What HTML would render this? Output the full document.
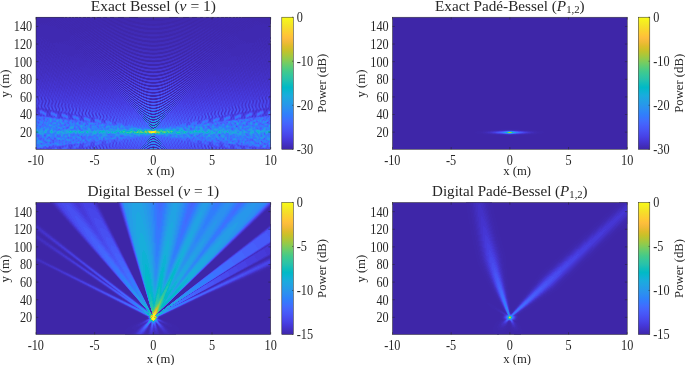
<!DOCTYPE html>
<html><head><meta charset="utf-8"><title>Bessel beam patterns</title>
<style>html,body{margin:0;padding:0;background:#fff}svg{display:block;will-change:transform}text{font-family:"Liberation Serif",serif;fill:#262626}</style>
</head><body>
<svg width="685" height="365" viewBox="0 0 685 365">
<defs><linearGradient id="cb" x1="0" y1="0" x2="0" y2="1"><stop offset="0.0000" stop-color="#f9fb15"/><stop offset="0.0312" stop-color="#f6ef20"/><stop offset="0.0625" stop-color="#f5e327"/><stop offset="0.0938" stop-color="#f9d62d"/><stop offset="0.1250" stop-color="#feca33"/><stop offset="0.1562" stop-color="#febe3c"/><stop offset="0.1875" stop-color="#f1ba37"/><stop offset="0.2188" stop-color="#debc2a"/><stop offset="0.2500" stop-color="#c8c129"/><stop offset="0.2812" stop-color="#afc637"/><stop offset="0.3125" stop-color="#94ca4a"/><stop offset="0.3438" stop-color="#77cc60"/><stop offset="0.3750" stop-color="#5ccc76"/><stop offset="0.4062" stop-color="#44ca8a"/><stop offset="0.4375" stop-color="#34c79c"/><stop offset="0.4688" stop-color="#28c2ab"/><stop offset="0.5000" stop-color="#12beb9"/><stop offset="0.5312" stop-color="#01b9c6"/><stop offset="0.5625" stop-color="#0cb3d3"/><stop offset="0.5938" stop-color="#1aacdd"/><stop offset="0.6250" stop-color="#21a3e3"/><stop offset="0.6562" stop-color="#269ae9"/><stop offset="0.6875" stop-color="#2c90f0"/><stop offset="0.7188" stop-color="#2e85f8"/><stop offset="0.7500" stop-color="#347afd"/><stop offset="0.7812" stop-color="#3f6efe"/><stop offset="0.8125" stop-color="#4562fc"/><stop offset="0.8438" stop-color="#4757f7"/><stop offset="0.8750" stop-color="#484cef"/><stop offset="0.9062" stop-color="#4741e5"/><stop offset="0.9375" stop-color="#4536d5"/><stop offset="0.9688" stop-color="#422ebf"/><stop offset="1.0000" stop-color="#3e26a8"/></linearGradient></defs>
<rect width="685" height="365" fill="#fff"/>
<clipPath id="c0"><rect x="0.00" y="0.20" width="234.70" height="132.10"/></clipPath>
<g transform="translate(36 17)" clip-path="url(#c0)">
<rect width="236" height="133" fill="#3f29b1"/>
<g transform="translate(0 .5)" stroke-width="1" fill="none" shape-rendering="crispEdges">
<path stroke="#3e26a8" d="M0 0m113 40h9m-18 2h1m24 0h2m-24 1h4m13 0h3m-14 1h8m-19 1h1m28 0h2m-28 1h2m20 0h3m-32 1h1m9 0h7m5 0h6m10 0h1m-37 1h2m31 0h2m-40 1h1m7 0h2m25 0h2m-35 1h1m8 0h4m15 0h4m8 0h1m-39 1h2m9 0h15m9 0h2m-42 1h1m6 0h3m27 0h2m6 0h1m-44 1h2m6 0h3m21 0h3m6 0h1m-40 1h2m7 0h5m10 0h5m8 0h1m-42 1h1m5 0h3m9 0h10m10 0h2m6 0h1m-45 1h1m6 0h3m23 0h3m5 0h2m4 0h1m-52 1h1m5 0h1m7 0h3m16 0h4m6 0h2m4 0h1m-48 1h1m5 0h2m7 0h16m8 0h2m5 0h1m-50 1h1m4 0h1m5 0h2m26 0h3m5 0h1m4 0h1m-52 1h1m4 0h2m6 0h3m19 0h3m6 0h1m4 0h1m-48 1h1m4 0h2m7 0h5m9 0h5m6 0h2m4 0h2m3 0h1m-54 1h1m4 0h1m5 0h2m8 0h11m8 0h2m5 0h1m-46 1h1m3 0h2m5 0h3m21 0h3m5 0h1m4 0h1m3 0h1m-56 1h1m3 0h1m4 0h2m6 0h3m14 0h4m6 0h1m4 0h1m-48 1h1m3 0h1m4 0h2m7 0h15m6 0h2m4 0h2m3 0h1m-50 1h1m4 0h1m4 0h3m23 0h2m5 0h1m4 0h1m-51 1h1m3 0h1m3 0h2m5 0h3m17 0h3m5 0h1m4 0h1m3 0h1m-52 1h1m3 0h1m4 0h2m6 0h5m7 0h5m6 0h1m4 0h1m-44 1h1m3 0h1m4 0h2m9 0h7m8 0h2m4 0h2m3 0h1m-46 1h1m4 0h1m5 0h2m19 0h2m5 0h1m3 0h1m3 0h1m-50 1h1m3 0h1m3 0h2m5 0h4m11 0h3m6 0h1m4 0h1m3 0h1m-48 1h1m3 0h2m3 0h2m7 0h11m6 0h2m4 0h1m3 0h1m-44 1h1m3 0h1m4 0h3m19 0h2m4 0h2m3 0h1m-45 1h1m2 0h1m4 0h1m5 0h3m13 0h3m5 0h1m3 0h1m3 0h1m-46 1h1m3 0h1m3 0h2m6 0h13m5 0h2m4 0h1m-36 1h2m3 0h3m19 0h2m4 0h1m3 0h1m-40 1h1m3 0h1m5 0h2m14 0h3m4 0h2m3 0h1m2 0h1m-44 1h1m3 0h1m3 0h1m6 0h5m3 0h5m5 0h2m3 0h1m3 0h1m-42 1h1m3 0h1m4 0h2m8 0h3m8 0h2m4 0h1m2 0h1m-38 1h1m3 0h1m4 0h2m14 0h3m4 0h1m3 0h1m2 0h1m-42 1h1m2 0h1m3 0h2m4 0h4m6 0h4m5 0h1m3 0h1m3 0h1m-40 1h1m3 0h1m3 0h2m7 0h5m7 0h2m3 0h1m-33 1h1m2 0h1m4 0h2m14 0h3m3 0h1m3 0h1m-37 1h1m2 0h1m3 0h1m5 0h3m7 0h3m4 0h2m3 0h1m-31 1h1m3 0h1m6 0h7m6 0h1m3 0h1m-31 1h1m2 0h1m4 0h1m14 0h2m4 0h1m2 0h1m-32 1h1m3 0h1m4 0h3m7 0h3m4 0h1m3 0h1m-30 1h1m3 0h2m5 0h7m5 0h1m3 0h1m-29 1h1m2 0h1m3 0h2m13 0h2m3 0h1m2 0h1m-30 1h1m2 0h2m3 0h3m7 0h3m3 0h1m-20 1h1m5 0h6m5 0h2m2 0h1m2 0h1m-30 1h1m2 0h1m3 0h1m12 0h2m3 0h1m2 0h1m-28 1h1m2 0h1m4 0h2m7 0h2m3 0h1m-18 1h1m5 0h5m5 0h1m2 0h1m-22 1h1m2 0h2m11 0h1m3 0h1m-20 1h1m3 0h3m5 0h2m3 0h1m-16 1h1m4 0h4m5 0h1m2 0h1m-20 1h1m2 0h2m9 0h1m3 0h1m-18 1h1m3 0h2m4 0h3m-14 1h1m2 0h1m4 0h3m4 0h1m2 0h1m-18 1h1m2 0h1m8 0h2m-13 1h1m3 0h3m1 0h3m2 0h1m-12 1h1m9 0h1m-10 1h1m6 0h2m-7 1h5m2 0h1m-10 1h1m7 0h1m-8 1h1m4 0h2m-5 1h3m-5 1h1m5 0h1"/>
<path stroke="#3e27aa" d="M0 0m62 0h2m4 0h2m5 0h2m6 0h4m7 0h6m34 0h7m7 0h4m5 0h3m5 0h2m4 0h1m-108 1h1m5 0h2m5 0h2m6 0h4m9 0h7m24 0h8m9 0h3m6 0h3m5 0h2m4 0h2m-105 1h1m5 0h2m5 0h3m6 0h4m10 0h31m10 0h4m6 0h3m5 0h2m5 0h1m-102 1h2m4 0h3m5 0h3m7 0h4m13 0h19m13 0h4m7 0h3m5 0h2m5 0h2m-99 1h1m5 0h2m6 0h3m7 0h6m37 0h5m8 0h3m5 0h2m5 0h2m-95 1h1m5 0h2m6 0h4m8 0h6m28 0h7m8 0h3m6 0h3m5 0h1m-92 1h2m5 0h3m6 0h3m10 0h9m15 0h9m9 0h4m6 0h3m5 0h1m-94 1h1m5 0h2m5 0h3m6 0h4m11 0h24m11 0h4m7 0h3m5 0h2m-91 1h1m5 0h2m5 0h3m7 0h5m18 0h3m18 0h5m7 0h2m6 0h2m5 0h1m-94 1h2m5 0h2m5 0h3m8 0h6m31 0h6m7 0h3m6 0h2m5 0h1m-90 1h1m6 0h2m6 0h3m9 0h7m21 0h7m9 0h3m6 0h2m5 0h2m-87 1h1m6 0h2m6 0h4m10 0h27m10 0h3m7 0h2m5 0h2m-83 1h1m6 0h2m7 0h4m14 0h13m14 0h4m7 0h2m6 0h1m-80 1h2m6 0h2m8 0h5m33 0h5m7 0h3m6 0h1m-82 1h1m5 0h2m6 0h3m8 0h6m24 0h6m9 0h3m6 0h2m-79 1h1m5 0h2m6 0h4m9 0h11m7 0h10m10 0h3m6 0h3m5 0h1m-82 1h2m5 0h2m7 0h4m12 0h17m12 0h4m6 0h3m5 0h1m-78 1h2m5 0h3m7 0h4m34 0h5m7 0h2m6 0h2m-75 1h2m5 0h3m8 0h6m25 0h6m8 0h2m6 0h2m-71 1h2m6 0h3m9 0h8m13 0h8m9 0h3m6 0h2m-74 1h1m6 0h2m6 0h4m11 0h19m11 0h3m7 0h2m5 0h1m-76 1h1m6 0h2m7 0h4m35 0h4m7 0h2m5 0h2m-73 1h1m6 0h2m8 0h5m27 0h5m7 0h3m5 0h2m-69 1h1m6 0h3m9 0h7m15 0h7m9 0h2m6 0h2m-65 1h1m7 0h3m11 0h19m11 0h3m6 0h2m-68 1h1m6 0h2m6 0h4m35 0h3m7 0h2m6 0h1m-71 1h1m6 0h2m7 0h5m27 0h4m8 0h2m6 0h1m-67 1h1m6 0h3m8 0h6m16 0h7m8 0h3m6 0h1m-64 1h2m6 0h3m11 0h19m10 0h3m6 0h2m-66 1h1m5 0h2m7 0h4m33 0h4m6 0h2m6 0h1m-69 1h1m5 0h3m7 0h4m26 0h5m7 0h2m6 0h1m-65 1h1m6 0h2m8 0h7m15 0h6m8 0h3m6 0h1m-62 1h2m6 0h3m10 0h19m10 0h3m6 0h1m5 0h1m-70 1h1m5 0h2m7 0h3m33 0h3m6 0h2m5 0h1m-66 1h1m5 0h3m7 0h4m25 0h4m7 0h2m5 0h2m-63 1h1m6 0h2m8 0h6m14 0h7m8 0h2m5 0h2m-65 1h1m5 0h1m6 0h3m10 0h17m10 0h3m5 0h2m5 0h1m-67 1h1m4 0h2m7 0h3m31 0h3m6 0h2m5 0h1m-64 1h2m4 0h3m6 0h5m23 0h4m7 0h2m5 0h2m-61 1h1m6 0h2m8 0h6m12 0h7m8 0h2m5 0h2m4 0h1m-68 1h1m5 0h1m6 0h3m10 0h3m9 0h3m10 0h3m5 0h2m4 0h1m-64 1h1m5 0h2m6 0h3m29 0h3m6 0h2m5 0h1m-62 1h2m5 0h2m7 0h1m1 0h2m21 0h1m2 0h1m7 0h2m5 0h1m4 0h1m-68 1h1m4 0h2m5 0h2m8 0h1m4 0h2m8 0h3m3 0h2m7 0h3m5 0h1m5 0h1m-65 1h1m4 0h2m5 0h3m10 0h2m8 0h2m11 0h3m5 0h2m4 0h1m-62 1h2m4 0h2m6 0h1m1 0h1m26 0h1m2 0h1m6 0h2m4 0h1m4 0h1m-68 1h1m4 0h1m5 0h2m7 0h1m2 0h1m18 0h1m3 0h1m7 0h2m4 0h2m4 0h1m-65 1h1m4 0h1m5 0h1m1 0h1m15 0h5m6 0h1m8 0h1m1 0h1m4 0h2m4 0h1m-62 1h1m4 0h2m5 0h1m14 0h7m11 0h1m7 0h2m4 0h2m3 0h1m-68 1h1m4 0h1m4 0h1m7 0h1m2 0h1m23 0h1m2 0h1m5 0h2m5 0h1m-60 1h1m3 0h2m4 0h1m1 0h1m6 0h1m18 0h1m11 0h1m6 0h1m4 0h1m-66 1h1m3 0h1m4 0h2m15 0h1m31 0h2m3 0h2m3 0h1m-68 1h1m4 0h1m5 0h1m37 0h1m6 0h1m4 0h1m3 0h1m-64 1h1m3 0h2m15 0h1m19 0h1m10 0h1m4 0h1m4 0h1m-62 1h1m4 0h2m18 0h1m8 0h1m5 0h1m6 0h1m1 0h1m4 0h2m3 0h1m-62 1h1m3 0h1m32 0h1m11 0h1m4 0h1m5 0h1m3 0h1m-64 1h1m3 0h2m55 0h1m-64 1h1m3 0h1m4 0h1m5 0h1m5 0h1m3 0h1m32 0h1m3 0h1m3 0h1m-66 1h1m3 0h1m35 0h1m13 0h1m4 0h2m-59 1h1m7 0h1m8 0h1m32 0h1m9 0h1m-60 1h1m4 0h1m10 0h1m30 0h1m10 0h1m2 0h1m-64 1h1m3 0h1m16 0h1m40 0h1m-65 1h1m2 0h1m13 0h1m35 0h1m4 0h2m2 0h1m-62 1h1m3 0h1m5 1h1m10 0h1m3 0h1m24 0h1m4 0h1m3 0h1m2 0h1m-60 1h1m44 0h1m12 0h1m2 0h1m-64 1h1m2 0h1m7 0h1m42 0h1m3 0h1m1 1h1m-58 1h1m7 0h1m16 0h1m5 0h1m12 0h1m4 0h1m2 0h2m2 0h1m-59 1h1m2 0h1m14 0h1m7 0h1m17 0h1m-33 1h1m5 0h1m20 0h1m12 0h1m-18 1h1m3 0h1m17 0h1m-54 1h1m39 0h1m4 0h1m6 0h1m-52 1h1m48 0h1m-11 1h1m11 0h1m-52 1h1m46 0h1m2 0h1m-50 1h1m3 0h1m-3 1h1m7 0h1m6 0h1m31 0h1m-50 1h1m5 0h1m16 0h3m13 1h1m-19 2h1m-1 1h1m20 0h1m-39 1h1m6 0h1m32 0h1m-28 1h1m25 0h1m-38 1h1m26 0h1m7 0h1m-37 1h1m9 0h1m1 0h1m-12 1h1m27 1h1m5 0h1m-3 2h1m-28 1h1m15 0h1m-1 2h1m-18 1h1m0 1h1m14 2h1m-5 2h1m8 0h1m2 0h1m-7 9h1m-7 2h1m2 0h2m-5 17h1m-2 3h1"/>
<path stroke="#3f28ad" d="M0 0m0 0h28m1 0h2m2 0h2m1 0h2m1 0h3m1 0h2m2 0h3m1 0h3m2 0h3m2 0h1m2 0h1m2 0h1m2 0h1m3 0h1m2 0h1m4 0h1m4 0h1m5 0h1m6 0h2m31 0h1m7 0h1m5 0h1m4 0h1m3 0h1m3 0h1m3 0h1m5 0h1m1 0h1m3 0h2m3 0h2m2 0h3m1 0h3m1 0h2m2 0h2m1 0h2m1 0h2m1 0h30m-236 1h24m1 0h2m1 0h2m1 0h2m1 0h2m1 0h2m2 0h2m2 0h2m2 0h2m2 0h3m2 0h3m2 0h1m1 0h1m3 0h1m2 0h1m3 0h1m2 0h1m4 0h1m4 0h1m6 0h2m7 0h3m19 0h2m8 0h1m7 0h1m3 0h1m4 0h1m3 0h1m3 0h1m2 0h1m5 0h1m2 0h3m2 0h3m2 0h2m2 0h2m2 0h2m1 0h3m1 0h2m1 0h2m1 0h2m1 0h2m1 0h25m-236 1h20m1 0h1m1 0h2m1 0h2m1 0h2m1 0h2m1 0h2m1 0h2m2 0h2m2 0h2m2 0h2m2 0h3m2 0h3m3 0h1m1 0h1m3 0h1m6 0h1m8 0h1m4 0h1m7 0h2m31 0h1m8 0h1m4 0h1m4 0h1m3 0h1m3 0h1m2 0h1m3 0h1m1 0h1m3 0h2m3 0h2m2 0h3m2 0h2m2 0h2m1 0h2m2 0h2m1 0h2m1 0h2m1 0h2m1 0h1m1 0h2m1 0h21m-236 1h16m1 0h4m1 0h1m2 0h1m1 0h2m1 0h2m1 0h2m1 0h2m2 0h2m1 0h2m2 0h2m2 0h3m2 0h2m3 0h3m2 0h1m2 0h1m10 0h1m3 0h1m5 0h1m4 0h1m10 0h2m19 0h2m9 0h2m4 0h1m5 0h1m3 0h1m3 0h1m2 0h1m3 0h1m5 0h3m2 0h3m2 0h2m2 0h2m2 0h2m2 0h2m1 0h2m2 0h1m2 0h2m1 0h1m2 0h1m1 0h2m1 0h1m1 0h20m-236 1h15m1 0h1m1 0h2m1 0h1m1 0h2m1 0h1m2 0h1m1 0h2m1 0h2m2 0h2m1 0h2m2 0h2m2 0h2m2 0h2m2 0h3m2 0h3m3 0h1m1 0h1m3 0h1m2 0h1m4 0h1m3 0h1m5 0h1m6 0h1m35 0h1m5 0h1m6 0h1m7 0h1m2 0h1m3 0h1m2 0h1m2 0h3m3 0h2m3 0h2m2 0h2m2 0h2m2 0h2m1 0h2m2 0h1m2 0h1m2 0h1m1 0h2m1 0h2m1 0h1m1 0h4m1 0h1m1 0h14m-236 1h12m1 0h1m1 0h1m1 0h1m1 0h2m1 0h1m1 0h2m1 0h1m2 0h1m2 0h1m2 0h1m2 0h2m1 0h2m2 0h2m2 0h2m2 0h3m2 0h2m3 0h3m3 0h1m1 0h1m3 0h1m2 0h1m4 0h1m4 0h1m6 0h1m6 0h2m25 0h1m7 0h1m6 0h1m3 0h1m4 0h1m7 0h1m1 0h1m3 0h3m2 0h3m2 0h2m3 0h2m2 0h2m1 0h2m2 0h2m1 0h2m1 0h2m1 0h2m1 0h2m1 0h1m2 0h1m1 0h1m1 0h2m1 0h1m1 0h1m1 0h1m1 0h11m-236 1h5m1 0h1m1 0h1m1 0h1m1 0h1m1 0h1m1 0h1m1 0h1m2 0h1m1 0h1m2 0h1m1 0h2m1 0h1m2 0h1m2 0h2m1 0h2m2 0h2m1 0h2m2 0h3m2 0h2m2 0h3m3 0h2m3 0h1m2 0h1m3 0h1m8 0h1m3 0h1m7 0h2m9 0h3m8 0h4m9 0h1m7 0h1m4 0h1m4 0h1m7 0h1m1 0h1m3 0h3m3 0h2m3 0h2m2 0h2m2 0h2m2 0h2m2 0h1m2 0h2m1 0h2m1 0h2m1 0h1m2 0h1m1 0h2m1 0h1m1 0h1m1 0h2m1 0h1m1 0h1m1 0h1m1 0h1m1 0h8m-231 1h1m1 0h1m1 0h1m1 0h1m1 0h1m1 0h1m1 0h1m1 0h2m1 0h1m1 0h2m1 0h1m1 0h2m1 0h2m1 0h2m1 0h2m2 0h1m2 0h2m2 0h2m2 0h2m2 0h2m3 0h2m3 0h1m1 0h1m3 0h1m2 0h1m3 0h1m3 0h1m4 0h1m4 0h1m9 0h1m24 0h2m8 0h1m4 0h1m5 0h1m7 0h1m6 0h3m2 0h3m2 0h3m2 0h2m2 0h2m2 0h2m1 0h2m2 0h1m2 0h2m1 0h1m2 0h1m2 0h1m1 0h1m2 0h1m1 0h1m1 0h1m2 0h1m1 0h1m1 0h1m1 0h1m4 0h1m1 0h1m-221 1h1m1 0h1m1 0h1m1 0h1m2 0h1m1 0h1m1 0h2m1 0h1m2 0h1m1 0h2m1 0h2m2 0h1m2 0h2m1 0h2m2 0h2m2 0h2m3 0h2m2 0h3m3 0h1m1 0h1m3 0h1m2 0h1m3 0h1m3 0h1m5 0h1m5 0h1m12 0h5m3 0h5m12 0h1m5 0h1m5 0h1m2 0h1m4 0h1m2 0h1m3 0h1m1 0h1m3 0h2m3 0h2m2 0h3m2 0h2m2 0h1m2 0h2m2 0h1m2 0h1m2 0h1m2 0h1m1 0h2m1 0h1m2 0h1m1 0h1m1 0h1m1 0h1m-198 1h1m1 0h1m1 0h1m2 0h1m1 0h1m2 0h1m2 0h1m2 0h1m2 0h1m2 0h2m2 0h1m2 0h2m3 0h2m2 0h2m3 0h3m9 0h1m10 0h1m6 0h1m6 0h1m29 0h1m12 0h1m3 0h1m4 0h1m2 0h1m3 0h1m1 0h1m3 0h3m2 0h3m2 0h2m2 0h2m2 0h2m2 0h2m1 0h2m2 0h1m2 0h1m1 0h2m1 0h1m2 0h1m1 0h1m2 0h1m1 0h1m1 0h1m-196 1h1m1 0h1m1 0h1m2 0h1m1 0h2m1 0h1m2 0h1m2 0h1m2 0h2m1 0h2m2 0h2m2 0h2m2 0h2m3 0h2m3 0h2m3 0h1m1 0h1m4 0h1m2 0h1m4 0h1m3 0h1m7 0h1m7 0h2m17 0h2m7 0h1m7 0h1m3 0h1m4 0h1m2 0h1m3 0h1m6 0h2m3 0h2m3 0h2m2 0h2m2 0h2m2 0h1m2 0h2m1 0h2m1 0h2m1 0h2m1 0h1m2 0h1m1 0h1m2 0h1m1 0h1m1 0h1m-194 1h1m1 0h1m2 0h1m1 0h1m2 0h1m1 0h2m1 0h2m1 0h2m1 0h2m2 0h1m2 0h2m2 0h2m2 0h3m2 0h2m3 0h3m3 0h1m1 0h1m4 0h1m2 0h1m4 0h1m4 0h1m8 0h1m27 0h1m8 0h1m3 0h1m5 0h1m2 0h1m6 0h1m3 0h3m2 0h3m2 0h2m3 0h1m3 0h1m2 0h2m2 0h1m2 0h1m2 0h1m2 0h1m2 0h1m2 0h1m1 0h1m4 0h1m-185 1h1m1 0h1m2 0h1m2 0h1m1 0h2m1 0h2m2 0h1m2 0h2m2 0h1m3 0h2m2 0h2m3 0h2m3 0h2m4 0h1m1 0h1m4 0h1m2 0h1m5 0h1m4 0h1m11 0h2m13 0h2m11 0h1m4 0h1m5 0h1m2 0h1m4 0h1m1 0h1m3 0h3m3 0h2m3 0h2m2 0h2m2 0h2m2 0h2m2 0h1m2 0h1m2 0h1m2 0h1m2 0h1m1 0h1m2 0h1m1 0h1m26 0h1m-207 1h1m4 0h1m2 0h1m2 0h1m2 0h1m2 0h1m2 0h2m2 0h2m2 0h2m2 0h2m3 0h2m3 0h3m6 0h1m4 0h1m2 0h1m6 0h1m5 0h1m31 0h1m5 0h1m5 0h1m3 0h1m4 0h1m1 0h1m4 0h2m3 0h3m2 0h2m3 0h2m2 0h2m2 0h1m2 0h2m2 0h1m2 0h1m2 0h1m2 0h1m1 0h1m2 0h1m1 0h1m-207 1h1m28 0h1m2 0h1m1 0h1m2 0h1m2 0h1m2 0h1m2 0h2m2 0h1m2 0h2m2 0h2m3 0h2m3 0h2m3 0h1m1 0h1m3 0h1m2 0h1m4 0h1m3 0h1m6 0h1m6 0h2m21 0h1m6 0h1m7 0h1m8 0h1m6 0h3m3 0h2m3 0h2m2 0h2m3 0h1m2 0h2m2 0h1m2 0h2m2 0h1m1 0h2m1 0h1m2 0h1m31 0h1m-233 1h1m32 0h1m2 0h1m1 0h1m2 0h1m2 0h2m2 0h1m2 0h2m2 0h1m3 0h2m2 0h2m3 0h3m3 0h1m1 0h1m3 0h1m2 0h1m9 0h1m7 0h1m11 0h7m10 0h2m7 0h1m3 0h1m12 0h1m1 0h1m3 0h2m3 0h2m3 0h2m2 0h2m2 0h2m2 0h1m2 0h1m2 0h2m1 0h1m2 0h1m2 0h1m-166 1h1m2 0h1m2 0h1m1 0h2m2 0h1m2 0h1m2 0h2m2 0h2m2 0h2m3 0h2m3 0h2m10 0h1m2 0h1m5 0h1m4 0h1m9 0h2m17 0h1m10 0h1m17 0h1m1 0h1m3 0h3m3 0h2m3 0h1m3 0h2m2 0h1m2 0h2m2 0h1m2 0h1m2 0h1m2 0h1m4 0h1m-166 1h1m2 0h1m2 0h1m2 0h1m2 0h1m2 0h2m2 0h1m2 0h2m3 0h2m2 0h2m3 0h3m3 0h1m16 0h1m4 0h1m32 0h1m5 0h1m5 0h1m2 0h1m4 0h1m6 0h2m3 0h2m3 0h2m2 0h2m2 0h2m2 0h2m2 0h1m2 0h1m2 0h1m2 0h1m-156 1h1m2 0h1m2 0h1m2 0h1m2 0h2m2 0h2m2 0h2m2 0h2m3 0h2m3 0h3m3 0h1m10 0h1m6 0h1m6 0h1m23 0h1m6 0h1m6 0h1m2 0h1m4 0h1m6 0h3m3 0h2m3 0h2m2 0h2m2 0h2m2 0h1m2 0h2m2 0h1m2 0h1m4 0h1m-156 1h1m2 0h1m2 0h1m2 0h2m2 0h1m2 0h2m2 0h2m3 0h2m2 0h3m3 0h2m4 0h1m7 0h1m3 0h1m7 0h1m8 0h3m7 0h3m8 0h1m7 0h1m3 0h1m4 0h1m2 0h1m3 0h3m3 0h2m3 0h2m3 0h1m3 0h1m3 0h1m2 0h1m2 0h1m2 0h1m2 0h1m2 0h1m-156 1h1m2 0h1m1 0h1m2 0h2m2 0h1m2 0h1m3 0h1m3 0h1m3 0h2m3 0h2m5 0h1m4 0h1m2 0h1m9 0h1m9 0h1m19 0h1m9 0h1m3 0h1m5 0h1m2 0h1m3 0h1m1 0h1m3 0h3m3 0h2m2 0h2m2 0h2m2 0h2m2 0h1m2 0h1m2 0h1m2 0h1m-148 1h1m2 0h1m2 0h1m2 0h1m2 0h2m2 0h2m2 0h2m3 0h2m3 0h2m3 0h1m1 0h1m4 0h1m2 0h1m5 0h1m4 0h1m33 0h1m10 0h1m2 0h1m10 0h2m3 0h2m3 0h2m2 0h2m2 0h1m2 0h2m2 0h1m2 0h1m2 0h1m44 0h1m-191 1h1m2 0h1m2 0h1m2 0h1m3 0h1m2 0h2m3 0h1m3 0h2m3 0h3m3 0h1m1 0h1m4 0h1m2 0h1m6 0h1m5 0h1m25 0h1m22 0h1m3 0h3m3 0h2m2 0h2m3 0h1m3 0h1m2 0h1m3 0h1m2 0h1m2 0h1m-144 1h1m2 0h1m2 0h1m3 0h1m2 0h1m3 0h1m3 0h2m3 0h2m3 0h2m4 0h1m1 0h1m8 0h1m7 0h1m7 0h2m11 0h2m7 0h1m7 0h1m2 0h1m7 0h1m3 0h3m3 0h2m3 0h2m2 0h2m2 0h2m2 0h1m2 0h1m51 0h1m-180 1h1m2 0h1m2 0h2m2 0h2m2 0h2m3 0h2m4 0h2m4 0h1m1 0h1m5 0h1m3 0h1m8 0h2m19 0h1m9 0h1m3 0h1m7 0h1m4 0h2m3 0h3m2 0h2m3 0h1m3 0h1m3 0h1m2 0h1m2 0h1m2 0h1m-138 1h1m2 0h1m2 0h1m2 0h1m3 0h1m3 0h1m3 0h2m3 0h2m3 0h1m1 0h1m4 0h1m12 0h1m15 0h3m15 0h1m3 0h1m5 0h1m2 0h1m4 0h1m5 0h2m3 0h2m2 0h2m3 0h1m2 0h2m2 0h1m2 0h1m2 0h1m-136 1h1m2 0h1m2 0h1m2 0h2m2 0h2m2 0h2m2 0h2m3 0h3m3 0h1m1 0h1m4 0h1m2 0h1m11 0h1m25 0h1m4 0h1m6 0h1m2 0h1m4 0h1m1 0h1m3 0h2m3 0h2m3 0h2m2 0h2m2 0h1m2 0h2m2 0h1m-131 1h1m2 0h1m2 0h2m2 0h1m2 0h2m2 0h2m3 0h2m3 0h2m4 0h1m1 0h1m4 0h1m10 0h1m6 0h2m13 0h1m7 0h1m15 0h1m1 0h1m3 0h3m3 0h2m3 0h1m3 0h1m3 0h1m2 0h1m-118 1h1m2 0h1m3 0h1m3 0h2m2 0h2m4 0h2m6 0h1m8 0h1m9 0h1m19 0h1m12 0h1m7 0h1m4 0h2m3 0h2m3 0h2m2 0h2m2 0h2m2 0h1m2 0h1m2 0h1m-125 1h1m2 0h1m2 0h2m2 0h2m2 0h2m3 0h2m3 0h1m1 0h1m6 0h1m5 0h1m18 0h5m13 0h1m12 0h1m4 0h1m5 0h2m3 0h1m3 0h1m3 0h1m3 0h1m2 0h1m2 0h1m-126 1h1m2 0h1m2 0h1m3 0h1m3 0h1m3 0h2m3 0h2m3 0h1m1 0h1m13 0h1m4 0h1m36 0h1m2 0h1m4 0h1m1 0h1m3 0h2m3 0h2m3 0h1m3 0h1m2 0h1m3 0h1m-121 1h1m2 0h1m3 0h1m2 0h2m2 0h2m2 0h2m3 0h2m4 0h1m1 0h1m4 0h1m2 0h1m14 0h1m13 0h1m6 0h1m10 0h1m4 0h1m1 0h1m3 0h2m4 0h1m3 0h2m2 0h2m2 0h1m2 0h1m-114 1h1m2 0h1m3 0h1m2 0h2m3 0h2m3 0h2m6 0h1m8 0h1m8 0h1m19 0h1m8 0h1m8 0h1m1 0h1m5 0h1m3 0h2m3 0h1m3 0h1m3 0h1m2 0h1m2 0h1m-118 1h1m2 0h1m2 0h1m3 0h1m3 0h2m2 0h2m5 0h1m6 0h1m5 0h1m3 0h1m14 0h2m15 0h1m3 0h1m7 0h1m5 0h1m3 0h2m3 0h2m2 0h2m2 0h1m3 0h1m2 0h1m-116 1h1m2 0h1m3 0h1m2 0h2m2 0h2m3 0h2m3 0h1m1 0h1m13 0h1m4 0h1m23 0h1m4 0h1m8 0h1m10 0h2m3 0h1m3 0h1m3 0h1m2 0h1m3 0h1m-114 1h1m3 0h1m2 0h1m3 0h1m3 0h2m3 0h2m3 0h1m1 0h1m4 0h1m2 0h1m6 0h1m6 0h2m11 0h1m14 0h1m2 0h1m10 0h2m3 0h2m3 0h1m3 0h1m2 0h1m-104 1h1m2 0h2m2 0h2m2 0h2m3 0h1m5 0h1m1 0h1m17 0h1m17 0h1m8 0h1m10 0h1m3 0h1m5 0h1m3 0h2m2 0h1m3 0h1m2 0h1m-108 1h1m2 0h1m3 0h1m3 0h1m3 0h2m3 0h1m7 0h1m5 0h1m33 0h1m3 0h1m7 0h1m5 0h1m3 0h2m3 0h1m3 0h1m3 0h1m2 0h1m-106 1h1m2 0h2m2 0h1m3 0h2m2 0h2m46 0h1m4 0h1m8 0h1m9 0h2m3 0h2m2 0h2m2 0h1m-96 1h1m2 0h2m2 0h2m3 0h2m3 0h1m1 0h1m4 0h1m2 0h1m6 0h1m6 0h2m9 0h1m14 0h1m14 0h1m3 0h1m3 0h1m3 0h1m2 0h1m-100 1h1m2 0h1m3 0h1m3 0h2m4 0h1m3 0h1m1 0h1m17 0h1m15 0h1m8 0h1m15 0h1m3 0h2m2 0h2m2 0h2m2 0h1m2 0h1m-104 1h1m2 0h1m2 0h2m2 0h2m2 0h2m3 0h1m5 0h1m7 0h1m31 0h1m3 0h1m11 0h1m5 0h1m3 0h1m3 0h1m3 0h1m2 0h1m-102 1h1m2 0h1m3 0h1m3 0h1m3 0h2m9 0h1m8 0h1m24 0h1m4 0h1m5 0h1m6 0h1m1 0h1m4 0h1m3 0h1m3 0h1m2 0h1m-92 1h1m2 0h1m3 0h2m14 0h1m2 0h1m14 0h2m5 0h1m24 0h1m3 0h1m4 0h2m2 0h1m3 0h1m2 0h1m-96 1h1m2 0h1m3 0h1m3 0h1m3 0h1m37 0h1m9 0h1m19 0h1m3 0h1m3 0h1m2 0h1m-97 1h1m2 0h1m2 0h1m3 0h1m3 0h2m16 0h1m3 0h1m34 0h1m7 0h1m4 0h1m2 0h2m2 0h1m3 0h1m-95 1h1m2 0h1m3 0h1m2 0h2m9 0h1m6 0h1m5 0h1m4 0h1m28 0h1m11 0h1m4 0h1m3 0h1m2 0h1m-88 1h1m2 0h1m3 0h1m3 0h1m4 0h1m1 0h1m14 0h1m19 0h1m24 0h2m2 0h2m2 0h1m2 0h1m-92 1h1m2 0h1m2 0h2m2 0h2m4 0h1m5 0h1m7 0h1m10 0h1m7 0h1m20 0h1m12 0h1m3 0h1m2 0h1m-90 1h1m2 0h1m3 0h1m7 0h1m7 0h1m43 0h1m3 0h1m4 0h2m3 0h1m2 0h1m3 0h1m-88 1h1m3 0h1m2 0h2m2 0h1m24 0h1m18 0h1m8 0h1m5 0h1m7 0h1m3 0h1m2 0h1m-84 1h1m2 0h1m8 0h1m9 0h1m26 0h1m7 0h1m21 0h1m2 0h1m2 0h1m-88 1h1m2 0h1m2 0h2m3 0h1m44 0h1m13 0h1m5 0h1m2 0h1m3 0h1m2 0h1m-86 1h1m2 0h1m3 0h1m20 0h1m40 0h1m7 0h1m2 0h1m-76 1h1m2 0h1m4 0h1m24 0h1m33 0h1m2 0h2m2 0h1m2 0h1m-83 1h1m2 0h1m2 0h1m13 0h1m15 0h1m32 0h1m8 0h1m2 0h1m2 0h1m-84 1h1m2 0h1m2 0h2m11 0h1m1 0h1m4 0h1m45 0h1m2 0h1m3 0h1m-76 1h1m16 0h1m55 0h1m-75 1h1m2 0h1m7 0h1m4 0h1m3 0h1m48 0h2m2 0h1m2 0h1m-79 1h1m2 0h1m2 0h1m32 0h3m32 0h1m2 0h1m-74 1h1m2 0h2m51 0h1m4 0h1m2 0h1m-63 1h1m5 0h1m5 0h1m5 0h1m19 0h1m13 0h1m15 0h1m2 0h1m-74 1h1m13 0h1m15 0h1m35 0h1m2 0h1m2 0h1m-72 1h1m9 0h1m42 0h1m1 0h1m10 0h1m-62 1h1m45 0h1m9 0h1m6 0h1m2 0h1m-72 1h1m2 0h1m5 0h1m11 0h1m48 0h1m-70 1h1m47 0h1m3 0h1m12 0h1m-62 1h1m6 0h1m30 0h1m9 0h1m13 0h1m2 0h1m-70 1h1m2 0h1m44 0h1m16 0h1m-65 1h1m36 0h1m22 0h1m2 0h1m-60 1h1m2 0h2m40 0h1m11 0h1m2 0h1m-62 1h1m2 0h1m21 0h1m18 0h1m1 0h1m13 0h1m-60 1h1m57 0h1m-58 1h1m54 0h1m2 0h1m-60 1h1m2 0h1m6 0h1m2 0h1m21 0h1m13 0h1m8 0h1m-58 1h1m6 1h1m43 0h1m2 0h1m-52 1h1m12 1h1m4 0h1m30 0h1m-48 1h1m20 0h1m23 0h1m2 0h1m-50 1h1m2 0h1m5 0h1m38 0h1m-48 1h1m35 0h1m3 0h1m-42 1h1m44 0h1m-45 1h1m36 0h1m-30 2h1m3 0h1m30 0h1m-9 1h1m6 0h1m-32 1h1m-8 1h1m0 1h1m33 1h1m-2 3h1m-19 1h1m16 0h1m-6 2h1m1 0h1m-22 1h1m15 1h1m-11 3h1m-5 2h1m8 16h1m0 3h1m-4 2h3m-5 1h1m5 0h1m-9 1h1m3 1h4m-7 1h1m7 0h1m-11 1h1m3 1h1m3 0h2m-9 1h1m9 0h1m-13 1h1"/>
<path stroke="#402bb6" d="M0 0m87 7h1m9 0h5m31 0h5m9 0h1m-68 1h1m7 0h3m9 0h8m19 0h7m10 0h3m6 0h2m-81 1h2m5 0h3m6 0h4m11 0h25m11 0h3m7 0h2m6 0h1m-90 1h1m5 0h2m5 0h3m7 0h5m14 0h11m14 0h5m6 0h3m6 0h2m4 0h2m-104 1h1m4 0h2m3 0h2m5 0h2m5 0h4m7 0h6m31 0h6m7 0h3m6 0h2m4 0h2m4 0h2m3 0h1m-115 1h1m4 0h1m3 0h2m4 0h2m4 0h3m5 0h4m8 0h8m21 0h8m7 0h4m5 0h3m4 0h3m3 0h2m4 0h1m3 0h2m-122 1h1m3 0h2m3 0h2m3 0h2m4 0h2m4 0h3m6 0h4m9 0h29m8 0h5m5 0h3m5 0h2m4 0h2m3 0h2m3 0h1m3 0h1m3 0h1m-134 1h1m3 0h1m3 0h1m3 0h1m3 0h2m3 0h3m3 0h3m4 0h4m5 0h6m10 0h18m11 0h5m6 0h3m5 0h2m4 0h2m3 0h2m3 0h2m3 0h1m3 0h1m-138 1h1m2 0h1m2 0h2m2 0h1m3 0h1m3 0h2m3 0h2m3 0h2m4 0h3m4 0h4m6 0h6m32 0h7m6 0h3m5 0h3m3 0h3m3 0h2m3 0h2m2 0h2m2 0h2m2 0h1m3 0h1m2 0h1m-152 1h1m2 0h1m2 0h1m2 0h1m3 0h1m2 0h2m2 0h2m3 0h1m3 0h2m4 0h2m4 0h3m5 0h4m6 0h8m23 0h7m7 0h4m5 0h3m4 0h2m3 0h2m3 0h2m3 0h2m2 0h1m3 0h1m2 0h1m3 0h1m2 0h1m-153 1h1m2 0h1m2 0h1m2 0h2m2 0h1m3 0h1m3 0h1m3 0h2m3 0h2m3 0h3m4 0h3m5 0h4m8 0h31m7 0h5m5 0h3m4 0h2m4 0h2m3 0h2m2 0h2m3 0h1m2 0h2m2 0h1m2 0h1m2 0h1m2 0h1m2 0h1m-161 1h1m2 0h1m2 0h1m1 0h2m1 0h2m2 0h1m2 0h2m2 0h2m2 0h2m2 0h2m3 0h3m3 0h3m4 0h3m5 0h6m9 0h5m11 0h5m9 0h5m5 0h4m4 0h3m3 0h2m3 0h2m3 0h2m2 0h2m2 0h2m2 0h1m2 0h1m2 0h1m2 0h1m2 0h1m-161 1h1m1 0h1m2 0h1m2 0h1m2 0h1m2 0h1m2 0h1m2 0h2m2 0h2m2 0h2m3 0h2m3 0h2m4 0h3m4 0h4m5 0h2m2 0h2m33 0h1m3 0h2m5 0h4m4 0h3m3 0h3m3 0h2m2 0h2m3 0h1m3 0h1m2 0h2m2 0h1m2 0h1m2 0h1m2 0h1m1 0h1m2 0h1m-200 1h1m2 0h1m2 0h1m27 0h1m1 0h1m2 0h1m1 0h1m2 0h1m2 0h1m2 0h1m2 0h2m2 0h1m3 0h1m3 0h2m2 0h3m3 0h2m4 0h3m4 0h1m2 0h1m6 0h1m5 0h2m23 0h2m4 0h2m6 0h1m2 0h1m4 0h3m4 0h2m3 0h2m3 0h2m2 0h2m2 0h2m2 0h1m2 0h2m2 0h1m2 0h1m1 0h2m1 0h1m2 0h1m1 0h1m27 0h1m2 0h1m2 0h1m-235 1h1m3 0h1m30 0h1m1 0h1m2 0h1m1 0h2m1 0h1m2 0h1m2 0h2m1 0h2m2 0h2m2 0h2m2 0h2m3 0h2m3 0h1m1 0h1m3 0h1m2 0h1m4 0h1m3 0h1m7 0h1m8 0h3m7 0h3m8 0h1m7 0h1m3 0h1m4 0h1m6 0h1m1 0h1m2 0h3m2 0h3m2 0h2m2 0h2m2 0h1m2 0h2m1 0h2m1 0h2m1 0h1m2 0h1m1 0h1m2 0h1m1 0h1m21 0h1m2 0h1m3 0h1m2 0h2m-234 1h2m2 0h1m2 0h1m2 0h1m22 0h1m1 0h1m1 0h1m2 0h1m2 0h1m1 0h2m1 0h2m1 0h2m2 0h1m2 0h2m2 0h2m3 0h2m2 0h1m1 0h1m5 0h1m3 0h1m2 0h1m9 0h1m8 0h1m20 0h2m8 0h1m3 0h1m14 0h1m8 0h2m2 0h2m3 0h1m2 0h2m2 0h1m2 0h1m2 0h1m2 0h1m2 0h1m1 0h1m2 0h1m1 0h1m1 0h1m20 0h1m2 0h1m2 0h1m2 0h1m-231 1h1m2 0h2m2 0h1m23 0h1m1 0h1m1 0h1m2 0h1m1 0h1m2 0h1m2 0h1m2 0h1m2 0h1m2 0h2m2 0h2m3 0h1m2 0h1m6 0h1m5 0h1m3 0h1m8 0h1m4 0h1m13 0h7m12 0h1m5 0h1m4 0h1m13 0h1m1 0h1m2 0h1m1 0h1m2 0h2m2 0h2m2 0h2m1 0h2m2 0h1m2 0h1m2 0h1m1 0h2m1 0h1m1 0h2m1 0h1m1 0h1m1 0h1m1 0h1m15 0h1m2 0h1m3 0h1m2 0h2m2 0h1m-236 1h1m2 0h2m2 0h1m2 0h1m2 0h1m14 0h1m1 0h1m1 0h1m1 0h1m1 0h1m1 0h1m2 0h1m1 0h2m1 0h1m2 0h1m2 0h1m2 0h2m1 0h2m2 0h1m3 0h1m14 0h1m2 0h1m3 0h1m3 0h1m5 0h1m6 0h1m23 0h1m6 0h1m5 0h1m13 0h1m9 0h1m1 0h1m3 0h1m2 0h1m2 0h2m1 0h2m2 0h1m1 0h2m1 0h1m2 0h1m1 0h1m2 0h1m1 0h1m1 0h1m1 0h1m1 0h1m1 0h1m12 0h1m2 0h1m2 0h1m2 0h1m3 0h2m-235 1h1m2 0h1m2 0h1m1 0h2m1 0h1m7 0h1m2 0h1m1 0h1m1 0h1m1 0h1m1 0h1m1 0h1m1 0h1m1 0h1m1 0h2m1 0h1m1 0h2m1 0h2m1 0h1m2 0h2m1 0h2m5 0h1m5 0h1m4 0h1m2 0h1m5 0h1m2 0h1m14 0h1m9 0h2m9 0h2m15 0h1m11 0h1m5 0h1m2 0h1m1 0h1m6 0h1m3 0h1m6 0h2m1 0h2m1 0h2m1 0h1m2 0h1m1 0h1m1 0h2m1 0h1m1 0h1m1 0h1m1 0h1m1 0h1m1 0h1m2 0h1m6 0h1m1 0h2m1 0h2m1 0h1m1 0h2m2 0h1m-233 1h2m1 0h1m1 0h2m1 0h2m1 0h1m1 0h2m1 0h5m1 0h2m1 0h1m1 0h1m1 0h1m1 0h1m1 0h1m1 0h1m1 0h1m2 0h1m1 0h1m2 0h1m1 0h2m1 0h2m1 0h2m1 0h1m30 0h1m39 0h1m7 0h1m4 0h1m7 0h1m13 0h1m1 0h1m7 0h1m1 0h1m6 0h2m1 0h1m2 0h1m1 0h2m1 0h1m1 0h1m1 0h2m1 0h1m1 0h1m1 0h1m1 0h1m1 0h2m1 0h1m1 0h5m1 0h2m1 0h1m1 0h2m1 0h2m1 0h1m1 0h2m1 0h1m-235 1h1m1 0h2m1 0h3m2 0h2m1 0h2m1 0h13m1 0h1m1 0h1m1 0h1m1 0h1m1 0h2m1 0h1m1 0h2m1 0h1m4 0h1m2 0h1m4 0h1m1 0h1m7 0h1m1 0h1m10 0h1m17 0h1m10 0h3m5 0h2m11 0h1m13 0h1m11 0h1m6 0h1m1 0h1m1 0h1m15 0h2m1 0h1m2 0h1m1 0h1m1 0h1m1 0h2m1 0h1m1 0h15m1 0h2m1 0h2m1 0h3m2 0h2m1 0h3m-236 1h2m1 0h4m1 0h2m1 0h2m1 0h3m2 0h14m1 0h1m1 0h1m1 0h2m1 0h1m1 0h1m1 0h2m18 0h1m3 0h1m12 0h1m2 0h1m12 0h1m6 0h1m23 0h1m11 0h1m3 0h1m14 0h1m13 0h1m4 0h1m2 0h1m2 0h2m1 0h1m1 0h2m1 0h1m1 0h1m1 0h1m1 0h17m2 0h2m1 0h2m2 0h2m1 0h2m1 0h1m1 0h2m-235 1h4m1 0h2m2 0h2m2 0h2m1 0h2m1 0h20m1 0h1m1 0h1m1 0h1m5 0h1m2 0h1m2 0h1m4 0h1m11 0h1m4 0h1m8 0h1m3 0h1m19 0h2m9 0h1m27 0h1m18 0h1m1 0h1m4 0h1m5 0h1m6 0h2m1 0h1m1 0h1m1 0h1m1 0h1m1 0h16m1 0h2m1 0h2m1 0h3m1 0h3m1 0h4m-235 1h1m1 0h3m1 0h3m1 0h2m1 0h2m1 0h24m1 0h1m1 0h1m1 0h2m3 0h1m13 0h1m1 0h1m3 0h1m1 0h1m16 0h1m8 0h1m29 0h1m19 0h1m29 0h1m6 0h1m4 0h2m1 0h1m1 0h1m1 0h1m1 0h23m2 0h1m1 0h2m2 0h3m1 0h2m-236 1h6m1 0h1m2 0h7m1 0h2m1 0h18m1 0h1m1 0h1m3 0h1m7 0h1m2 0h1m18 0h1m35 0h2m7 0h2m9 0h1m5 0h1m46 0h1m3 0h2m1 0h1m1 0h1m1 0h18m1 0h2m1 0h2m1 0h3m1 0h1m1 0h1m1 0h2m1 0h4m-236 1h3m1 0h1m1 0h5m1 0h2m1 0h25m1 0h1m3 0h2m4 0h1m13 0h1m17 0h1m2 0h1m41 0h1m6 0h1m4 0h1m3 0h1m18 0h1m1 0h1m1 0h1m9 0h1m6 0h1m5 0h33m1 0h5m1 0h1m1 0h4m-236 1h2m1 0h3m1 0h1m1 0h1m1 0h31m3 0h2m4 0h1m3 0h1m2 0h1m29 0h1m13 0h1m9 0h2m7 0h1m10 0h1m9 0h1m6 0h1m7 0h1m13 0h1m8 0h1m3 0h1m5 0h34m1 0h1m1 0h1m1 0h7m-236 1h3m1 0h1m1 0h1m1 0h4m1 0h10m1 0h19m1 0h2m5 0h1m12 0h1m25 0h1m3 0h1m4 0h1m6 0h1m21 0h1m18 0h1m5 0h1m6 0h1m12 0h1m2 0h1m7 0h1m6 0h20m1 0h2m1 0h7m1 0h4m1 0h1m3 0h4m-236 1h2m1 0h1m1 0h12m2 0h1m1 0h2m1 0h23m12 0h1m2 0h1m6 0h1m1 0h1m41 0h1m7 0h1m48 0h1m8 0h1m4 0h1m5 0h1m1 0h22m2 0h1m1 0h2m1 0h4m1 0h4m1 0h1m2 0h2m-234 1h3m1 0h5m1 0h2m1 0h1m3 0h2m1 0h1m4 0h17m1 0h1m6 0h1m3 0h1m8 0h1m61 0h1m11 0h1m17 0h1m9 0h1m21 0h1m1 0h1m1 0h1m1 0h11m1 0h1m2 0h1m3 0h2m1 0h1m1 0h1m1 0h2m1 0h4m2 0h3m1 0h2m-236 1h2m1 0h1m3 0h1m1 0h2m1 0h3m3 0h1m2 0h1m1 0h2m1 0h2m1 0h10m1 0h1m1 0h1m1 0h1m1 0h1m13 0h1m7 0h1m17 0h1m27 0h2m3 0h2m10 0h1m9 0h1m20 0h1m20 0h2m1 0h1m1 0h1m1 0h1m1 0h1m1 0h15m1 0h2m1 0h2m1 0h2m2 0h2m2 0h2m1 0h1m1 0h1m3 0h3m-236 1h2m2 0h3m2 0h3m2 0h2m1 0h2m2 0h2m2 0h1m2 0h1m2 0h7m1 0h1m1 0h1m1 0h1m1 0h1m1 0h1m3 0h2m4 0h1m27 0h1m9 0h1m4 0h1m26 0h1m18 0h1m7 0h1m11 0h1m4 0h1m12 0h2m1 0h1m1 0h1m1 0h1m1 0h1m1 0h9m2 0h1m1 0h2m2 0h2m2 0h1m2 0h2m1 0h4m2 0h3m2 0h1m1 0h1m-235 1h2m2 0h2m2 0h1m1 0h2m2 0h1m3 0h2m1 0h2m1 0h2m1 0h2m1 0h2m2 0h1m1 0h1m2 0h1m1 0h1m1 0h1m1 0h1m1 0h1m1 0h1m6 0h1m3 0h1m2 0h1m4 0h1m44 0h2m3 0h2m23 0h1m2 0h1m2 0h1m6 0h1m3 0h1m1 0h1m4 0h1m5 0h1m8 0h1m2 0h1m1 0h1m1 0h1m1 0h2m1 0h1m1 0h1m2 0h1m1 0h2m1 0h2m1 0h2m1 0h2m1 0h2m2 0h2m2 0h2m1 0h1m2 0h1m3 0h2m-232 1h2m2 0h1m1 0h2m2 0h2m2 0h2m1 0h2m1 0h1m2 0h1m1 0h2m1 0h1m2 0h1m4 0h1m1 0h1m2 0h1m1 0h1m1 0h1m1 0h1m1 0h2m8 0h1m5 0h1m4 0h1m3 0h1m6 0h1m42 0h1m11 0h1m3 0h1m35 0h1m3 0h1m1 0h1m1 0h1m3 0h1m1 0h1m1 0h1m6 0h1m2 0h1m1 0h1m2 0h1m2 0h1m1 0h1m2 0h2m2 0h2m2 0h2m1 0h1m2 0h1m2 0h1m-235 1h1m2 0h1m4 0h3m2 0h2m2 0h1m4 0h1m2 0h1m4 0h1m2 0h1m12 0h1m1 0h1m1 0h1m2 0h1m3 0h2m81 0h1m8 0h1m4 0h1m7 0h1m10 0h1m9 0h1m1 0h1m1 0h1m1 0h1m1 0h1m9 0h1m2 0h1m4 0h1m2 0h1m2 0h1m1 0h1m2 0h2m2 0h1m1 0h1m4 0h1m2 0h1m-235 1h1m3 0h2m4 0h2m2 0h1m4 0h1m4 0h1m2 0h1m2 0h1m2 0h1m16 0h1m1 0h1m1 0h1m22 0h1m11 0h1m6 0h1m29 0h1m42 0h1m3 0h1m3 0h2m1 0h1m1 0h1m1 0h1m1 0h1m1 0h1m1 0h1m10 0h1m2 0h1m2 0h1m2 0h1m4 0h1m4 0h1m2 0h2m4 0h1m4 0h1m-233 1h1m2 0h1m5 0h1m3 0h1m5 0h1m2 0h1m2 0h1m3 0h1m2 0h2m13 0h1m1 0h1m1 0h1m1 0h1m1 0h1m4 0h1m3 0h1m4 0h1m57 0h1m9 0h1m26 0h1m2 0h1m9 0h1m1 0h1m1 0h1m1 0h1m1 0h1m11 0h1m2 0h2m2 0h1m3 0h1m2 0h1m4 0h2m3 0h1m5 0h1m2 0h1m2 0h1m-234 1h1m9 0h1m5 0h1m2 0h1m3 0h1m3 0h1m2 0h1m2 0h1m12 0h1m1 0h1m1 0h1m1 0h1m1 0h1m9 0h1m2 0h1m20 0h1m6 0h1m11 0h1m62 0h1m4 0h1m2 0h1m1 0h1m1 0h1m14 0h1m2 0h1m2 0h1m2 0h1m4 0h1m2 0h1m4 0h2m9 0h1m2 0h1m-227 1h1m3 0h1m9 0h1m2 0h1m2 0h1m6 0h1m14 0h1m1 0h1m1 0h1m1 0h1m37 0h1m33 0h1m32 0h1m13 0h1m4 0h1m26 0h1m2 0h1m9 0h1m3 0h1m-222 1h1m15 0h1m2 0h1m7 0h1m2 0h1m19 0h1m1 0h1m2 0h1m3 0h1m11 0h1m7 0h1m1 0h1m8 0h1m14 0h1m45 0h1m12 0h1m8 0h1m22 0h1m2 0h1m7 0h1m2 0h1m15 0h1m-220 1h1m5 0h1m2 0h1m4 0h1m2 0h1m29 0h1m8 0h1m5 0h1m4 0h1m3 0h1m23 0h1m27 0h1m9 0h1m2 0h1m23 0h2m1 0h1m1 0h1m1 0h1m27 0h1m2 0h1m7 0h1m5 0h1m-202 1h1m2 0h1m33 0h1m3 0h2m66 0h1m20 0h1m5 0h1m14 0h1m1 0h1m1 0h1m1 0h1m32 0h1m-194 1h1m2 0h1m12 0h1m2 0h1m19 0h1m1 0h1m1 0h1m38 0h1m4 0h1m53 0h1m6 0h1m3 0h1m2 0h1m1 0h1m1 0h1m20 0h1m15 0h1m-184 1h1m26 0h1m1 0h1m1 0h1m4 0h2m5 0h1m1 0h1m26 0h1m6 0h1m23 0h1m11 0h1m1 0h1m10 0h1m2 0h1m11 0h1m-166 1h1m26 0h1m2 0h1m19 0h1m1 0h1m2 0h1m6 0h1m2 0h1m6 0h1m25 0h1m58 0h1m3 0h1m22 0h1m2 0h1m15 0h1m-180 1h1m55 0h1m9 0h1m15 0h3m19 0h1m15 0h1m1 0h1m13 0h1m-106 1h1m13 0h1m5 0h1m9 0h1m35 0h1m10 0h1m8 0h1m4 0h1m5 0h1m4 0h1m1 0h1m1 0h1m-108 1h1m1 0h1m6 0h1m5 0h1m17 0h1m17 0h1m2 0h2m8 0h1m36 0h1m2 0h1m1 0h1m-106 1h1m1 0h1m20 0h1m1 0h1m76 0h1m1 0h1m-104 1h1m1 0h1m37 0h1m25 0h1m6 0h1m12 0h1m1 0h1m10 0h1m-99 1h1m6 0h2m34 0h1m26 0h1m26 0h1m-94 1h1m14 0h1m21 0h1m26 0h1m25 0h1m3 0h1m-96 1h1m30 0h1m12 0h1m5 0h1m18 0h1m22 0h1m1 0h1m-94 1h1m36 0h1m54 0h1m-92 1h1m1 0h1m45 0h1m41 0h1m-92 1h1m1 0h1m2 0h1m11 0h1m8 0h1m32 0h1m-4 1h1m23 0h1m7 0h1m-84 1h1m7 0h1m38 0h1m36 0h1m-7 1h1m2 0h1m1 0h1m-84 1h1m17 0h1m21 0h3m26 0h1m4 0h1m5 0h1m1 0h1m-82 1h1m1 0h1m8 0h1m16 0h1m48 0h1m-77 1h1m37 0h3m-20 1h1m49 0h1m4 0h1m-74 1h1m4 0h1m9 0h1m32 0h1m23 0h1m-72 1h1m69 0h1m-68 1h1m-2 1h1m41 0h1m-20 1h1m-3 1h1m25 0h1m2 0h1m14 0h1m-60 1h1m38 0h1m4 0h1m13 0h1m-62 1h1m19 0h1m27 0h1m11 0h1m-60 1h1m1 0h1m33 0h1m-36 1h1m8 0h1m6 0h1m9 2h1m24 0h1m-46 1h1m47 0h1m-52 1h1m0 1h1m1 0h1m18 0h1m-5 3h1m9 0h1m14 0h1m-39 2h1m0 1h1m1 0h1m19 0h1m-10 2h1m-1 1h1m2 0h1m15 0h1m-26 1h1m-4 1h1m0 1h1m18 0h1m-16 5h1m6 19h1m-3 4h1m2 0h1m6 0h1m-12 3h1m2 0h1m-7 2h1m1 1h1m6 0h1m3 1h1m1 1h1m3 0h1"/>
<path stroke="#412dbb" d="M0 0m112 18h11m-26 1h2m36 0h3m-49 1h2m8 0h5m27 0h4m9 0h2m-69 1h1m5 0h2m6 0h3m9 0h8m13 0h8m9 0h3m6 0h2m5 0h1m-85 1h1m4 0h2m5 0h2m6 0h4m10 0h20m11 0h3m6 0h3m4 0h2m4 0h2m-97 1h1m4 0h1m3 0h2m4 0h2m5 0h3m6 0h4m34 0h5m6 0h3m4 0h3m4 0h1m4 0h1m-102 1h1m3 0h1m3 0h2m3 0h2m4 0h2m5 0h3m7 0h6m25 0h6m7 0h3m4 0h3m4 0h2m3 0h2m3 0h1m3 0h1m-112 1h1m3 0h1m3 0h1m3 0h2m4 0h2m4 0h2m5 0h4m7 0h9m13 0h9m7 0h4m4 0h3m4 0h2m4 0h1m3 0h2m3 0h1m3 0h1m2 0h1m-120 1h1m2 0h2m2 0h2m2 0h2m3 0h2m3 0h3m3 0h3m5 0h5m8 0h22m9 0h4m5 0h3m4 0h3m3 0h2m3 0h1m3 0h2m2 0h1m3 0h1m2 0h1m-130 1h1m2 0h1m2 0h1m2 0h1m3 0h1m2 0h2m3 0h1m3 0h3m3 0h2m4 0h4m5 0h5m14 0h5m14 0h5m5 0h3m4 0h3m3 0h2m3 0h2m3 0h1m3 0h1m2 0h2m2 0h1m2 0h1m2 0h1m-137 1h1m2 0h1m2 0h1m2 0h1m2 0h2m2 0h1m3 0h1m3 0h2m3 0h2m4 0h2m4 0h4m6 0h2m2 0h2m25 0h2m2 0h2m6 0h3m4 0h3m3 0h3m3 0h2m2 0h2m2 0h2m2 0h1m2 0h2m2 0h1m2 0h1m-137 1h1m1 0h1m2 0h1m2 0h1m2 0h2m2 0h1m2 0h2m2 0h2m3 0h2m3 0h2m3 0h3m5 0h1m2 0h1m6 0h1m6 0h2m12 0h3m5 0h2m6 0h1m2 0h1m4 0h3m4 0h2m3 0h2m3 0h2m2 0h1m3 0h1m2 0h1m2 0h2m1 0h1m2 0h1m2 0h1m-140 1h1m2 0h1m1 0h2m1 0h2m1 0h2m2 0h1m3 0h1m3 0h1m3 0h2m3 0h1m1 0h1m3 0h1m7 0h1m11 0h2m19 0h1m8 0h1m3 0h1m4 0h1m6 0h3m2 0h3m2 0h2m2 0h2m2 0h2m2 0h1m2 0h1m2 0h1m2 0h1m2 0h1m1 0h1m34 0h1m-216 1h1m35 0h1m2 0h1m1 0h1m2 0h1m2 0h1m2 0h1m2 0h1m2 0h2m2 0h2m2 0h2m4 0h1m5 0h1m3 0h1m2 0h1m4 0h1m4 0h1m12 0h7m12 0h1m9 0h1m2 0h1m3 0h1m1 0h1m4 0h1m3 0h2m2 0h2m2 0h2m1 0h2m2 0h1m2 0h1m2 0h1m1 0h1m2 0h1m38 0h1m-222 1h1m37 0h1m4 0h1m1 0h1m2 0h1m2 0h1m2 0h1m2 0h2m2 0h1m2 0h2m2 0h1m1 0h1m2 0h1m1 0h1m9 0h1m2 0h1m5 0h1m5 0h1m23 0h1m18 0h1m5 0h1m1 0h1m2 0h1m4 0h1m3 0h1m2 0h2m1 0h2m2 0h1m1 0h2m1 0h1m2 0h1m1 0h1m40 0h1m-228 1h1m3 0h1m3 0h1m31 0h1m1 0h1m2 0h1m1 0h1m2 0h1m1 0h1m2 0h1m2 0h2m1 0h2m3 0h1m3 0h1m12 0h1m6 0h1m3 0h1m14 0h1m10 0h2m14 0h1m7 0h1m5 0h1m6 0h1m6 0h2m2 0h1m2 0h2m1 0h2m1 0h1m2 0h1m2 0h1m1 0h1m1 0h1m34 0h1m3 0h1m-226 1h1m3 0h1m4 0h1m10 0h1m19 0h1m2 0h1m1 0h1m1 0h1m2 0h1m1 0h2m1 0h2m1 0h2m13 0h1m1 0h1m2 0h1m5 0h1m39 0h1m7 0h1m8 0h1m17 0h1m3 0h1m1 0h1m3 0h1m2 0h1m2 0h1m2 0h1m1 0h1m2 0h1m1 0h1m1 0h1m20 0h1m2 0h1m7 0h1m4 0h1m2 0h2m-228 1h1m12 0h1m2 0h1m2 0h1m23 0h1m1 0h1m1 0h2m1 0h1m2 0h1m9 0h1m5 0h1m1 0h1m16 0h1m4 0h1m4 0h1m11 0h7m11 0h1m4 0h1m7 0h1m5 0h1m2 0h1m8 0h1m13 0h1m2 0h1m1 0h1m2 0h1m1 0h1m1 0h1m1 0h1m22 0h1m2 0h1m2 0h1m4 0h1m4 0h1m2 0h1m-234 1h2m3 0h1m5 0h1m2 0h1m2 0h2m2 0h1m2 0h2m18 0h1m1 0h1m1 0h1m1 0h1m2 0h1m1 0h1m23 0h1m7 0h1m18 0h1m21 0h1m5 0h1m8 0h1m28 0h1m2 0h1m2 0h2m1 0h1m1 0h2m1 0h1m1 0h1m1 0h1m1 0h1m1 0h1m11 0h1m2 0h1m2 0h2m2 0h1m3 0h1m2 0h1m4 0h2m3 0h1m-232 1h1m2 0h2m1 0h1m2 0h1m3 0h2m2 0h1m2 0h1m2 0h1m2 0h1m10 0h1m1 0h1m1 0h1m1 0h1m1 0h1m1 0h1m1 0h2m3 0h2m5 0h1m12 0h1m1 0h1m4 0h1m5 0h1m3 0h1m3 0h1m5 0h1m9 0h1m7 0h1m31 0h1m6 0h1m3 0h1m4 0h1m2 0h1m2 0h1m4 0h1m1 0h1m2 0h1m1 0h1m1 0h1m1 0h1m1 0h1m15 0h1m2 0h1m2 0h1m2 0h2m2 0h2m2 0h1m1 0h1m2 0h2m-231 1h2m3 0h2m3 0h2m5 0h2m2 0h2m1 0h2m1 0h2m7 0h1m1 0h1m1 0h1m1 0h1m1 0h1m1 0h1m1 0h1m2 0h1m6 0h1m5 0h1m21 0h1m2 0h1m15 0h1m26 0h1m14 0h1m28 0h2m3 0h1m2 0h1m1 0h1m1 0h1m1 0h1m1 0h1m9 0h2m1 0h1m2 0h2m2 0h2m1 0h2m2 0h1m4 0h2m3 0h2m1 0h1m-235 1h1m2 0h2m2 0h2m1 0h1m2 0h2m1 0h3m2 0h1m2 0h1m2 0h1m2 0h1m2 0h2m1 0h1m1 0h2m1 0h1m1 0h1m1 0h1m1 0h1m1 0h1m1 0h2m26 0h1m4 0h1m18 0h1m12 0h3m17 0h1m22 0h1m18 0h1m3 0h1m1 0h2m1 0h1m1 0h1m1 0h1m2 0h1m1 0h1m1 0h2m1 0h1m2 0h1m2 0h1m2 0h1m2 0h1m2 0h2m2 0h2m2 0h1m1 0h2m1 0h3m2 0h2m-236 1h2m2 0h2m1 0h1m2 0h2m2 0h2m2 0h1m2 0h1m1 0h2m1 0h1m2 0h1m1 0h2m1 0h4m1 0h1m1 0h2m1 0h1m1 0h1m1 0h1m1 0h1m6 0h1m16 0h1m32 0h1m57 0h1m4 0h1m12 0h1m1 0h1m1 0h3m1 0h1m1 0h1m1 0h6m1 0h2m1 0h1m1 0h2m1 0h2m1 0h1m1 0h2m2 0h2m2 0h2m2 0h1m1 0h2m1 0h2m1 0h1m-235 1h2m1 0h4m3 0h2m3 0h1m1 0h4m1 0h2m1 0h4m1 0h2m1 0h12m1 0h1m1 0h1m1 0h2m12 0h1m4 0h1m11 0h1m11 0h1m3 0h1m17 0h3m11 0h1m36 0h1m10 0h1m5 0h1m1 0h1m1 0h1m1 0h1m1 0h9m1 0h2m1 0h4m1 0h2m1 0h2m1 0h1m1 0h1m4 0h1m1 0h1m1 0h4m1 0h2m1 0h1m-235 1h3m2 0h4m3 0h1m1 0h4m1 0h4m1 0h2m2 0h1m1 0h2m1 0h16m1 0h1m6 0h1m3 0h1m10 0h1m5 0h1m21 0h1m6 0h1m41 0h1m34 0h1m1 0h1m1 0h1m1 0h10m1 0h2m1 0h2m1 0h2m1 0h4m1 0h4m1 0h1m3 0h4m1 0h4m1 0h1m-236 1h2m2 0h1m1 0h3m1 0h1m1 0h3m1 0h5m2 0h1m1 0h1m2 0h3m1 0h2m2 0h13m1 0h1m7 0h1m29 0h1m2 0h1m43 0h1m15 0h1m26 0h1m7 0h1m1 0h11m1 0h1m3 0h2m1 0h1m1 0h1m2 0h1m1 0h4m2 0h3m1 0h1m1 0h3m1 0h1m2 0h2m-235 1h2m1 0h9m1 0h1m1 0h3m1 0h2m1 0h3m1 0h1m1 0h1m2 0h1m2 0h1m1 0h12m1 0h1m8 0h1m15 0h1m7 0h1m4 0h1m5 0h1m31 0h1m30 0h1m21 0h1m6 0h14m1 0h2m1 0h1m2 0h1m2 0h4m2 0h1m1 0h3m4 0h8m1 0h2m-235 1h5m1 0h3m1 0h1m1 0h1m1 0h7m1 0h1m2 0h1m1 0h1m2 0h5m2 0h1m1 0h11m8 0h1m4 0h1m22 0h1m18 0h1m36 0h1m2 0h1m19 0h1m2 0h1m3 0h1m5 0h2m3 0h13m1 0h2m1 0h6m1 0h1m4 0h1m1 0h7m1 0h1m1 0h1m2 0h2m1 0h6m-236 1h2m1 0h1m2 0h2m1 0h9m1 0h1m4 0h1m1 0h3m1 0h1m2 0h1m2 0h2m1 0h12m1 0h1m14 0h1m56 0h1m15 0h1m5 0h1m10 0h1m21 0h17m1 0h2m2 0h1m2 0h1m1 0h3m1 0h1m4 0h1m1 0h4m1 0h4m1 0h2m2 0h1m1 0h3m-236 1h2m1 0h8m1 0h1m1 0h3m4 0h1m2 0h1m5 0h22m1 0h1m1 0h1m1 0h1m38 0h1m3 0h1m27 0h1m35 0h1m15 0h1m1 0h1m1 0h1m1 0h8m1 0h11m4 0h1m1 0h3m3 0h3m1 0h1m2 0h7m1 0h2m-235 1h3m2 0h2m1 0h1m2 0h2m1 0h1m1 0h4m1 0h1m4 0h3m1 0h2m1 0h2m1 0h1m1 0h2m1 0h7m1 0h1m1 0h1m1 0h1m1 0h1m1 0h1m13 0h1m14 0h1m24 0h1m11 0h1m32 0h1m10 0h1m13 0h1m1 0h1m1 0h9m1 0h4m1 0h2m1 0h2m1 0h4m3 0h1m1 0h3m2 0h1m1 0h2m1 0h2m1 0h2m1 0h5m-236 1h1m1 0h2m1 0h2m1 0h2m2 0h3m1 0h1m1 0h1m4 0h1m3 0h2m1 0h3m8 0h5m1 0h2m1 0h1m1 0h1m1 0h1m1 0h1m89 0h1m16 0h1m8 0h1m7 0h1m1 0h1m1 0h2m1 0h7m1 0h2m1 0h1m3 0h3m1 0h2m2 0h3m5 0h1m1 0h2m3 0h2m1 0h2m1 0h2m1 0h2m-236 1h1m1 0h2m4 0h3m2 0h1m2 0h1m2 0h2m2 0h2m2 0h1m1 0h1m3 0h1m1 0h2m2 0h2m2 0h1m2 0h1m1 0h1m2 0h1m1 0h1m1 0h1m1 0h1m6 0h1m7 0h1m19 0h1m29 0h1m50 0h1m3 0h1m1 0h1m1 0h1m2 0h1m1 0h1m4 0h1m2 0h2m2 0h1m2 0h2m1 0h2m1 0h1m2 0h1m3 0h2m2 0h1m1 0h2m2 0h1m1 0h1m4 0h2m1 0h1m-231 1h1m2 0h1m5 0h1m2 0h1m3 0h2m2 0h1m1 0h2m1 0h2m2 0h2m8 0h1m10 0h1m1 0h1m1 0h1m67 0h1m39 0h1m7 0h1m1 0h1m1 0h1m2 0h1m1 0h1m7 0h1m8 0h2m2 0h2m1 0h2m1 0h1m6 0h2m4 0h2m2 0h1m1 0h2m-230 1h1m2 0h2m1 0h1m3 0h2m2 0h1m1 0h2m2 0h1m4 0h2m3 0h1m3 0h1m1 0h2m2 0h1m2 0h2m11 0h1m1 0h1m1 0h1m1 0h2m28 0h1m21 0h1m3 0h1m26 0h1m25 0h1m1 0h1m1 0h1m1 0h1m1 0h1m8 0h1m3 0h1m2 0h1m2 0h2m2 0h1m3 0h1m5 0h1m2 0h1m2 0h1m2 0h1m4 0h1m1 0h2m2 0h1m1 0h1m-235 1h1m10 0h1m2 0h1m2 0h1m4 0h1m4 0h1m2 0h2m2 0h1m3 0h1m2 0h1m2 0h1m14 0h1m2 0h1m5 0h1m11 0h1m16 0h1m9 0h1m64 0h1m1 0h1m1 0h1m1 0h1m9 0h1m2 0h1m2 0h1m2 0h1m3 0h1m2 0h2m4 0h1m4 0h1m2 0h1m2 0h1m2 0h1m9 0h1m-230 1h1m2 0h1m2 0h1m6 0h2m4 0h1m3 0h1m3 0h1m2 0h1m23 0h1m1 0h1m53 0h2m54 0h1m1 0h1m1 0h1m20 0h2m2 0h1m3 0h1m2 0h2m4 0h1m10 0h1m2 0h1m-229 1h1m2 0h1m5 0h1m10 0h1m9 0h1m2 0h1m25 0h1m1 0h1m1 0h1m5 0h2m32 0h1m6 0h1m60 0h1m1 0h1m10 0h1m10 0h1m8 0h1m9 0h1m2 0h1m2 0h1m10 0h1m-221 1h1m5 0h1m9 0h1m32 0h1m1 0h1m1 0h1m77 0h1m14 0h1m3 0h1m6 0h1m1 0h1m1 0h1m14 0h1m19 0h1m9 0h1m5 0h1m-219 1h1m5 0h1m12 0h1m16 0h1m2 0h1m18 0h1m1 0h1m4 0h1m7 0h1m4 0h1m61 0h1m8 0h1m2 0h1m8 0h1m23 0h1m2 0h1m2 0h1m26 0h1m5 0h1m-225 1h1m13 0h1m9 0h1m8 0h1m6 0h1m2 0h1m17 0h1m1 0h1m9 0h1m2 0h1m20 0h1m23 0h1m33 0h1m6 0h1m17 0h1m10 0h1m2 0h1m15 0h1m-190 1h1m16 0h1m2 0h1m82 0h1m36 0h1m1 0h1m19 0h1m2 0h1m16 0h1m-169 1h1m28 0h1m19 0h1m60 0h1m5 0h1m4 0h1m3 0h1m1 0h1m26 0h1m2 0h1m-161 1h1m30 0h1m1 0h1m8 0h1m34 0h1m49 0h1m1 0h1m33 0h1m-132 1h1m69 0h1m20 0h1m2 0h1m-94 1h1m1 0h1m1 0h1m24 0h1m40 0h1m57 0h1m-108 1h1m9 0h1m-27 1h1m19 0h1m29 0h1m19 0h1m15 0h1m-88 1h1m5 0h2m33 0h1m3 0h1m17 0h1m9 0h1m12 0h1m-86 1h1m9 0h1m4 0h1m66 0h1m1 0h1m-84 1h1m4 0h1m11 0h1m9 0h1m-7 1h1m14 0h1m-28 1h1m49 0h1m10 0h1m8 0h1m-76 1h1m40 0h1m14 0h1m12 0h1m4 0h1m-74 1h1m41 0h1m27 0h1m1 0h1m-72 1h1m10 0h1m48 0h1m6 0h1m-67 1h1m19 0h1m6 1h1m33 0h2m-60 1h1m54 0h1m-48 1h1m54 0h1m-64 1h1m16 0h1m42 0h1m-60 1h1m26 0h1m29 0h1m-38 1h1m-103 1h1m95 0h1m42 0h1m-143 1h1m88 0h1m9 0h1m34 0h1m5 1h1m84 0h1m-104 1h1m102 0h1m-134 1h1m18 0h1m25 0h1m-131 1h1m129 1h1m-44 1h1m16 0h1m24 0h1m-2 1h1m88 0h1m-99 1h1m-30 1h1m5 0h1m3 0h1m-1 1h1m-2 1h1m-8 1h1m4 0h1m13 0h1m3 0h1m-21 3h1m2 2h1m17 0h1m-13 22h1m2 0h1m-3 1h1m6 1h1m-9 2h1m9 0h1m-12 3h1m11 0h1m-18 2h1m19 0h1m-22 1h1m21 0h1m-12 1h1m11 0h1"/>
<path stroke="#422fc0" d="M0 0m101 28h2m29 0h2m-41 1h2m8 0h6m17 0h5m9 0h2m-61 1h1m5 0h2m6 0h3m10 0h19m10 0h3m6 0h2m-71 1h1m4 0h2m5 0h2m6 0h4m33 0h4m6 0h2m5 0h1m4 0h1m-83 1h1m4 0h1m4 0h2m5 0h2m7 0h5m25 0h5m6 0h3m5 0h2m4 0h1m4 0h1m-94 1h1m3 0h1m3 0h2m3 0h2m4 0h2m5 0h3m7 0h8m13 0h8m7 0h3m5 0h2m4 0h2m3 0h1m3 0h2m-99 1h1m2 0h2m2 0h2m3 0h1m4 0h2m4 0h2m5 0h4m8 0h20m9 0h4m5 0h2m4 0h2m3 0h2m3 0h1m3 0h1m3 0h1m-110 1h1m2 0h1m2 0h1m3 0h1m3 0h1m3 0h2m3 0h3m3 0h3m6 0h4m31 0h4m5 0h3m4 0h2m4 0h2m2 0h2m3 0h1m2 0h2m2 0h1m2 0h1m-117 1h1m2 0h1m2 0h1m2 0h2m2 0h2m2 0h2m3 0h2m3 0h2m4 0h4m5 0h2m2 0h2m23 0h1m3 0h1m6 0h3m4 0h3m3 0h2m3 0h2m2 0h2m2 0h1m2 0h2m2 0h1m2 0h1m-123 1h1m4 0h1m2 0h1m2 0h2m2 0h1m2 0h2m3 0h1m3 0h2m4 0h2m7 0h1m7 0h1m5 0h3m9 0h2m6 0h1m6 0h1m2 0h1m4 0h3m3 0h2m3 0h2m3 0h1m3 0h1m2 0h1m2 0h1m2 0h1m2 0h1m-162 1h1m38 0h1m2 0h1m2 0h1m1 0h2m2 0h1m2 0h2m2 0h2m2 0h2m3 0h2m14 0h1m8 0h1m17 0h1m11 0h1m4 0h1m7 0h1m3 0h2m2 0h2m2 0h2m2 0h1m2 0h1m2 0h1m2 0h1m4 0h1m-128 1h1m1 0h1m2 0h1m2 0h1m2 0h1m2 0h1m2 0h2m2 0h2m4 0h1m8 0h1m2 0h1m4 0h1m32 0h1m9 0h1m11 0h1m4 0h1m3 0h1m2 0h2m2 0h1m2 0h1m2 0h1m1 0h1m2 0h1m-128 1h1m1 0h1m2 0h1m1 0h1m2 0h1m2 0h1m2 0h2m7 0h1m7 0h1m1 0h1m3 0h1m8 0h1m25 0h1m5 0h1m14 0h1m2 0h1m1 0h1m2 0h1m3 0h2m2 0h1m2 0h2m2 0h1m1 0h2m1 0h1m2 0h1m1 0h1m-167 1h1m38 0h1m1 0h1m2 0h1m1 0h2m1 0h1m2 0h2m21 0h1m13 0h1m8 0h3m3 0h2m15 0h1m9 0h1m9 0h1m3 0h1m5 0h1m2 0h2m1 0h1m2 0h1m1 0h1m2 0h1m1 0h1m36 0h1m2 0h1m-211 1h1m15 0h1m24 0h1m1 0h1m1 0h1m2 0h1m2 0h1m1 0h2m1 0h1m6 0h1m5 0h1m4 0h1m22 0h1m15 0h1m7 0h1m23 0h1m3 0h1m9 0h1m2 0h1m1 0h1m2 0h1m1 0h1m1 0h1m38 0h1m-220 1h1m5 0h1m12 0h1m3 0h1m25 0h1m1 0h1m1 0h1m2 0h1m1 0h1m37 0h1m4 0h1m25 0h1m22 0h1m7 0h1m1 0h1m8 0h2m1 0h1m1 0h1m2 0h1m1 0h1m1 0h1m16 0h1m6 0h1m2 0h1m13 0h1m5 0h1m-218 1h1m12 0h1m2 0h1m2 0h1m17 0h1m1 0h1m1 0h1m1 0h1m2 0h1m1 0h2m8 0h1m29 0h1m5 0h1m23 0h1m4 0h1m6 0h1m9 0h1m3 0h1m4 0h1m1 0h1m2 0h2m4 0h1m1 0h1m2 0h1m1 0h1m1 0h1m20 0h1m2 0h1m6 0h1m5 0h1m2 0h1m-219 1h1m5 0h1m9 0h1m2 0h1m3 0h1m6 0h1m2 0h1m11 0h1m1 0h1m1 0h1m1 0h1m2 0h1m7 0h1m4 0h1m77 0h1m22 0h1m1 0h1m1 0h1m2 0h1m1 0h1m13 0h1m2 0h1m6 0h1m2 0h2m2 0h1m9 0h1m2 0h1m2 0h1m-228 1h1m2 0h1m2 0h1m9 0h1m2 0h2m2 0h1m3 0h1m2 0h1m2 0h1m2 0h1m12 0h1m1 0h1m1 0h1m1 0h2m11 0h1m31 0h1m7 0h1m25 0h1m6 0h1m7 0h1m1 0h1m18 0h1m3 0h1m1 0h1m17 0h1m2 0h1m2 0h1m2 0h1m3 0h1m2 0h2m2 0h1m4 0h1m4 0h1m2 0h1m2 0h1m-231 1h1m10 0h1m4 0h2m2 0h2m2 0h2m1 0h1m22 0h1m1 0h1m1 0h1m2 0h1m3 0h2m15 0h1m57 0h1m22 0h1m5 0h1m9 0h1m1 0h1m1 0h1m1 0h1m1 0h1m8 0h1m12 0h2m2 0h1m3 0h2m4 0h1m2 0h1m7 0h1m2 0h1m-233 1h2m2 0h1m1 0h2m2 0h1m1 0h1m4 0h1m2 0h2m4 0h1m2 0h1m2 0h1m1 0h1m2 0h1m7 0h1m1 0h1m1 0h1m1 0h1m1 0h1m1 0h1m9 0h1m29 0h1m4 0h1m46 0h1m20 0h2m5 0h1m1 0h1m1 0h1m1 0h1m9 0h1m4 0h1m2 0h1m2 0h1m4 0h2m2 0h1m3 0h2m1 0h1m2 0h1m2 0h1m2 0h1m-230 1h1m2 0h1m2 0h1m2 0h2m3 0h1m1 0h1m2 0h2m2 0h3m2 0h1m3 0h2m1 0h2m1 0h2m5 0h1m2 0h1m1 0h1m1 0h1m1 0h1m1 0h1m6 0h1m3 0h1m10 0h1m1 0h1m1 0h1m43 0h1m5 0h1m3 0h1m39 0h1m1 0h1m1 0h1m1 0h1m2 0h1m7 0h1m2 0h1m2 0h2m3 0h1m2 0h2m3 0h2m1 0h2m1 0h1m2 0h3m2 0h1m2 0h1m2 0h1m-233 1h1m2 0h4m3 0h2m1 0h2m1 0h2m2 0h2m2 0h2m1 0h1m1 0h1m6 0h2m2 0h2m1 0h2m1 0h1m1 0h2m1 0h1m1 0h1m1 0h1m42 0h1m12 0h1m17 0h1m41 0h1m3 0h1m1 0h1m1 0h1m1 0h2m1 0h1m1 0h4m1 0h2m2 0h2m1 0h1m6 0h1m1 0h2m1 0h3m2 0h2m1 0h1m2 0h2m1 0h1m1 0h4m2 0h1m1 0h1m-236 1h4m1 0h2m1 0h2m1 0h2m1 0h2m1 0h3m2 0h2m1 0h1m5 0h2m2 0h2m1 0h2m1 0h2m1 0h10m1 0h1m1 0h1m6 0h1m4 0h1m10 0h1m10 0h1m2 0h1m77 0h2m1 0h1m1 0h1m1 0h2m1 0h1m1 0h7m2 0h1m2 0h1m1 0h2m2 0h2m5 0h1m1 0h2m1 0h3m2 0h4m2 0h2m1 0h1m2 0h5m-236 1h1m1 0h1m3 0h1m1 0h3m2 0h2m1 0h1m3 0h1m1 0h4m2 0h3m1 0h1m7 0h1m1 0h2m2 0h11m1 0h1m10 0h1m26 0h1m17 0h1m5 0h1m13 0h1m27 0h1m3 0h1m6 0h1m1 0h1m1 0h1m1 0h1m1 0h8m1 0h3m1 0h2m1 0h1m4 0h1m1 0h3m1 0h5m1 0h2m1 0h2m1 0h2m1 0h4m1 0h1m3 0h1m1 0h1m-233 1h1m1 0h8m1 0h2m2 0h1m1 0h4m1 0h4m1 0h1m4 0h1m1 0h3m1 0h1m2 0h1m2 0h14m1 0h2m10 0h1m13 0h1m51 0h1m26 0h1m9 0h1m1 0h1m1 0h9m2 0h1m2 0h1m1 0h2m1 0h3m1 0h1m4 0h3m1 0h4m1 0h2m1 0h2m1 0h2m1 0h9m-235 1h5m2 0h2m1 0h1m2 0h6m3 0h3m1 0h1m1 0h1m1 0h3m1 0h1m2 0h1m1 0h21m31 0h1m48 0h1m17 0h1m7 0h1m10 0h19m4 0h1m1 0h3m1 0h1m4 0h2m2 0h1m1 0h6m1 0h1m1 0h2m2 0h6m-235 1h1m2 0h1m1 0h3m1 0h2m1 0h5m1 0h1m1 0h3m1 0h3m1 0h1m1 0h1m2 0h1m1 0h4m1 0h2m1 0h4m1 0h9m19 0h1m21 0h1m24 0h1m16 0h1m6 0h1m12 0h1m4 0h1m8 0h9m1 0h1m1 0h4m1 0h2m2 0h6m1 0h1m3 0h3m1 0h3m4 0h2m1 0h1m1 0h6m1 0h1m2 0h2m-235 1h2m1 0h6m1 0h1m3 0h1m1 0h1m3 0h6m2 0h1m1 0h2m1 0h1m1 0h2m1 0h4m1 0h2m1 0h2m1 0h10m115 0h12m2 0h1m1 0h2m1 0h4m1 0h2m1 0h4m1 0h1m2 0h6m1 0h1m1 0h1m1 0h1m3 0h1m1 0h1m1 0h4m1 0h2m-235 1h1m1 0h1m1 0h1m3 0h1m3 0h1m1 0h1m1 0h4m1 0h2m2 0h1m1 0h2m3 0h2m1 0h4m1 0h1m6 0h2m1 0h10m1 0h1m7 0h1m53 0h1m10 0h1m12 0h1m1 0h1m19 0h1m1 0h2m1 0h1m1 0h1m1 0h6m2 0h2m9 0h1m1 0h1m1 0h2m2 0h3m1 0h2m1 0h2m1 0h4m1 0h1m1 0h1m3 0h1m1 0h1m2 0h2m1 0h2m-234 1h1m3 0h1m1 0h1m3 0h2m1 0h2m1 0h1m2 0h2m1 0h2m4 0h1m1 0h1m1 0h2m5 0h2m3 0h1m2 0h1m1 0h2m1 0h4m1 0h1m1 0h2m1 0h1m4 0h1m99 0h1m1 0h1m1 0h1m1 0h1m1 0h2m1 0h1m1 0h2m2 0h1m1 0h2m2 0h2m1 0h1m6 0h1m1 0h2m2 0h3m1 0h2m2 0h1m1 0h2m1 0h2m3 0h1m1 0h2m2 0h1m1 0h2m-236 1h1m1 0h1m3 0h2m2 0h1m2 0h1m1 0h2m2 0h3m7 0h2m1 0h1m2 0h1m3 0h2m1 0h1m6 0h1m2 0h2m4 0h1m1 0h1m1 0h1m1 0h1m2 0h2m6 0h1m37 0h1m7 0h1m34 0h1m13 0h1m1 0h1m1 0h1m2 0h1m3 0h1m2 0h2m8 0h2m2 0h2m2 0h1m1 0h2m1 0h1m5 0h3m2 0h1m2 0h1m2 0h1m2 0h1m4 0h1m1 0h2m-235 1h1m2 0h1m2 0h1m2 0h1m2 0h1m3 0h1m2 0h2m1 0h1m2 0h2m4 0h1m3 0h2m5 0h2m2 0h2m1 0h2m1 0h2m1 0h1m4 0h1m1 0h1m1 0h1m1 0h1m92 0h1m8 0h1m1 0h1m8 0h2m1 0h2m1 0h2m2 0h2m10 0h1m4 0h2m2 0h1m1 0h2m2 0h1m6 0h1m2 0h1m2 0h1m2 0h1m-233 1h1m2 0h1m2 0h1m7 0h1m1 0h2m4 0h2m3 0h1m2 0h1m2 0h1m6 0h2m2 0h1m2 0h1m2 0h1m12 0h1m1 0h1m26 0h1m21 0h1m3 0h1m25 0h1m1 0h1m20 0h1m17 0h1m2 0h1m2 0h1m3 0h2m5 0h1m2 0h1m3 0h2m4 0h2m1 0h1m2 0h1m4 0h1m2 0h1m2 0h1m-233 1h1m7 0h1m2 0h1m5 0h1m6 0h1m2 0h1m2 0h1m2 0h1m3 0h2m2 0h1m4 0h1m2 0h1m2 0h1m4 0h1m6 0h1m1 0h1m36 0h1m5 0h1m44 0h1m9 0h1m1 0h1m8 0h1m4 0h1m2 0h1m2 0h1m4 0h1m2 0h1m3 0h2m2 0h1m2 0h1m2 0h1m6 0h1m2 0h1m2 0h1m2 0h1m7 0h1m-231 1h1m2 0h1m2 0h1m2 0h1m6 0h1m2 0h1m2 0h1m10 0h1m2 0h1m4 0h1m10 0h1m2 0h1m9 0h1m11 0h1m5 0h1m20 0h1m23 0h1m10 0h1m18 0h1m14 0h1m2 0h1m2 0h1m7 0h1m4 0h1m13 0h1m2 0h1m2 0h1m6 0h1m2 0h1m2 0h1m2 0h1m-232 1h1m2 0h1m2 0h1m9 0h1m16 0h1m2 0h1m12 0h1m2 0h1m2 0h1m15 0h1m1 0h1m6 0h1m30 0h1m50 0h1m1 0h1m1 0h1m15 0h1m2 0h1m2 0h1m9 0h1m2 0h1m5 0h1m20 0h1m2 0h1m2 0h1m-235 1h1m26 0h1m5 0h1m9 0h1m2 0h1m3 0h1m6 0h1m2 0h1m12 0h1m81 0h1m7 0h1m1 0h1m8 0h1m2 0h1m2 0h1m3 0h1m2 0h1m3 0h1m4 0h1m7 0h1m2 0h1m2 0h1m-187 1h1m10 0h1m15 0h1m2 0h1m2 0h1m14 0h1m26 0h1m6 0h1m55 0h1m17 0h1m2 0h1m2 0h1m12 0h1m10 0h1m15 0h1m-225 1h1m15 0h1m26 0h1m2 0h1m13 0h1m10 0h1m64 0h1m8 0h1m13 0h1m10 0h1m2 0h1m13 0h1m12 0h1m29 0h1m-207 1h1m15 0h1m31 0h1m5 0h1m45 0h1m28 0h1m36 0h1m15 0h1m-132 1h1m1 0h1m42 0h1m27 0h1m5 0h1m-68 1h1m11 0h1m55 0h1m-80 1h1m10 0h1m13 0h1m36 0h1m9 0h1m5 0h1m-102 1h1m23 0h1m75 0h1m23 0h1m-100 1h1m14 0h1m56 0h1m-72 1h1m11 0h1m56 0h1m-53 1h1m52 0h1m-61 1h1m24 0h3m31 0h1m-66 1h1m37 0h1m21 0h1m-11 1h1m12 0h1m-47 1h1m34 0h1m95 0h1m-229 1h1m82 0h1m41 0h1m14 0h1m80 0h1m2 0h1m-228 1h1m5 0h1m109 0h1m20 0h1m86 0h1m2 0h1m-104 1h1m18 0h1m-133 1h1m76 0h1m49 0h1m89 0h1m-140 1h1m14 0h1m1 1h1m-97 1h1m113 0h1m13 0h1m-119 1h1m91 0h1m-110 2h1m117 0h1m-122 1h1m111 0h1m84 0h1m-198 1h1m131 0h1m-112 1h1m26 1h1m78 0h1m4 0h1m68 0h1m26 0h1m-98 1h1m72 0h1m-85 1h1m1 0h1m5 0h1m1 0h1m-84 1h1m69 0h1m65 0h1m-58 4h1m-2 1h1m-2 1h1m-10 1h1m-4 1h1m8 2h1m-9 13h1m1 0h1m-6 3h1m11 4h1m-16 2h1m12 1h1m-10 1h1m11 1h1m-10 1h1"/>
<path stroke="#4331c7" d="M0 0m102 36h2m26 0h3m-39 1h2m9 0h5m14 0h6m8 0h2m-51 1h2m5 0h3m10 0h17m9 0h3m6 0h2m4 0h1m-71 1h1m4 0h2m4 0h2m6 0h4m29 0h4m6 0h2m4 0h2m4 0h1m-82 1h1m3 0h1m3 0h2m4 0h1m5 0h3m6 0h5m21 0h5m6 0h3m4 0h2m4 0h1m4 0h1m-87 1h1m2 0h2m2 0h2m3 0h2m3 0h2m5 0h3m7 0h8m8 0h9m7 0h3m4 0h2m4 0h2m3 0h1m3 0h1m3 0h1m-95 1h1m2 0h1m3 0h1m3 0h1m3 0h2m4 0h3m4 0h4m9 0h6m3 0h6m9 0h4m4 0h3m3 0h2m3 0h2m3 0h1m3 0h1m2 0h1m2 0h1m-105 1h1m2 0h1m2 0h1m2 0h2m2 0h2m2 0h2m3 0h2m4 0h3m5 0h1m2 0h1m27 0h1m2 0h1m5 0h3m3 0h3m3 0h1m3 0h2m2 0h1m3 0h1m2 0h1m2 0h1m-106 1h1m2 0h1m2 0h1m3 0h1m2 0h2m3 0h2m3 0h2m6 0h1m10 0h1m18 0h1m4 0h1m8 0h1m5 0h1m3 0h2m3 0h1m3 0h1m2 0h1m3 0h1m4 0h1m-111 1h1m2 0h1m1 0h1m2 0h2m2 0h1m2 0h2m2 0h2m2 0h1m4 0h1m9 0h1m6 0h1m9 0h3m9 0h1m6 0h1m2 0h1m9 0h1m4 0h2m2 0h2m2 0h1m2 0h1m2 0h1m2 0h1m-111 1h1m1 0h1m2 0h1m2 0h1m2 0h1m2 0h1m2 0h2m2 0h1m9 0h1m6 0h1m12 0h1m11 0h1m8 0h1m26 0h2m2 0h1m2 0h1m2 0h1m1 0h1m2 0h1m-114 1h1m4 0h1m2 0h1m2 0h1m2 0h2m7 0h1m2 0h1m17 0h1m35 0h1m12 0h1m4 0h1m2 0h1m2 0h1m2 0h1m1 0h1m2 0h1m1 0h1m-116 1h1m1 0h1m2 0h1m1 0h1m2 0h1m3 0h1m1 0h1m7 0h1m6 0h1m18 0h1m13 0h1m14 0h1m5 0h1m2 0h1m5 0h1m6 0h1m1 0h2m1 0h1m2 0h1m4 0h1m1 0h1m-118 1h1m1 0h1m1 0h1m2 0h1m2 0h1m1 0h2m1 0h1m18 0h1m3 0h1m9 0h1m60 0h1m1 0h1m2 0h1m1 0h1m-145 1h1m2 0h1m23 0h1m1 0h1m1 0h1m2 0h1m21 0h1m7 0h1m17 0h1m7 0h1m33 0h1m1 0h1m8 0h2m1 0h1m1 0h1m2 0h1m25 0h1m2 0h1m-176 1h1m30 0h1m1 0h1m1 0h1m14 0h1m5 0h1m1 0h1m20 0h1m24 0h1m19 0h1m6 0h1m2 0h1m7 0h1m21 0h1m2 0h1m10 0h1m-204 1h1m15 0h1m13 0h1m2 0h1m2 0h1m20 0h1m1 0h1m2 0h1m7 0h1m4 0h1m34 0h1m7 0h1m7 0h1m11 0h1m17 0h1m11 0h1m26 0h1m2 0h1m29 0h1m-232 1h1m2 0h1m12 0h1m13 0h1m2 0h1m7 0h1m2 0h1m19 0h1m11 0h1m15 0h1m32 0h1m23 0h1m20 0h1m1 0h1m1 0h1m15 0h1m2 0h1m10 0h1m2 0h1m-203 1h1m5 0h1m9 0h1m5 0h1m7 0h1m2 0h1m22 0h1m1 0h1m5 0h1m63 0h1m3 0h1m23 0h1m9 0h1m1 0h1m1 0h1m20 0h1m2 0h1m7 0h1m2 0h1m2 0h1m2 0h1m6 0h1m5 0h1m-228 1h1m2 0h1m6 0h1m5 0h1m5 0h1m3 0h1m3 0h1m2 0h1m4 0h1m2 0h1m4 0h1m9 0h1m1 0h1m1 0h1m11 0h1m7 0h1m55 0h1m11 0h1m21 0h1m1 0h1m11 0h1m4 0h1m2 0h1m7 0h1m2 0h2m3 0h1m4 0h2m5 0h1m6 0h1m2 0h1m2 0h1m-234 1h1m6 0h1m2 0h2m1 0h1m2 0h2m6 0h1m5 0h1m1 0h1m2 0h1m4 0h1m2 0h1m2 0h1m10 0h1m1 0h1m1 0h1m5 0h2m3 0h1m61 0h1m29 0h2m3 0h1m1 0h1m12 0h1m2 0h1m2 0h1m4 0h1m2 0h1m7 0h1m6 0h1m3 0h1m1 0h2m2 0h1m1 0h1m4 0h1m2 0h1m-235 1h1m1 0h1m2 0h2m1 0h2m2 0h1m1 0h1m4 0h1m2 0h1m5 0h3m2 0h1m4 0h1m3 0h1m1 0h2m2 0h1m10 0h1m1 0h1m28 0h1m12 0h1m6 0h1m55 0h2m1 0h1m2 0h1m1 0h1m1 0h1m6 0h2m2 0h2m1 0h2m1 0h2m2 0h1m1 0h1m2 0h2m6 0h1m2 0h1m4 0h1m1 0h1m2 0h2m1 0h1m2 0h1m2 0h1m-234 1h2m1 0h2m2 0h1m1 0h3m2 0h1m5 0h1m2 0h1m2 0h3m2 0h1m1 0h1m2 0h2m1 0h2m2 0h2m8 0h1m4 0h1m1 0h1m2 0h1m77 0h1m26 0h1m1 0h1m1 0h1m1 0h1m1 0h1m2 0h1m1 0h1m8 0h2m2 0h1m2 0h2m1 0h2m1 0h1m2 0h2m3 0h1m2 0h1m5 0h1m2 0h3m1 0h1m2 0h2m1 0h1m-233 1h1m1 0h3m2 0h2m2 0h1m1 0h1m2 0h2m3 0h4m1 0h1m3 0h1m1 0h2m1 0h3m6 0h1m1 0h2m1 0h2m2 0h4m1 0h1m1 0h1m1 0h1m1 0h2m17 0h1m7 0h1m12 0h1m27 0h1m10 0h1m1 0h1m1 0h1m4 0h1m17 0h1m1 0h1m1 0h2m1 0h3m1 0h2m2 0h2m1 0h1m2 0h1m3 0h2m2 0h2m1 0h1m5 0h4m3 0h2m1 0h2m1 0h2m1 0h2m1 0h4m1 0h1m-234 1h1m1 0h2m1 0h2m1 0h2m1 0h2m1 0h3m1 0h1m3 0h1m1 0h1m3 0h4m1 0h3m3 0h1m1 0h2m2 0h2m10 0h4m1 0h1m1 0h1m10 0h1m3 0h1m2 0h1m57 0h1m29 0h1m1 0h7m9 0h2m3 0h1m4 0h1m1 0h2m1 0h4m3 0h1m1 0h1m3 0h1m1 0h6m1 0h2m1 0h2m1 0h2m1 0h2m-236 1h1m1 0h2m1 0h2m1 0h5m1 0h1m5 0h3m2 0h3m1 0h2m1 0h2m4 0h1m1 0h1m3 0h1m2 0h1m1 0h2m1 0h12m11 0h1m9 0h1m20 0h1m9 0h3m24 0h1m25 0h17m1 0h2m1 0h1m2 0h3m5 0h2m1 0h2m1 0h3m2 0h3m5 0h1m2 0h4m1 0h2m1 0h2m2 0h1m-234 1h5m1 0h1m2 0h1m2 0h2m1 0h1m1 0h6m1 0h1m2 0h2m2 0h1m1 0h2m4 0h1m1 0h4m1 0h2m1 0h2m2 0h2m2 0h6m10 0h1m73 0h1m11 0h1m6 0h8m2 0h3m1 0h2m2 0h1m1 0h4m4 0h1m1 0h1m3 0h1m1 0h2m2 0h1m1 0h6m1 0h1m2 0h1m2 0h1m2 0h1m1 0h5m2 0h1m-236 1h3m2 0h1m2 0h1m2 0h1m1 0h5m2 0h1m2 0h1m2 0h1m1 0h6m1 0h1m4 0h3m2 0h1m1 0h6m1 0h1m2 0h1m1 0h8m8 0h1m79 0h1m7 0h3m1 0h1m1 0h7m7 0h5m1 0h1m2 0h3m4 0h1m1 0h6m1 0h1m2 0h1m2 0h1m2 0h5m1 0h1m5 0h1m2 0h1m1 0h2m-231 1h1m1 0h5m1 0h2m2 0h1m1 0h2m1 0h2m1 0h3m2 0h1m1 0h1m4 0h3m1 0h2m1 0h3m6 0h1m2 0h1m1 0h7m1 0h1m1 0h2m4 0h1m76 0h1m16 0h9m1 0h2m1 0h1m2 0h1m4 0h5m1 0h3m4 0h1m1 0h1m1 0h1m1 0h1m2 0h2m1 0h2m1 0h2m1 0h2m1 0h5m-225 1h1m1 0h1m1 0h2m1 0h2m1 0h2m1 0h2m3 0h4m5 0h1m3 0h1m2 0h2m1 0h2m5 0h1m1 0h1m3 0h2m1 0h1m2 0h1m2 0h4m1 0h1m1 0h1m1 0h1m12 0h1m58 0h1m23 0h2m1 0h2m9 0h1m1 0h1m4 0h1m1 0h1m2 0h2m2 0h1m1 0h3m4 0h1m5 0h2m3 0h2m1 0h2m1 0h2m1 0h2m1 0h3m1 0h2m-234 1h2m1 0h2m1 0h2m1 0h2m4 0h1m1 0h1m2 0h1m5 0h1m1 0h2m3 0h1m3 0h1m1 0h2m1 0h2m2 0h2m9 0h1m1 0h2m3 0h1m2 0h1m1 0h1m43 0h1m49 0h1m2 0h1m1 0h1m3 0h2m1 0h2m1 0h1m2 0h1m7 0h2m1 0h2m1 0h1m3 0h1m1 0h4m1 0h1m1 0h1m3 0h1m1 0h2m1 0h2m3 0h2m4 0h1m2 0h1m2 0h1m-231 1h1m2 0h1m3 0h1m2 0h1m3 0h1m1 0h1m2 0h3m2 0h1m1 0h2m2 0h1m4 0h2m7 0h1m1 0h2m2 0h2m2 0h1m6 0h1m2 0h1m1 0h1m29 0h1m27 0h1m10 0h1m22 0h2m1 0h1m11 0h1m3 0h1m2 0h2m1 0h1m3 0h2m5 0h1m5 0h1m2 0h2m3 0h1m1 0h2m1 0h2m1 0h2m1 0h1m4 0h1m5 0h1m-234 1h1m6 0h2m1 0h2m1 0h1m7 0h1m5 0h1m2 0h1m4 0h1m7 0h2m3 0h1m2 0h1m2 0h1m2 0h1m2 0h1m9 0h1m15 0h1m69 0h1m1 0h1m2 0h1m8 0h1m2 0h1m2 0h1m2 0h1m2 0h1m3 0h1m2 0h1m3 0h1m1 0h1m4 0h1m2 0h1m5 0h1m2 0h1m4 0h1m1 0h2m1 0h2m1 0h1m4 0h1m2 0h1m-232 1h1m1 0h2m2 0h1m6 0h1m2 0h1m2 0h1m2 0h1m6 0h2m4 0h1m3 0h1m3 0h1m2 0h1m7 0h1m2 0h1m2 0h1m10 0h1m70 0h1m11 0h1m1 0h1m1 0h1m7 0h1m2 0h1m1 0h1m2 0h1m2 0h1m5 0h1m3 0h1m2 0h2m1 0h1m2 0h2m6 0h1m2 0h1m2 0h1m2 0h1m6 0h1m2 0h1m2 0h1m2 0h1m-233 1h1m2 0h1m9 0h1m2 0h1m2 0h1m2 0h1m4 0h1m2 0h1m2 0h1m5 0h1m3 0h1m2 0h1m2 0h1m2 0h1m2 0h1m86 0h1m15 0h1m11 0h1m6 0h1m2 0h1m2 0h1m5 0h1m9 0h1m2 0h1m2 0h1m10 0h1m2 0h1m9 0h1m2 0h1m-226 1h1m2 0h1m2 0h1m10 0h1m2 0h1m2 0h1m9 0h1m8 0h1m6 0h2m1 0h2m2 0h1m9 0h1m1 0h1m30 0h1m5 0h1m44 0h1m11 0h1m2 0h1m2 0h1m16 0h1m9 0h1m2 0h1m2 0h1m13 0h1m-205 1h1m2 0h1m2 0h1m12 0h1m13 0h1m5 0h1m6 0h1m2 0h1m8 0h1m8 0h1m55 0h1m2 0h1m11 0h1m8 0h1m2 0h1m2 0h1m3 0h1m5 0h1m13 0h1m12 0h1m2 0h1m2 0h1m-203 1h1m2 0h1m2 0h1m29 0h1m2 0h1m10 0h1m2 0h1m11 0h1m11 0h1m8 0h1m37 0h1m7 0h1m8 0h1m13 0h1m2 0h1m2 0h1m7 0h1m2 0h1m15 0h1m16 0h1m2 0h1m12 0h1m-222 1h1m26 0h1m5 0h1m10 0h1m12 0h1m14 0h2m3 0h1m42 0h1m30 0h1m12 0h1m2 0h1m13 0h1m-158 1h1m13 0h1m30 0h1m1 0h1m39 0h1m28 0h1m29 0h1m-136 1h1m35 0h1m67 0h1m33 0h1m-104 1h1m60 0h1m6 0h1m-86 1h1m2 0h1m14 0h1m52 0h1m27 0h1m2 0h1m-84 1h1m34 0h1m19 0h1m-140 1h1m6 0h1m62 0h1m2 0h1m20 0h1m137 0h1m-118 1h2m28 0h1m-142 1h1m3 0h1m79 0h1m6 0h1m16 0h1m-98 1h1m82 0h1m44 0h1m79 0h1m9 0h1m-222 1h1m6 0h1m120 0h1m75 0h1m2 0h1m3 0h1m5 0h1m-225 1h1m2 0h1m82 0h1m127 0h1m6 0h1m2 0h1m-229 1h1m16 0h1m186 0h1m2 0h1m-191 1h1m111 0h1m2 0h1m74 0h1m-202 1h1m92 0h1m124 0h1m-219 1h1m86 0h1m39 0h1m63 0h1m16 0h1m6 0h1m5 0h1m-225 1h1m190 0h1m16 0h1m2 0h1m-201 1h1m9 0h1m205 0h1m2 0h1m-226 1h1m2 0h1m6 0h1m19 0h1m94 0h1m64 0h1m23 0h1m2 0h1m2 0h1m-230 1h1m21 0h1m23 0h1m152 0h1m16 0h1m-217 1h1m9 0h1m10 1h1m159 0h1m26 0h1m8 1h1m-173 1h1m62 0h1m19 2h1m-24 1h1m3 0h1m4 0h1m7 4h1m-5 20h1m-13 4h1m12 0h1m-15 1h1m-43 2h1m46 0h1m71 0h1m-66 1h1m57 0h1m9 0h1"/>
<path stroke="#4433cd" d="M0 0m116 42h3m-18 1h2m29 0h2m-40 1h2m7 0h4m20 0h4m7 0h2m5 0h1m-61 1h1m4 0h2m4 0h3m8 0h9m3 0h9m8 0h2m5 0h2m4 0h1m-68 1h1m3 0h2m4 0h2m5 0h3m10 0h11m10 0h3m5 0h2m4 0h2m3 0h1m3 0h1m-78 1h1m3 0h1m4 0h2m3 0h3m5 0h4m24 0h5m5 0h2m4 0h2m3 0h2m3 0h1m2 0h1m-86 1h1m3 0h1m2 0h2m3 0h1m3 0h2m4 0h3m6 0h6m15 0h6m5 0h3m4 0h2m4 0h1m3 0h1m3 0h1m2 0h1m-86 1h1m2 0h1m3 0h1m3 0h2m3 0h2m7 0h1m7 0h1m17 0h1m7 0h1m1 0h1m4 0h3m3 0h2m2 0h2m2 0h2m2 0h1m2 0h1m2 0h1m-99 1h1m2 0h1m2 0h1m2 0h1m2 0h2m2 0h2m4 0h1m13 0h1m10 0h7m10 0h1m2 0h1m4 0h1m1 0h1m3 0h2m3 0h2m2 0h1m3 0h1m2 0h1m2 0h1m-99 1h1m1 0h1m2 0h1m2 0h1m2 0h1m3 0h1m7 0h1m7 0h1m4 0h1m24 0h1m9 0h1m5 0h1m1 0h1m2 0h1m4 0h1m2 0h2m2 0h1m2 0h1m1 0h1m2 0h1m-102 1h1m2 0h1m1 0h1m2 0h2m2 0h1m3 0h1m21 0h1m6 0h1m9 0h1m25 0h1m3 0h1m5 0h1m2 0h1m2 0h1m2 0h1m1 0h1m-104 1h1m1 0h1m2 0h1m2 0h1m8 0h1m5 0h1m12 0h1m6 0h1m22 0h1m20 0h1m6 0h1m2 0h1m1 0h1m2 0h1m-104 1h1m1 0h1m2 0h1m1 0h1m21 0h1m10 0h1m37 0h1m1 0h1m7 0h1m1 0h1m6 0h1m1 0h1m2 0h1m1 0h1m-106 1h1m1 0h1m1 0h1m2 0h1m1 0h1m6 0h1m5 0h1m22 0h1m15 0h1m9 0h1m10 0h1m8 0h1m2 0h1m6 0h1m2 0h1m1 0h1m-142 1h1m35 0h1m1 0h1m9 0h1m2 0h1m4 0h1m6 0h1m8 0h1m25 0h1m36 0h1m4 0h1m35 0h1m-180 1h1m15 0h1m21 0h1m1 0h1m1 0h1m31 0h1m21 0h1m7 0h1m9 0h1m19 0h2m3 0h1m42 0h1m-192 1h1m29 0h1m2 0h1m14 0h1m1 0h1m2 0h1m4 0h1m31 0h1m43 0h1m14 0h1m17 0h1m2 0h1m29 0h1m-207 1h1m16 0h1m12 0h1m2 0h1m24 0h1m42 0h1m47 0h1m4 0h1m1 0h1m1 0h1m20 0h1m2 0h1m12 0h1m-188 1h1m5 0h1m12 0h1m10 0h1m2 0h1m2 0h1m10 0h1m1 0h1m34 0h1m21 0h1m40 0h1m1 0h1m10 0h1m2 0h1m2 0h1m6 0h1m2 0h2m2 0h1m9 0h1m5 0h1m-203 1h1m2 0h1m2 0h1m15 0h2m2 0h1m3 0h1m2 0h1m18 0h1m1 0h1m1 0h1m62 0h1m19 0h1m7 0h2m3 0h1m1 0h1m23 0h1m6 0h2m15 0h1m2 0h1m2 0h1m12 0h1m-235 1h1m6 0h1m2 0h1m2 0h1m2 0h1m10 0h1m4 0h1m4 0h1m2 0h1m13 0h1m2 0h1m8 0h1m1 0h1m14 0h1m40 0h1m37 0h1m1 0h1m1 0h1m10 0h1m7 0h1m7 0h2m2 0h1m3 0h1m5 0h1m10 0h1m2 0h1m2 0h1m2 0h1m6 0h1m-231 1h1m2 0h1m2 0h1m7 0h1m2 0h1m2 0h1m2 0h1m6 0h1m2 0h2m4 0h1m2 0h1m6 0h1m2 0h1m10 0h1m1 0h1m74 0h1m1 0h1m15 0h1m3 0h1m1 0h1m8 0h2m1 0h2m6 0h1m2 0h1m4 0h2m2 0h1m6 0h1m2 0h1m2 0h1m2 0h1m7 0h1m1 0h2m2 0h1m2 0h1m-233 1h2m1 0h1m7 0h1m2 0h1m5 0h1m2 0h1m3 0h2m1 0h1m2 0h2m4 0h1m2 0h1m3 0h2m1 0h2m2 0h1m2 0h1m7 0h1m1 0h1m2 0h1m51 0h1m25 0h1m6 0h1m9 0h1m1 0h1m9 0h1m2 0h1m5 0h2m6 0h1m4 0h2m2 0h1m1 0h1m3 0h2m2 0h1m5 0h1m2 0h1m6 0h2m1 0h2m1 0h1m-235 1h2m1 0h1m1 0h1m2 0h1m5 0h1m2 0h3m4 0h2m1 0h2m1 0h2m2 0h2m2 0h1m2 0h1m1 0h1m6 0h2m8 0h1m4 0h1m1 0h1m1 0h1m1 0h1m68 0h1m24 0h1m2 0h1m2 0h2m1 0h2m1 0h2m2 0h1m2 0h1m6 0h1m2 0h1m2 0h1m3 0h2m1 0h1m2 0h2m1 0h1m2 0h3m2 0h1m5 0h1m2 0h1m3 0h1m2 0h1m-236 1h1m2 0h1m5 0h1m2 0h4m1 0h1m1 0h2m1 0h2m1 0h2m1 0h1m2 0h3m3 0h1m1 0h1m5 0h2m2 0h2m1 0h1m2 0h1m3 0h1m2 0h3m1 0h2m1 0h1m50 0h1m34 0h1m9 0h2m1 0h1m1 0h3m2 0h1m9 0h1m1 0h3m5 0h1m1 0h2m2 0h1m4 0h1m1 0h1m2 0h2m4 0h1m2 0h3m2 0h1m1 0h1m2 0h2m1 0h2m-234 1h1m1 0h2m1 0h2m1 0h3m1 0h1m2 0h1m3 0h1m1 0h2m3 0h2m1 0h1m3 0h1m1 0h4m2 0h3m1 0h1m6 0h2m2 0h2m2 0h1m2 0h2m1 0h2m1 0h1m53 0h1m17 0h1m7 0h1m4 0h1m9 0h1m1 0h4m2 0h1m2 0h2m1 0h3m1 0h1m7 0h1m2 0h5m1 0h1m2 0h2m1 0h2m2 0h3m1 0h1m8 0h1m1 0h4m1 0h2m1 0h2m-235 1h2m1 0h5m8 0h1m1 0h5m2 0h1m1 0h2m2 0h1m1 0h4m1 0h3m2 0h1m4 0h2m1 0h1m2 0h1m2 0h2m1 0h2m1 0h9m13 0h1m70 0h1m4 0h2m1 0h8m1 0h2m1 0h2m2 0h1m2 0h1m1 0h3m1 0h1m4 0h1m1 0h1m1 0h4m1 0h1m2 0h2m1 0h1m2 0h2m1 0h4m9 0h4m1 0h2m-235 1h2m1 0h1m5 0h1m2 0h5m4 0h2m4 0h5m4 0h2m2 0h1m1 0h1m1 0h3m1 0h1m2 0h6m2 0h1m2 0h2m2 0h8m6 0h1m47 0h1m10 0h1m23 0h6m2 0h2m3 0h1m2 0h1m2 0h3m1 0h1m2 0h2m1 0h1m5 0h1m4 0h5m2 0h1m2 0h1m2 0h1m1 0h5m2 0h1m2 0h1m2 0h1m2 0h2m-236 1h1m2 0h1m2 0h7m2 0h1m2 0h1m2 0h2m1 0h2m1 0h1m2 0h1m2 0h1m2 0h2m1 0h1m1 0h1m3 0h1m2 0h2m2 0h1m2 0h1m1 0h5m1 0h2m1 0h6m1 0h1m1 0h5m45 0h1m35 0h8m1 0h1m2 0h5m4 0h1m2 0h3m1 0h1m3 0h3m1 0h2m2 0h1m2 0h1m2 0h1m1 0h6m1 0h1m2 0h1m2 0h2m1 0h4m2 0h1m2 0h1m-235 1h2m1 0h4m2 0h1m2 0h1m2 0h1m1 0h3m2 0h1m1 0h1m5 0h1m3 0h5m3 0h1m1 0h2m1 0h1m1 0h1m3 0h3m7 0h1m2 0h7m87 0h9m2 0h1m2 0h1m2 0h1m1 0h2m2 0h2m2 0h1m1 0h2m1 0h1m3 0h1m1 0h2m4 0h1m5 0h1m1 0h1m2 0h3m1 0h2m1 0h1m2 0h2m1 0h2m1 0h3m-234 1h1m1 0h2m1 0h2m1 0h2m1 0h2m3 0h1m11 0h1m3 0h2m1 0h2m2 0h1m1 0h2m1 0h1m1 0h2m1 0h1m1 0h1m9 0h2m6 0h1m2 0h1m2 0h1m84 0h1m1 0h1m2 0h1m2 0h1m6 0h1m7 0h1m1 0h1m1 0h2m1 0h4m1 0h1m2 0h2m1 0h2m3 0h1m11 0h1m3 0h2m1 0h2m1 0h2m1 0h2m1 0h2m-236 1h1m1 0h2m1 0h2m3 0h1m11 0h1m3 0h2m1 0h2m1 0h2m1 0h2m1 0h3m2 0h1m2 0h1m9 0h1m2 0h2m1 0h1m2 0h1m2 0h2m3 0h1m1 0h2m31 0h1m47 0h2m1 0h1m5 0h1m9 0h1m1 0h2m2 0h1m6 0h1m1 0h2m2 0h3m1 0h2m2 0h1m1 0h2m1 0h2m3 0h1m2 0h1m8 0h1m3 0h1m2 0h1m-232 1h1m6 0h1m2 0h1m5 0h1m4 0h1m2 0h1m2 0h1m1 0h2m4 0h1m1 0h1m5 0h1m5 0h2m2 0h2m5 0h1m3 0h1m2 0h1m8 0h1m2 0h1m42 0h1m4 0h1m26 0h1m1 0h1m1 0h1m8 0h1m2 0h1m3 0h1m9 0h2m2 0h1m2 0h1m1 0h1m3 0h1m1 0h1m4 0h1m2 0h1m2 0h1m2 0h1m4 0h1m1 0h2m2 0h1m2 0h1m2 0h1m3 0h1m-234 1h1m2 0h1m2 0h1m2 0h1m4 0h1m2 0h1m2 0h1m2 0h1m6 0h1m2 0h1m5 0h1m6 0h1m6 0h1m4 0h1m2 0h1m2 0h1m1 0h2m1 0h1m6 0h1m1 0h1m75 0h1m7 0h1m2 0h1m2 0h1m2 0h1m2 0h1m4 0h1m5 0h1m10 0h1m2 0h1m2 0h1m6 0h1m2 0h1m2 0h1m2 0h1m6 0h2m1 0h2m1 0h2m-232 1h1m9 0h1m2 0h1m2 0h1m2 0h1m9 0h2m1 0h1m2 0h1m4 0h1m2 0h1m5 0h1m4 0h1m7 0h1m2 0h1m4 0h1m7 0h1m1 0h1m11 0h1m20 0h1m10 0h1m11 0h1m15 0h1m9 0h1m2 0h1m2 0h1m7 0h1m10 0h1m2 0h1m9 0h2m12 0h1m2 0h1m2 0h1m9 0h1m2 0h1m-230 1h1m2 0h1m2 0h1m2 0h1m10 0h1m12 0h1m2 0h1m2 0h1m7 0h1m4 0h1m2 0h1m2 0h1m10 0h1m5 0h1m45 0h1m31 0h1m2 0h1m10 0h1m2 0h1m4 0h1m7 0h1m2 0h1m2 0h1m9 0h1m2 0h1m2 0h1m10 0h1m2 0h1m2 0h1m-226 1h1m2 0h1m2 0h1m10 0h1m2 0h1m9 0h1m2 0h1m2 0h1m10 0h1m4 0h1m16 0h1m77 0h1m11 0h1m8 0h1m3 0h1m8 0h1m2 0h1m10 0h1m12 0h1m2 0h1m2 0h1m12 0h1m2 0h2m-234 1h1m12 0h1m2 0h1m12 0h1m16 0h1m12 0h1m2 0h1m2 0h1m59 0h1m20 0h1m9 0h1m9 0h1m2 0h2m2 0h1m12 0h1m2 0h1m26 0h1m2 0h1m2 0h1m6 0h1m-229 1h1m8 0h1m26 0h1m5 0h1m12 0h1m10 0h1m8 0h1m8 0h1m3 0h2m6 0h1m48 0h1m9 0h1m2 0h1m2 0h1m2 0h1m9 0h1m13 0h1m5 0h1m26 0h1m8 0h1m-195 1h1m89 0h1m19 0h1m74 0h1m8 0h2m-222 1h1m3 0h1m70 0h1m11 0h1m88 0h1m34 0h1m2 0h1m3 0h1m-229 1h1m3 0h1m2 0h2m77 0h1m50 0h1m77 0h1m2 0h1m-215 1h1m3 0h1m12 0h1m46 0h1m48 0h1m23 0h1m20 0h1m2 0h1m42 0h1m2 0h1m20 0h1m-215 1h1m2 0h1m40 0h1m56 0h1m13 0h1m77 0h1m3 0h1m-212 1h1m9 0h1m5 0h1m3 0h1m69 0h1m3 0h1m41 0h1m77 0h1m2 0h1m6 0h1m2 0h1m-229 1h1m3 0h1m2 0h1m12 0h1m3 0h1m65 0h1m45 0h1m70 0h1m10 0h1m2 0h1m6 0h1m-229 1h1m16 0h1m2 0h1m68 0h1m26 0h1m18 0h1m68 0h1m2 0h1m10 0h1m5 0h1m-208 1h1m9 0h1m95 0h1m73 0h1m6 0h1m9 0h1m13 0h1m-222 1h1m6 0h1m9 0h1m66 0h1m33 0h1m75 0h1m16 0h1m2 0h1m8 0h1m-230 1h1m2 0h1m3 0h1m9 0h1m16 0h1m2 0h1m69 0h1m110 0h1m2 0h1m-227 1h1m5 0h1m1 0h1m16 0h1m10 0h1m176 0h1m2 0h1m10 0h1m2 0h1m-222 1h1m9 0h1m12 0h1m6 0h1m59 0h1m85 0h1m23 0h1m9 0h1m-171 1h1m128 0h1m9 0h1m6 0h1m6 0h1m5 0h1m7 0h1m1 0h2m-210 1h1m13 0h1m13 0h1m9 0h1m135 0h1m6 0h1m2 0h1m3 0h1m6 0h1m21 0h1m-229 1h1m21 0h1m16 0h1m6 0h1m5 0h1m129 0h1m5 0h1m6 0h1m32 0h1m-229 1h1m12 0h1m35 0h1m6 0h1m6 0h1m65 0h1m55 0h1m21 0h1m-184 1h1m35 0h1m69 0h1m-67 1h1m53 0h1m64 0h1m2 0h1m29 0h1m-172 1h1m69 7h1m0 3h1m1 11h1m2 0h1m0 1h1m-12 1h1m-4 4h1m17 2h1m45 0h1m-68 1h1m3 0h1m-43 1h1m45 0h1m12 0h1m59 0h1m-123 1h1"/>
<path stroke="#4536d4" d="M0 0m98 49h2m9 0h17m9 0h1m-48 1h1m4 0h2m5 0h3m29 0h2m6 0h1m-56 1h1m4 0h1m4 0h2m6 0h4m21 0h4m6 0h2m4 0h1m4 0h1m-68 1h1m3 0h2m3 0h2m4 0h3m6 0h6m11 0h6m6 0h3m4 0h2m3 0h1m3 0h1m3 0h1m-79 1h1m2 0h1m3 0h1m3 0h1m4 0h2m4 0h3m8 0h4m7 0h4m8 0h3m4 0h2m3 0h2m3 0h1m3 0h1m2 0h1m-83 1h1m2 0h1m2 0h2m2 0h2m2 0h2m4 0h2m4 0h1m2 0h1m24 0h1m2 0h1m5 0h2m4 0h1m3 0h2m2 0h1m3 0h1m2 0h1m-84 1h1m2 0h1m3 0h1m3 0h1m3 0h2m3 0h1m7 0h1m3 0h1m21 0h1m12 0h1m3 0h1m3 0h1m2 0h1m2 0h1m2 0h1m2 0h1m-92 1h1m2 0h1m2 0h1m2 0h1m2 0h1m4 0h1m4 0h1m3 0h1m8 0h1m9 0h1m15 0h1m12 0h1m2 0h2m2 0h1m2 0h1m2 0h1m2 0h1m-92 1h1m1 0h1m2 0h1m2 0h1m5 0h1m3 0h1m4 0h1m1 0h1m15 0h1m30 0h1m7 0h2m2 0h1m2 0h1m4 0h1m-92 1h1m1 0h1m2 0h1m6 0h1m3 0h1m38 0h1m3 0h1m6 0h1m4 0h1m9 0h2m1 0h2m1 0h1m2 0h1m1 0h1m-94 1h1m1 0h1m2 0h1m1 0h2m2 0h1m39 0h1m38 0h1m1 0h1m-94 1h1m1 0h1m1 0h1m12 0h1m8 0h1m12 0h1m24 0h1m24 0h1m2 0h1m1 0h1m-94 1h1m1 0h1m2 0h1m21 0h1m29 0h1m12 0h1m13 0h2m6 0h1m-94 1h1m1 0h1m1 0h1m5 0h1m9 0h1m61 0h1m-82 1h1m1 0h1m9 0h1m10 0h1m65 0h1m-143 1h1m53 0h1m2 0h1m22 0h1m6 0h1m6 0h1m25 0h1m22 0h1m1 0h1m19 0h1m32 0h1m-205 1h1m32 0h1m2 0h1m6 0h1m2 0h1m15 0h1m5 0h1m6 0h1m12 0h1m29 0h1m8 0h1m22 0h1m1 0h1m21 0h1m2 0h1m32 0h1m-217 1h1m29 0h1m5 0h1m10 0h1m2 0h1m14 0h1m1 0h1m39 0h1m47 0h1m1 0h1m14 0h1m2 0h1m2 0h1m7 0h1m21 0h1m13 0h1m-229 1h1m13 0h1m2 0h1m15 0h1m13 0h1m2 0h1m9 0h1m2 0h1m8 0h1m37 0h1m49 0h1m1 0h1m8 0h1m2 0h1m9 0h1m2 0h1m2 0h1m10 0h1m15 0h1m2 0h1m-213 1h1m2 0h1m2 0h1m2 0h1m6 0h1m5 0h1m10 0h1m5 0h1m4 0h1m2 0h1m17 0h1m26 0h1m49 0h1m6 0h1m1 0h1m19 0h1m2 0h1m7 0h1m2 0h1m10 0h1m5 0h1m9 0h1m2 0h1m2 0h1m-225 1h1m2 0h1m2 0h1m2 0h1m6 0h2m4 0h2m6 0h1m2 0h1m2 0h1m2 0h1m7 0h1m7 0h1m2 0h1m4 0h1m8 0h1m16 0h1m49 0h1m15 0h1m1 0h1m1 0h1m7 0h1m4 0h1m2 0h1m2 0h1m4 0h1m2 0h1m4 0h1m2 0h1m2 0h1m2 0h1m6 0h1m2 0h1m2 0h1m7 0h1m2 0h1m2 0h1m2 0h1m-231 1h1m2 0h1m7 0h1m2 0h1m2 0h1m6 0h1m2 0h1m5 0h1m2 0h1m3 0h2m2 0h1m4 0h1m2 0h1m7 0h1m2 0h1m6 0h1m1 0h1m85 0h1m8 0h1m2 0h1m6 0h2m2 0h1m4 0h1m2 0h2m3 0h1m2 0h1m2 0h1m2 0h1m2 0h1m6 0h1m2 0h1m2 0h1m2 0h1m4 0h1m2 0h1m2 0h1m-234 1h1m4 0h1m2 0h1m5 0h1m3 0h2m1 0h1m2 0h2m1 0h1m2 0h2m5 0h2m5 0h1m1 0h1m2 0h2m12 0h1m7 0h1m1 0h1m16 0h1m27 0h1m17 0h1m20 0h1m9 0h1m11 0h2m2 0h2m1 0h1m6 0h1m1 0h1m2 0h3m2 0h1m1 0h2m2 0h1m1 0h2m3 0h1m5 0h1m2 0h1m2 0h1m3 0h2m-235 1h1m8 0h1m2 0h3m1 0h2m1 0h2m1 0h2m1 0h2m1 0h3m5 0h1m5 0h1m1 0h1m2 0h1m1 0h1m3 0h1m2 0h1m1 0h2m2 0h2m1 0h2m2 0h2m1 0h2m83 0h2m1 0h1m1 0h2m6 0h1m1 0h2m3 0h1m1 0h1m3 0h1m1 0h1m2 0h1m13 0h3m1 0h2m1 0h2m1 0h2m1 0h2m1 0h3m2 0h1m8 0h1m-227 1h3m1 0h2m1 0h2m1 0h2m1 0h2m1 0h3m2 0h1m12 0h2m1 0h2m1 0h2m2 0h1m1 0h1m1 0h1m1 0h1m12 0h3m1 0h1m75 0h1m7 0h1m1 0h5m1 0h1m2 0h1m2 0h1m6 0h2m3 0h1m1 0h2m1 0h1m3 0h1m6 0h1m5 0h1m2 0h3m1 0h2m2 0h1m2 0h1m1 0h2m1 0h3m1 0h2m1 0h1m2 0h1m-235 1h6m1 0h1m2 0h1m2 0h1m2 0h4m1 0h2m2 0h1m5 0h3m1 0h1m1 0h1m2 0h1m2 0h2m5 0h1m4 0h1m2 0h1m1 0h3m1 0h2m1 0h1m2 0h5m1 0h2m73 0h2m5 0h3m1 0h1m2 0h1m2 0h1m1 0h3m1 0h2m1 0h1m2 0h1m1 0h1m3 0h1m1 0h2m5 0h1m1 0h1m1 0h4m1 0h1m2 0h1m2 0h2m1 0h4m1 0h1m3 0h1m2 0h1m2 0h1m1 0h3m1 0h1m-234 1h1m2 0h1m2 0h1m2 0h4m1 0h2m2 0h1m2 0h1m2 0h5m1 0h1m2 0h1m2 0h1m2 0h6m1 0h1m1 0h1m4 0h4m2 0h1m2 0h1m6 0h1m1 0h4m3 0h1m4 0h1m10 0h1m44 0h1m15 0h5m2 0h1m2 0h1m2 0h1m2 0h2m1 0h4m4 0h1m2 0h8m1 0h1m2 0h1m2 0h1m1 0h6m1 0h1m5 0h2m1 0h5m10 0h1m-235 1h1m2 0h2m1 0h4m12 0h4m1 0h2m5 0h1m2 0h2m3 0h2m2 0h1m4 0h2m1 0h1m2 0h5m6 0h2m3 0h5m40 0h1m36 0h4m1 0h2m2 0h1m6 0h6m3 0h3m6 0h2m3 0h3m1 0h2m4 0h2m1 0h6m1 0h1m8 0h7m2 0h1m-232 1h2m14 0h3m1 0h2m1 0h1m2 0h2m1 0h6m11 0h3m1 0h1m2 0h2m2 0h1m2 0h1m2 0h1m1 0h3m1 0h2m3 0h1m1 0h2m31 0h1m41 0h2m1 0h1m1 0h1m4 0h1m1 0h2m2 0h2m1 0h1m2 0h1m2 0h2m4 0h3m7 0h1m3 0h1m1 0h4m2 0h1m2 0h1m2 0h1m1 0h6m1 0h1m2 0h1m2 0h1m2 0h2m1 0h3m-234 1h1m7 0h1m1 0h3m2 0h1m1 0h1m2 0h1m3 0h1m1 0h3m3 0h1m5 0h1m1 0h1m2 0h3m1 0h1m2 0h2m2 0h1m1 0h2m2 0h2m11 0h1m1 0h1m1 0h1m2 0h1m8 0h1m48 0h1m12 0h1m1 0h1m1 0h1m1 0h1m12 0h1m3 0h1m1 0h2m1 0h1m6 0h1m3 0h1m1 0h2m1 0h1m2 0h2m2 0h1m1 0h1m1 0h1m11 0h3m1 0h2m1 0h2m2 0h1m-230 1h1m2 0h1m2 0h1m2 0h1m8 0h1m2 0h1m3 0h2m2 0h1m1 0h1m2 0h2m3 0h1m2 0h1m5 0h1m1 0h2m2 0h2m6 0h1m2 0h1m2 0h1m2 0h2m1 0h2m2 0h1m2 0h1m11 0h1m33 0h1m20 0h1m1 0h1m5 0h1m1 0h2m1 0h2m3 0h1m4 0h1m3 0h1m3 0h2m1 0h1m8 0h1m3 0h2m1 0h2m1 0h2m1 0h2m1 0h2m3 0h1m11 0h1m2 0h1m-216 1h1m6 0h2m1 0h2m1 0h2m1 0h2m9 0h1m5 0h1m1 0h1m4 0h1m3 0h1m1 0h2m2 0h2m17 0h1m48 0h1m16 0h1m1 0h1m17 0h1m3 0h1m3 0h1m1 0h2m4 0h1m7 0h1m9 0h1m2 0h2m1 0h2m1 0h1m7 0h1m-220 1h1m7 0h1m1 0h2m2 0h2m2 0h1m2 0h1m2 0h1m6 0h1m2 0h1m5 0h1m7 0h1m1 0h1m2 0h2m2 0h1m3 0h1m2 0h1m2 0h1m6 0h1m2 0h1m5 0h1m1 0h1m3 0h1m64 0h2m1 0h1m10 0h1m2 0h1m2 0h1m3 0h1m2 0h2m1 0h1m2 0h1m4 0h1m2 0h1m2 0h1m2 0h1m6 0h1m2 0h1m2 0h1m2 0h2m2 0h1m-217 1h1m6 0h1m1 0h1m3 0h1m6 0h1m2 0h1m2 0h1m2 0h1m7 0h1m2 0h1m5 0h1m3 0h1m2 0h1m2 0h1m10 0h1m2 0h1m2 0h1m41 0h1m9 0h1m15 0h1m7 0h1m2 0h1m7 0h1m2 0h1m5 0h1m2 0h1m3 0h1m2 0h1m5 0h1m7 0h1m2 0h1m2 0h1m2 0h1m18 0h1m1 0h1m3 0h1m-231 1h1m16 0h1m2 0h1m2 0h1m2 0h1m7 0h1m2 0h1m2 0h1m9 0h1m2 0h1m5 0h1m83 0h1m14 0h1m10 0h1m8 0h1m9 0h1m2 0h1m2 0h1m15 0h1m2 0h1m6 0h1m9 0h1m-231 1h1m5 0h1m6 0h2m16 0h1m2 0h1m12 0h1m16 0h1m5 0h1m15 0h1m14 0h1m10 0h1m45 0h1m8 0h1m26 0h1m2 0h1m2 0h1m10 0h1m18 0h1m-232 1h1m9 0h2m2 0h1m14 0h1m29 0h1m12 0h1m2 0h1m2 0h1m19 0h1m27 0h1m14 0h1m12 0h1m2 0h1m10 0h1m2 0h1m15 0h1m13 0h1m2 0h1m3 0h1m5 0h1m6 0h1m9 0h2m-230 1h1m9 0h1m7 0h1m5 0h1m12 0h1m15 0h1m10 0h1m2 0h1m2 0h1m17 0h1m11 0h1m56 0h1m2 0h1m10 0h1m15 0h1m20 0h1m2 0h1m-215 1h1m5 0h1m6 0h1m10 0h1m5 0h1m3 0h1m26 0h1m2 0h1m15 0h1m2 0h1m7 0h1m33 0h1m43 0h1m26 0h1m7 0h1m12 0h1m-219 1h1m9 0h1m7 0h1m12 0h1m27 0h1m70 0h1m42 0h1m27 0h1m16 0h1m13 0h1m-232 1h1m12 0h1m3 0h1m5 0h1m3 0h1m5 0h1m21 0h1m81 0h1m56 0h1m9 0h1m5 0h2m-205 1h1m5 0h2m5 0h1m3 0h1m5 0h1m103 0h1m65 0h2m5 0h2m18 0h2m1 0h2m-234 1h2m3 0h1m13 0h1m9 0h1m3 0h1m63 0h1m38 0h1m52 0h1m6 0h1m3 0h1m2 0h1m6 0h1m2 0h1m16 0h2m2 0h1m-235 1h1m1 0h1m3 0h1m9 0h1m13 0h1m2 0h1m9 0h1m3 0h1m2 0h1m97 0h1m37 0h1m10 0h1m5 0h1m3 0h1m2 0h1m9 0h2m11 0h1m-234 1h1m8 0h1m1 0h2m1 0h1m2 0h1m8 0h1m3 0h1m6 0h1m5 0h1m9 0h1m139 0h1m12 0h1m6 0h2m7 0h2m4 0h1m-217 1h1m4 0h1m2 0h1m1 0h1m13 0h1m16 0h1m54 0h1m73 0h1m3 0h1m5 0h1m6 0h1m28 0h3m-229 1h1m9 0h1m19 0h1m9 0h1m9 0h1m126 0h1m22 0h1m9 0h1m5 0h2m9 0h1m-228 1h2m9 0h1m18 0h1m2 0h1m6 0h1m16 0h1m55 0h1m15 0h1m39 0h1m3 0h1m2 0h1m13 0h1m14 0h1m-205 1h1m20 0h1m8 0h1m9 0h1m131 0h1m6 0h1m35 0h1m-206 1h1m20 0h1m8 0h1m9 0h1m3 0h1m9 0h1m2 0h1m115 0h1m9 0h2m9 0h1m-174 1h1m10 0h1m8 0h1m2 0h1m9 0h1m101 0h1m6 0h1m42 0h1m-156 1h1m94 0h1m16 0h1m9 0h1m8 0h1m12 0h1m-153 1h1m138 0h1m-12 1h1m-69 1h1m-6 2h1m12 0h1m-10 3h1m7 15h1m-13 2h1m9 1h1m-2 1h1m37 2h1m-102 1h1m2 0h1m6 0h1m2 0h1m58 0h1m-80 1h1m3 0h1m2 0h1m46 0h1m25 0h1m42 0h1m2 0h1m-165 1h1m34 0h1m2 0h1m54 0h1m5 0h1m19 0h1m41 0h1m5 0h1m3 0h1m5 0h1m29 0h1"/>
<path stroke="#463ada" d="M0 0m114 53h7m-19 1h2m26 0h2m-35 1h2m6 0h3m18 0h4m6 0h2m4 0h1m-55 1h1m4 0h1m5 0h2m7 0h9m1 0h9m7 0h2m4 0h2m3 0h1m-64 1h1m3 0h1m3 0h1m4 0h1m5 0h3m9 0h9m9 0h3m4 0h2m4 0h1m3 0h1m-69 1h1m2 0h1m3 0h1m3 0h2m3 0h3m4 0h2m1 0h1m21 0h1m1 0h1m5 0h2m4 0h1m3 0h2m2 0h1m-70 1h1m3 0h1m2 0h2m3 0h2m3 0h1m1 0h1m5 0h1m4 0h1m11 0h1m4 0h1m5 0h1m1 0h1m3 0h2m3 0h1m3 0h1m2 0h1m2 0h1m2 0h1m-82 1h1m2 0h1m2 0h1m2 0h1m4 0h1m2 0h1m5 0h1m23 0h1m6 0h1m6 0h1m4 0h2m2 0h2m2 0h1m2 0h1m2 0h1m-80 1h1m2 0h1m2 0h1m2 0h1m3 0h1m10 0h1m33 0h1m1 0h1m10 0h2m2 0h1m4 0h1m-82 1h1m1 0h1m2 0h1m2 0h2m13 0h1m8 0h1m19 0h1m21 0h1m2 0h1m2 0h1m1 0h1m-84 1h1m1 0h1m17 0h1m29 0h1m29 0h1m1 0h1m-82 1h1m1 0h1m9 0h1m3 0h1m35 0h1m24 0h1m2 0h1m1 0h1m-84 1h1m4 0h1m7 0h1m18 0h1m39 0h1m2 0h1m4 0h1m1 0h1m1 0h1m-86 1h1m8 0h1m2 0h1m4 0h1m9 0h1m18 0h1m32 0h1m2 0h1m1 0h1m-86 1h1m1 0h1m3 0h2m14 0h1m59 0h1m1 0h1m-115 1h1m30 0h1m1 0h1m66 0h1m-69 1h1m1 0h1m6 0h1m16 0h1m8 0h1m25 0h1m17 0h1m-124 1h1m47 0h1m28 0h1m46 0h1m1 0h1m-146 1h1m29 0h1m12 0h1m2 0h1m2 0h1m14 0h1m1 0h1m34 0h1m12 0h1m29 0h1m14 0h1m2 0h1m2 0h1m12 0h1m2 0h1m26 0h1m-218 1h1m2 0h1m26 0h1m5 0h1m12 0h1m2 0h1m19 0h1m1 0h1m31 0h1m39 0h1m5 0h1m10 0h1m2 0h1m6 0h1m3 0h1m12 0h1m2 0h1m2 0h1m26 0h1m2 0h1m-230 1h1m2 0h1m26 0h1m2 0h1m2 0h1m12 0h1m3 0h1m3 0h1m8 0h1m9 0h1m8 0h1m68 0h1m11 0h1m2 0h1m2 0h1m2 0h1m6 0h1m8 0h1m4 0h1m5 0h1m12 0h1m2 0h1m13 0h1m-225 1h1m2 0h1m2 0h1m9 0h1m2 0h1m2 0h1m7 0h1m2 0h1m4 0h2m3 0h1m2 0h1m2 0h1m10 0h1m42 0h1m38 0h1m3 0h1m1 0h1m4 0h1m2 0h1m2 0h1m10 0h1m2 0h1m3 0h1m5 0h1m2 0h1m10 0h1m2 0h1m12 0h1m2 0h1m2 0h1m-229 1h1m2 0h1m2 0h1m2 0h1m9 0h1m2 0h1m2 0h1m7 0h1m2 0h1m2 0h1m9 0h1m2 0h2m6 0h1m2 0h1m2 0h1m2 0h1m2 0h1m5 0h1m2 0h1m18 0h1m53 0h1m1 0h1m5 0h1m2 0h1m2 0h1m2 0h1m9 0h2m2 0h1m9 0h1m2 0h1m2 0h1m10 0h1m1 0h2m9 0h1m2 0h1m2 0h1m2 0h1m-235 1h1m2 0h1m2 0h1m4 0h1m1 0h2m1 0h2m1 0h2m1 0h1m4 0h1m2 0h1m2 0h1m2 0h1m3 0h2m4 0h1m2 0h2m3 0h1m2 0h1m5 0h1m1 0h2m1 0h1m2 0h1m1 0h1m5 0h1m1 0h1m50 0h1m22 0h1m4 0h1m2 0h1m2 0h1m1 0h2m1 0h1m7 0h2m3 0h2m1 0h2m4 0h2m3 0h1m2 0h1m5 0h1m6 0h1m2 0h2m1 0h2m1 0h1m7 0h1m2 0h1m-235 1h2m2 0h2m1 0h2m1 0h2m1 0h2m1 0h2m3 0h1m15 0h2m1 0h2m1 0h2m1 0h2m3 0h1m2 0h1m2 0h1m8 0h1m3 0h1m2 0h2m2 0h1m2 0h1m18 0h1m55 0h1m1 0h1m2 0h2m2 0h1m2 0h2m8 0h1m2 0h1m1 0h2m3 0h2m1 0h2m1 0h1m2 0h2m1 0h1m4 0h1m2 0h1m5 0h1m6 0h1m2 0h1m2 0h1m2 0h1m2 0h1m-233 1h2m2 0h1m2 0h1m3 0h1m3 0h2m8 0h1m1 0h1m3 0h2m2 0h1m1 0h1m3 0h1m1 0h2m6 0h1m8 0h2m3 0h1m2 0h1m2 0h1m1 0h2m1 0h1m1 0h1m1 0h2m69 0h2m1 0h1m1 0h1m1 0h1m1 0h2m2 0h1m2 0h1m2 0h1m2 0h2m7 0h2m1 0h1m3 0h3m1 0h1m9 0h1m1 0h1m1 0h1m1 0h2m1 0h2m1 0h2m1 0h2m3 0h1m-221 1h2m1 0h2m1 0h2m1 0h2m2 0h1m2 0h1m1 0h2m1 0h3m7 0h1m3 0h3m1 0h2m2 0h1m2 0h1m1 0h1m3 0h1m2 0h1m2 0h1m7 0h1m1 0h2m5 0h2m1 0h2m66 0h1m1 0h1m1 0h4m8 0h2m9 0h1m1 0h3m2 0h1m1 0h2m1 0h1m2 0h2m1 0h3m14 0h3m1 0h2m1 0h2m1 0h2m1 0h2m1 0h1m6 0h1m-231 1h1m4 0h1m2 0h1m2 0h5m12 0h6m5 0h1m4 0h1m1 0h4m1 0h1m7 0h1m3 0h1m8 0h1m2 0h3m3 0h1m37 0h1m3 0h1m24 0h5m2 0h1m2 0h1m2 0h1m2 0h1m1 0h3m1 0h1m7 0h3m1 0h2m1 0h1m1 0h1m3 0h1m1 0h6m1 0h1m8 0h1m1 0h5m2 0h1m2 0h1m4 0h1m-213 1h1m2 0h1m2 0h1m2 0h4m2 0h1m5 0h1m4 0h3m1 0h1m3 0h1m4 0h1m1 0h1m3 0h1m2 0h1m2 0h1m1 0h4m1 0h1m2 0h1m1 0h2m5 0h2m46 0h1m13 0h4m5 0h1m1 0h6m1 0h1m2 0h1m2 0h1m1 0h1m3 0h1m5 0h1m2 0h4m2 0h1m2 0h1m2 0h1m2 0h5m1 0h1m2 0h1m2 0h1m8 0h1m4 0h1m-223 1h1m9 0h1m2 0h4m2 0h1m2 0h1m2 0h1m2 0h1m1 0h3m1 0h1m2 0h1m2 0h2m1 0h1m3 0h1m1 0h1m2 0h1m2 0h1m1 0h1m1 0h2m1 0h2m6 0h1m2 0h3m1 0h1m63 0h2m1 0h1m7 0h2m1 0h2m2 0h1m3 0h2m1 0h1m2 0h1m3 0h1m1 0h1m2 0h1m5 0h1m1 0h3m1 0h1m2 0h1m2 0h1m2 0h1m2 0h4m1 0h2m1 0h3m3 0h1m9 0h1m-223 1h1m6 0h1m4 0h1m2 0h1m2 0h1m1 0h1m1 0h1m1 0h1m5 0h1m3 0h1m1 0h2m4 0h1m2 0h1m1 0h1m5 0h1m3 0h2m1 0h2m1 0h2m1 0h1m1 0h2m1 0h1m2 0h1m62 0h1m1 0h1m1 0h1m2 0h1m1 0h2m2 0h1m1 0h2m2 0h2m5 0h1m1 0h2m1 0h1m3 0h3m1 0h1m11 0h1m1 0h1m1 0h2m1 0h2m1 0h2m2 0h1m6 0h1m9 0h1m-232 1h1m1 0h1m4 0h1m16 0h1m1 0h2m3 0h1m8 0h1m2 0h3m1 0h2m2 0h1m1 0h2m1 0h1m2 0h1m3 0h2m1 0h1m9 0h1m3 0h2m1 0h2m50 0h1m10 0h1m1 0h1m1 0h2m1 0h2m2 0h2m16 0h1m2 0h1m1 0h2m1 0h2m1 0h1m2 0h2m3 0h1m11 0h2m8 0h1m4 0h1m1 0h1m7 0h1m-229 1h1m15 0h1m6 0h1m1 0h1m5 0h1m6 0h2m1 0h2m1 0h2m1 0h2m3 0h1m2 0h1m8 0h2m2 0h1m11 0h1m3 0h1m2 0h1m41 0h1m8 0h1m3 0h1m5 0h1m1 0h2m2 0h1m2 0h1m1 0h2m2 0h2m8 0h1m2 0h1m3 0h1m2 0h1m5 0h1m2 0h1m4 0h1m8 0h1m4 0h1m9 0h1m-200 1h1m10 0h1m2 0h1m5 0h1m6 0h1m2 0h1m5 0h1m3 0h2m11 0h1m2 0h1m3 0h1m4 0h1m4 0h1m48 0h1m4 0h1m2 0h1m3 0h1m2 0h1m8 0h1m3 0h2m5 0h1m1 0h2m6 0h1m5 0h1m2 0h1m4 0h1m8 0h1m4 0h1m1 0h1m6 0h2m6 0h1m-229 1h1m9 0h1m16 0h1m5 0h1m9 0h1m2 0h1m2 0h1m13 0h1m9 0h1m11 0h1m32 0h1m4 0h1m19 0h1m1 0h2m1 0h2m1 0h1m2 0h1m7 0h1m10 0h1m4 0h2m9 0h1m6 0h1m2 0h1m9 0h2m3 0h1m1 0h1m6 0h2m-219 1h1m2 0h1m2 0h1m10 0h1m5 0h2m9 0h1m10 0h1m5 0h1m28 0h1m54 0h1m23 0h1m5 0h1m9 0h1m2 0h1m7 0h2m5 0h2m8 0h2m5 0h1m-222 1h1m9 0h2m5 0h1m17 0h1m17 0h1m18 0h1m2 0h1m7 0h1m2 0h1m46 0h1m12 0h1m29 0h1m2 0h1m49 0h1m-230 1h1m34 0h1m3 0h1m2 0h1m4 0h1m2 0h1m2 0h1m13 0h1m2 0h1m9 0h1m68 0h1m2 0h1m2 0h1m6 0h1m2 0h1m19 0h1m2 0h1m2 0h2m25 0h2m13 0h1m-232 1h1m6 0h1m1 0h1m17 0h1m5 0h2m27 0h1m6 0h1m2 0h1m2 0h1m59 0h1m30 0h1m2 0h1m13 0h1m6 0h1m5 0h1m17 0h1m2 0h1m7 0h2m3 0h1m-231 1h1m8 0h1m40 0h1m2 0h1m26 0h1m2 0h1m14 0h1m35 0h1m7 0h1m5 0h1m38 0h1m2 0h1m19 0h1m11 0h1m3 0h1m2 0h1m-226 1h1m5 0h1m22 0h1m61 0h1m37 0h1m46 0h1m5 0h2m5 0h2m9 0h1m8 0h1m2 0h1m1 0h1m5 0h1m1 0h1m1 0h1m-232 1h1m1 0h1m11 0h1m3 0h2m3 0h1m9 0h1m5 0h1m59 0h1m43 0h1m32 0h1m16 0h1m16 0h1m1 0h2m2 0h1m5 0h1m-223 1h2m17 0h1m1 0h1m6 0h2m5 0h2m9 0h1m53 0h1m74 0h1m13 0h1m6 0h1m20 0h1m2 0h1m-210 1h2m10 0h2m5 0h1m2 0h1m2 0h1m19 0h1m6 0h1m37 0h1m7 0h1m88 0h2m1 0h2m5 0h2m7 0h1m11 0h1m-228 1h1m8 0h1m11 0h1m8 0h1m2 0h1m17 0h1m5 0h2m5 0h1m47 0h1m53 0h1m3 0h1m5 0h1m9 0h1m7 0h1m1 0h1m9 0h1m8 0h1m9 0h1m1 0h2m-227 1h1m6 0h1m23 0h1m10 0h1m3 0h1m12 0h1m41 0h1m63 0h1m2 0h1m43 0h1m2 0h1m6 0h2m-213 1h1m8 0h1m10 0h1m80 0h1m49 0h1m6 0h1m22 0h2m8 0h1m1 0h1m-186 1h1m138 0h1m6 0h1m3 0h1m31 0h1m-170 1h1m125 0h1m21 0h1m-119 1h1m107 0h1m-118 1h1m67 0h1m-58 1h1m43 1h1m1 0h1m-5 19h1m13 0h1m-6 1h1m48 3h1m16 0h1m-140 1h1m16 0h1m9 0h1m43 0h1m10 0h1m26 0h1m19 0h1m-123 1h1m143 0h1m-164 1h1m12 0h1m13 0h1m104 0h1m13 0h1m16 0h1m18 0h1m2 0h1m-159 1h1m5 0h1m101 0h1m36 0h1"/>
<path stroke="#463de0" d="M0 0m105 58h1m23 0h1m-31 1h1m7 0h4m13 0h4m7 0h1m-46 1h1m4 0h1m5 0h2m7 0h14m8 0h2m5 0h1m-52 1h1m3 0h1m3 0h2m5 0h3m23 0h3m5 0h1m4 0h1m3 0h1m-58 1h1m3 0h2m3 0h2m5 0h2m1 0h1m16 0h2m1 0h1m5 0h3m3 0h2m2 0h2m2 0h1m-68 1h1m2 0h1m2 0h1m2 0h2m3 0h1m4 0h1m1 0h1m5 0h1m5 0h6m12 0h1m1 0h1m3 0h2m3 0h1m3 0h1m2 0h1m2 0h1m-72 1h1m2 0h1m2 0h1m7 0h1m16 0h1m6 0h2m10 0h1m3 0h1m4 0h2m2 0h2m2 0h1m2 0h1m-75 1h1m4 0h1m2 0h1m6 0h1m10 0h1m21 0h1m7 0h1m1 0h1m10 0h1m2 0h1m2 0h1m-77 1h1m1 0h1m2 0h1m2 0h1m26 0h1m14 0h1m24 0h1m-75 1h1m13 0h1m5 0h1m45 0h1m6 0h1m1 0h1m-75 1h1m2 0h1m12 0h1m11 0h1m28 0h1m9 0h2m6 0h1m-74 1h1m24 0h1m16 0h1m29 0h1m-50 1h1m44 0h2m3 0h1m-74 1h1m4 0h1m11 0h1m20 0h1m35 0h1m-76 1h1m21 0h1m21 0h1m3 0h1m5 0h1m14 0h1m4 0h1m-94 1h1m2 0h1m14 0h1m71 0h1m1 0h1m-74 1h1m2 1h1m68 0h1m-70 1h1m24 0h1m5 0h1m38 0h1m50 0h1m-181 1h1m2 0h1m2 0h1m29 0h1m2 0h1m18 0h1m8 0h1m9 0h1m50 0h1m18 0h1m2 0h1m35 0h1m-206 1h1m2 0h1m9 0h1m2 0h1m2 0h1m13 0h1m9 0h1m5 0h1m2 0h1m6 0h1m2 0h1m2 0h1m12 0h1m47 0h1m13 0h1m17 0h1m2 0h1m2 0h1m7 0h1m2 0h1m5 0h1m9 0h1m2 0h1m2 0h1m23 0h1m2 0h1m-230 1h1m14 0h1m2 0h1m10 0h1m2 0h1m2 0h1m9 0h1m2 0h1m5 0h1m4 0h1m8 0h1m6 0h1m8 0h1m6 0h1m21 0h1m31 0h2m1 0h1m10 0h1m2 0h1m6 0h1m5 0h1m13 0h1m9 0h1m2 0h1m2 0h1m2 0h1m19 0h1m2 0h2m-220 1h1m6 0h1m2 0h1m2 0h1m2 0h1m9 0h2m1 0h1m2 0h2m15 0h1m3 0h1m2 0h2m1 0h2m1 0h1m2 0h1m3 0h1m1 0h1m49 0h1m15 0h1m7 0h1m2 0h1m2 0h1m2 0h1m13 0h1m6 0h1m3 0h1m1 0h1m10 0h1m2 0h1m2 0h1m2 0h1m6 0h1m-216 1h1m6 0h2m2 0h1m5 0h1m2 0h1m4 0h1m2 0h1m1 0h2m2 0h1m1 0h2m3 0h1m2 0h1m5 0h1m3 0h2m2 0h1m2 0h1m2 0h1m6 0h1m2 0h1m2 0h1m1 0h1m1 0h1m61 0h1m4 0h1m2 0h1m2 0h1m6 0h1m2 0h1m2 0h1m3 0h2m5 0h1m2 0h1m6 0h1m2 0h1m2 0h1m2 0h1m7 0h1m2 0h1m2 0h1m2 0h2m13 0h1m-233 1h1m6 0h1m9 0h1m4 0h1m2 0h1m5 0h1m2 0h1m3 0h1m5 0h1m5 0h2m6 0h1m2 0h1m1 0h1m2 0h1m2 0h1m1 0h2m8 0h1m23 0h1m39 0h1m2 0h1m1 0h2m1 0h2m1 0h1m2 0h1m2 0h1m2 0h1m1 0h1m2 0h1m5 0h2m3 0h1m2 0h1m1 0h1m3 0h1m3 0h1m2 0h1m5 0h1m2 0h1m4 0h1m2 0h1m3 0h2m9 0h1m-233 1h1m4 0h1m1 0h1m9 0h1m3 0h1m9 0h1m1 0h1m1 0h1m2 0h2m5 0h1m1 0h1m2 0h3m7 0h2m1 0h2m1 0h3m8 0h1m1 0h1m2 0h1m1 0h2m21 0h1m39 0h2m1 0h1m1 0h1m1 0h2m10 0h2m2 0h2m1 0h2m1 0h1m6 0h1m3 0h1m1 0h2m1 0h2m1 0h2m1 0h2m1 0h1m1 0h1m22 0h1m-215 1h1m6 0h1m8 0h3m1 0h2m2 0h1m1 0h2m1 0h2m14 0h2m1 0h3m6 0h1m2 0h1m2 0h1m1 0h3m5 0h3m8 0h1m21 0h1m26 0h1m1 0h1m1 0h1m5 0h2m2 0h2m7 0h1m2 0h4m1 0h2m1 0h1m7 0h1m3 0h3m1 0h2m2 0h1m2 0h1m1 0h2m2 0h1m2 0h1m-207 1h1m4 0h1m4 0h1m1 0h1m9 0h1m1 0h1m2 0h1m2 0h1m1 0h4m11 0h3m1 0h2m2 0h1m9 0h1m1 0h1m2 0h1m2 0h1m2 0h1m2 0h3m1 0h2m57 0h4m14 0h1m3 0h1m5 0h1m2 0h1m1 0h3m1 0h1m2 0h1m2 0h1m2 0h2m1 0h4m2 0h1m4 0h1m11 0h1m6 0h1m4 0h1m-229 1h1m9 0h1m6 0h1m11 0h4m2 0h1m2 0h1m2 0h1m2 0h3m3 0h1m2 0h1m5 0h1m1 0h1m3 0h1m2 0h1m7 0h1m2 0h1m1 0h1m1 0h3m34 0h1m22 0h3m4 0h1m1 0h1m2 0h1m10 0h1m5 0h1m2 0h1m5 0h4m2 0h1m2 0h1m5 0h4m7 0h1m11 0h1m-222 1h1m9 0h1m16 0h1m6 0h1m6 0h3m1 0h2m2 0h1m2 0h1m4 0h3m1 0h1m8 0h4m1 0h2m2 0h1m2 0h1m5 0h1m29 0h1m23 0h1m2 0h1m1 0h1m9 0h1m4 0h1m1 0h1m8 0h3m1 0h1m2 0h2m4 0h2m1 0h3m6 0h1m1 0h1m11 0h1m-212 1h1m25 0h1m4 0h1m4 0h4m1 0h2m2 0h1m1 0h2m1 0h1m3 0h1m9 0h1m1 0h1m2 0h1m2 0h1m1 0h2m1 0h2m2 0h1m2 0h2m54 0h1m7 0h1m4 0h1m1 0h2m1 0h1m2 0h1m1 0h2m1 0h1m11 0h1m1 0h1m1 0h2m2 0h1m2 0h1m1 0h1m1 0h2m4 0h1m11 0h1m6 0h1m9 0h1m1 0h1m-217 1h1m4 0h1m16 0h2m3 0h2m1 0h2m3 0h1m8 0h1m4 0h1m4 0h1m8 0h1m2 0h1m10 0h1m50 0h1m4 0h2m1 0h1m2 0h1m1 0h2m1 0h2m1 0h2m1 0h1m2 0h1m4 0h1m8 0h1m3 0h1m2 0h1m2 0h1m1 0h1m7 0h1m1 0h1m4 0h1m4 0h1m4 0h1m1 0h1m9 0h1m-227 1h1m1 0h1m4 0h1m9 0h1m9 0h1m5 0h1m19 0h1m2 0h1m2 0h1m1 0h1m6 0h1m3 0h1m5 0h1m54 0h1m19 0h1m9 0h1m2 0h1m2 0h1m4 0h1m2 0h1m1 0h1m26 0h1m14 0h1m-224 1h1m2 0h1m12 0h1m25 0h1m4 0h1m4 0h1m2 0h1m2 0h1m18 0h1m2 0h1m4 0h1m2 0h1m37 0h1m21 0h1m2 0h2m1 0h2m1 0h2m2 0h1m9 0h1m2 0h1m4 0h1m13 0h1m8 0h2m8 0h1m4 0h1m1 0h1m-220 1h1m3 0h1m8 0h1m9 0h1m6 0h1m1 0h1m22 0h1m2 0h1m3 0h1m3 0h1m2 0h1m6 0h1m8 0h1m7 0h1m56 0h1m6 0h1m2 0h1m2 0h1m7 0h1m2 0h1m2 0h1m1 0h1m5 0h1m4 0h1m16 0h1m11 0h1m10 0h1m-233 1h1m5 0h1m6 0h2m2 0h1m24 0h1m19 0h1m2 0h1m15 0h1m35 0h1m3 0h1m43 0h1m2 0h1m53 0h1m8 0h1m-225 1h2m2 0h1m7 0h1m3 0h2m2 0h1m13 0h1m2 0h2m8 0h1m4 0h1m12 0h1m2 0h1m2 0h1m7 0h1m2 0h1m43 0h1m4 0h1m5 0h1m7 0h1m2 0h1m2 0h1m12 0h1m26 0h1m13 0h1m3 0h1m12 0h1m-229 1h1m9 0h1m6 0h1m2 0h2m31 0h1m14 0h1m2 0h1m88 0h1m14 0h1m9 0h1m16 0h1m2 0h1m1 0h2m18 0h1m-202 1h1m32 0h1m16 0h1m2 0h1m2 0h1m63 0h1m2 0h1m2 0h1m12 0h1m3 0h1m32 0h2m12 0h1m-198 1h1m7 0h1m3 0h1m1 0h1m2 0h1m62 0h1m28 0h1m39 0h1m20 0h1m2 0h1m1 0h1m1 0h1m28 0h1m5 0h1m-230 1h1m1 0h1m6 0h1m8 0h1m9 0h1m6 0h1m15 0h1m122 0h1m3 0h1m5 0h1m4 0h1m11 0h1m1 0h1m8 0h2m10 0h2m-208 1h1m20 0h1m16 0h1m8 0h1m3 0h1m78 0h1m5 0h1m12 0h1m6 0h2m-159 1h1m2 0h1m8 0h2m25 0h1m5 0h1m10 0h1m77 0h1m9 0h1m18 0h1m11 0h1m8 0h1m-174 1h1m11 0h2m8 0h1m103 0h1m5 0h1m9 0h1m9 0h1m11 0h1m-154 1h1m11 0h1m20 0h1m2 0h1m84 0h1m7 0h1m-63 1h1m61 0h2m-12 1h1m-52 3h1m3 4h1m2 9h2m-3 2h1m1 1h1m4 2h1m-49 1h1m2 0h1m28 0h1m15 1h1m-91 1h1m30 0h1m88 0h1m2 0h1m-103 1h1m3 0h1m9 0h1m5 0h1m88 0h1m3 0h1m15 0h1m-163 1h2m9 0h1m8 0h1m2 0h1m7 0h1m9 0h1m104 0h1m2 0h1m10 0h1m23 0h1m-184 1h1m144 0h2m18 0h1m16 0h1m-206 1h2m19 0h1m8 0h1m2 0h1m19 0h1m2 0h1m36 0h1m20 0h1m40 0h1m2 0h1m6 0h1m5 0h1m17 0h1m17 0h1m19 0h1m1 0h1"/>
<path stroke="#4742e6" d="M0 0m107 62h1m19 0h1m-27 1h1m7 0h5m6 0h6m7 0h1m-42 1h1m4 0h1m4 0h3m9 0h6m10 0h2m5 0h1m-48 1h1m3 0h1m3 0h2m5 0h3m19 0h3m5 0h1m4 0h1m3 0h1m-57 1h1m2 0h1m3 0h2m3 0h2m5 0h2m2 0h1m10 0h2m2 0h1m5 0h3m3 0h2m2 0h2m2 0h1m2 0h1m-67 1h1m2 0h1m2 0h1m3 0h1m3 0h1m6 0h1m6 0h1m11 0h1m6 0h1m1 0h1m3 0h2m3 0h1m3 0h1m2 0h1m-65 1h1m2 0h1m2 0h2m6 0h1m5 0h1m22 0h1m2 0h1m3 0h1m4 0h2m2 0h1m5 0h1m2 0h1m-70 1h1m2 0h1m1 0h2m5 0h1m36 0h1m1 0h1m10 0h1m2 0h1m2 0h1m-70 1h1m1 0h1m2 0h1m6 0h1m46 0h1m5 0h1m4 0h1m-70 1h1m1 0h1m8 0h1m5 0h1m14 0h4m24 0h1m1 0h2m1 0h1m2 0h1m1 0h1m-72 1h1m1 0h1m4 0h2m1 0h1m59 0h1m-72 1h1m1 0h1m1 0h1m11 0h1m6 0h1m11 0h2m17 0h1m3 0h1m-58 1h1m1 0h1m54 0h1m5 0h1m3 0h1m-64 1h1m3 0h1m45 0h1m13 0h1m-66 1h1m34 0h1m23 0h1m6 0h1m-68 1h1m12 0h1m32 0h1m19 0h1m-42 1h1m18 0h1m15 0h1m4 0h1m82 0h1m2 0h1m-174 1h1m2 0h1m34 0h1m7 0h1m12 0h1m50 0h1m-173 1h1m5 0h2m2 0h1m45 0h1m2 0h1m44 0h1m41 0h1m1 0h1m26 0h1m2 0h1m45 0h1m2 0h2m5 0h2m-232 1h1m15 0h1m32 0h1m55 0h1m37 0h1m33 0h1m45 0h2m5 0h1m-234 1h1m15 0h1m13 0h1m12 0h1m5 0h1m7 0h1m18 0h1m2 0h1m5 0h1m18 0h1m70 0h1m13 0h1m12 0h1m27 0h1m3 0h1m-221 1h1m2 0h1m3 0h1m2 0h1m2 0h1m12 0h1m2 0h1m10 0h1m2 0h1m12 0h1m2 0h1m12 0h1m8 0h1m26 0h1m33 0h1m2 0h1m2 0h1m15 0h1m2 0h1m23 0h1m2 0h1m2 0h1m5 0h2m-216 1h1m9 0h1m6 0h1m3 0h1m9 0h1m10 0h1m2 0h1m5 0h1m9 0h1m5 0h1m2 0h1m7 0h1m5 0h1m13 0h1m13 0h1m27 0h1m7 0h1m9 0h2m1 0h2m2 0h1m15 0h1m2 0h1m9 0h1m2 0h1m7 0h1m9 0h1m6 0h1m1 0h1m6 0h1m-236 1h1m6 0h1m14 0h1m1 0h2m4 0h1m2 0h1m2 0h1m6 0h1m2 0h1m12 0h1m2 0h2m1 0h2m2 0h1m12 0h1m13 0h1m45 0h1m3 0h1m5 0h1m11 0h1m3 0h1m2 0h2m1 0h1m2 0h1m7 0h1m2 0h1m2 0h1m9 0h1m2 0h2m5 0h1m9 0h1m6 0h1m-228 1h1m6 0h1m19 0h1m1 0h2m5 0h1m5 0h1m2 0h1m3 0h2m2 0h1m2 0h1m1 0h2m2 0h1m10 0h1m1 0h2m2 0h1m2 0h1m5 0h1m1 0h2m52 0h1m4 0h2m2 0h1m2 0h1m2 0h2m1 0h2m1 0h1m3 0h2m5 0h1m2 0h1m2 0h1m4 0h1m2 0h1m2 0h1m1 0h2m7 0h1m8 0h1m9 0h2m3 0h1m1 0h1m-229 1h1m14 0h1m4 0h1m6 0h1m7 0h1m1 0h2m3 0h1m2 0h1m5 0h1m1 0h2m3 0h1m3 0h1m1 0h2m1 0h1m4 0h1m10 0h3m1 0h1m53 0h2m1 0h1m11 0h1m1 0h2m1 0h1m1 0h2m2 0h1m1 0h2m3 0h1m2 0h1m8 0h1m3 0h2m1 0h2m5 0h1m4 0h1m8 0h1m7 0h1m6 0h1m1 0h1m-231 1h1m4 0h1m4 0h1m1 0h1m4 0h1m4 0h1m24 0h1m1 0h3m3 0h1m1 0h1m2 0h2m1 0h1m1 0h2m1 0h2m1 0h1m2 0h1m2 0h2m1 0h2m2 0h4m33 0h1m17 0h3m2 0h1m2 0h4m1 0h1m2 0h1m1 0h2m1 0h1m2 0h1m1 0h2m2 0h1m4 0h2m1 0h1m1 0h1m10 0h1m13 0h1m9 0h1m6 0h1m-217 1h1m16 0h1m1 0h1m4 0h1m6 0h2m6 0h3m1 0h2m4 0h1m2 0h4m1 0h3m2 0h1m2 0h1m2 0h1m2 0h2m3 0h1m4 0h3m18 0h1m30 0h2m2 0h1m6 0h2m12 0h2m1 0h4m2 0h1m2 0h1m2 0h1m2 0h2m1 0h2m1 0h2m-193 1h1m17 0h1m6 0h1m4 0h1m4 0h1m6 0h1m2 0h2m2 0h1m2 0h1m2 0h1m1 0h2m1 0h2m2 0h1m5 0h1m2 0h1m1 0h1m1 0h1m2 0h1m2 0h1m2 0h4m1 0h1m1 0h2m6 0h1m17 0h1m18 0h1m2 0h1m1 0h1m1 0h1m1 0h2m11 0h1m3 0h1m2 0h1m2 0h1m3 0h1m1 0h2m1 0h1m2 0h1m5 0h1m11 0h1m4 0h1m-179 1h1m4 0h1m6 0h1m7 0h3m2 0h1m2 0h1m5 0h1m2 0h1m3 0h2m3 0h1m2 0h1m2 0h1m2 0h1m2 0h1m1 0h1m6 0h1m45 0h1m1 0h1m2 0h1m3 0h2m2 0h1m10 0h1m1 0h1m12 0h1m1 0h2m2 0h1m4 0h1m1 0h1m9 0h1m11 0h1m11 0h1m-222 1h1m13 0h1m9 0h1m14 0h1m1 0h1m4 0h1m11 0h1m3 0h1m1 0h1m2 0h1m2 0h2m11 0h1m3 0h1m2 0h1m4 0h1m38 0h1m2 0h1m14 0h3m2 0h1m2 0h1m2 0h1m2 0h2m14 0h1m8 0h1m7 0h1m1 0h1m15 0h1m3 0h1m8 0h1m-233 1h1m23 0h1m1 0h1m4 0h1m11 0h1m7 0h1m1 0h1m3 0h2m1 0h1m2 0h1m2 0h2m1 0h1m2 0h1m1 0h1m2 0h1m5 0h1m2 0h1m4 0h1m1 0h1m43 0h1m3 0h1m2 0h1m2 0h2m2 0h1m2 0h1m1 0h1m2 0h1m1 0h2m5 0h1m1 0h2m1 0h1m2 0h2m6 0h1m30 0h1m6 0h1m-218 1h1m31 0h1m8 0h1m7 0h1m2 0h1m3 0h1m18 0h1m1 0h1m7 0h2m54 0h1m1 0h1m11 0h1m6 0h1m12 0h1m1 0h1m4 0h1m11 0h1m18 0h1m1 0h1m-179 1h1m7 0h1m1 0h1m3 0h2m2 0h1m4 0h1m60 0h1m4 0h1m14 0h1m2 0h1m3 0h1m2 0h2m1 0h1m3 0h1m4 0h2m25 0h1m4 0h1m3 0h1m23 0h1m-231 1h1m19 0h1m3 0h1m5 0h1m6 0h1m6 0h1m7 0h1m1 0h1m4 0h1m5 0h1m1 0h2m6 0h1m11 0h1m4 0h1m1 0h1m42 0h1m2 0h1m4 0h1m11 0h1m6 0h1m8 0h1m4 0h1m1 0h1m7 0h1m6 0h1m7 0h1m5 0h1m19 0h1m-230 1h1m2 0h2m6 0h1m1 0h1m25 0h1m1 0h1m9 0h1m17 0h1m2 0h1m2 0h1m12 0h1m57 0h1m10 0h1m2 0h1m27 0h1m10 0h2m4 0h1m12 0h1m6 0h1m8 0h1m-226 1h1m1 0h1m9 0h1m9 0h1m8 0h1m12 0h1m9 0h1m8 0h1m13 0h1m2 0h1m75 0h1m8 0h2m5 0h1m7 0h1m33 0h1m-214 1h2m1 0h1m7 0h1m2 0h1m17 0h1m2 0h1m3 0h2m1 0h1m6 0h1m10 0h1m6 0h1m2 0h1m2 0h1m9 0h1m10 0h1m11 0h1m22 0h1m9 0h1m5 0h1m5 0h1m26 0h1m5 0h1m9 0h1m1 0h1m10 0h1m-193 1h1m19 0h1m6 0h2m2 0h1m13 0h1m3 0h1m43 0h1m52 0h1m6 0h1m4 0h1m11 0h1m-163 1h1m9 0h1m19 0h1m2 0h1m9 0h1m57 0h1m33 0h1m3 0h1m2 0h1m9 0h1m18 0h1m2 0h1m-163 1h2m7 0h1m1 0h1m9 0h1m2 0h1m12 0h1m67 0h1m10 0h1m31 0h2m-149 1h1m7 0h1m10 0h1m1 0h1m8 0h1m2 0h1m37 0h1m65 0h1m-128 1h1m10 1h1m-3 20h1m13 0h1m-24 1h1m68 0h1m46 0h2m-131 1h1m10 0h1m1 0h1m115 0h1m-128 1h1m8 0h1m17 0h1m2 0h1m88 0h1m6 0h1m2 0h1m20 0h1m-164 1h1m1 0h1m7 0h1m13 0h1m1 0h1m6 0h1m49 0h1m44 0h2m5 0h1m28 0h1m7 0h1m1 0h2m-196 1h1m19 0h1m16 0h1m5 0h1m6 0h1m9 0h1m15 0h1m31 0h1m54 0h1m3 0h1m5 0h1m7 0h1m13 0h1m7 0h1m-213 1h1m6 0h2m1 0h2m7 0h1m19 0h2m6 0h1m1 0h1m6 0h1m9 0h2m107 0h1m7 0h1m2 0h1m5 0h1m10 0h2m8 0h1m9 0h1m-224 1h1m6 0h1m11 0h1m8 0h1m2 0h1m3 0h2m2 0h2m8 0h1m6 0h1m14 0h1m2 0h1m2 0h1m21 0h1m49 0h1m8 0h1m29 0h2m1 0h6m8 0h1m6 0h2m7 0h1m1 0h1m1 0h1m5 0h1"/>
<path stroke="#4746ea" d="M0 0m109 66h2m13 0h2m-24 1h2m8 0h11m8 0h1m-38 1h1m4 0h1m5 0h2m21 0h2m5 0h1m-44 1h1m3 0h1m3 0h2m5 0h4m13 0h4m5 0h1m4 0h1m3 0h1m-53 1h1m2 0h1m3 0h2m3 0h2m6 0h1m6 0h1m6 0h1m5 0h3m3 0h2m2 0h1m3 0h1m-57 1h1m2 0h1m3 0h1m10 0h1m23 0h1m3 0h1m4 0h1m2 0h1m-56 1h1m5 0h1m3 0h1m2 0h1m5 0h1m25 0h1m5 0h1m2 0h1m2 0h1m2 0h1m-60 1h1m2 0h1m23 0h1m2 0h2m5 0h1m6 0h1m13 0h1m1 0h1m-62 1h1m1 0h1m23 0h1m7 0h1m8 0h1m4 0h1m5 0h2m1 0h1m2 0h1m-57 1h1m2 0h1m14 0h1m18 0h1m17 0h1m1 0h1m-62 1h1m57 0h1m1 0h1m1 0h1m-64 1h1m35 0h1m17 0h1m7 0h1m-64 1h1m47 0h1m13 0h1m-62 1h1m3 0h1m144 0h1m-233 1h1m83 0h1m1 0h1m21 0h1m119 0h1m-232 1h1m2 0h1m3 0h1m2 0h1m213 0h1m6 0h1m-232 1h1m3 0h1m2 0h1m3 0h1m2 0h1m73 0h1m50 0h1m6 0h1m78 0h1m2 0h1m-228 1h1m2 0h1m3 0h1m5 0h1m74 0h1m55 0h1m69 0h1m12 0h2m5 0h1m-235 1h1m3 0h1m9 0h1m2 0h1m3 0h1m29 0h1m15 0h1m48 0h1m22 0h1m41 0h1m35 0h1m-218 1h1m2 0h1m3 0h1m5 0h1m3 0h1m2 0h1m27 0h1m23 0h1m2 0h1m2 0h1m60 0h1m3 0h1m10 0h1m2 0h1m2 0h1m46 0h1m3 0h1m9 0h1m2 0h1m3 0h1m5 0h1m-219 1h2m21 0h1m26 0h1m2 0h1m2 0h1m69 0h1m23 0h1m6 0h1m29 0h1m2 0h2m6 0h1m12 0h1m-229 1h1m3 0h1m8 0h2m5 0h1m16 0h1m13 0h1m12 0h1m13 0h1m5 0h1m7 0h1m22 0h1m40 0h1m12 0h1m13 0h1m2 0h1m13 0h1m3 0h1m5 0h1m7 0h1m8 0h2m2 0h1m-232 1h1m5 0h1m17 0h1m5 0h2m5 0h1m4 0h1m2 0h1m2 0h1m9 0h1m3 0h1m83 0h1m2 0h1m22 0h1m2 0h2m9 0h1m2 0h1m2 0h1m4 0h1m5 0h2m2 0h1m2 0h1m6 0h1m9 0h1m6 0h1m-231 1h1m9 0h1m9 0h1m5 0h1m11 0h1m2 0h1m9 0h2m2 0h1m9 0h1m8 0h1m4 0h1m4 0h2m14 0h1m3 0h1m31 0h2m3 0h1m5 0h1m4 0h1m8 0h1m9 0h1m2 0h1m2 0h1m2 0h1m9 0h1m3 0h1m28 0h1m6 0h2m-233 1h1m33 0h1m6 0h1m2 0h1m5 0h1m2 0h1m6 0h1m8 0h1m3 0h1m2 0h1m2 0h1m2 0h1m4 0h1m1 0h1m47 0h1m1 0h1m1 0h1m1 0h1m2 0h1m1 0h2m1 0h2m1 0h2m2 0h2m8 0h1m1 0h1m4 0h1m2 0h1m8 0h1m4 0h1m11 0h1m9 0h1m4 0h1m1 0h1m6 0h1m-224 1h1m6 0h1m6 0h1m11 0h1m9 0h1m5 0h1m2 0h2m2 0h2m1 0h1m5 0h2m2 0h2m14 0h1m1 0h1m2 0h1m1 0h1m1 0h1m5 0h1m19 0h1m19 0h1m1 0h2m1 0h3m18 0h2m1 0h1m2 0h2m1 0h2m2 0h1m3 0h1m9 0h1m9 0h1m4 0h1m1 0h1m7 0h1m5 0h1m-215 1h1m27 0h1m14 0h1m2 0h2m2 0h1m2 0h2m11 0h3m2 0h1m2 0h1m5 0h1m1 0h2m3 0h1m6 0h1m19 0h1m14 0h2m1 0h1m2 0h1m6 0h1m1 0h2m3 0h1m9 0h1m2 0h2m1 0h2m2 0h1m1 0h1m1 0h1m31 0h1m-211 1h1m11 0h1m20 0h1m17 0h3m11 0h1m1 0h2m3 0h1m2 0h1m2 0h1m2 0h1m2 0h4m1 0h1m19 0h1m22 0h2m1 0h1m1 0h1m1 0h1m2 0h1m4 0h1m2 0h1m1 0h1m1 0h2m1 0h1m4 0h1m6 0h1m1 0h2m3 0h1m9 0h1m6 0h1m4 0h1m4 0h1m1 0h1m20 0h1m-230 1h1m26 0h1m1 0h1m9 0h1m1 0h1m18 0h1m2 0h7m9 0h1m7 0h1m5 0h2m40 0h1m2 0h1m20 0h1m1 0h5m6 0h1m2 0h1m16 0h1m15 0h1m3 0h1m-206 1h1m3 0h1m3 0h1m7 0h2m5 0h1m4 0h1m4 0h1m18 0h1m2 0h2m2 0h1m2 0h1m2 0h1m1 0h2m2 0h2m1 0h2m1 0h2m2 0h1m2 0h2m16 0h1m22 0h1m1 0h1m1 0h1m2 0h2m2 0h2m2 0h1m2 0h1m1 0h1m1 0h1m7 0h1m2 0h2m6 0h1m9 0h1m29 0h1m-189 1h1m14 0h1m21 0h1m5 0h3m16 0h1m5 0h1m37 0h1m4 0h1m4 0h1m16 0h2m3 0h1m2 0h1m21 0h1m19 0h1m8 0h1m6 0h1m3 0h1m-222 1h1m10 0h1m16 0h1m11 0h1m6 0h1m4 0h1m4 0h1m11 0h1m6 0h2m4 0h1m13 0h1m16 0h1m9 0h1m8 0h1m1 0h2m4 0h1m4 0h1m8 0h2m3 0h1m4 0h1m4 0h1m11 0h1m2 0h1m14 0h1m21 0h1m-232 1h4m17 0h1m20 0h1m1 0h1m2 0h1m28 0h1m7 0h1m8 0h1m8 0h1m29 0h1m8 0h1m2 0h1m2 0h1m2 0h1m7 0h1m2 0h1m3 0h1m25 0h1m3 0h1m2 0h2m28 0h1m-216 1h1m2 0h1m1 0h1m2 0h1m10 0h2m13 0h1m43 0h1m5 0h1m5 0h1m33 0h1m4 0h1m20 0h1m6 0h1m14 0h1m1 0h2m26 0h1m1 0h1m6 0h1m-201 1h1m8 0h1m10 0h1m10 0h2m17 0h1m13 0h1m6 0h1m8 0h1m41 0h1m23 0h1m12 0h1m23 0h1m-173 1h1m21 0h2m4 0h1m6 0h1m3 0h1m5 0h1m5 0h1m2 0h1m9 0h1m2 0h1m2 0h1m26 0h1m12 0h1m2 0h1m3 0h1m2 0h1m16 0h1m21 0h1m11 0h1m-171 1h1m8 0h1m27 0h1m19 0h1m12 0h1m6 0h1m10 0h1m16 0h1m6 0h1m5 0h2m2 0h1m9 0h1m6 0h1m9 0h2m-143 1h1m22 0h1m19 0h1m2 0h1m16 0h1m36 0h1m9 0h1m8 0h1m21 0h2m-132 1h1m69 0h1m10 0h1m36 0h2m-97 1h2m72 0h1m-74 1h1m-2 17h1m66 1h1m16 0h1m-107 1h1m20 0h1m70 0h1m-94 1h1m10 0h1m16 0h1m3 0h1m2 0h1m53 0h1m6 0h1m11 0h1m20 0h1m-112 1h1m2 0h1m3 0h1m46 0h1m8 0h1m21 0h1m6 0h1m8 0h1m1 0h1m8 0h2m6 0h1m-161 1h1m10 0h2m11 0h1m4 0h2m5 0h1m9 0h1m21 0h1m12 0h1m24 0h1m2 0h1m9 0h1m8 0h1m7 0h1m4 0h1m11 0h1m8 0h1m6 0h1m-177 1h1m18 0h1m8 0h1m12 0h1m11 0h1m15 0h1m29 0h1m52 0h1m5 0h1m1 0h1m7 0h3m7 0h1m-184 1h1m13 0h1m8 0h2m28 0h1m9 0h1m1 0h1m5 0h1m4 0h1m2 0h1m33 0h1m2 0h1m4 0h1m2 0h1m1 0h1m2 0h1m2 0h1m4 0h2m2 0h1m3 0h1m6 0h1m1 0h1m3 0h1m4 0h1m2 0h2m7 0h1m8 0h1m7 0h2m2 0h3m-213 1h1m2 0h1m2 0h1m7 0h1m13 0h1m4 0h3m2 0h1m34 0h1m2 0h1m13 0h1m4 0h1m34 0h1m2 0h1m2 0h1m7 0h1m1 0h2m1 0h1m2 0h1m2 0h2m8 0h1m21 0h2m28 0h1m1 0h1m3 0h1m-228 1h1m1 0h2m6 0h2m6 0h1m2 0h2m7 0h1m2 0h1m14 0h1m6 0h1m12 0h2m1 0h1m9 0h1m6 0h1m5 0h1m3 0h1m35 0h1m2 0h1m1 0h2m6 0h1m12 0h1m1 0h1m4 0h1m9 0h1m1 0h1m22 0h1m12 0h1m7 0h1m6 0h1"/>
<path stroke="#484bee" d="M0 0m111 70h6m1 0h6m-25 1h1m4 0h2m22 0h2m5 0h1m-40 1h1m4 0h1m5 0h3m15 0h3m5 0h1m3 0h1m-44 1h1m3 0h1m3 0h2m5 0h2m1 0h3m5 0h2m2 0h1m5 0h2m4 0h1m3 0h1m2 0h1m-52 1h1m2 0h2m2 0h2m3 0h1m1 0h1m7 0h1m5 0h1m7 0h1m5 0h1m3 0h1m-51 1h1m4 0h1m8 0h1m3 0h1m18 0h1m14 0h1m2 0h1m-55 1h1m2 0h1m6 0h1m2 0h1m1 0h1m8 0h1m7 0h1m14 0h1m5 0h1m-55 1h1m1 0h1m21 0h1m20 0h1m4 0h1m2 0h1m1 0h1m2 0h1m-60 1h1m1 0h1m5 0h1m1 0h1m27 0h1m-38 1h1m50 1h2m3 0h1m-54 1h1m14 0h1m38 0h1m-56 1h1m21 0h1m20 0h1m10 0h1m-134 1h1m210 0h1m2 0h1m6 0h1m-225 1h1m2 0h1m78 0h1m48 0h1m2 0h1m69 0h1m9 0h1m2 0h1m3 0h1m2 0h1m-222 1h1m79 0h1m20 0h1m105 0h1m13 0h1m-233 1h1m9 0h2m2 0h1m12 0h1m66 0h1m116 0h1m6 0h1m2 0h1m10 0h1m2 0h1m-219 1h1m3 0h1m9 0h1m2 0h1m46 0h1m12 0h1m47 0h1m7 0h1m2 0h1m53 0h1m3 0h1m2 0h1m6 0h1m2 0h1m10 0h1m-233 1h1m3 0h1m2 0h1m2 0h1m3 0h1m2 0h1m2 0h1m3 0h1m65 0h1m40 0h1m6 0h1m58 0h1m10 0h1m2 0h1m6 0h1m6 0h1m2 0h1m3 0h1m-236 1h1m5 0h2m5 0h1m9 0h1m3 0h1m3 0h1m5 0h1m34 0h1m2 0h1m10 0h1m14 0h1m46 0h1m10 0h1m2 0h1m37 0h2m5 0h2m8 0h2m6 0h1m-222 1h1m5 0h2m8 0h2m2 0h1m2 0h2m9 0h1m2 0h1m8 0h1m15 0h1m2 0h1m40 0h1m4 0h1m19 0h1m29 0h1m2 0h1m15 0h1m2 0h1m3 0h1m5 0h1m17 0h1m5 0h1m-205 1h1m6 0h1m17 0h1m2 0h1m17 0h1m10 0h1m8 0h1m6 0h1m5 0h1m10 0h1m31 0h1m11 0h1m2 0h1m8 0h1m7 0h1m15 0h2m6 0h1m9 0h1m2 0h1m9 0h1m-205 1h2m8 0h1m6 0h1m16 0h1m3 0h1m2 0h1m4 0h1m10 0h1m2 0h1m6 0h1m8 0h1m5 0h1m30 0h1m10 0h1m5 0h1m4 0h2m1 0h1m10 0h1m2 0h1m2 0h1m9 0h1m11 0h2m6 0h1m1 0h1m6 0h1m9 0h2m-198 1h1m8 0h1m19 0h1m10 0h1m5 0h1m7 0h1m2 0h1m2 0h1m5 0h1m48 0h1m4 0h1m3 0h1m2 0h1m2 0h1m2 0h1m10 0h1m2 0h1m2 0h1m8 0h1m2 0h1m9 0h1m-180 1h2m7 0h1m3 0h1m8 0h1m16 0h1m3 0h1m6 0h1m7 0h1m1 0h2m1 0h2m1 0h1m2 0h1m1 0h2m7 0h1m40 0h2m6 0h1m2 0h2m1 0h1m1 0h2m2 0h1m2 0h1m1 0h1m7 0h1m1 0h2m1 0h1m32 0h1m19 0h1m-198 1h2m18 0h1m13 0h1m2 0h1m11 0h2m8 0h2m1 0h1m3 0h3m37 0h1m1 0h1m1 0h2m2 0h2m8 0h1m12 0h1m2 0h1m3 0h1m6 0h1m11 0h1m19 0h1m7 0h1m-212 1h1m3 0h1m4 0h2m6 0h1m46 0h2m11 0h1m4 0h1m5 0h2m18 0h1m17 0h1m5 0h2m4 0h1m2 0h1m2 0h1m2 0h1m2 0h1m2 0h1m39 0h1m8 0h1m22 0h1m-205 1h1m5 0h1m31 0h1m1 0h1m2 0h1m2 0h1m2 0h5m5 0h1m2 0h1m1 0h2m2 0h1m1 0h1m33 0h1m1 0h3m1 0h1m6 0h1m2 0h4m2 0h1m2 0h1m2 0h1m17 0h1m4 0h1m6 0h1m11 0h1m10 0h1m3 0h1m-215 1h1m1 0h1m6 0h1m33 0h1m9 0h1m11 0h1m2 0h1m4 0h3m1 0h1m11 0h1m1 0h1m2 0h1m20 0h1m12 0h1m1 0h2m1 0h1m11 0h1m1 0h3m1 0h1m4 0h1m17 0h1m4 0h1m2 0h1m16 0h1m14 0h1m2 0h1m1 0h1m6 0h4m-226 1h1m31 0h1m5 0h1m19 0h1m6 0h1m1 0h1m2 0h1m2 0h1m2 0h2m1 0h1m10 0h2m8 0h1m20 0h1m2 0h1m8 0h1m1 0h1m1 0h1m34 0h1m11 0h1m18 0h1m8 0h2m1 0h3m4 0h1m-217 1h1m4 0h1m10 0h1m3 0h1m6 0h1m8 0h1m5 0h1m1 0h1m7 0h1m1 0h1m6 0h1m3 0h1m3 0h1m5 0h1m5 0h1m4 0h1m27 0h1m1 0h1m3 0h1m2 0h1m3 0h1m1 0h1m2 0h2m2 0h1m2 0h1m7 0h1m1 0h1m12 0h1m8 0h1m21 0h1m3 0h4m1 0h1m-197 1h2m2 0h1m2 0h1m31 0h1m16 0h1m2 0h1m1 0h1m12 0h1m41 0h1m3 0h1m8 0h1m4 0h1m9 0h1m7 0h1m3 0h1m8 0h1m8 0h1m1 0h1m4 0h2m2 0h1m-175 1h1m3 0h1m25 0h1m5 0h1m4 0h1m1 0h1m19 0h1m14 0h1m26 0h1m13 0h1m23 0h1m10 0h1m5 0h1m2 0h2m2 0h1m-145 1h1m1 0h1m14 0h2m1 0h1m6 0h1m17 0h1m28 0h1m2 0h1m13 0h1m3 0h1m5 0h2m5 0h2m17 0h1m-126 1h1m7 0h2m8 0h1m2 0h1m7 0h1m2 0h1m7 0h1m5 0h1m3 0h1m46 0h1m6 0h1m12 0h1m-14 1h2m67 0h1m-90 1h1m2 0h1m15 0h1m-11 1h1m-38 4h1m0 1h1m-25 11h1m50 0h1m10 0h1m-85 1h1m8 0h1m9 0h1m2 0h1m40 0h1m9 0h1m5 0h1m-82 1h1m1 0h1m13 0h1m12 0h1m12 0h1m11 0h1m16 0h1m6 0h1m5 0h1m10 0h1m1 0h1m8 0h2m9 0h1m-138 1h1m19 0h1m6 0h1m55 0h1m10 0h1m12 0h2m2 0h1m5 0h1m-127 1h1m6 0h3m10 0h1m6 0h2m1 0h2m7 0h1m1 0h1m3 0h1m3 0h1m3 0h1m1 0h1m4 0h1m31 0h1m2 0h1m9 0h1m7 0h1m2 0h2m1 0h1m3 0h1m22 0h1m-153 1h1m3 0h1m1 0h1m15 0h1m1 0h1m1 0h1m6 0h1m4 0h1m13 0h1m2 0h1m4 0h1m2 0h1m2 0h1m11 0h1m11 0h1m4 0h2m4 0h1m15 0h1m12 0h1m8 0h1m4 0h1m-164 1h1m9 0h2m2 0h1m4 0h1m1 0h1m1 0h1m7 0h1m7 0h2m28 0h1m3 0h1m2 0h1m2 0h2m4 0h1m5 0h1m31 0h1m1 0h2m1 0h2m2 0h1m2 0h1m3 0h1m18 0h1m16 0h1m36 0h1m-212 1h4m4 0h1m3 0h1m20 0h1m3 0h1m19 0h1m5 0h2m1 0h2m1 0h1m3 0h1m6 0h1m8 0h1m40 0h1m3 0h1m2 0h1m4 0h1m8 0h1m19 0h1m9 0h1m10 0h1m17 0h1m-224 1h1m3 0h1m16 0h1m2 0h1m6 0h2m12 0h1m1 0h1m19 0h1m4 0h3m1 0h2m2 0h1m2 0h1m1 0h3m1 0h2m1 0h2m5 0h1m31 0h1m1 0h1m11 0h1m1 0h1m1 0h1m6 0h1m9 0h1m23 0h1m6 0h1m1 0h1m4 0h1m12 0h1m1 0h1m2 0h1m1 0h1m3 0h1m-230 1h1m14 0h1m21 0h2m2 0h2m25 0h1m1 0h1m6 0h1m2 0h1m2 0h1m2 0h4m2 0h1m26 0h1m13 0h1m5 0h1m5 0h3m1 0h1m7 0h1m2 0h1m26 0h1m6 0h1m7 0h1m4 0h1m23 0h2"/>
<path stroke="#4850f2" d="M0 0m111 73h1m10 0h2m-19 1h1m9 0h5m9 0h1m-33 1h1m3 0h1m5 0h2m17 0h2m4 0h2m3 0h1m-43 1h1m2 0h1m4 0h1m5 0h4m9 0h4m4 0h2m3 0h1m3 0h1m-47 1h1m2 0h1m3 0h1m3 0h1m1 0h1m6 0h1m7 0h1m6 0h1m5 0h1m2 0h1m-46 1h1m1 0h1m3 0h1m2 0h1m4 0h1m29 0h1m2 0h1m2 0h1m-50 1h1m18 0h1m21 0h1m6 0h1m1 0h1m-52 1h1m7 0h1m35 0h2m4 0h1m-48 1h2m6 0h1m21 0h1m15 0h1m1 0h1m-52 1h1m10 0h1m36 0h1m1 0h1m-52 1h1m19 0h1m15 0h1m1 0h1m3 0h1m1 0h1m5 0h1m1 0h1m-52 1h1m16 0h1m105 0h1m-121 1h1m119 0h1m-212 1h1m2 0h1m13 0h1m2 0h1m78 0h1m7 0h1m29 0h1m-135 1h1m2 0h1m13 0h1m2 0h1m88 0h1m1 0h1m-85 1h1m189 0h1m-222 1h1m6 0h1m6 0h1m2 0h1m13 0h1m59 0h1m102 0h1m6 0h1m16 0h1m2 0h1m-218 1h1m23 0h1m2 0h1m60 0h1m41 0h1m56 0h1m3 0h1m9 0h1m5 0h1m3 0h1m6 0h1m2 0h1m-211 1h1m2 0h1m3 0h1m5 0h1m3 0h1m5 0h1m35 0h1m2 0h1m56 0h1m19 0h1m2 0h1m30 0h1m9 0h1m10 0h1m2 0h1m6 0h1m-201 1h1m9 0h1m8 0h2m2 0h1m3 0h1m18 0h1m15 0h1m2 0h1m11 0h1m47 0h1m37 0h1m9 0h1m6 0h1m2 0h1m3 0h1m-186 1h1m16 0h2m6 0h1m5 0h1m9 0h1m19 0h1m11 0h1m97 0h1m30 0h1m-200 1h1m3 0h1m2 0h2m5 0h1m3 0h1m6 0h1m2 0h1m3 0h1m2 0h1m35 0h1m11 0h1m28 0h1m5 0h1m9 0h1m2 0h1m21 0h1m6 0h1m9 0h2m6 0h1m-197 1h1m7 0h1m23 0h1m15 0h2m2 0h1m8 0h1m5 0h1m6 0h1m2 0h1m6 0h1m5 0h1m48 0h1m2 0h1m6 0h1m5 0h1m8 0h1m17 0h1m9 0h1m2 0h1m9 0h2m6 0h1m4 0h1m-158 1h1m6 0h2m1 0h2m1 0h2m1 0h1m2 0h1m1 0h1m8 0h1m5 0h1m28 0h1m9 0h1m1 0h1m8 0h1m2 0h1m4 0h1m19 0h1m15 0h1m15 0h1m17 0h1m-229 1h1m18 0h1m3 0h1m15 0h1m26 0h1m2 0h1m2 0h1m6 0h1m8 0h1m2 0h2m1 0h1m19 0h1m13 0h1m1 0h1m3 0h1m15 0h1m2 0h1m2 0h1m3 0h1m35 0h1m7 0h1m22 0h1m-209 1h1m10 0h1m8 0h1m20 0h1m8 0h1m1 0h2m3 0h1m2 0h2m2 0h1m2 0h1m5 0h1m4 0h1m2 0h1m31 0h1m1 0h1m1 0h2m2 0h1m1 0h2m2 0h1m3 0h1m2 0h2m2 0h2m3 0h1m4 0h1m4 0h1m13 0h2m6 0h1m8 0h1m21 0h1m-228 1h1m2 0h2m8 0h1m38 0h1m16 0h1m14 0h1m3 0h1m5 0h1m34 0h1m2 0h1m2 0h1m8 0h1m2 0h1m2 0h1m5 0h1m4 0h1m9 0h1m8 0h1m13 0h1m10 0h1m4 0h1m5 0h1m-206 1h1m1 0h1m29 0h1m3 0h1m20 0h1m9 0h2m2 0h1m2 0h1m2 0h1m1 0h1m3 0h1m1 0h1m33 0h1m5 0h1m1 0h1m8 0h1m1 0h1m21 0h1m4 0h1m13 0h1m3 0h1m12 0h2m6 0h1m-195 1h1m2 0h1m3 0h1m14 0h1m5 0h2m5 0h1m5 0h1m4 0h1m1 0h1m11 0h1m2 0h1m2 0h2m1 0h1m8 0h1m25 0h1m7 0h1m2 0h1m8 0h1m8 0h1m9 0h1m42 0h1m-209 1h1m30 0h1m4 0h1m18 0h1m5 0h1m21 0h1m1 0h1m1 0h1m8 0h1m2 0h1m29 0h1m1 0h1m8 0h2m1 0h1m12 0h1m1 0h1m39 0h1m-156 1h1m22 0h1m14 0h1m8 0h2m1 0h1m7 0h1m32 0h1m2 0h2m13 0h1m4 0h3m12 0h2m10 0h1m5 0h1m-147 1h1m8 0h1m8 0h1m11 0h1m2 0h1m3 0h1m8 0h1m7 0h1m28 0h1m2 0h1m10 0h1m2 0h1m6 0h1m9 0h1m7 0h1m-107 1h1m9 0h1m10 0h1m2 0h1m4 0h1m5 0h1m37 0h1m1 0h2m2 0h1m2 0h1m4 0h1m10 0h1m7 0h1m3 0h1m-99 1h1m10 0h1m41 0h1m19 0h3m-65 1h1m10 0h1m33 0h1m18 0h1m-14 1h1m59 1h1m-83 8h1m-2 1h1m-21 4h1m2 0h1m-84 1h1m70 0h1m5 0h1m31 0h1m2 0h1m9 0h1m-74 1h1m12 0h1m19 0h1m2 0h1m2 0h1m40 0h1m4 0h2m11 0h1m-110 1h1m1 0h2m17 0h1m14 0h1m7 0h1m2 0h1m32 0h1m5 0h1m10 0h1m1 0h2m9 0h1m9 0h1m-120 1h1m1 0h1m9 0h2m3 0h1m2 0h1m7 0h1m8 0h1m2 0h2m1 0h1m4 0h1m30 0h1m1 0h1m10 0h1m3 0h1m4 0h1m4 0h1m2 0h1m10 0h1m6 0h1m1 0h1m1 0h1m-155 1h3m18 0h1m12 0h1m2 0h1m3 0h1m9 0h1m3 0h1m1 0h1m10 0h1m2 0h1m5 0h1m27 0h1m1 0h2m4 0h2m4 0h1m9 0h1m3 0h1m1 0h1m6 0h1m7 0h1m12 0h1m4 0h1m-185 1h1m11 0h1m4 0h1m8 0h1m33 0h1m2 0h1m1 0h1m2 0h1m2 0h3m14 0h1m24 0h1m4 0h2m7 0h1m1 0h2m2 0h1m13 0h1m8 0h1m3 0h1m5 0h2m9 0h1m2 0h2m2 0h1m2 0h2m25 0h1m-216 1h2m1 0h1m2 0h1m2 0h1m3 0h1m25 0h1m6 0h1m6 0h1m7 0h1m2 0h1m2 0h1m1 0h1m2 0h1m1 0h1m9 0h1m11 0h1m5 0h1m12 0h1m2 0h1m9 0h1m4 0h1m1 0h1m2 0h1m4 0h1m6 0h1m9 0h2m1 0h2m2 0h1m3 0h1m10 0h1m7 0h1m3 0h2m3 0h1m2 0h1m5 0h1m6 0h1m-222 1h1m1 0h1m5 0h1m6 0h1m6 0h1m3 0h1m3 0h1m8 0h1m11 0h1m4 0h1m9 0h1m2 0h1m10 0h1m5 0h1m2 0h1m31 0h2m6 0h2m13 0h2m5 0h1m1 0h2m5 0h1m11 0h1m6 0h1m1 0h1m6 0h1m16 0h1m4 0h1m10 0h1m-230 1h2m2 0h1m1 0h1m8 0h1m13 0h1m4 0h1m21 0h1m4 0h1m12 0h1m8 0h1m3 0h1m5 0h2m1 0h1m34 0h1m2 0h1m1 0h1m2 0h1m2 0h2m1 0h1m10 0h1m1 0h2m3 0h1m11 0h1m14 0h1m6 0h1m9 0h1m12 0h1m5 0h1m3 0h2m-227 1h1m20 0h2m16 0h1m1 0h1m7 0h1m6 0h1m18 0h1m2 0h1m9 0h1m2 0h3m33 0h3m11 0h1m2 0h2m1 0h2m11 0h1m7 0h1m25 0h1m1 0h1m16 0h1m13 0h1"/>
<path stroke="#4755f6" d="M0 0m105 77h1m8 0h7m8 0h1m-28 1h1m4 0h2m17 0h2m4 0h1m-37 1h1m2 0h1m3 0h2m4 0h3m10 0h4m4 0h2m3 0h1m2 0h1m-45 1h1m2 0h1m3 0h1m4 0h1m5 0h1m9 0h1m6 0h1m3 0h1m-41 1h1m4 0h2m32 0h1m2 0h1m2 0h1m-45 1h1m2 0h1m24 0h1m6 0h1m7 0h1m-45 1h1m1 0h1m6 0h1m33 0h1m1 0h1m-45 1h1m5 0h1m29 0h1m-38 1h1m28 0h1m7 0h1m4 1h1m3 0h1m-44 1h1m6 0h1m3 0h1m9 0h1m22 0h1m-46 1h1m16 0h1m26 0h1m-2 1h1m72 0h1m2 0h1m13 0h1m2 0h1m-218 1h1m2 0h1m116 0h1m66 0h1m2 0h1m6 0h1m-184 1h1m9 0h1m96 0h1m62 0h1m-181 1h1m2 0h1m166 0h1m9 0h1m-195 1h1m16 0h1m3 0h1m2 0h1m3 0h1m15 0h1m136 0h1m12 0h1m2 0h2m5 0h1m3 0h1m2 0h1m18 0h1m-228 1h1m30 0h1m12 0h1m37 0h1m2 0h1m20 0h1m28 0h1m34 0h1m3 0h1m2 0h1m3 0h1m19 0h1m23 0h1m-193 1h1m3 0h1m2 0h2m24 0h1m87 0h1m21 0h2m5 0h1m-187 1h2m20 0h1m7 0h1m6 0h1m6 0h1m1 0h1m6 0h2m8 0h1m26 0h1m2 0h1m18 0h1m15 0h2m3 0h1m2 0h1m9 0h1m2 0h1m13 0h1m8 0h2m8 0h1m6 0h2m-188 1h1m33 0h1m5 0h1m7 0h1m9 0h1m2 0h1m19 0h1m2 0h1m57 0h1m17 0h1m8 0h2m5 0h2m39 0h2m-210 1h1m14 0h1m6 0h2m11 0h1m9 0h1m6 0h1m19 0h1m2 0h1m2 0h1m1 0h1m2 0h1m1 0h1m31 0h1m11 0h1m21 0h1m2 0h2m5 0h1m9 0h1m-186 1h1m2 0h1m30 0h1m4 0h1m7 0h1m8 0h1m4 0h1m1 0h1m24 0h1m4 0h2m2 0h1m2 0h1m29 0h1m2 0h1m8 0h1m1 0h1m2 0h1m2 0h1m2 0h1m1 0h2m8 0h1m9 0h1m12 0h1m30 0h1m-204 1h3m7 0h1m34 0h1m1 0h1m14 0h1m3 0h1m2 0h1m2 0h1m8 0h1m1 0h1m1 0h1m27 0h1m1 0h1m1 0h1m1 0h2m2 0h1m8 0h1m3 0h1m3 0h1m8 0h1m9 0h1m3 0h1m7 0h1m27 0h1m-210 1h1m12 0h1m5 0h1m9 0h1m5 0h1m15 0h1m9 0h1m2 0h1m2 0h1m6 0h1m1 0h1m16 0h1m22 0h1m5 0h2m9 0h1m1 0h1m2 0h1m7 0h1m8 0h1m6 0h1m6 0h1m23 0h2m14 0h1m-186 1h1m5 0h1m4 0h1m10 0h1m24 0h1m4 0h2m1 0h1m3 0h1m5 0h1m2 0h1m2 0h2m24 0h3m3 0h1m1 0h1m2 0h1m4 0h1m3 0h1m7 0h1m8 0h2m15 0h1m14 0h1m18 0h1m-191 1h1m11 0h1m5 0h1m8 0h1m10 0h1m13 0h1m6 0h1m4 0h1m5 0h1m1 0h1m3 0h1m24 0h1m6 0h1m2 0h1m4 0h1m4 0h1m1 0h1m1 0h1m13 0h1m25 0h1m1 0h1m-141 1h1m19 0h1m7 0h2m7 0h1m3 0h1m31 0h1m11 0h1m1 0h1m1 0h1m6 0h3m12 0h1m10 0h1m7 0h2m-184 1h1m54 0h1m7 0h1m1 0h1m1 0h1m7 0h1m6 0h1m7 0h1m5 0h1m29 0h1m4 0h1m2 0h1m7 0h1m4 0h1m1 0h1m3 0h1m5 0h1m13 0h1m56 0h1m-157 1h1m10 0h1m2 0h1m1 0h1m13 0h1m18 0h1m2 0h1m9 0h2m1 0h1m8 0h1m11 0h1m1 0h1m-75 1h1m6 0h1m5 0h1m24 0h1m2 0h1m10 0h1m7 0h1m-54 1h1m-67 2h1m81 0h1m-112 8h1m5 0h1m174 0h1m-139 1h1m-28 2h1m81 0h1m2 0h1m27 0h1m19 0h1m-65 1h1m6 0h1m21 0h1m3 0h1m13 0h1m5 0h1m9 0h1m2 0h1m-138 1h1m50 0h1m24 0h1m2 0h1m1 0h1m7 0h1m2 0h1m34 0h1m1 0h1m6 0h1m9 0h1m19 0h1m-166 1h1m40 0h1m8 0h2m8 0h1m2 0h1m4 0h1m8 0h2m12 0h1m17 0h1m2 0h1m5 0h1m2 0h2m9 0h1m3 0h2m6 0h1m3 0h1m36 0h1m22 0h1m-209 1h1m50 0h1m15 0h1m1 0h3m1 0h1m2 0h2m5 0h1m4 0h1m1 0h1m19 0h1m1 0h1m1 0h2m9 0h1m6 0h1m7 0h1m3 0h1m1 0h1m21 0h1m-142 1h1m1 0h1m7 0h1m36 0h1m2 0h1m6 0h1m4 0h1m21 0h1m4 0h1m4 0h1m1 0h1m2 0h1m3 0h1m1 0h1m10 0h2m13 0h1m10 0h1m41 0h1m-190 1h1m1 0h1m14 0h1m6 0h2m6 0h2m9 0h1m2 0h1m8 0h3m3 0h1m4 0h1m23 0h1m9 0h1m4 0h1m3 0h3m9 0h1m2 0h2m4 0h1m2 0h1m14 0h1m4 0h1m1 0h2m4 0h1m-171 1h1m16 0h1m4 0h1m6 0h2m11 0h1m1 0h1m6 0h1m1 0h1m7 0h1m2 0h1m4 0h1m4 0h1m27 0h1m8 0h1m3 0h1m5 0h1m2 0h1m4 0h1m6 0h1m12 0h1m13 0h1m9 0h1m6 0h1m-202 1h1m4 0h1m5 0h2m25 0h1m1 0h1m1 0h1m22 0h1m6 0h1m2 0h1m2 0h1m8 0h1m2 0h1m1 0h3m26 0h1m1 0h2m1 0h1m7 0h1m2 0h2m2 0h1m13 0h1m16 0h1m20 0h1m6 0h1m6 0h1m-210 1h3m10 0h1m6 0h1m14 0h1m5 0h1m10 0h1m15 0h1m6 0h1m10 0h1m1 0h1m5 0h2m30 0h1m1 0h1m2 0h1m2 0h1m10 0h1m4 0h1m9 0h2m8 0h2m2 0h1m8 0h1m13 0h1m18 0h1m1 0h1m4 0h1m1 0h2m-225 1h1m6 0h1m1 0h1m18 0h1m1 0h1m16 0h1m15 0h1m6 0h1m2 0h1m9 0h1m6 0h1m1 0h1m7 0h1m25 0h1m3 0h1m2 0h1m6 0h1m2 0h1m2 0h1m8 0h1m10 0h1m6 0h1m1 0h1m3 0h1m4 0h1m19 0h3m15 0h1m3 0h1m-226 1h1m19 0h1m14 0h1m19 0h2m2 0h1m3 0h1m2 0h1m2 0h1m10 0h1m5 0h1m41 0h1m5 0h1m13 0h1m2 0h1m2 0h1m3 0h1m53 0h1m1 0h1"/>
<path stroke="#475af9" d="M0 0m105 80h1m7 0h9m6 0h1m-27 1h1m4 0h2m17 0h2m3 0h1m-32 1h1m3 0h1m4 0h3m11 0h3m4 0h1m3 0h1m-37 1h1m2 0h1m3 0h1m16 0h1m9 0h1m-36 1h1m1 0h1m25 0h1m1 0h1m6 0h1m2 0h1m-13 1h1m10 0h1m1 0h1m-42 1h1m34 0h1m1 0h1m2 0h1m-38 1h1m37 0h1m-30 1h1m25 0h1m-40 1h1m9 0h1m-10 1h1m18 0h1m1 0h1m-108 1h1m2 0h1m83 0h1m-74 1h1m2 0h1m6 0h1m2 0h1m83 0h1m13 0h1m75 0h1m2 0h1m-211 1h1m32 0h1m6 0h1m6 0h1m46 0h1m18 0h1m69 0h1m2 0h1m13 0h1m-158 1h1m80 0h1m71 0h1m2 0h1m19 0h2m7 0h1m-226 1h1m7 0h1m34 0h1m2 0h1m51 0h1m70 0h1m9 0h1m12 0h1m-161 1h1m6 0h1m16 0h1m52 0h1m11 0h1m57 0h1m38 0h1m-179 1h1m5 0h1m9 0h1m65 0h1m1 0h1m10 0h1m2 0h1m33 0h1m9 0h1m13 0h1m27 0h1m-196 1h1m10 0h1m3 0h1m9 0h1m6 0h1m2 0h1m62 0h1m38 0h1m40 0h1m-215 1h1m1 0h1m5 0h1m16 0h1m13 0h1m18 0h1m16 0h1m2 0h1m2 0h1m2 0h1m7 0h1m44 0h1m22 0h1m2 0h1m26 0h1m36 0h1m2 0h1m-218 1h1m12 0h1m1 0h1m12 0h1m7 0h1m8 0h1m2 0h1m10 0h1m5 0h1m13 0h1m2 0h1m47 0h1m2 0h1m12 0h1m21 0h1m5 0h1m14 0h2m25 0h2m-225 1h1m12 0h1m9 0h1m31 0h1m5 0h1m7 0h1m10 0h1m5 0h1m1 0h1m1 0h2m5 0h1m28 0h2m4 0h1m4 0h1m2 0h1m2 0h1m2 0h1m7 0h1m9 0h1m7 0h1m3 0h1m25 0h2m1 0h1m5 0h1m11 0h1m-224 1h2m17 0h2m3 0h1m3 0h1m29 0h1m5 0h2m9 0h1m6 0h1m4 0h2m9 0h1m22 0h1m7 0h1m10 0h1m16 0h1m5 0h1m1 0h1m19 0h1m34 0h1m-196 1h2m6 0h1m7 0h1m22 0h1m10 0h1m15 0h1m1 0h1m5 0h1m24 0h1m4 0h1m2 0h1m6 0h1m2 0h1m22 0h1m17 0h2m3 0h1m38 0h1m-195 1h1m8 0h2m18 0h1m8 0h1m2 0h1m3 0h2m1 0h1m5 0h1m1 0h1m3 0h1m6 0h1m21 0h1m2 0h1m1 0h1m3 0h1m1 0h1m4 0h2m1 0h2m7 0h2m2 0h1m20 0h2m2 0h1m26 0h1m-171 1h1m6 0h1m7 0h1m23 0h1m2 0h2m2 0h1m3 0h1m3 0h1m1 0h1m3 0h1m1 0h2m1 0h2m16 0h1m4 0h1m3 0h1m2 0h1m8 0h1m17 0h1m7 0h2m16 0h1m26 0h1m-187 1h1m10 0h1m24 0h2m7 0h1m8 0h1m7 0h2m2 0h1m1 0h1m1 0h2m5 0h1m24 0h2m8 0h1m18 0h1m12 0h1m7 0h2m13 0h1m10 0h1m-134 1h4m6 0h1m6 0h1m11 0h1m3 0h1m13 0h1m12 0h1m2 0h1m40 0h1m28 0h1m-162 1h1m39 0h1m1 0h1m8 0h1m6 0h1m3 0h1m11 0h1m3 0h1m1 0h1m4 0h1m2 0h1m12 0h2m6 0h1m-51 1h1m3 0h1m9 0h1m3 0h1m2 0h1m2 0h1m39 0h1m-141 1h1m88 0h1m51 0h1m54 6h1m-228 2h1m7 0h1m-9 1h2m10 1h1m92 0h1m2 0h1m2 0h1m12 0h1m2 0h1m-125 1h2m13 0h1m61 0h1m24 0h1m2 0h1m15 0h1m2 0h1m5 0h1m93 0h1m-225 1h1m76 0h1m7 0h2m7 0h1m5 0h1m1 0h1m1 0h1m1 0h1m15 0h1m3 0h1m5 0h2m1 0h1m2 0h1m73 0h1m-194 1h1m25 0h1m14 0h1m3 0h1m8 0h1m1 0h1m1 0h1m7 0h1m8 0h1m2 0h1m7 0h1m23 0h1m1 0h3m8 0h1m3 0h2m11 0h1m5 0h1m46 0h1m-161 1h1m15 0h1m2 0h2m6 0h1m2 0h1m2 0h1m2 0h1m4 0h1m30 0h1m5 0h1m8 0h1m19 0h1m12 0h1m7 0h1m-175 1h1m3 0h1m60 0h1m2 0h2m1 0h1m7 0h1m25 0h1m12 0h1m5 0h1m2 0h1m2 0h1m3 0h1m1 0h1m24 0h2m3 0h1m25 0h1m23 0h1m-213 1h1m35 0h1m14 0h1m5 0h1m7 0h1m6 0h1m1 0h1m14 0h1m28 0h1m1 0h1m11 0h1m12 0h1m6 0h2m14 0h1m17 0h2m3 0h1m16 0h1m-191 1h1m3 0h2m5 0h1m4 0h1m32 0h1m4 0h1m10 0h1m5 0h1m2 0h1m24 0h1m2 0h1m10 0h1m21 0h1m14 0h1m7 0h1m11 0h1m25 0h2m-204 1h3m8 0h1m1 0h1m21 0h1m5 0h2m2 0h1m3 0h1m2 0h1m7 0h1m6 0h1m2 0h2m4 0h2m25 0h1m1 0h1m5 0h2m1 0h1m2 0h1m4 0h1m4 0h1m2 0h2m2 0h1m2 0h1m14 0h1m8 0h1m11 0h1m6 0h2m1 0h1m1 0h1m12 0h1m-210 1h1m2 0h1m9 0h1m1 0h1m33 0h2m2 0h1m2 0h2m5 0h1m12 0h1m5 0h1m31 0h1m23 0h1m2 0h1m17 0h1m7 0h1m8 0h1m9 0h1m1 0h1m8 0h3m2 0h1m12 0h1m-220 1h1m7 0h1m17 0h1m3 0h1m10 0h1m15 0h1m16 0h1m5 0h1m6 0h1m37 0h1m6 0h1m5 0h1m10 0h1m48 0h3m9 0h2m-223 1h1m37 0h1m26 0h1m57 0h1m7 0h1m89 0h1m12 0h1m-227 1h2m39 0h1m5 0h1m3 0h1m33 0h1m8 0h1m1 0h1m27 0h1m8 0h1m35 0h2m5 0h2m24 0h2m11 0h1"/>
<path stroke="#465ffb" d="M0 0m106 83h1m5 0h10m6 0h1m-26 1h1m3 0h2m17 0h1m4 0h1m-34 1h1m2 0h1m2 0h2m3 0h1m1 0h1m11 0h1m5 0h1m3 0h1m-35 1h1m2 0h1m4 0h1m14 0h1m8 0h1m-34 1h1m2 0h1m7 0h1m26 0h1m-40 1h1m1 0h1m6 0h1m15 0h1m14 0h1m-40 1h1m1 0h1m25 0h1m4 0h1m4 0h1m-33 1h1m12 0h1m6 0h1m1 0h1m-27 1h1m29 1h1m-96 1h1m69 0h1m10 0h1m18 0h1m-130 1h1m93 0h1m33 0h1m56 0h1m2 0h1m-161 1h1m2 0h1m88 0h1m6 0h1m46 0h1m13 0h1m28 0h1m-218 1h1m30 0h1m6 0h1m6 0h1m2 0h1m6 0h1m68 0h1m39 0h1m2 0h1m6 0h1m2 0h1m6 0h1m6 0h1m23 0h1m-195 1h1m16 0h1m6 0h1m121 0h1m13 0h1m15 0h1m7 0h1m-195 1h1m12 0h1m34 0h1m38 0h1m26 0h1m49 0h1m2 0h1m37 0h1m-217 1h1m45 0h1m9 0h1m3 0h1m5 0h1m39 0h1m28 0h1m26 0h1m9 0h1m2 0h1m10 0h1m6 0h1m12 0h1m16 0h2m-230 1h1m5 0h2m4 0h1m52 0h1m2 0h1m6 0h1m80 0h1m3 0h1m2 0h1m3 0h1m33 0h1m17 0h1m-220 1h3m20 0h1m6 0h1m7 0h1m12 0h1m26 0h1m10 0h1m9 0h1m35 0h1m20 0h1m2 0h1m3 0h1m2 0h1m32 0h1m12 0h1m19 0h1m-232 1h1m1 0h1m6 0h1m16 0h1m1 0h1m9 0h1m40 0h1m10 0h1m5 0h1m2 0h1m31 0h1m5 0h1m2 0h1m13 0h1m3 0h1m2 0h1m5 0h1m1 0h1m19 0h1m7 0h1m3 0h1m2 0h1m7 0h1m-207 1h1m29 0h1m2 0h1m7 0h1m20 0h1m1 0h1m8 0h1m3 0h1m2 0h2m2 0h1m2 0h1m9 0h1m20 0h2m1 0h1m2 0h1m1 0h1m7 0h1m2 0h1m7 0h1m5 0h1m7 0h1m14 0h1m31 0h2m17 0h1m-207 1h1m4 0h1m6 0h1m8 0h1m26 0h1m13 0h1m2 0h1m4 0h1m4 0h1m2 0h2m21 0h1m2 0h1m10 0h1m10 0h1m2 0h1m22 0h1m22 0h1m2 0h1m6 0h1m7 0h2m10 0h1m-202 1h2m3 0h1m7 0h1m14 0h1m21 0h1m1 0h1m4 0h1m2 0h1m2 0h1m9 0h1m24 0h2m1 0h1m4 0h1m8 0h1m3 0h1m3 0h1m16 0h1m5 0h1m12 0h1m20 0h1m5 0h1m-216 1h1m47 0h2m10 0h1m2 0h1m1 0h1m2 0h1m9 0h1m10 0h1m1 0h1m2 0h2m1 0h1m5 0h1m2 0h1m20 0h1m2 0h1m3 0h2m9 0h2m5 0h1m13 0h2m18 0h1m22 0h1m12 0h1m6 0h3m-228 1h1m22 0h1m21 0h1m7 0h1m31 0h1m10 0h1m2 0h1m2 0h1m17 0h1m5 0h1m5 0h2m1 0h1m1 0h1m8 0h1m1 0h1m40 0h1m15 0h1m14 0h1m-226 1h1m26 0h1m25 0h1m14 0h1m18 0h1m1 0h1m3 0h1m8 0h1m1 0h1m2 0h1m1 0h1m13 0h1m1 0h1m5 0h1m10 0h1m15 0h1m20 0h2m13 0h1m11 0h1m-204 1h1m56 0h1m39 0h2m1 0h2m4 0h1m13 0h1m76 0h1m-172 1h1m71 0h1m69 0h1m-146 1h1m2 0h2m6 0h1m4 0h1m76 0h1m33 0h2m18 0h1m21 0h1m24 0h1m2 0h1m-29 1h1m-34 5h1m19 0h1m-163 1h1m20 0h1m71 0h1m4 0h1m35 0h1m-71 1h1m27 0h1m8 0h1m38 0h1m-150 1h1m19 0h1m12 0h2m75 0h1m8 0h1m-129 1h1m7 0h1m28 0h1m5 0h2m19 0h1m22 0h1m20 0h1m15 0h1m13 0h1m2 0h1m12 0h1m22 0h1m-174 1h1m7 0h1m2 0h1m48 0h1m10 0h1m9 0h1m2 0h1m3 0h1m5 0h1m1 0h1m20 0h1m3 0h1m2 0h1m1 0h1m9 0h1m7 0h1m4 0h1m30 0h1m26 0h2m-209 1h1m29 0h1m4 0h1m7 0h1m6 0h2m13 0h1m2 0h2m3 0h1m3 0h1m1 0h2m12 0h1m1 0h2m3 0h1m17 0h1m5 0h2m7 0h1m13 0h1m1 0h1m2 0h1m1 0h1m19 0h1m20 0h1m8 0h1m-204 1h2m6 0h1m27 0h1m5 0h2m3 0h1m1 0h1m1 0h1m5 0h1m16 0h1m1 0h1m11 0h1m1 0h1m2 0h1m4 0h1m29 0h2m2 0h2m13 0h2m2 0h1m8 0h2m2 0h2m1 0h1m7 0h1m1 0h1m10 0h1m12 0h1m-201 1h1m6 0h1m17 0h1m12 0h1m2 0h2m2 0h1m4 0h2m4 0h1m6 0h3m10 0h1m6 0h1m4 0h2m4 0h2m1 0h1m36 0h1m12 0h1m1 0h1m9 0h1m12 0h1m1 0h1m2 0h1m-182 1h1m26 0h1m6 0h1m8 0h2m13 0h2m5 0h1m1 0h1m8 0h2m2 0h1m6 0h1m2 0h1m4 0h1m1 0h1m2 0h1m1 0h1m21 0h1m1 0h1m4 0h1m2 0h1m5 0h1m4 0h1m17 0h1m3 0h1m7 0h2m8 0h1m29 0h1m8 0h1m1 0h1m-202 1h1m9 0h1m8 0h1m11 0h2m12 0h1m13 0h1m2 0h1m6 0h1m2 0h1m25 0h1m3 0h1m2 0h1m1 0h1m4 0h1m10 0h1m2 0h1m2 0h1m10 0h2m5 0h1m1 0h1m17 0h2m6 0h1m25 0h1m2 0h1m-219 1h1m2 0h1m29 0h1m3 0h1m10 0h1m35 0h1m24 0h1m8 0h1m47 0h1m5 0h1m3 0h1m15 0h1m3 0h1m3 0h1m8 0h2m5 0h1m-225 1h1m28 0h1m4 0h1m7 0h1m24 0h1m18 0h1m42 0h1m2 0h1m16 0h1m5 0h1m9 0h1m45 0h1m6 0h1m5 0h1m-204 1h1m32 0h1m2 0h1m3 0h1m2 0h1m15 0h1m41 0h1m15 0h1m24 0h1m2 0h1m24 0h2m2 0h1m8 0h1m13 0h1m-201 1h1m3 0h1m18 0h1m5 0h1m3 0h1m2 0h1m3 0h1m2 0h1m33 0h1m64 0h1m5 0h1m3 0h1m2 0h1m3 0h1m16 0h2m6 0h1m-195 1h3m1 0h1m5 0h1m25 0h1m9 0h1m63 0h1m54 0h1m9 0h1m20 0h1m2 0h1"/>
<path stroke="#4465fd" d="M0 0m110 85h1m13 0h1m-19 1h1m5 0h10m5 0h2m-25 1h1m3 0h1m16 0h2m3 0h1m2 0h1m-32 1h1m2 0h1m22 0h2m2 0h1m-11 1h1m7 0h1m2 0h1m-35 1h1m2 0h1m21 1h1m8 0h1m0 1h1m-34 1h1m15 0h1m117 0h1m-115 1h1m4 0h1m99 0h1m-212 1h1m85 0h1m95 0h1m37 0h1m-218 1h1m194 0h1m1 0h1m9 0h1m-218 1h1m6 0h2m3 0h1m7 0h1m29 0h1m2 0h1m63 0h1m44 0h1m52 0h1m-215 1h1m8 0h1m36 0h1m2 0h1m66 0h1m75 0h1m8 0h1m2 0h2m6 0h1m-203 1h1m35 0h1m13 0h1m34 0h1m1 0h1m23 0h1m43 0h1m58 0h1m-232 1h1m7 0h1m1 0h1m35 0h2m72 0h1m87 0h1m10 0h2m1 0h2m1 0h2m3 0h1m-233 1h1m15 0h2m47 0h1m115 0h1m34 0h1m2 0h1m-191 1h1m30 0h3m5 0h1m6 0h1m2 0h1m71 0h1m26 0h1m12 0h1m11 0h1m2 0h1m1 0h2m4 0h1m16 0h1m1 0h2m-231 1h1m27 0h1m4 0h2m5 0h1m6 0h1m12 0h2m37 0h1m21 0h1m31 0h1m11 0h1m32 0h2m5 0h1m11 0h1m5 0h1m2 0h1m-229 1h2m7 0h1m25 0h1m1 0h1m7 0h1m4 0h2m18 0h1m27 0h1m3 0h1m22 0h1m8 0h1m1 0h1m21 0h2m5 0h1m13 0h1m8 0h1m21 0h1m21 0h2m-234 1h1m5 0h1m31 0h2m6 0h1m1 0h1m5 0h1m6 0h1m17 0h1m15 0h1m3 0h1m1 0h1m4 0h1m26 0h1m8 0h1m12 0h1m1 0h1m10 0h1m15 0h3m-173 1h1m8 0h1m6 0h1m12 0h1m18 0h2m19 0h1m3 0h1m12 0h1m24 0h2m5 0h1m36 0h1m4 0h1m1 0h1m3 0h1m12 0h1m3 0h1m24 0h1m1 0h1m8 0h1m-207 1h1m20 0h2m11 0h1m7 0h1m2 0h1m2 0h1m9 0h1m1 0h1m3 0h2m1 0h2m1 0h2m7 0h1m1 0h1m17 0h1m2 0h1m4 0h2m7 0h2m2 0h1m12 0h1m20 0h1m6 0h2m16 0h1m14 0h2m1 0h1m1 0h1m-219 1h1m15 0h1m3 0h1m3 0h1m44 0h1m20 0h1m1 0h2m1 0h1m25 0h2m1 0h1m5 0h1m1 0h2m36 0h1m20 0h1m7 0h1m7 0h1m14 0h1m-229 1h1m28 0h1m9 0h1m11 0h1m13 0h2m28 0h2m7 0h1m3 0h1m11 0h1m3 0h1m2 0h1m19 0h1m7 0h1m12 0h1m1 0h1m6 0h1m50 0h1m-228 1h1m15 0h1m17 0h1m15 0h1m7 0h1m5 0h1m43 0h1m9 0h1m2 0h1m3 0h1m37 0h1m56 0h2m-177 1h1m145 0h1m10 0h1m18 0h1m-204 1h2m19 0h2m103 0h1m5 0h2m68 0h1m-223 5h1m5 0h2m27 0h1m34 0h1m137 0h1m17 0h1m-226 1h1m130 0h1m21 0h1m5 0h1m48 0h1m13 0h1m-218 1h2m11 0h3m24 0h1m4 0h1m21 0h1m8 0h1m1 0h1m25 0h1m12 0h1m-124 1h1m2 0h1m12 0h1m28 0h2m26 0h1m5 0h1m19 0h1m1 0h1m53 0h2m7 0h1m-165 1h1m4 0h1m6 0h1m17 0h1m15 0h1m31 0h1m12 0h1m2 0h3m2 0h1m5 0h1m15 0h2m5 0h1m2 0h1m2 0h2m1 0h2m1 0h1m7 0h1m1 0h1m13 0h1m24 0h1m19 0h1m-207 1h1m8 0h1m2 0h1m1 0h1m17 0h1m8 0h1m2 0h1m27 0h1m2 0h1m3 0h1m7 0h1m14 0h1m19 0h1m13 0h1m2 0h1m2 0h1m4 0h1m27 0h1m13 0h2m31 0h2m-214 1h1m4 0h1m5 0h2m35 0h1m1 0h1m3 0h3m13 0h1m4 0h1m8 0h1m4 0h1m22 0h1m6 0h1m13 0h2m14 0h1m11 0h1m3 0h1m22 0h1m2 0h1m6 0h3m1 0h1m12 0h1m-212 1h1m3 0h1m6 0h1m3 0h1m5 0h1m21 0h3m5 0h1m10 0h1m5 0h1m5 0h1m6 0h1m2 0h2m2 0h1m19 0h1m2 0h2m18 0h1m7 0h1m11 0h1m19 0h2m5 0h1m5 0h1m14 0h1m13 0h1m-218 1h1m7 0h1m5 0h2m2 0h1m10 0h1m1 0h1m5 0h2m7 0h1m1 0h1m18 0h1m12 0h1m5 0h1m6 0h1m1 0h1m15 0h1m3 0h1m2 0h1m2 0h1m2 0h1m7 0h1m5 0h1m5 0h2m6 0h1m2 0h1m16 0h1m3 0h1m9 0h1m17 0h1m5 0h1m-200 1h1m13 0h2m1 0h1m1 0h1m5 0h2m7 0h1m14 0h1m13 0h1m8 0h1m9 0h1m1 0h1m2 0h1m13 0h1m14 0h1m10 0h1m2 0h1m13 0h2m7 0h1m8 0h1m4 0h1m12 0h1m12 0h1m1 0h1m5 0h1m2 0h1m-226 1h1m23 0h1m1 0h1m10 0h1m8 0h2m7 0h1m17 0h1m110 0h1m1 0h1m7 0h1m11 0h1m23 0h1m-218 1h1m1 0h1m4 0h1m5 0h1m8 0h2m6 0h1m2 0h1m74 0h1m40 0h1m12 0h1m10 0h1m8 0h1m16 0h1m16 0h1m-223 1h1m25 0h3m7 0h1m9 0h1m101 0h1m6 0h1m21 0h1m9 0h1m20 0h1m2 0h1m-224 1h1m27 0h1m1 0h2m7 0h1m18 0h1m45 0h1m87 0h2m8 0h1m24 0h1m1 0h1m-210 1h1m6 0h3m141 0h1m29 0h1m9 0h1m-193 1h1m7 0h1m143 0h1m2 0h1m13 0h1m15 0h1m8 0h2"/>
<path stroke="#416bfe" d="M0 0m110 88h2m11 0h2m-22 1h1m3 0h1m4 0h10m5 0h1m-23 1h1m2 0h1m20 0h1m2 0h1m-30 1h1m8 0h1m14 0h1m3 0h1m-30 1h1m4 0h1m4 0h1m16 0h1m2 0h1m0 1h1m-130 1h2m124 0h1m-127 1h2m219 0h2m5 0h1m1 0h1m-226 1h1m6 0h1m85 0h1m111 0h1m18 0h1m-215 1h1m83 0h1m111 0h1m5 0h1m-193 1h1m83 0h1m88 0h1m-183 1h1m6 0h2m2 0h1m7 0h1m131 0h1m21 0h1m6 0h1m-192 1h1m1 0h1m93 0h1m23 0h1m41 0h1m2 0h1m58 0h1m-230 1h1m1 0h1m12 0h1m18 0h1m89 0h1m63 0h2m20 0h1m6 0h2m4 0h3m1 0h1m2 0h1m-223 1h1m3 0h1m3 0h1m20 0h1m11 0h1m73 0h1m25 0h1m50 0h1m11 0h1m1 0h1m1 0h1m5 0h1m1 0h2m5 0h1m-231 1h1m5 0h1m63 0h1m2 0h1m110 0h1m10 0h1m12 0h1m2 0h1m11 0h1m6 0h1m-236 1h1m6 0h2m7 0h1m1 0h2m6 0h1m6 0h1m3 0h1m3 0h1m1 0h2m14 0h2m12 0h1m50 0h1m56 0h1m5 0h2m1 0h2m43 0h1m-233 1h1m48 0h1m1 0h1m1 0h1m3 0h1m14 0h1m51 0h1m12 0h1m38 0h2m3 0h1m3 0h1m5 0h1m10 0h1m4 0h1m1 0h2m9 0h1m6 0h1m-224 1h1m13 0h1m1 0h1m5 0h1m9 0h1m26 0h1m6 0h1m8 0h2m1 0h1m18 0h1m2 0h1m3 0h1m18 0h1m9 0h1m14 0h1m2 0h1m14 0h2m14 0h3m25 0h2m11 0h1m-224 1h2m15 0h1m8 0h1m5 0h1m28 0h2m4 0h1m8 0h1m17 0h1m2 0h1m20 0h1m3 0h1m17 0h1m10 0h1m3 0h1m12 0h1m9 0h1m7 0h2m8 0h1m20 0h1m7 0h1m-228 1h2m17 0h1m2 0h1m11 0h3m13 0h1m18 0h1m2 0h1m5 0h1m14 0h1m36 0h2m29 0h1m8 0h1m2 0h1m3 0h2m5 0h1m19 0h2m6 0h1m4 0h1m4 0h1m-221 1h1m2 0h1m13 0h2m36 0h1m20 0h1m13 0h1m2 0h1m32 0h1m1 0h3m1 0h1m5 0h1m5 0h1m15 0h1m13 0h1m35 0h1m11 0h2m-189 1h2m39 0h1m21 0h1m1 0h1m1 0h1m7 0h1m10 0h1m3 0h1m6 0h1m7 0h1m3 0h1m2 0h1m51 0h1m13 0h1m-182 1h1m51 0h1m14 0h1m55 0h1m10 0h1m28 0h1m6 0h1m1 0h1m8 0h1m-214 1h1m187 0h1m13 0h1m-165 1h1m158 0h1m-204 4h1m15 0h1m23 0h1m73 0h1m66 0h1m28 0h1m-189 1h2m10 0h3m20 0h1m25 0h3m11 0h1m21 0h1m5 0h1m20 0h1m15 0h1m53 0h1m-215 1h3m48 0h1m19 0h1m12 0h1m13 0h1m2 0h2m3 0h1m11 0h1m11 0h1m21 0h1m27 0h1m7 0h1m2 0h2m29 0h1m-223 1h2m26 0h1m2 0h2m13 0h1m2 0h3m5 0h2m18 0h1m10 0h3m1 0h1m3 0h2m1 0h1m1 0h2m2 0h1m1 0h1m13 0h1m2 0h1m2 0h1m1 0h2m4 0h1m24 0h1m1 0h1m25 0h1m2 0h1m2 0h2m2 0h1m7 0h1m7 0h1m-212 1h1m5 0h2m20 0h2m13 0h1m2 0h1m15 0h1m13 0h1m4 0h1m1 0h1m2 0h1m2 0h1m3 0h1m4 0h2m4 0h1m27 0h1m4 0h1m1 0h1m10 0h1m17 0h1m12 0h1m7 0h1m14 0h1m-208 1h1m2 0h1m9 0h1m3 0h1m8 0h1m9 0h2m1 0h1m13 0h2m3 0h1m6 0h1m5 0h1m4 0h1m6 0h1m6 0h1m8 0h1m2 0h1m3 0h1m15 0h1m3 0h1m2 0h1m2 0h1m2 0h1m6 0h2m7 0h1m2 0h1m1 0h1m5 0h2m2 0h1m41 0h1m1 0h1m-206 1h1m9 0h1m2 0h2m13 0h1m8 0h1m9 0h2m9 0h1m7 0h1m7 0h2m22 0h1m21 0h1m1 0h1m7 0h1m2 0h1m2 0h1m2 0h1m7 0h1m9 0h2m1 0h1m1 0h1m4 0h1m7 0h1m10 0h1m6 0h1m8 0h1m1 0h1m-206 1h1m2 0h1m3 0h2m2 0h1m1 0h1m3 0h3m2 0h1m7 0h1m3 0h1m3 0h1m3 0h1m4 0h1m6 0h1m11 0h1m16 0h1m18 0h1m15 0h1m7 0h1m10 0h1m12 0h1m9 0h1m3 0h1m2 0h1m6 0h2m3 0h1m2 0h1m20 0h1m-200 1h1m1 0h1m12 0h1m37 0h1m5 0h1m79 0h1m26 0h2m1 0h1m1 0h1m5 0h1m1 0h1m12 0h1m5 0h1m3 0h1m4 0h1m3 0h1m8 0h2m-229 1h1m1 0h1m8 0h1m7 0h1m9 0h3m2 0h1m14 0h1m7 0h1m16 0h1m98 0h1m11 0h1m1 0h2m9 0h1m8 0h1m14 0h1m-226 1h1m9 0h1m14 0h1m23 0h1m56 0h1m18 0h1m53 0h1m7 0h1m14 0h1m2 0h1m1 0h3m1 0h1m10 0h3m1 0h1m2 0h1m1 0h1m-232 1h2m9 0h1m9 0h3m17 0h1m63 0h1m63 0h1m10 0h1m7 0h2m39 0h1m4 0h1m-229 1h1m2 0h1m20 0h1m9 0h1m19 0h1m43 0h1m64 0h1m19 0h1m1 0h2m6 0h1m20 0h1m-221 1h1m1 0h2m1 0h1m31 0h1m16 0h1m69 0h1m75 0h1m26 0h1m5 0h1m-216 1h1m32 0h1m67 0h1m83 0h1m7 0h1m-104 1h1m111 0h1"/>
<path stroke="#3c71ff" d="M0 0m109 90h1m15 0h1m-20 1h1m3 0h2m10 0h2m4 0h1m-25 1h1m3 0h1m7 0h3m2 0h1m4 0h1m-24 1h1m2 0h1m3 0h1m14 0h1m5 0h1m-30 1h1m29 0h1m101 0h1m-229 1h1m96 0h1m1 0h1m25 0h1m-124 1h1m8 0h1m93 0h1m110 0h3m7 0h1m-216 1h1m8 0h1m78 0h1m5 0h1m100 0h2m-188 1h2m175 0h2m-205 1h1m36 0h2m163 0h3m5 0h2m22 0h2m-236 1h1m2 0h1m1 0h2m24 0h1m5 0h1m1 0h1m84 0h1m67 0h1m30 0h1m5 0h1m-225 1h1m3 0h1m1 0h1m30 0h1m7 0h2m68 0h1m59 0h1m7 0h1m31 0h1m2 0h2m7 0h1m2 0h1m-236 1h2m3 0h2m18 0h1m16 0h1m5 0h1m1 0h1m127 0h1m33 0h1m2 0h1m3 0h1m1 0h2m11 0h1m-233 1h1m1 0h1m2 0h1m2 0h1m5 0h2m8 0h1m1 0h1m5 0h1m7 0h1m8 0h1m117 0h2m9 0h2m6 0h1m7 0h1m2 0h1m12 0h1m4 0h1m14 0h1m-230 1h1m7 0h1m5 0h1m24 0h1m2 0h1m26 0h1m96 0h1m1 0h1m23 0h1m10 0h2m2 0h1m3 0h1m11 0h1m4 0h1m-222 1h1m4 0h2m6 0h1m4 0h1m1 0h1m6 0h1m10 0h1m2 0h1m1 0h1m7 0h1m8 0h2m1 0h1m51 0h1m33 0h1m10 0h1m7 0h1m2 0h1m1 0h1m5 0h1m7 0h3m6 0h1m12 0h1m1 0h2m1 0h2m7 0h2m-234 1h1m1 0h1m2 0h1m5 0h1m1 0h1m13 0h1m4 0h1m11 0h2m2 0h1m9 0h2m11 0h1m8 0h1m28 0h1m32 0h1m2 0h1m2 0h1m15 0h1m1 0h1m3 0h1m8 0h1m2 0h1m2 0h1m17 0h1m17 0h1m6 0h1m-229 1h1m7 0h1m8 0h1m1 0h1m4 0h1m17 0h2m1 0h1m7 0h1m5 0h2m1 0h2m7 0h1m2 0h1m5 0h1m2 0h1m48 0h1m23 0h1m1 0h2m2 0h1m3 0h2m5 0h1m3 0h1m1 0h1m3 0h1m14 0h1m4 0h1m7 0h1m4 0h1m-216 1h1m4 0h2m17 0h1m21 0h1m12 0h2m7 0h1m13 0h1m2 0h1m5 0h1m1 0h2m9 0h1m2 0h1m15 0h1m2 0h1m9 0h1m7 0h1m2 0h1m7 0h1m16 0h1m13 0h1m5 0h1m1 0h1m4 0h1m4 0h1m4 0h1m3 0h1m7 0h1m4 0h1m-229 1h2m4 0h1m4 0h1m11 0h1m6 0h2m1 0h1m4 0h1m2 0h1m1 0h1m11 0h1m8 0h1m2 0h1m20 0h2m4 0h1m36 0h1m6 0h1m1 0h1m1 0h3m1 0h1m19 0h1m12 0h1m8 0h1m18 0h1m12 0h1m2 0h1m4 0h1m-229 1h1m2 0h1m9 0h2m14 0h1m9 0h1m35 0h1m13 0h2m1 0h1m8 0h1m2 0h1m1 0h1m1 0h1m1 0h2m11 0h2m1 0h2m2 0h1m5 0h1m1 0h1m19 0h1m9 0h1m2 0h1m9 0h1m14 0h1m3 0h1m20 0h1m1 0h1m-222 1h1m10 0h1m12 0h1m1 0h2m14 0h1m3 0h1m13 0h1m2 0h1m5 0h1m14 0h1m3 0h1m21 0h1m35 0h1m8 0h2m8 0h1m3 0h1m25 0h1m9 0h1m4 0h1m9 0h2m-216 1h1m10 0h2m6 0h1m7 0h2m1 0h2m15 0h1m10 0h1m74 0h1m7 0h1m7 0h1m16 0h1m50 0h1m4 0h1m-219 3h1m-1 1h1m177 0h1m19 0h1m22 0h1m-203 1h1m2 0h3m1 0h1m3 0h1m3 0h1m26 0h1m2 0h1m87 0h1m32 0h1m19 0h1m14 0h2m-230 1h1m17 0h1m4 0h2m2 0h1m9 0h1m3 0h1m41 0h1m37 0h1m1 0h1m7 0h1m12 0h1m5 0h1m5 0h1m21 0h1m1 0h1m4 0h1m1 0h1m3 0h1m14 0h1m1 0h1m19 0h1m-220 1h1m10 0h1m19 0h1m1 0h2m1 0h1m2 0h1m2 0h3m2 0h1m15 0h2m10 0h1m2 0h1m6 0h1m7 0h1m4 0h1m8 0h1m2 0h2m1 0h1m5 0h1m9 0h1m17 0h1m1 0h1m3 0h1m31 0h1m5 0h1m3 0h2m-191 1h1m5 0h1m7 0h1m5 0h1m15 0h2m14 0h1m13 0h1m10 0h1m1 0h1m8 0h1m3 0h1m14 0h1m2 0h1m13 0h1m4 0h1m2 0h1m12 0h1m2 0h1m50 0h1m10 0h1m-220 1h1m4 0h1m15 0h1m7 0h1m1 0h1m11 0h1m7 0h1m32 0h1m7 0h1m5 0h1m17 0h1m2 0h1m2 0h1m2 0h1m12 0h1m9 0h3m2 0h3m1 0h2m4 0h1m5 0h1m4 0h1m9 0h1m12 0h1m6 0h1m1 0h2m1 0h1m9 0h1m-228 1h1m5 0h1m2 0h1m31 0h1m4 0h1m1 0h1m7 0h1m13 0h2m1 0h2m5 0h2m12 0h1m2 0h1m23 0h1m24 0h2m5 0h1m23 0h1m1 0h1m4 0h1m4 0h1m9 0h2m4 0h1m4 0h1m13 0h1m-227 1h1m5 0h1m12 0h1m4 0h1m4 0h1m9 0h1m3 0h1m10 0h1m18 0h1m19 0h1m2 0h1m27 0h1m33 0h1m1 0h1m24 0h1m5 0h1m3 0h1m2 0h1m26 0h1m9 0h1m-215 1h2m8 0h3m1 0h1m7 0h1m4 0h1m3 0h1m7 0h1m10 0h1m2 0h1m72 0h1m12 0h1m16 0h1m10 0h1m9 0h1m2 0h1m9 0h3m3 0h1m1 0h1m4 0h1m1 0h1m6 0h1m-226 1h1m9 0h1m1 0h1m1 0h1m1 0h2m5 0h2m2 0h1m2 0h2m22 0h1m8 0h1m94 0h1m12 0h1m9 0h1m6 0h1m2 0h2m4 0h2m13 0h1m7 0h1m-221 1h3m2 0h1m3 0h1m6 0h1m2 0h1m1 0h2m28 0h1m57 0h1m51 0h1m8 0h1m20 0h1m8 0h2m8 0h1m16 0h1m-234 1h1m3 0h1m10 0h1m1 0h1m33 0h1m5 0h1m118 0h1m2 0h1m22 0h1m2 0h1m5 0h1m5 0h1m2 0h1m3 0h1m-214 1h1m1 0h1m34 0h1m162 0h1m1 0h1m7 0h1m-223 1h1m113 0h1m113 0h1m-228 1h1m102 1h1m23 0h1m-16 1h1m15 0h1"/>
<path stroke="#3678fe" d="M0 0m113 92h3m3 0h2m-12 1h1m14 0h1m3 0h1m-25 1h1m2 0h1m4 0h1m10 0h1m3 0h1m107 0h1m-229 1h1m100 0h2m11 0h1m6 0h1m95 0h1m8 0h1m-227 1h1m7 0h1m88 0h1m-96 1h1m8 0h1m109 0h1m85 0h1m-196 1h2m7 0h1m78 0h1m21 0h1m-101 1h1m-26 1h1m25 0h1m7 0h1m1 0h2m148 0h2m7 0h3m24 0h1m7 0h1m-223 1h1m5 0h1m21 0h1m8 0h1m56 0h1m75 0h1m6 0h1m1 0h1m7 0h1m15 0h1m-206 1h1m8 0h1m2 0h2m25 0h1m9 0h1m119 0h1m1 0h2m6 0h1m21 0h1m11 0h1m7 0h1m-231 1h1m4 0h1m2 0h1m2 0h2m4 0h2m10 0h1m4 0h1m16 0h1m7 0h2m109 0h1m5 0h1m1 0h1m17 0h2m6 0h1m1 0h1m13 0h1m3 0h1m1 0h1m-223 1h1m3 0h1m13 0h1m7 0h1m3 0h1m17 0h1m7 0h1m8 0h1m106 0h1m14 0h1m1 0h1m6 0h1m2 0h1m3 0h1m8 0h1m4 0h2m1 0h1m-213 1h1m8 0h1m4 0h1m5 0h1m1 0h1m2 0h1m7 0h1m16 0h1m8 0h1m1 0h1m45 0h1m36 0h1m2 0h1m5 0h1m1 0h1m13 0h1m21 0h1m11 0h1m3 0h1m-217 1h1m8 0h1m16 0h1m5 0h1m1 0h1m3 0h1m9 0h1m8 0h1m9 0h1m3 0h1m36 0h1m4 0h1m6 0h1m31 0h1m2 0h2m17 0h1m8 0h1m5 0h1m1 0h1m7 0h1m22 0h1m1 0h1m6 0h1m-236 1h1m4 0h1m9 0h1m1 0h1m3 0h1m8 0h1m1 0h1m7 0h1m4 0h1m9 0h2m1 0h1m12 0h1m74 0h1m9 0h1m9 0h1m2 0h1m6 0h2m5 0h1m8 0h1m3 0h1m1 0h1m7 0h1m6 0h1m14 0h1m4 0h1m-234 1h1m3 0h1m7 0h1m10 0h1m6 0h1m1 0h1m3 0h1m1 0h1m17 0h4m8 0h1m6 0h2m2 0h2m11 0h1m26 0h1m24 0h2m1 0h2m3 0h3m7 0h1m4 0h1m4 0h2m10 0h2m11 0h1m16 0h1m11 0h1m5 0h1m-231 1h1m2 0h1m6 0h1m7 0h1m5 0h1m12 0h1m13 0h1m6 0h1m21 0h1m7 0h4m2 0h1m6 0h1m2 0h1m2 0h1m15 0h1m2 0h1m5 0h1m6 0h1m5 0h1m1 0h1m5 0h1m18 0h1m7 0h1m4 0h1m1 0h1m9 0h1m2 0h1m3 0h1m1 0h1m4 0h1m2 0h1m2 0h1m1 0h2m1 0h1m7 0h1m-228 1h1m4 0h1m16 0h1m19 0h1m1 0h2m2 0h1m1 0h1m5 0h1m1 0h3m1 0h1m12 0h1m10 0h1m2 0h1m8 0h1m31 0h1m19 0h1m18 0h1m22 0h1m3 0h2m8 0h1m1 0h1m12 0h1m-224 1h1m3 0h1m9 0h1m2 0h1m11 0h1m7 0h1m1 0h1m7 0h1m3 0h2m12 0h1m11 0h1m8 0h1m2 0h1m14 0h1m2 0h1m2 0h1m8 0h1m24 0h1m8 0h1m11 0h1m1 0h1m4 0h1m13 0h1m8 0h1m9 0h1m1 0h1m8 0h1m6 0h1m3 0h1m2 0h1m-221 1h1m7 0h1m2 0h1m1 0h1m3 0h1m9 0h1m4 0h1m4 0h1m14 0h1m3 0h1m1 0h1m47 0h1m36 0h1m5 0h1m6 0h2m4 0h1m21 0h1m5 0h2m3 0h1m-197 1h1m4 0h1m2 0h3m1 0h1m21 0h1m9 0h1m92 0h1m60 0h1m-200 1h2m200 0h1m-203 2h1m5 0h1m43 0h1m90 0h1m38 0h1m17 0h1m1 0h1m-209 1h1m57 0h1m9 0h1m76 0h1m4 0h2m1 0h1m13 0h2m5 0h2m5 0h1m4 0h1m1 0h1m20 0h1m8 0h1m7 0h1m1 0h1m-232 1h1m4 0h1m11 0h2m19 0h3m2 0h1m2 0h1m2 0h1m7 0h1m1 0h1m3 0h2m7 0h4m1 0h1m21 0h1m5 0h1m1 0h1m20 0h1m13 0h1m18 0h1m6 0h2m8 0h1m11 0h1m1 0h1m3 0h2m26 0h1m4 0h1m1 0h1m-216 1h3m12 0h2m2 0h1m6 0h1m28 0h1m1 0h1m4 0h1m2 0h1m8 0h1m1 0h2m13 0h2m10 0h1m7 0h2m5 0h1m12 0h1m15 0h1m1 0h1m24 0h1m1 0h1m4 0h1m19 0h1m12 0h1m-230 1h1m6 0h1m2 0h1m2 0h1m1 0h2m4 0h1m3 0h2m8 0h1m3 0h1m9 0h2m15 0h2m1 0h1m2 0h2m1 0h1m13 0h1m3 0h1m26 0h1m1 0h1m10 0h4m1 0h1m2 0h1m1 0h1m7 0h1m8 0h2m5 0h2m2 0h2m11 0h1m2 0h1m6 0h1m4 0h1m2 0h2m-197 1h1m11 0h1m12 0h1m2 0h1m8 0h1m9 0h2m3 0h1m12 0h1m5 0h1m6 0h1m1 0h1m2 0h1m30 0h1m24 0h1m1 0h1m3 0h3m6 0h1m6 0h1m2 0h1m12 0h2m1 0h1m3 0h1m3 0h1m5 0h1m5 0h1m6 0h1m4 0h1m2 0h1m3 0h1m7 0h1m-213 1h1m2 0h1m1 0h1m6 0h2m1 0h1m6 0h1m1 0h1m4 0h1m11 0h1m6 0h1m13 0h1m31 0h1m40 0h1m1 0h1m3 0h1m3 0h1m1 0h1m6 0h1m4 0h2m12 0h1m6 0h1m2 0h1m3 0h1m12 0h1m6 0h1m-227 1h2m3 0h1m4 0h1m13 0h1m1 0h1m4 0h1m2 0h1m1 0h2m4 0h1m1 0h1m2 0h1m7 0h1m1 0h2m47 0h1m46 0h1m14 0h1m4 0h1m1 0h1m4 0h1m1 0h1m2 0h1m6 0h2m1 0h1m4 0h2m3 0h1m11 0h1m5 0h1m3 0h1m-204 1h1m13 0h1m4 0h1m5 0h1m112 0h1m13 0h1m12 0h1m1 0h1m3 0h1m6 0h1m1 0h1m5 0h1m7 0h1m6 0h1m1 0h1m-225 1h1m4 0h1m8 0h1m5 0h2m11 0h1m2 0h1m1 0h1m2 0h2m119 0h1m34 0h1m16 0h1m5 0h1m-221 1h1m3 0h1m4 0h1m8 0h1m5 0h1m4 0h2m4 0h1m19 0h1m131 0h3m1 0h1m5 0h1m5 0h1m1 0h2m1 0h1m7 0h1m1 0h1m6 0h1m-226 1h2m3 0h5m1 0h1m1 0h1m2 0h1m3 0h1m186 0h3m-196 1h1m196 0h1m8 0h1m5 0h1m-234 1h1m5 0h1m103 0h1m16 0h1m94 0h1m10 0h2m-230 1h1m100 0h1m16 0h1m2 0h1m1 0h1m-15 1h1m12 0h1m-22 1h1m1 0h1m11 0h1m1 0h1m2 0h1m2 0h1"/>
<path stroke="#307efb" d="M0 0m111 94h1m10 0h1m-10 1h8m4 0h1m-19 1h1m15 0h2m2 0h1m-15 1h1m12 0h1m95 0h1m-113 1h1m100 0h2m-183 1h1m91 0h1m5 0h1m-15 1h1m78 0h1m-184 1h1m2 0h1m1 0h1m32 0h1m141 0h1m34 0h1m-209 1h1m34 0h1m54 0h1m13 0h1m58 0h1m7 0h1m20 0h2m13 0h2m-226 1h1m22 0h1m29 0h1m8 0h1m52 0h1m87 0h1m5 0h1m1 0h1m11 0h1m6 0h1m-225 1h1m5 0h2m8 0h1m5 0h1m1 0h1m3 0h1m27 0h3m102 0h2m1 0h1m7 0h1m17 0h1m12 0h1m5 0h2m1 0h2m8 0h1m-229 1h1m3 0h1m4 0h1m2 0h1m1 0h1m5 0h2m4 0h1m2 0h1m12 0h1m2 0h1m156 0h1m32 0h1m-231 1h1m2 0h3m9 0h1m36 0h2m98 0h1m8 0h1m5 0h1m9 0h1m22 0h1m3 0h1m2 0h2m2 0h1m10 0h1m-226 1h1m8 0h2m6 0h1m6 0h2m3 0h1m2 0h1m1 0h1m1 0h1m13 0h1m4 0h1m7 0h1m1 0h1m14 0h1m2 0h1m63 0h1m5 0h1m8 0h1m5 0h1m2 0h1m5 0h1m8 0h1m11 0h1m4 0h1m2 0h2m6 0h1m1 0h1m12 0h1m-229 1h1m6 0h2m5 0h2m2 0h2m11 0h1m7 0h1m8 0h2m7 0h1m3 0h1m6 0h1m1 0h1m7 0h1m73 0h2m3 0h2m1 0h1m1 0h1m5 0h1m20 0h2m5 0h1m2 0h4m6 0h2m4 0h1m1 0h2m2 0h2m3 0h2m-223 1h2m3 0h1m1 0h1m3 0h1m2 0h1m6 0h1m19 0h1m1 0h1m13 0h2m7 0h1m20 0h1m52 0h1m10 0h1m2 0h1m5 0h1m1 0h1m4 0h1m8 0h1m1 0h1m7 0h3m12 0h1m8 0h1m6 0h3m-227 1h1m4 0h2m3 0h1m3 0h1m1 0h1m3 0h1m4 0h1m14 0h1m2 0h1m1 0h1m22 0h1m2 0h1m1 0h1m18 0h1m3 0h1m1 0h2m30 0h1m5 0h1m10 0h1m1 0h1m27 0h3m1 0h1m3 0h1m1 0h2m3 0h1m1 0h1m7 0h1m3 0h1m4 0h1m1 0h1m2 0h1m1 0h1m7 0h1m3 0h1m2 0h2m-235 1h1m2 0h1m3 0h1m5 0h1m3 0h2m3 0h1m13 0h1m3 0h1m5 0h1m11 0h1m1 0h1m4 0h1m2 0h1m2 0h1m4 0h1m1 0h1m25 0h1m3 0h1m11 0h1m5 0h2m6 0h2m2 0h1m23 0h1m8 0h1m17 0h1m1 0h2m40 0h1m-233 1h1m11 0h1m2 0h2m6 0h1m11 0h1m8 0h1m2 0h1m6 0h2m1 0h2m2 0h2m26 0h1m50 0h1m47 0h1m11 0h1m7 0h1m6 0h1m5 0h1m2 0h1m5 0h1m-226 1h1m5 0h1m30 0h1m10 0h1m85 0h1m27 0h1m26 0h1m6 0h1m1 0h1m3 0h1m14 0h1m-19 1h1m4 0h2m5 0h1m-208 1h1m7 0h1m160 0h1m21 0h1m9 0h1m6 0h1m8 0h1m-228 1h1m7 0h2m2 0h1m4 0h2m17 0h2m2 0h1m6 0h1m6 0h1m26 0h1m83 0h1m20 0h1m24 0h1m7 0h1m4 0h1m6 0h1m-233 1h1m9 0h1m3 0h3m1 0h1m2 0h1m1 0h1m4 0h3m8 0h2m2 0h1m6 0h1m2 0h1m6 0h1m3 0h2m8 0h2m1 0h2m49 0h1m5 0h1m4 0h1m7 0h1m7 0h1m1 0h1m7 0h1m3 0h1m18 0h1m1 0h1m1 0h1m5 0h1m26 0h1m-219 1h1m2 0h1m5 0h1m17 0h1m15 0h1m2 0h2m5 0h1m4 0h1m10 0h1m1 0h1m25 0h1m1 0h1m1 0h1m1 0h1m11 0h3m8 0h1m15 0h2m2 0h1m12 0h1m3 0h1m3 0h2m1 0h1m16 0h1m3 0h1m1 0h1m12 0h1m4 0h1m2 0h2m7 0h1m-231 1h1m11 0h1m7 0h1m6 0h1m6 0h1m1 0h1m2 0h2m2 0h1m6 0h1m7 0h2m1 0h1m2 0h1m5 0h1m1 0h1m7 0h1m2 0h1m5 0h1m12 0h1m7 0h1m18 0h3m3 0h1m2 0h1m4 0h1m4 0h1m5 0h1m1 0h3m10 0h1m6 0h2m4 0h1m1 0h1m4 0h1m6 0h1m4 0h1m1 0h1m3 0h1m4 0h1m3 0h1m1 0h1m3 0h1m1 0h1m4 0h1m2 0h2m-228 1h2m1 0h1m5 0h1m7 0h2m3 0h1m1 0h1m26 0h1m1 0h1m12 0h1m9 0h1m3 0h1m1 0h2m7 0h1m43 0h1m3 0h1m3 0h2m3 0h2m4 0h1m13 0h1m1 0h2m1 0h1m3 0h2m7 0h1m3 0h1m5 0h1m2 0h1m2 0h1m1 0h1m8 0h1m8 0h1m1 0h1m-214 1h1m7 0h1m2 0h3m12 0h1m7 0h1m2 0h1m2 0h3m2 0h1m1 0h1m7 0h1m1 0h1m9 0h1m61 0h1m24 0h1m9 0h1m1 0h1m9 0h1m6 0h2m1 0h1m1 0h1m3 0h1m2 0h2m4 0h1m-209 1h1m2 0h1m7 0h1m12 0h1m6 0h1m13 0h1m4 0h1m1 0h1m6 0h1m91 0h3m7 0h2m1 0h3m1 0h1m5 0h1m3 0h1m3 0h2m23 0h1m4 0h1m2 0h1m3 0h1m5 0h1m-235 1h1m23 0h1m8 0h1m25 0h1m53 0h1m52 0h1m3 0h1m1 0h1m13 0h2m1 0h1m2 0h1m13 0h2m9 0h1m3 0h1m5 0h1m3 0h1m-233 1h1m5 0h1m4 0h1m15 0h1m8 0h1m2 0h1m6 0h1m131 0h2m7 0h1m4 0h1m1 0h1m9 0h2m10 0h1m10 0h1m2 0h1m3 0h2m-236 1h1m18 0h1m17 0h1m154 0h1m15 0h1m1 0h1m1 0h1m16 0h2m2 0h1m1 0h1m-236 1h1m17 0h1m3 0h1m93 0h1m86 0h1m10 0h1m-215 1h1m3 0h1m5 0h1m13 0h2m2 0h1m188 0h2m1 0h2m11 0h1m-234 1h1m2 0h1m6 0h2m2 0h1m104 0h1m94 0h1m4 0h3m7 0h1m-228 1h1m104 0h1m1 0h1m9 0h1m-12 1h1m3 0h1m122 0h1m-129 1h1m2 0h1m8 0h1m4 0h1m-13 1h2m7 0h1"/>
<path stroke="#2e85f8" d="M0 0m110 96h1m-3 1h1m3 0h1m8 0h2m-14 1h1m10 0h1m3 0h1m2 0h1m-20 1h1m17 0h1m74 0h1m-95 1h1m17 0h1m1 0h1m-114 1h1m26 0h1m69 0h1m-103 1h1m3 0h1m1 0h1m5 0h1m29 0h1m-32 1h1m8 0h1m29 0h1m48 0h1m12 0h1m82 0h1m1 0h1m3 0h1m8 0h1m2 0h1m8 0h1m-228 1h1m10 0h1m4 0h1m4 0h1m3 0h1m81 0h1m85 0h1m5 0h1m-199 1h2m1 0h1m8 0h1m1 0h1m4 0h1m16 0h1m22 0h1m45 0h1m56 0h1m24 0h1m2 0h2m6 0h1m5 0h1m16 0h1m1 0h2m-230 1h1m10 0h1m4 0h1m17 0h2m1 0h1m9 0h1m6 0h2m18 0h1m117 0h1m4 0h1m23 0h1m-218 1h1m5 0h1m3 0h1m1 0h1m6 0h1m17 0h1m6 0h1m4 0h1m57 0h1m11 0h1m41 0h1m20 0h1m4 0h1m5 0h1m4 0h1m11 0h1m19 0h2m-220 1h1m2 0h2m10 0h1m3 0h1m7 0h1m6 0h1m2 0h1m9 0h1m2 0h2m4 0h1m9 0h1m3 0h1m77 0h1m5 0h1m5 0h2m8 0h2m2 0h1m28 0h1m15 0h1m-222 1h1m1 0h1m4 0h1m25 0h2m3 0h1m5 0h1m4 0h1m11 0h1m1 0h2m1 0h1m6 0h1m66 0h1m2 0h1m3 0h1m1 0h1m1 0h1m12 0h1m4 0h1m1 0h1m7 0h1m20 0h1m20 0h1m-234 1h1m6 0h1m2 0h1m5 0h2m4 0h2m2 0h1m4 0h1m17 0h1m4 0h5m15 0h2m4 0h1m3 0h1m8 0h2m1 0h1m34 0h1m6 0h1m1 0h2m2 0h1m5 0h1m4 0h1m4 0h1m3 0h1m8 0h2m10 0h1m4 0h1m1 0h1m4 0h1m9 0h2m5 0h1m5 0h1m7 0h1m1 0h2m-234 1h1m8 0h2m5 0h1m4 0h2m34 0h2m1 0h1m2 0h1m6 0h1m7 0h1m4 0h3m1 0h1m20 0h1m2 0h1m11 0h4m5 0h1m20 0h1m7 0h1m15 0h1m2 0h1m4 0h1m2 0h1m2 0h1m2 0h1m4 0h1m1 0h1m1 0h1m1 0h1m11 0h1m9 0h1m4 0h1m-199 1h1m13 0h1m2 0h1m6 0h1m2 0h1m6 0h1m1 0h1m1 0h1m19 0h1m5 0h1m7 0h2m42 0h1m10 0h1m5 0h1m15 0h1m5 0h1m8 0h1m6 0h3m3 0h1m4 0h1m1 0h2m1 0h2m8 0h1m1 0h1m-232 1h1m5 0h1m16 0h1m1 0h1m7 0h1m21 0h1m41 0h1m16 0h1m37 0h1m42 0h1m13 0h1m6 0h1m-212 1h1m5 0h1m13 0h1m150 0h1m14 0h1m-181 1h1m4 0h1m63 0h1m118 0h1m16 0h1m1 0h1m-221 1h1m7 0h1m5 0h1m32 0h1m6 0h1m19 0h1m42 0h1m33 0h1m12 0h2m14 0h1m5 0h1m5 0h1m25 0h1m2 0h1m5 0h1m-208 1h1m1 0h1m1 0h1m2 0h1m21 0h1m4 0h2m2 0h1m4 0h1m31 0h2m22 0h1m13 0h1m4 0h1m10 0h1m2 0h1m9 0h1m5 0h1m27 0h1m3 0h1m5 0h1m2 0h1m3 0h1m2 0h1m1 0h1m1 0h1m3 0h1m5 0h1m-216 1h1m4 0h1m9 0h1m13 0h1m3 0h1m22 0h1m11 0h1m8 0h1m4 0h1m13 0h1m1 0h1m7 0h1m10 0h1m4 0h2m2 0h1m1 0h3m19 0h1m5 0h1m4 0h1m4 0h1m22 0h2m2 0h1m10 0h1m6 0h1m1 0h1m4 0h1m-227 1h1m3 0h1m2 0h2m10 0h1m1 0h1m8 0h2m12 0h1m10 0h2m4 0h2m27 0h1m1 0h2m2 0h1m37 0h1m8 0h2m12 0h1m10 0h1m2 0h2m13 0h1m5 0h1m5 0h2m3 0h2m1 0h3m7 0h1m2 0h1m-227 1h1m9 0h1m9 0h2m7 0h1m8 0h1m2 0h1m2 0h1m13 0h1m3 0h1m1 0h1m12 0h1m6 0h1m2 0h1m52 0h1m5 0h2m11 0h1m15 0h1m2 0h1m1 0h1m1 0h1m10 0h1m5 0h1m6 0h2m5 0h2m1 0h1m3 0h1m2 0h1m9 0h1m1 0h1m-220 1h1m7 0h1m2 0h1m9 0h1m4 0h1m1 0h1m5 0h1m20 0h1m3 0h1m2 0h1m4 0h1m1 0h1m75 0h1m13 0h1m1 0h2m25 0h1m1 0h1m17 0h1m5 0h1m-230 1h1m10 0h1m14 0h1m4 0h1m18 0h1m1 0h1m5 0h1m5 0h2m3 0h1m40 0h1m55 0h1m5 0h1m11 0h1m14 0h1m4 0h1m2 0h1m11 0h2m2 0h1m-222 1h1m6 0h1m21 0h1m11 0h1m7 0h2m120 0h1m3 0h1m13 0h1m7 0h1m19 0h1m3 0h1m1 0h1m2 0h1m3 0h2m-234 1h1m10 0h2m24 0h1m161 0h1m6 0h1m7 0h1m4 0h1m2 0h1m4 0h1m-226 1h2m1 0h1m29 0h1m4 0h1m155 0h2m12 0h1m2 0h1m1 0h2m5 0h1m10 0h1m-232 1h1m16 0h2m6 0h1m89 0h1m6 0h1m71 0h1m9 0h1m9 0h1m16 0h1m-126 1h1m3 0h1m8 0h1m1 0h1m-119 1h4m98 0h1m6 0h1m112 0h1m-224 1h1m108 0h1m6 0h1m2 0h1m110 0h1m-125 1h1m10 0h1m-8 1h4"/>
<path stroke="#2d8bf4" d="M0 0m114 98h6m-9 1h1m11 0h1m-15 1h1m2 0h1m7 0h1m114 0h1m-128 1h1m1 0h1m3 0h1m11 0h1m99 0h1m-209 1h1m5 0h1m100 0h1m-111 1h1m6 0h1m1 0h2m97 0h1m54 0h1m39 0h1m5 0h1m-201 1h1m84 0h1m9 0h1m73 0h1m5 0h2m23 0h1m4 0h2m-220 1h1m6 0h1m15 0h1m158 0h1m6 0h2m12 0h1m12 0h1m-210 1h1m3 0h1m2 0h1m1 0h1m12 0h1m7 0h1m4 0h1m2 0h1m122 0h1m16 0h1m3 0h1m5 0h3m10 0h1m-217 1h1m31 0h1m1 0h1m4 0h1m4 0h1m18 0h1m148 0h1m5 0h1m8 0h1m-194 1h1m6 0h1m1 0h2m37 0h1m112 0h1m-181 1h1m8 0h2m5 0h1m5 0h1m5 0h1m3 0h1m5 0h2m1 0h1m10 0h1m8 0h1m1 0h1m2 0h1m67 0h1m11 0h1m4 0h1m6 0h1m20 0h1m5 0h1m1 0h1m4 0h1m1 0h1m2 0h1m-200 1h1m31 0h1m24 0h1m5 0h1m4 0h1m2 0h2m55 0h2m7 0h1m5 0h1m1 0h1m15 0h1m12 0h2m6 0h1m6 0h1m22 0h2m-224 1h1m4 0h2m11 0h2m7 0h1m12 0h1m9 0h1m7 0h1m2 0h1m5 0h1m1 0h2m11 0h1m4 0h1m7 0h3m14 0h1m10 0h1m1 0h1m2 0h1m3 0h1m1 0h1m1 0h1m6 0h3m7 0h1m9 0h1m6 0h1m1 0h1m2 0h2m3 0h1m26 0h2m1 0h1m1 0h1m12 0h1m3 0h1m-233 1h1m2 0h1m21 0h2m3 0h1m7 0h2m4 0h1m14 0h1m10 0h1m3 0h1m1 0h2m3 0h2m4 0h1m6 0h1m12 0h1m16 0h1m7 0h1m4 0h1m6 0h1m5 0h1m4 0h1m1 0h1m2 0h1m4 0h1m7 0h2m4 0h1m8 0h2m1 0h1m4 0h1m1 0h1m10 0h1m16 0h1m-219 1h1m7 0h1m3 0h1m8 0h1m3 0h1m3 0h1m32 0h1m24 0h1m51 0h1m1 0h1m2 0h1m12 0h1m1 0h1m6 0h2m3 0h1m4 0h1m18 0h1m12 0h1m5 0h1m4 0h1m-211 1h1m159 0h2m19 0h1m8 0h1m8 0h1m-171 1h1m31 0h1m70 0h1m37 0h1m15 0h1m6 0h1m12 0h1m-225 1h1m13 0h1m7 0h2m5 0h2m2 0h2m7 0h1m7 0h1m17 0h1m2 0h1m7 0h1m75 0h1m3 0h1m1 0h1m8 0h1m6 0h1m5 0h1m20 0h2m11 0h1m4 0h1m4 0h1m-226 1h1m2 0h1m3 0h1m1 0h1m31 0h1m1 0h1m3 0h1m10 0h1m7 0h1m8 0h1m2 0h1m24 0h1m6 0h1m5 0h1m11 0h1m3 0h1m8 0h1m14 0h1m5 0h1m9 0h1m8 0h3m11 0h1m22 0h2m2 0h2m6 0h1m-229 1h1m7 0h1m14 0h1m17 0h1m4 0h1m2 0h1m10 0h1m24 0h1m8 0h2m10 0h1m16 0h1m6 0h1m9 0h1m10 0h1m1 0h1m4 0h1m14 0h1m8 0h1m4 0h1m5 0h1m1 0h3m3 0h1m1 0h1m4 0h1m1 0h1m3 0h1m-215 1h1m3 0h1m8 0h1m5 0h1m15 0h1m52 0h1m1 0h1m40 0h1m6 0h1m4 0h1m9 0h1m7 0h2m1 0h1m17 0h1m11 0h1m1 0h1m16 0h1m11 0h1m-163 1h1m8 0h2m35 0h1m37 0h1m2 0h1m13 0h2m17 0h2m20 0h2m9 0h1m8 0h2m1 0h1m-226 1h1m16 0h1m11 0h1m26 0h2m2 0h2m41 0h1m57 0h1m5 0h1m13 0h1m6 0h3m22 0h1m-223 1h1m8 0h1m12 0h1m1 0h2m4 0h1m2 0h1m10 0h1m18 0h1m126 0h1m13 0h1m4 0h1m21 0h1m-221 1h1m19 0h1m191 0h1m-219 1h1m105 0h1m2 0h1m106 0h1m-221 1h1m116 0h1m5 0h1m68 0h1m1 0h1m19 0h1m8 0h1m-224 1h2m9 0h1m6 0h1m91 0h1m104 0h1m-214 1h1m5 0h1m12 0h1m-19 1h2m105 0h1m4 0h3m4 0h1m98 0h1m-220 1h2m6 0h1m101 0h1m6 0h1m106 0h1"/>
<path stroke="#2b91ef" d="M0 0m113 100h1m7 0h1m-3 1h1m3 0h1m-15 1h1m0 1h1m8 0h1m-106 1h1m6 0h1m90 0h1m85 0h1m28 0h1m-203 1h1m97 0h1m83 0h2m6 0h1m-199 1h1m1 0h1m21 0h1m74 0h1m3 0h1m81 0h1m11 0h1m-202 1h1m104 0h1m52 0h1m15 0h1m41 0h1m-217 1h1m1 0h1m49 0h1m56 0h1m45 0h2m21 0h1m42 0h1m-218 1h1m17 0h1m36 0h2m2 0h1m9 0h1m69 0h1m3 0h1m31 0h1m11 0h1m-197 1h1m14 0h1m13 0h1m2 0h1m11 0h1m13 0h1m4 0h1m6 0h1m2 0h1m3 0h1m55 0h1m27 0h2m14 0h1m22 0h1m6 0h1m2 0h1m-214 1h1m9 0h1m29 0h1m5 0h1m1 0h1m20 0h1m19 0h1m9 0h1m25 0h1m2 0h1m3 0h1m3 0h1m4 0h1m32 0h1m3 0h2m44 0h1m-229 1h1m2 0h2m5 0h2m3 0h1m14 0h1m22 0h1m19 0h1m8 0h1m2 0h1m6 0h1m6 0h1m21 0h1m11 0h1m16 0h1m32 0h2m2 0h1m4 0h1m26 0h1m6 0h1m-225 1h2m13 0h1m7 0h1m1 0h1m18 0h2m10 0h2m2 0h1m5 0h1m6 0h1m14 0h1m48 0h1m7 0h1m2 0h1m1 0h1m2 0h1m4 0h1m19 0h1m8 0h1m2 0h1m1 0h1m5 0h1m6 0h1m4 0h1m15 0h1m1 0h1m1 0h1m-231 1h1m13 0h1m1 0h1m36 0h1m5 0h1m89 0h1m24 0h1m1 0h1m5 0h1m16 0h1m25 0h1m-224 1h1m14 0h1m27 0h1m12 0h1m83 0h1m28 0h1m10 0h2m24 0h1m13 0h1m1 0h1m-208 1h1m7 0h1m11 0h1m4 0h1m7 0h1m8 0h1m1 0h1m6 0h1m3 0h1m20 0h1m56 0h1m6 0h1m8 0h1m3 0h1m8 0h1m6 0h1m7 0h1m15 0h1m3 0h1m13 0h1m-227 1h1m6 0h1m6 0h1m6 0h1m5 0h1m19 0h1m6 0h1m6 0h1m17 0h3m3 0h1m1 0h1m4 0h2m6 0h1m2 0h1m2 0h1m1 0h1m11 0h1m3 0h1m5 0h1m1 0h1m2 0h1m1 0h1m3 0h1m3 0h1m21 0h1m2 0h1m3 0h1m1 0h1m11 0h3m9 0h1m1 0h1m11 0h1m15 0h1m-204 1h1m23 0h1m5 0h1m6 0h1m9 0h2m7 0h1m1 0h1m2 0h1m1 0h2m12 0h1m21 0h1m7 0h2m26 0h1m12 0h1m6 0h1m18 0h1m8 0h1m7 0h1m10 0h2m-207 1h1m3 0h1m31 0h3m11 0h1m2 0h1m12 0h1m49 0h2m5 0h1m21 0h1m10 0h1m35 0h1m-185 1h1m4 0h2m19 0h1m19 0h1m102 0h2m27 0h1m5 0h1m2 0h1m1 0h1m-227 1h2m19 0h1m41 0h1m12 0h2m37 0h1m4 0h1m100 0h1m4 0h1m4 0h1m2 0h1m-181 1h1m134 0h1m7 0h1m1 0h1m19 0h1m13 0h2m-233 1h1m9 0h2m19 0h1m185 0h1m-217 1h1m117 0h1m1 0h1m-122 1h1m2 0h1m110 0h2m76 0h1m12 0h1m-94 1h2m3 0h2m2 0h1m109 0h1m-213 1h1m90 0h1m8 0h1m106 2h1"/>
<path stroke="#2797eb" d="M0 0m115 101h4m-7 1h1m9 0h1m-109 1h1m6 0h1m91 0h1m1 1h1m-90 2h1m188 0h1m4 0h1m-199 1h1m149 0h1m-128 1h1m66 0h1m-77 1h2m6 0h1m26 0h1m13 0h1m67 0h1m23 0h1m12 0h1m7 0h1m12 0h1m22 0h1m-190 1h1m24 0h1m63 0h1m14 0h1m6 0h1m6 0h1m20 0h1m-151 1h1m1 0h1m15 0h1m44 0h1m2 0h1m42 0h1m8 0h1m7 0h1m5 0h1m33 0h1m3 0h1m10 0h1m12 0h1m-229 1h1m8 0h2m4 0h1m16 0h1m34 0h1m8 0h1m1 0h1m8 0h1m11 0h1m20 0h2m6 0h1m7 0h1m6 0h1m8 0h1m6 0h1m6 0h1m4 0h1m1 0h1m26 0h1m12 0h1m-213 1h1m3 0h2m7 0h1m14 0h1m3 0h1m5 0h1m1 0h1m1 0h1m5 0h2m15 0h1m5 0h1m1 0h2m1 0h2m11 0h1m9 0h1m6 0h1m9 0h1m10 0h1m28 0h1m9 0h1m6 0h3m15 0h1m1 0h1m3 0h1m8 0h1m4 0h1m1 0h1m2 0h1m14 0h1m-227 1h1m3 0h1m7 0h1m7 0h1m1 0h1m20 0h1m3 0h1m7 0h1m106 0h2m27 0h2m4 0h1m1 0h1m1 0h1m1 0h1m4 0h1m14 0h1m-224 1h2m2 0h1m13 0h1m3 0h2m7 0h2m2 0h1m12 0h1m7 0h1m7 0h1m3 0h1m62 0h1m41 0h1m1 0h1m5 0h1m7 0h1m13 0h2m18 0h1m-225 1h1m1 0h1m7 0h1m7 0h1m5 0h1m3 0h2m7 0h2m2 0h1m2 0h3m8 0h1m6 0h1m8 0h1m2 0h2m2 0h1m5 0h1m5 0h1m43 0h1m10 0h1m7 0h1m3 0h1m20 0h1m4 0h1m10 0h2m1 0h1m2 0h1m2 0h1m7 0h1m9 0h1m7 0h2m-230 1h1m18 0h1m7 0h1m10 0h1m3 0h1m7 0h2m9 0h1m1 0h1m11 0h1m1 0h1m5 0h1m1 0h1m1 0h2m4 0h1m4 0h1m1 0h1m14 0h1m9 0h1m11 0h1m7 0h1m7 0h1m1 0h1m12 0h1m5 0h1m20 0h2m5 0h1m5 0h2m-205 1h1m1 0h1m5 0h1m6 0h1m24 0h1m9 0h1m19 0h2m20 0h1m26 0h1m20 0h1m34 0h1m40 0h1m-198 1h1m105 0h1m2 0h2m12 0h1m17 0h3m6 0h2m5 0h1m32 0h1m6 0h2m5 0h1m-170 1h2m114 0h1m43 0h1m1 0h1m-46 1h1m6 0h1m35 0h1m6 0h2m-203 1h1m166 0h1m19 0h1m13 0h1m-186 1h1m64 0h1m9 0h1m-121 1h1m1 0h1m108 0h1m6 0h1m-79 1h1m69 0h1m9 0h1m101 1h1"/>
<path stroke="#259de7" d="M0 0m14 102h1m99 1h1m5 0h1m-5 1h3m3 0h1m-5 2h1m3 0h1m-7 1h1m84 0h1m17 0h2m-207 1h1m218 0h1m-115 1h1m1 0h1m111 0h1m-212 1h1m11 0h1m125 0h1m3 0h2m17 0h1m20 0h1m-170 1h1m46 0h1m12 0h2m1 0h1m45 0h2m18 0h1m22 0h1m-136 1h1m22 0h1m6 0h1m6 0h1m6 0h1m4 0h1m3 0h1m5 0h1m1 0h1m9 0h1m2 0h1m2 0h1m9 0h1m24 0h1m15 0h2m4 0h2m26 0h1m-199 1h1m13 0h1m6 0h2m12 0h2m1 0h1m3 0h1m2 0h2m2 0h1m13 0h1m5 0h1m41 0h1m1 0h1m9 0h1m2 0h1m19 0h1m3 0h1m12 0h2m2 0h1m4 0h2m1 0h1m8 0h1m1 0h1m13 0h1m9 0h2m6 0h2m-234 1h1m1 0h1m3 0h1m12 0h1m2 0h1m4 0h1m18 0h1m5 0h2m14 0h1m7 0h1m59 0h2m13 0h1m2 0h1m13 0h1m3 0h1m12 0h1m4 0h1m1 0h3m7 0h1m-201 1h1m3 0h1m8 0h1m5 0h1m29 0h1m1 0h2m23 0h1m57 0h1m12 0h1m1 0h1m11 0h2m6 0h1m18 0h3m5 0h1m2 0h1m1 0h1m1 0h1m16 0h1m-222 1h1m2 0h1m14 0h2m3 0h1m3 0h1m8 0h1m16 0h1m6 0h1m1 0h1m2 0h2m2 0h1m4 0h2m57 0h1m1 0h1m6 0h1m8 0h1m1 0h1m10 0h1m2 0h2m5 0h2m2 0h1m2 0h1m9 0h2m2 0h1m2 0h1m28 0h1m-163 1h1m18 0h1m12 0h2m8 0h1m1 0h1m11 0h1m2 0h1m13 0h1m2 0h1m13 0h1m8 0h1m5 0h1m29 0h1m-192 1h1m12 0h1m7 0h1m34 0h1m1 0h1m18 0h1m4 0h1m7 0h1m49 0h1m5 0h1m26 0h1m0 1h1m-74 1h1m-92 1h2m89 1h1m7 0h1m-7 1h5"/>
<path stroke="#21a3e4" d="M0 0m113 105h1m7 0h1m-8 1h1m86 0h1m-89 1h1m-69 2h1m67 0h1m77 0h1m-157 1h2m44 1h1m17 0h1m-19 1h1m6 0h1m15 0h1m3 0h1m5 0h1m18 0h1m3 0h1m6 0h1m1 0h1m18 0h1m6 0h1m5 0h1m36 0h1m18 0h2m-236 1h1m33 0h1m7 0h1m21 0h1m3 0h1m1 0h1m13 0h1m12 0h1m8 0h1m37 0h1m2 0h1m12 0h1m4 0h1m5 0h1m12 0h3m12 0h1m15 0h1m7 0h1m4 0h1m-224 1h1m17 0h1m6 0h1m10 0h1m3 0h2m12 0h2m13 0h2m1 0h1m67 0h2m8 0h1m15 0h1m12 0h1m1 0h1m12 0h2m14 0h1m1 0h1m2 0h1m3 0h1m2 0h1m-228 1h1m2 0h1m22 0h2m2 0h1m5 0h1m34 0h1m11 0h1m66 0h1m8 0h2m8 0h1m7 0h1m13 0h1m12 0h1m12 0h1m3 0h1m9 0h3m-230 1h1m61 0h1m19 0h1m3 0h1m6 0h1m26 0h1m9 0h1m2 0h1m8 0h4m5 0h1m3 0h1m8 0h1m5 0h3m16 0h1m9 0h2m10 0h1m6 0h2m-144 1h1m7 0h1m34 0h1m2 0h1m77 0h1m-138 1h1m48 0h1m55 0h2m-60 1h1m120 0h1m-122 2h1m4 0h1"/>
<path stroke="#1da8e0" d="M0 0m115 106h1m3 0h1m-3 1h1m3 0h1m-2 3h1m44 1h1m-113 1h1m55 0h1m2 0h1m17 0h3m5 0h1m6 0h1m33 0h1m48 0h1m-220 1h2m20 0h1m21 0h1m17 0h1m8 0h1m1 0h2m8 0h2m49 0h1m29 0h1m46 0h1m-205 1h1m5 0h1m2 0h1m5 0h2m4 0h1m2 0h1m11 0h1m4 0h1m11 0h1m1 0h3m8 0h1m68 0h1m13 0h1m7 0h1m2 0h1m5 0h1m6 0h2m17 0h1m7 0h1m8 0h2m4 0h1m3 0h1m-235 1h1m12 0h1m1 0h1m4 0h1m3 0h1m5 0h2m7 0h1m1 0h1m9 0h1m4 0h1m6 0h2m3 0h1m74 0h1m1 0h1m14 0h1m2 0h1m3 0h1m9 0h1m10 0h1m7 0h1m1 0h1m8 0h1m5 0h1m8 0h1m11 0h1m-209 1h1m29 0h3m24 0h2m2 0h1m43 0h2m10 0h1m51 0h1m17 0h1m-113 1h2m5 0h1m6 0h1m5 0h1m7 0h1m-13 3h1"/>
<path stroke="#18aedb" d="M0 0m114 108h1m5 0h1m-4 1h1m-4 1h1m-21 2h2m7 0h1m20 0h1m-110 1h1m65 0h1m4 0h1m9 0h1m25 0h1m7 0h1m2 0h1m4 0h1m19 0h1m4 0h2m7 0h1m48 0h2m-209 1h1m27 0h1m4 0h1m92 0h2m2 0h1m4 0h2m13 0h1m10 0h1m12 0h1m34 0h1m6 0h1m3 0h1m-233 1h1m6 0h1m23 0h1m5 0h1m4 0h1m2 0h1m2 0h1m8 0h2m6 0h2m4 0h1m1 0h1m1 0h1m18 0h1m42 0h1m15 0h2m1 0h1m3 0h1m9 0h1m2 0h1m6 0h1m1 0h1m3 0h1m7 0h1m1 0h1m16 0h1m18 0h1m-142 1h2m3 0h1m9 0h1m2 0h1m4 0h1m8 0h1m2 0h2m1 0h1m3 0h1m4 0h1m-26 2h1m0 2h2"/>
<path stroke="#0eb2d4" d="M0 0m115 109h2m1 0h1m0 2h1m5 1h1m-59 1h1m21 0h1m4 0h1m42 0h1m8 0h1m-147 1h2m7 0h1m26 0h1m1 0h1m19 0h1m4 0h1m1 0h1m2 0h1m7 0h1m2 0h1m1 0h1m7 0h2m46 0h1m4 0h1m4 0h1m6 0h1m6 0h2m4 0h1m53 0h2m9 0h2m-219 1h1m6 0h1m12 0h1m9 0h1m12 0h1m7 0h1m22 0h1m57 0h1m9 0h1m5 0h1m3 0h1m8 0h1m39 0h1m5 0h1m7 0h1m-144 1h1m19 0h1m19 0h1m-10 2h1"/>
<path stroke="#03b7cc" d="M0 0m115 111h1m-14 1h1m15 0h1m-32 1h1m13 0h1m8 0h1m10 0h1m1 0h1m12 0h1m8 0h1m13 0h1m-127 1h1m10 0h1m5 0h1m13 0h1m15 0h1m2 0h1m7 0h1m7 0h2m6 0h1m49 0h1m14 0h1m-139 1h1m8 0h1m2 0h1m16 0h1m8 0h1m5 0h1m57 0h1m17 0h1m15 0h2m11 0h1m-93 1h1m7 0h1m1 0h2m38 0h1m1 0h1"/>
<path stroke="#02bbc3" d="M0 0m88 113h1m6 0h1m12 0h1m17 0h1m7 0h1m-120 1h1m19 0h1m3 0h1m3 0h1m22 0h2m17 0h1m6 0h2m65 0h2m2 0h1m2 0h1m16 0h1m7 0h1m-141 1h1m24 0h1m2 0h1m6 0h1m10 0h1m27 0h1m5 0h1m2 0h1m5 0h1m8 0h1m-58 1h1m11 0h3m2 0h1m2 0h1m8 0h1m8 0h1m11 0h1"/>
<path stroke="#11beba" d="M0 0m103 113h1m1 0h1m26 0h1m2 0h1m-102 1h1m16 0h1m34 0h1m10 0h1m8 0h1m36 0h1m4 0h1m-65 1h2m2 0h1m11 1h1m17 0h1m7 0h1"/>
<path stroke="#22c1b0" d="M0 0m104 113h1m6 0h1m3 0h1m2 0h1m5 0h1m-41 1h1m9 0h1m1 0h1m1 0h1m31 0h1m2 0h1m24 0h1m-72 1h1m2 0h1m1 0h1m2 0h1m28 0h1m5 0h1m4 0h1m5 0h3m4 0h1m-46 1h1m6 0h1m9 0h1m2 0h1m-7 1h1"/>
<path stroke="#2dc4a5" d="M0 0m116 112h1m-15 1h1m10 0h1m6 0h1m10 0h1m-44 1h1m14 0h1m30 0h1m1 0h1m-44 1h1m5 0h1m11 0h1m1 1h1"/>
<path stroke="#35c79a" d="M0 0m117 112h1m-9 1h1m4 0h1m10 0h1m-39 1h1m14 0h1m20 0h2m6 0h1m-41 1h1m6 0h1m8 0h2m17 0h1m-13 1h1m7 0h1"/>
<path stroke="#40ca8d" d="M0 0m112 113h1m-18 1h1m5 0h1m6 0h1m2 0h1m13 0h2m2 0h1m-36 1h1m5 0h1m1 0h2m23 0h1m1 0h1m2 0h2m-15 1h1"/>
<path stroke="#52cc7e" d="M0 0m105 114h1m16 0h1m4 0h2m3 0h1m2 0h1m-32 1h1"/>
<path stroke="#65cd6e" d="M0 0m104 114h1m5 0h1m10 0h1m-17 1h2m2 0h1m2 0h1m10 0h1"/>
<path stroke="#7bcc5d" d="M0 0m119 113h1m0 1h1m-20 1h1m19 0h1m6 0h1m-14 1h1"/>
<path stroke="#91ca4c" d="M0 0m109 114h1m0 1h1m9 0h1m1 0h1"/>
<path stroke="#bcc42f" d="M0 0m112 114h1"/>
<path stroke="#e1bc2b" d="M0 0m119 115h1"/>
<path stroke="#fcbd3d" d="M0 0m113 114h2m-2 1h1"/>
<path stroke="#fec636" d="M0 0m119 114h1"/>
<path stroke="#fcd030" d="M0 0m115 114h1m2 1h1"/>
<path stroke="#f7db2b" d="M0 0m114 115h1"/>
<path stroke="#f6f01f" d="M0 0m116 114h1m1 0h1"/>
<path stroke="#f9fb15" d="M0 0m117 114h1m-3 1h3"/>
</g>
</g>
<rect x="36.00" y="17.20" width="234.70" height="132.10" fill="none" stroke="#262626" stroke-width="0.5"/>
<text transform="translate(35.80 165.20) scale(0.875 1)" text-anchor="middle" font-size="14.0">-10</text>
<text transform="translate(94.47 165.20) scale(0.875 1)" text-anchor="middle" font-size="14.0">-5</text>
<text transform="translate(153.35 165.20) scale(0.875 1)" text-anchor="middle" font-size="14.0">0</text>
<text transform="translate(212.02 165.20) scale(0.875 1)" text-anchor="middle" font-size="14.0">5</text>
<text transform="translate(270.70 165.20) scale(0.875 1)" text-anchor="middle" font-size="14.0">10</text>
<text transform="translate(32.20 137.03) scale(0.875 1)" text-anchor="end" font-size="14.0">20</text>
<text transform="translate(32.20 119.41) scale(0.875 1)" text-anchor="end" font-size="14.0">40</text>
<text transform="translate(32.20 101.80) scale(0.875 1)" text-anchor="end" font-size="14.0">60</text>
<text transform="translate(32.20 84.19) scale(0.875 1)" text-anchor="end" font-size="14.0">80</text>
<text transform="translate(32.20 66.57) scale(0.875 1)" text-anchor="end" font-size="14.0">100</text>
<text transform="translate(32.20 48.96) scale(0.875 1)" text-anchor="end" font-size="14.0">120</text>
<text transform="translate(32.20 31.35) scale(0.875 1)" text-anchor="end" font-size="14.0">140</text>
<rect x="281.80" y="17.20" width="11.50" height="132.10" fill="url(#cb)" stroke="#262626" stroke-width="0.5"/>
<text transform="translate(296.70 22.00) scale(0.875 1)" text-anchor="start" font-size="14.0">0</text>
<text transform="translate(296.70 66.03) scale(0.875 1)" text-anchor="start" font-size="14.0">-10</text>
<text transform="translate(296.70 110.07) scale(0.875 1)" text-anchor="start" font-size="14.0">-20</text>
<text transform="translate(296.70 154.10) scale(0.875 1)" text-anchor="start" font-size="14.0">-30</text>
<path d="M36.00 149.30v-2.3M36.00 17.20v2.3M94.67 149.30v-2.3M94.67 17.20v2.3M153.35 149.30v-2.3M153.35 17.20v2.3M212.02 149.30v-2.3M212.02 17.20v2.3M270.70 149.30v-2.3M270.70 17.20v2.3M36.00 132.13h2.3M270.70 132.13h-2.3M36.00 114.51h2.3M270.70 114.51h-2.3M36.00 96.90h2.3M270.70 96.90h-2.3M36.00 79.29h2.3M270.70 79.29h-2.3M36.00 61.67h2.3M270.70 61.67h-2.3M36.00 44.06h2.3M270.70 44.06h-2.3M36.00 26.45h2.3M270.70 26.45h-2.3M293.30 17.20h-1.3M293.30 61.23h-1.3M293.30 105.27h-1.3M293.30 149.30h-1.3" stroke="#262626" stroke-width="0.5" fill="none"/>
<text x="160.60" y="175.00" text-anchor="middle" font-size="12.7">x (m)</text>
<text transform="translate(8.90 83.50) rotate(-90)" text-anchor="middle" font-size="12.7">y (m)</text>
<text transform="translate(326.00 83.30) rotate(-90)" text-anchor="middle" font-size="12.7">Power (dB)</text>
<text x="90.70" y="10.50" textLength="125.3" lengthAdjust="spacingAndGlyphs" font-size="14.2">Exact Bessel (<tspan font-style="italic">&#957;</tspan> = 1)</text>
<clipPath id="c1"><rect x="0.50" y="0.20" width="234.70" height="132.10"/></clipPath>
<g transform="translate(392 17)" clip-path="url(#c1)">
<rect width="236" height="133" fill="#3e26a8"/>
<g transform="translate(0 .5)" stroke-width="1" fill="none" shape-rendering="crispEdges">
<path stroke="#3e27aa" d="M0 0m109 112h18m-36 1h8m38 0h7m-59 1h6m54 0h6m-68 1h6m58 0h5m-67 1h6m54 0h5m-58 1h7m37 0h8m-34 1h15"/>
<path stroke="#3f28ad" d="M0 0m99 113h4m29 0h5m-46 1h3m48 0h3m-56 1h2m53 0h3m-56 1h3m48 0h3m-46 1h5m28 0h4"/>
<path stroke="#3f29b1" d="M0 0m103 113h4m21 0h4m-38 1h2m44 0h2m-51 1h2m49 0h2m-50 1h2m43 0h3m-38 1h4m19 0h5"/>
<path stroke="#402bb6" d="M0 0m107 113h4m14 0h3m-32 1h2m40 0h2m-47 1h2m46 0h1m-46 1h2m40 0h1m-31 1h4m12 0h3"/>
<path stroke="#412dbb" d="M0 0m111 113h2m9 0h3m-27 1h1m37 0h2m-43 1h1m43 0h2m-43 1h2m36 0h2m-26 1h2m7 0h3"/>
<path stroke="#422fc0" d="M0 0m113 113h2m5 0h2m-23 1h2m34 0h1m-40 1h2m40 0h1m-39 1h1m33 0h2m-22 1h2m3 0h2"/>
<path stroke="#4331c7" d="M0 0m115 113h5m-19 1h1m31 0h2m-37 1h1m38 0h1m-37 1h2m30 0h1m-18 1h3"/>
<path stroke="#4433cd" d="M0 0m102 114h2m28 0h1m-34 1h1m36 0h1m-34 1h1m28 0h1"/>
<path stroke="#4536d4" d="M0 0m104 114h1m26 0h1m-32 1h1m34 0h1m-32 1h1m25 0h2"/>
<path stroke="#463ada" d="M0 0m105 114h1m24 0h1m-30 1h1m32 0h1m-30 1h1m23 0h1"/>
<path stroke="#463de0" d="M0 0m106 114h1m22 0h1m-28 1h1m30 0h1m-28 1h2m20 0h1"/>
<path stroke="#4742e6" d="M0 0m107 114h1m19 0h2m-26 1h1m28 0h1m-25 1h1m18 0h1"/>
<path stroke="#4746ea" d="M0 0m108 114h1m17 0h1m4 1h1m-23 1h1m16 0h1"/>
<path stroke="#484bee" d="M0 0m109 114h1m-6 1h1m5 1h1m14 0h1"/>
<path stroke="#4850f2" d="M0 0m110 114h1m14 0h1m-21 1h1m24 0h1m-7 1h1"/>
<path stroke="#4755f6" d="M0 0m111 114h1m12 0h1m-19 1h1m22 0h1m-19 1h1"/>
<path stroke="#475af9" d="M0 0m123 114h1m-17 1h1m20 0h1m-17 1h1m10 0h1"/>
<path stroke="#465ffb" d="M0 0m112 114h1m14 1h1m-6 1h1"/>
<path stroke="#4465fd" d="M0 0m113 114h1m8 0h1m-15 1h1m4 1h1"/>
<path stroke="#416bfe" d="M0 0m109 115h1m16 0h1m-6 1h1"/>
<path stroke="#3c71ff" d="M0 0m121 114h1m-8 2h1"/>
<path stroke="#3678fe" d="M0 0m114 114h1m-5 1h1m14 0h1m-6 1h1"/>
<path stroke="#307efb" d="M0 0m120 114h1m3 1h1m-10 1h1"/>
<path stroke="#2e85f8" d="M0 0m115 114h1m-5 1h1"/>
<path stroke="#2d8bf4" d="M0 0m119 116h1"/>
<path stroke="#2b91ef" d="M0 0m119 114h1m-8 1h1m10 0h1m-8 1h1"/>
<path stroke="#2797eb" d="M0 0m116 114h1m1 2h1"/>
<path stroke="#259de7" d="M0 0m118 114h1m3 1h1m-6 1h1"/>
<path stroke="#21a3e4" d="M0 0m117 114h1m-5 1h1"/>
<path stroke="#18aedb" d="M0 0m121 115h1"/>
<path stroke="#0eb2d4" d="M0 0m114 115h1"/>
<path stroke="#11beba" d="M0 0m120 115h1"/>
<path stroke="#2dc4a5" d="M0 0m115 115h1"/>
<path stroke="#52cc7e" d="M0 0m119 115h1"/>
<path stroke="#7bcc5d" d="M0 0m116 115h1"/>
<path stroke="#a7c73c" d="M0 0m118 115h1"/>
<path stroke="#bcc42f" d="M0 0m117 115h1"/>
</g>
</g>
<rect x="392.50" y="17.20" width="234.70" height="132.10" fill="none" stroke="#262626" stroke-width="0.5"/>
<text transform="translate(392.30 165.20) scale(0.875 1)" text-anchor="middle" font-size="14.0">-10</text>
<text transform="translate(450.98 165.20) scale(0.875 1)" text-anchor="middle" font-size="14.0">-5</text>
<text transform="translate(509.85 165.20) scale(0.875 1)" text-anchor="middle" font-size="14.0">0</text>
<text transform="translate(568.52 165.20) scale(0.875 1)" text-anchor="middle" font-size="14.0">5</text>
<text transform="translate(627.20 165.20) scale(0.875 1)" text-anchor="middle" font-size="14.0">10</text>
<text transform="translate(388.70 137.03) scale(0.875 1)" text-anchor="end" font-size="14.0">20</text>
<text transform="translate(388.70 119.41) scale(0.875 1)" text-anchor="end" font-size="14.0">40</text>
<text transform="translate(388.70 101.80) scale(0.875 1)" text-anchor="end" font-size="14.0">60</text>
<text transform="translate(388.70 84.19) scale(0.875 1)" text-anchor="end" font-size="14.0">80</text>
<text transform="translate(388.70 66.57) scale(0.875 1)" text-anchor="end" font-size="14.0">100</text>
<text transform="translate(388.70 48.96) scale(0.875 1)" text-anchor="end" font-size="14.0">120</text>
<text transform="translate(388.70 31.35) scale(0.875 1)" text-anchor="end" font-size="14.0">140</text>
<rect x="638.30" y="17.20" width="11.50" height="132.10" fill="url(#cb)" stroke="#262626" stroke-width="0.5"/>
<text transform="translate(653.20 22.00) scale(0.875 1)" text-anchor="start" font-size="14.0">0</text>
<text transform="translate(653.20 66.03) scale(0.875 1)" text-anchor="start" font-size="14.0">-10</text>
<text transform="translate(653.20 110.07) scale(0.875 1)" text-anchor="start" font-size="14.0">-20</text>
<text transform="translate(653.20 154.10) scale(0.875 1)" text-anchor="start" font-size="14.0">-30</text>
<path d="M392.50 149.30v-2.3M392.50 17.20v2.3M451.18 149.30v-2.3M451.18 17.20v2.3M509.85 149.30v-2.3M509.85 17.20v2.3M568.52 149.30v-2.3M568.52 17.20v2.3M627.20 149.30v-2.3M627.20 17.20v2.3M392.50 132.13h2.3M627.20 132.13h-2.3M392.50 114.51h2.3M627.20 114.51h-2.3M392.50 96.90h2.3M627.20 96.90h-2.3M392.50 79.29h2.3M627.20 79.29h-2.3M392.50 61.67h2.3M627.20 61.67h-2.3M392.50 44.06h2.3M627.20 44.06h-2.3M392.50 26.45h2.3M627.20 26.45h-2.3M649.80 17.20h-1.3M649.80 61.23h-1.3M649.80 105.27h-1.3M649.80 149.30h-1.3" stroke="#262626" stroke-width="0.5" fill="none"/>
<text x="517.10" y="175.00" text-anchor="middle" font-size="12.7">x (m)</text>
<text transform="translate(365.40 83.50) rotate(-90)" text-anchor="middle" font-size="12.7">y (m)</text>
<text transform="translate(682.50 83.30) rotate(-90)" text-anchor="middle" font-size="12.7">Power (dB)</text>
<text x="435.05" y="10.50" textLength="149.6" lengthAdjust="spacingAndGlyphs" font-size="14.2">Exact Pad&#233;-Bessel (<tspan font-style="italic">P</tspan><tspan font-size="10" dy="2.6">1,2</tspan><tspan dy="-2.6">)</tspan></text>
<clipPath id="c2"><rect x="0.00" y="0.40" width="234.70" height="132.10"/></clipPath>
<g transform="translate(36 202)" clip-path="url(#c2)">
<rect width="236" height="133" fill="#3e26a8"/>
<g transform="translate(0 .5)" stroke-width="1" fill="none" shape-rendering="crispEdges">
<path stroke="#3e27aa" d="M0 0m81 0h1m-68 1h1m47 0h1m-48 1h1m0 1h1m46 0h1m171 0h1m-219 1h1m216 0h1m-217 1h1m45 0h1m168 0h1m-215 1h1m212 0h1m-213 1h1m44 0h1m17 0h1m147 0h1m-2 1h1m-165 1h1m162 0h1m-146 1h1m-62 1h1m43 0h1m-44 1h1m0 1h1m59 0h1m-60 1h1m0 1h1m0 1h1m40 0h1m16 0h1m-17 2h1m-71 2h1m70 0h1m-71 1h2m213 0h1m-215 1h2m29 0h1m38 0h1m142 0h1m18 0h1m-231 1h1m29 0h1m53 0h1m125 0h1m-210 1h1m29 0h1m37 0h1m139 0h1m-208 1h2m28 0h1m175 0h1m-206 1h2m65 0h1m14 0h1m121 0h1m17 0h1m-221 1h1m0 1h1m64 0h1m-76 1h1m10 0h2m77 0h1m134 0h1m-226 1h3m9 0h2m62 0h1m147 0h1m-225 1h4m10 0h1m-13 1h3m10 0h1m26 0h1m34 0h1m13 0h1m-89 1h4m9 0h1m26 0h1m176 0h1m-216 1h3m9 0h2m25 0h1m33 0h1m-73 1h3m10 0h1m25 0h1m-38 1h3m9 0h1m58 0h1m-71 1h3m9 0h1m193 0h1m-216 1h1m10 0h2m9 0h2m56 0h1m-80 1h2m9 0h3m9 0h1m172 0h1m-195 1h1m10 0h2m9 0h1m170 0h1m-193 1h2m9 0h2m9 0h1m168 0h1m14 0h1m-205 1h1m9 0h3m8 0h2m22 0h1m42 0h1m99 0h1m-188 1h2m9 0h2m9 0h1m22 0h1m140 0h1m-185 1h1m9 0h2m9 0h1m22 0h1m-44 1h2m9 0h2m8 0h1m63 0h1m109 0h1m-194 1h1m9 0h2m8 0h2m-21 1h1m9 0h2m9 0h1m-20 1h1m9 0h2m8 0h1m-20 1h1m9 0h2m8 0h1m163 0h1m-183 1h1m9 0h1m8 0h1m-19 1h1m9 0h2m8 0h1m-19 1h1m9 0h1m8 0h1m19 0h1m135 0h1m-175 1h1m9 0h1m8 0h1m19 0h1m-62 1h2m22 0h1m8 0h2m7 0h1m19 0h1m-61 1h2m21 0h1m9 0h1m8 0h1m43 0h1m-85 1h2m21 0h1m8 0h1m8 0h1m145 0h1m-186 1h2m20 0h1m9 0h1m7 0h1m42 0h1m88 0h1m-171 1h1m21 0h1m8 0h1m59 0h1m77 0h1m-178 1h1m9 0h1m20 0h1m8 0h1m8 0h1m40 0h1m85 0h1m-176 1h2m9 0h1m20 0h1m8 0h1m7 0h1m135 0h1m-184 1h2m9 0h1m19 0h1m8 0h1m7 0h1m39 0h1m8 0h1m-96 1h2m9 0h1m19 0h1m16 0h1m-47 1h2m9 0h1m18 0h1m8 0h1m7 0h1m15 0h1m21 0h1m-84 1h2m9 0h1m18 0h1m15 0h1m15 0h1m109 0h1m-171 1h2m9 0h1m17 0h1m16 0h1m176 0h2m-222 1h1m9 0h1m17 0h1m15 0h1m173 0h3m-219 1h1m9 0h1m16 0h1m15 0h1m170 0h3m-215 1h1m9 0h1m16 0h1m181 0h3m-210 1h1m9 0h2m14 0h1m15 0h1m162 0h3m-207 1h2m9 0h2m13 0h1m15 0h1m159 0h2m-202 1h2m9 0h2m13 0h1m170 0h3m-198 1h2m9 0h2m12 0h1m15 0h1m151 0h3m-194 1h2m9 0h2m12 0h1m14 0h1m11 0h1m136 0h2m-189 1h2m9 0h2m11 0h1m14 0h1m11 0h1m132 0h3m-185 1h2m9 0h2m11 0h1m14 0h1m88 0h1m51 0h2m-180 1h2m9 0h2m10 0h1m14 0h1m86 0h1m50 0h2m-176 1h2m10 0h1m9 0h1m14 0h1m32 0h1m100 0h3m-172 1h2m10 0h1m9 0h1m14 0h1m129 0h2m-167 1h2m10 0h1m8 0h1m14 0h1m86 0h1m39 0h2m-163 1h1m11 0h1m8 0h1m13 0h1m122 0h3m-159 1h1m11 0h1m7 0h1m133 0h2m-154 1h1m11 0h1m7 0h1m13 0h1m115 0h2m-150 1h1m11 0h1m6 0h1m13 0h1m76 0h1m35 0h1m-145 1h1m11 0h1m27 0h1m100 0h2m-141 1h1m11 0h1m5 0h1m13 0h1m104 0h2m-137 1h1m11 0h1m4 0h1m13 0h1m18 0h1m82 0h1m-132 1h1m11 0h1m4 0h1m12 0h1m97 0h2m-128 1h1m11 0h1m3 0h1m13 0h1m16 0h1m76 0h1m-123 1h1m11 0h1m3 0h1m12 0h1m89 0h2m-119 1h1m11 0h1m2 0h1m12 0h1m86 0h2m-115 1h1m11 0h1m98 0h1m-110 1h1m11 0h1m1 0h1m12 0h1m48 0h1m29 0h2m-106 1h1m11 0h2m12 0h1m16 0h1m29 0h1m28 0h1m-101 1h1m11 0h2m15 0h1m68 0h1m-97 1h1m11 0h1m12 0h1m68 0h1m-93 1h1m11 0h1m11 0h1m65 0h1m-89 1h1m85 0h1m-85 1h1m22 0h1m58 0h1m-81 1h1m21 0h1m55 0h1m-77 1h1m20 0h1m52 0h1m-73 1h1m20 0h1m48 0h1m-69 1h1m19 0h1m27 0h1m16 0h2m-65 1h1m18 0h1m41 0h1m-60 1h1m56 0h1m-56 1h1m52 0h1m-52 1h1m48 0h1m-48 1h1m30 0h1m13 0h1m-44 1h1m40 0h1m-40 1h1m36 0h1m-36 1h1m32 0h1m-32 1h1m28 0h1m-28 1h1m24 0h1m-24 1h1m20 0h1m-20 1h1m16 0h1m-17 1h1m13 0h1m-15 1h1m13 0h1m-17 1h1m17 0h1m-21 1h1m21 0h1m-25 1h2m24 0h2m-31 1h2m29 0h2m-35 1h3m32 0h2m-39 1h3m35 0h3m-43 1h3m38 0h4m-46 1h3m33 0h2m4 0h5m-49 1h4m35 0h11m-51 1h5m36 0h11m-53 1h8m35 0h10m-54 1h9m36 0h3m2 0h4m-54 1h8m37 0h3m-48 1h7m39 0h3m-49 1h6m41 0h3m-50 1h5m31 0h1m10 0h4"/>
<path stroke="#3f28ad" d="M0 0m14 0h1m46 0h1m-47 1h1m0 1h1m45 0h1m-46 1h1m64 0h1m-65 1h1m44 0h1m0 2h1m18 0h1m-63 2h1m43 0h1m-44 1h1m61 0h1m-62 1h1m42 0h1m-43 1h1m0 1h1m41 0h1m17 0h1m-18 2h1m153 1h1m-2 1h1m-193 1h1m190 0h1m-191 1h1m188 0h1m-189 1h1m55 0h1m130 0h1m-187 1h1m184 0h1m-218 1h1m0 1h1m86 0h1m-86 1h1m229 0h1m-230 1h1m0 1h1m83 0h1m-53 1h1m-30 1h1m29 0h1m189 0h1m-229 1h1m8 0h1m29 0h1m-39 1h1m8 0h1m29 0h1m-38 1h1m0 1h1m8 0h1m209 0h1m-223 1h1m3 0h1m8 0h1m-13 1h1m12 0h1m-12 1h1m3 0h1m193 0h1m16 0h1m-215 1h1m3 0h1m8 0h1m59 0h1m13 0h1m108 0h1m-195 1h1m11 0h1m26 0h1m153 0h1m-201 1h1m7 0h1m3 0h1m34 0h1m31 0h1m119 0h1m-199 1h1m8 0h1m2 0h1m34 0h1m44 0h1m104 0h1m15 0h1m-212 1h1m7 0h1m11 0h1m56 0h1m-77 1h1m8 0h1m2 0h1m7 0h1m-19 1h1m7 0h1m2 0h1m63 0h1m-75 1h1m201 0h1m-193 1h1m2 0h1m7 0h1m53 0h1m-73 1h1m7 0h1m2 0h1m7 0h1m-10 1h1m33 0h1m28 0h1m-71 1h1m7 0h1m2 0h1m30 0h1m148 0h1m-191 1h1m10 0h1m7 0h1m22 0h1m27 0h1m-69 1h1m7 0h1m9 0h1m61 0h1m-80 1h1m10 0h1m56 0h1m-67 1h1m7 0h1m1 0h1m-10 1h1m7 0h1m9 0h1m47 0h1m10 0h1m-76 1h1m7 0h1m1 0h1m6 0h1m-17 1h1m7 0h1m1 0h1m53 0h1m107 0h1m39 0h1m-211 1h1m155 0h1m51 0h2m-234 1h1m24 0h1m7 0h1m1 0h1m6 0h1m19 0h1m116 0h1m50 0h2m-230 1h1m24 0h1m8 0h1m6 0h1m19 0h1m114 0h1m49 0h2m-226 1h1m23 0h1m7 0h1m152 0h1m36 0h2m-222 1h1m30 0h1m1 0h1m6 0h1m177 0h2m-226 1h1m7 0h1m22 0h1m8 0h1m6 0h1m174 0h2m-222 1h1m7 0h1m29 0h1m180 0h1m-218 1h1m7 0h1m21 0h1m184 0h1m-214 1h1m7 0h1m28 0h2m6 0h1m165 0h1m-210 1h1m7 0h1m20 0h1m177 0h1m-206 1h1m7 0h1m27 0h1m53 0h1m112 0h1m20 0h1m-223 1h1m7 0h1m19 0h1m7 0h1m6 0h1m15 0h1m139 0h1m20 0h1m-219 1h1m7 0h1m26 0h1m22 0h1m136 0h1m19 0h2m-215 1h1m7 0h1m18 0h1m6 0h1m50 0h1m105 0h1m19 0h2m-211 1h1m7 0h1m32 0h1m115 0h1m29 0h1m19 0h1m-206 1h1m7 0h1m24 0h1m6 0h1m162 0h1m-177 1h1m172 0h2m-159 1h1m154 0h1m-169 1h1m13 0h1m105 0h1m45 0h1m-57 1h1m35 0h1m16 0h2m-162 1h1m105 0h1m34 0h1m16 0h1m-144 1h1m11 0h1m111 0h1m16 0h1m-20 1h1m16 0h1m-163 1h1m11 0h1m130 0h1m15 0h1m-158 1h1m24 0h1m129 0h1m-154 1h1m10 0h1m139 0h1m-160 1h1m9 0h1m47 0h1m5 0h1m91 0h1m-155 1h1m9 0h1m9 0h1m12 0h1m118 0h1m-151 1h1m9 0h1m21 0h1m22 0h1m92 0h1m-147 1h1m9 0h1m8 0h1m124 0h1m-143 1h1m9 0h1m7 0h1m12 0h1m20 0h1m86 0h1m-138 1h1m9 0h1m19 0h1m7 0h1m96 0h1m-134 1h1m9 0h1m6 0h1m113 0h1m-130 1h1m9 0h1m85 0h1m29 0h1m-125 1h1m9 0h1m5 0h1m11 0h1m93 0h1m-121 1h1m9 0h1m-9 1h1m9 0h1m4 0h1m97 0h1m-112 1h1m9 0h1m3 0h1m11 0h1m51 0h1m30 0h1m-108 1h1m9 0h1m-9 1h1m9 0h1m2 0h1m-12 1h1m9 0h1m13 0h1m-23 1h1m11 0h1m10 0h1m68 0h1m-91 1h1m87 0h1m-87 1h1m10 0h1m10 0h1m61 0h1m-83 1h1m20 0h1m58 0h1m-79 1h1m75 0h1m-75 1h1m71 0h1m-71 1h1m18 0h1m48 0h1m-67 1h1m1 1h1m1 1h1m16 0h1m20 2h1m10 1h1m-15 1h1m11 0h1m-23 1h1m19 0h1m-3 1h1m-3 1h1m-3 1h1m-3 1h1m-3 1h1m-3 1h1m-15 2h1m15 0h1m-19 1h1m19 0h1m1 1h1m-27 1h1m27 0h1m-30 1h1m29 0h2m-34 1h1m26 0h2m4 0h2m-37 1h2m28 0h8m-39 1h3m29 0h1m2 0h4m-40 1h7m27 0h1m-35 1h6m29 0h1m-34 1h3m31 0h1m-35 1h2m11 0h1m11 0h1m8 0h2m-37 1h2m12 0h1m11 0h2m8 0h1m-38 1h2m12 0h2m11 0h3m8 0h1m-40 1h2m13 0h2m11 0h4m7 0h2m-42 1h2m13 0h3m11 0h2m1 0h2m7 0h1"/>
<path stroke="#3f29b1" d="M0 0m15 0h1m45 1h1m20 1h1m-21 1h1m-44 2h1m43 0h1m19 0h1m-64 1h1m0 1h1m42 0h1m-43 1h1m42 1h1m162 0h1m-2 1h1m-162 1h1m159 0h1m-2 1h1m-200 1h1m40 0h1m156 0h1m-198 1h1m195 0h1m-196 1h1m39 0h1m17 0h1m-58 1h1m39 1h1m17 1h1m-18 1h1m-38 2h1m37 0h1m-38 1h1m-33 1h1m32 0h1m36 0h1m-70 1h1m32 0h1m195 0h1m-160 1h1m157 0h1m-226 1h1m0 1h1m66 0h1m-74 1h1m6 0h1m81 0h1m136 0h1m-226 1h1m72 0h1m-65 1h1m29 0h1m164 0h1m-195 1h1m29 0h1m33 0h1m14 0h1m113 0h1m-206 1h1m5 0h1m36 0h1m160 0h1m17 0h1m-222 1h1m5 0h1m69 0h1m125 0h1m-201 1h1m12 0h1m-13 1h1m5 0h1m6 0h1m200 0h1m-213 1h1m4 0h1m-11 1h1m5 0h1m12 0h1m-19 1h1m6 0h1m4 0h1m6 0h1m-18 1h1m5 0h1m4 0h1m33 0h1m163 0h1m-209 1h1m6 0h1m37 0h1m-38 1h1m4 0h1m6 0h1m25 0h1m42 0h1m-87 1h1m6 0h1m3 0h1m6 0h1m-18 1h1m6 0h1m191 0h1m-198 1h1m83 0h1m-84 1h1m6 0h1m3 0h1m6 0h1m0 1h1m-17 1h1m6 0h1m4 1h1m29 0h1m-40 1h1m6 0h1m9 0h1m22 0h1m-33 1h1m158 0h1m13 0h1m-179 1h1m9 0h1m152 0h1m-156 1h1m153 0h1m-160 1h1m15 0h1m141 0h1m51 0h1m-203 1h1m2 0h1m62 0h1m95 0h1m37 0h1m2 0h1m-236 1h1m26 0h1m202 0h1m2 0h1m-232 1h1m32 0h1m195 0h1m-228 1h1m34 0h1m5 0h1m19 0h1m33 0h1m129 0h1m-224 1h1m24 0h1m34 0h1m160 0h1m-220 1h1m30 0h1m185 0h1m-216 1h1m23 0h1m8 0h1m5 0h1m171 0h1m1 0h1m-212 1h1m29 0h1m1 0h1m140 0h1m33 0h1m1 0h1m-208 1h1m22 0h1m179 0h1m1 0h1m-175 1h1m7 0h1m161 0h1m1 0h1m-178 1h1m7 0h1m166 0h1m18 0h1m-187 1h1m131 0h1m32 0h1m17 0h2m-190 1h1m13 0h1m153 0h1m17 0h1m-156 1h1m134 0h1m17 0h1m-175 1h1m153 0h1m17 0h1m-179 1h1m156 0h2m16 0h2m-201 1h1m7 0h1m30 0h1m40 0h1m60 0h1m37 0h2m16 0h1m-196 1h1m7 0h1m16 0h1m6 0h1m105 0h1m36 0h2m16 0h1m-192 1h1m7 0h1m22 0h1m37 0h1m65 0h1m36 0h1m16 0h1m-188 1h1m7 0h1m15 0h1m12 0h1m146 0h1m-183 1h1m7 0h1m57 0h1m113 0h1m-179 1h1m7 0h1m167 0h1m-175 1h1m7 0h1m13 0h1m12 0h1m11 0h1m15 0h1m67 0h1m40 0h1m-171 1h1m7 0h1m158 0h1m-166 1h1m7 0h1m12 0h1m38 0h1m87 0h1m14 0h1m-162 1h1m7 0h1m24 0h1m110 0h2m13 0h1m-158 1h1m7 0h1m11 0h1m120 0h1m-140 1h1m136 0h1m12 0h1m-149 1h1m132 0h1m12 0h1m-145 1h1m29 0h1m27 0h1m70 0h1m12 0h1m-141 1h1m124 0h1m-107 1h1m103 0h1m11 0h1m-104 1h1m88 0h1m11 0h1m-112 1h1m96 0h1m-3 1h1m10 0h1m-93 1h1m89 0h1m-35 1h1m3 1h1m-68 1h1m10 0h1m78 0h1m-3 1h1m-86 1h1m82 0h1m-85 1h1m16 0h1m-16 1h1m11 0h1m14 0h1m-26 1h1m1 1h1m1 1h1m9 0h1m50 2h1m-48 1h1m44 0h1m-3 1h1m-3 1h1m-54 1h1m15 0h1m34 0h1m-50 1h1m46 0h1m-46 1h1m1 1h1m1 1h1m1 1h1m1 1h1m1 1h1m1 1h1m1 1h1m0 1h1m-1 1h1m11 0h1m-18 3h1m21 0h1m-25 1h1m25 0h1m-28 1h1m22 0h2m3 0h1m-31 1h1m27 0h4m-33 1h2m2 0h2m-6 1h5m8 0h1m14 0h1m-26 1h1m18 0h1m6 0h1m-28 1h1m9 0h1m9 0h1m7 0h1m-30 1h1m9 0h2m9 0h2m7 0h1m-32 1h1m11 0h1m9 0h1m1 0h1m6 0h1m-33 1h1m10 0h1m1 0h1m12 0h1m6 0h1m-35 1h1m13 0h1m13 0h1m5 0h2m-37 1h1m11 0h1m17 0h1m5 0h1m-38 1h1m11 0h1m19 0h1m4 0h2"/>
<path stroke="#402bb6" d="M0 0m60 0h1m-45 1h1m65 0h1m-66 1h1m43 0h1m173 0h1m-218 1h1m215 0h1m-216 1h1m42 0h1m170 0h1m-2 1h1m-170 1h1m167 0h1m-2 1h1m-167 1h1m19 0h1m144 0h1m-207 1h1m0 1h1m40 0h1m-41 1h1m59 0h1m-60 1h1m39 0h1m0 2h1m18 0h1m-19 2h1m-39 1h1m0 1h1m37 0h1m-38 1h1m37 1h1m17 1h1m-89 1h1m70 0h1m163 0h1m-235 1h1m70 1h1m16 0h1m122 0h1m-209 1h1m32 0h1m173 0h1m-207 1h1m32 0h1m34 0h1m136 0h1m19 0h1m-231 1h1m5 0h1m32 0h1m169 0h1m-136 1h1m133 0h1m-206 1h1m5 0h1m197 0h1m18 0h1m-223 1h1m5 0h1m64 0h1m-71 1h1m7 1h1m62 0h1m-77 1h1m7 0h1m5 0h1m29 0h1m176 0h1m-220 1h1m6 0h1m35 0h1m46 0h1m-90 1h1m42 0h1m-47 1h1m4 0h1m12 0h1m198 0h1m-216 1h1m10 0h1m79 0h1m-91 1h1m4 0h1m13 1h1m-17 1h1m4 0h1m5 0h1m5 0h1m188 0h1m-206 1h1m6 1h1m37 0h1m-43 1h1m10 0h1m5 0h1m25 0h1m-37 1h1m4 0h1m-10 1h1m0 1h1m5 0h1m168 0h1m-174 1h1m9 0h1m5 0h1m63 0h1m91 0h1m14 0h1m-187 1h1m5 0h1m60 0h1m102 0h1m-2 1h1m-167 1h1m9 0h1m5 0h1m22 0h1m25 0h1m-59 1h1m9 0h1m22 0h1m137 0h1m-176 1h1m62 0h1m148 0h1m-206 1h1m3 0h1m-9 1h1m14 0h1m45 0h1m-55 1h1m200 0h1m-234 1h1m36 0h1m49 0h1m139 0h1m3 0h1m-203 1h1m5 0h1m189 0h1m3 0h1m-231 1h1m45 0h1m42 0h1m99 0h1m34 0h1m3 0h1m-227 1h1m30 0h1m8 0h1m24 0h1m154 0h1m3 0h1m-223 1h1m35 0h1m27 0h1m21 0h1m9 0h1m123 0h1m-219 1h1m29 0h1m13 0h1m171 0h1m-215 1h1m34 0h1m47 0h1m92 0h1m35 0h1m-211 1h1m5 0h1m22 0h1m7 0h1m170 0h1m16 0h1m-224 1h1m5 0h1m27 0h1m7 0h1m37 0h1m120 0h1m2 0h1m16 0h1m-220 1h1m5 0h1m21 0h1m168 0h1m2 0h1m15 0h1m-215 1h1m5 0h1m26 0h1m43 0h1m118 0h1m15 0h1m-211 1h1m5 0h1m27 0h1m5 0h1m151 0h1m15 0h1m-207 1h1m5 0h1m19 0h1m5 0h1m22 0h1m18 0h1m71 0h1m41 0h1m15 0h1m-203 1h1m5 0h1m136 0h1m9 0h1m30 0h1m-183 1h1m5 0h1m18 0h1m5 0h2m38 0h1m108 0h1m14 0h1m-157 1h1m138 0h1m14 0h1m-20 1h1m1 0h1m14 0h1m-112 1h1m91 0h1m1 0h1m-138 1h1m5 0h1m128 0h1m13 0h1m-155 1h1m137 0h1m13 0h1m-17 1h1m13 0h1m-148 1h1m11 0h1m11 0h1m106 0h1m-3 1h1m12 0h1m-3 1h1m-125 1h1m85 0h1m21 0h1m13 0h1m-145 1h1m127 0h1m-127 1h1m10 0h1m125 0h1m-136 1h1m132 0h1m-132 1h1m9 0h1m10 0h1m107 0h1m-136 1h1m7 0h1m-7 1h1m7 0h1m27 0h1m91 0h1m-127 1h1m7 0h1m18 0h1m96 0h1m-123 1h1m7 0h1m-7 1h1m7 0h1m6 0h1m67 0h1m21 0h1m-104 1h1m7 0h1m16 0h1m75 0h1m9 0h1m-110 1h1m13 0h1m92 0h1m-106 1h1m1 1h1m22 0h1m-22 1h1m1 1h1m1 1h1m10 0h1m-10 1h1m81 0h1m-71 1h1m67 0h1m-3 1h1m-55 1h1m51 0h1m-49 3h1m9 7h1m14 1h1m-3 1h1m-3 1h1m-3 1h1m-17 4h1m17 0h1m-22 2h1m18 0h1m4 0h1m-5 1h1m2 0h3m-29 1h2m2 0h2m6 0h1m11 0h1m-25 1h2m9 0h1m7 0h1m5 0h1m-7 1h1m-10 1h2m7 0h1m-9 1h1m9 0h1m5 0h1m-6 1h1m5 0h1m-21 1h1m14 0h1m-26 1h1m21 0h1m3 0h1m4 0h1m-33 1h1m9 0h1m12 0h1m4 0h1m3 0h1m-34 1h1m9 0h1m3 0h1m5 0h1m3 0h1m5 0h5m-36 1h1m14 0h1m4 0h3m1 0h2m6 0h4"/>
<path stroke="#412dbb" d="M0 0m16 0h1m0 1h1m42 0h1m-43 1h1m42 1h1m21 1h1m-64 1h1m41 0h1m-42 1h1m0 1h1m40 0h1m20 0h1m-62 1h1m40 1h1m20 1h1m-59 3h1m0 1h1m0 1h1m57 2h1m130 1h1m-2 1h1m-185 1h1m54 0h1m127 0h1m-183 1h1m180 0h1m-181 1h1m178 0h1m-215 1h1m212 0h1m20 0h1m-233 1h1m0 1h1m-3 2h1m88 0h1m138 0h1m-228 1h1m4 0h1m32 0h1m0 1h1m49 1h1m133 0h1m-220 1h1m4 0h1m-5 1h1m-8 2h2m13 0h1m61 0h1m142 0h1m-221 1h3m8 0h1m4 0h1m-16 1h4m7 0h1m34 0h1m30 0h1m-76 1h1m1 0h2m12 0h1m28 0h1m167 0h1m-213 1h1m2 0h1m7 0h1m4 0h1m58 0h1m-75 1h1m3 0h1m6 0h1m-10 1h1m2 0h1m69 0h1m13 0h1m-87 1h1m3 0h1m11 0h1m186 0h1m22 0h1m-226 1h1m3 0h1m6 0h1m60 0h1m111 0h1m-183 1h1m3 0h1m176 0h1m38 0h1m-220 1h1m15 0h1m25 0h1m27 0h1m108 0h1m15 0h1m-190 1h1m5 0h1m4 0h1m25 0h1m134 0h1m-176 1h1m9 0h1m57 0h1m142 0h1m-206 1h1m11 1h1m168 0h1m-184 1h1m4 0h1m4 0h1m67 1h1m-76 1h1m5 1h1m4 0h1m4 0h1m22 0h1m-37 1h1m36 0h1m35 0h1m134 0h1m-203 1h1m199 0h1m-195 1h1m4 0h1m150 0h1m35 0h1m5 0h1m-236 1h1m28 0h1m4 0h1m198 0h1m-231 1h1m227 0h1m-231 1h1m3 0h1m26 0h1m4 0h1m3 0h1m187 0h1m-227 1h1m3 0h1m39 0h1m179 0h1m-223 1h1m3 0h1m25 0h1m184 0h1m4 0h1m-219 1h1m3 0h1m57 0h1m148 0h1m4 0h1m-215 1h1m3 0h1m24 0h1m7 0h1m4 0h1m169 0h1m-211 1h1m3 0h1m85 0h1m132 0h1m-3 1h1m-186 1h1m7 0h1m113 0h1m-119 1h1m116 0h1m10 0h1m29 0h1m17 0h1m-183 1h1m4 0h1m116 0h1m39 0h1m17 0h1m-167 1h1m145 0h1m17 0h1m-176 1h1m4 0h1m1 0h1m20 0h1m144 0h1m-196 2h1m5 0h1m23 0h1m159 0h1m-189 1h1m5 0h1m17 0h1m161 0h1m-185 1h1m5 0h1m22 0h2m109 0h1m41 0h1m-181 1h1m5 0h1m16 0h1m138 0h1m-161 1h1m5 0h1m21 0h1m5 0h1m123 0h1m-157 1h1m5 0h1m162 0h1m-168 1h1m5 0h1m20 0h1m137 0h1m-164 1h1m31 0h1m11 0h1m-43 1h1m19 0h1m133 1h1m-132 1h1m10 0h1m117 0h1m-16 1h1m-1 1h1m-24 1h1m20 0h1m-3 1h1m9 0h1m-114 1h1m35 0h1m64 0h1m-82 1h1m78 0h1m-97 1h1m69 0h1m23 0h1m-3 1h1m8 0h1m-104 2h1m15 0h1m72 0h1m-88 1h1m1 1h1m4 0h1m84 0h1m-89 1h1m13 0h1m71 0h1m-85 1h1m3 0h1m56 0h1m20 0h1m-81 1h1m16 0h1m60 0h1m-77 1h1m11 0h1m-19 1h1m1 1h1m30 0h1m-30 1h1m8 0h1m-8 1h1m1 1h1m1 1h1m1 1h1m1 1h1m46 1h1m-3 1h1m-3 1h1m-13 1h1m9 0h1m-3 1h1m-9 7h1m-18 2h1m19 0h1m-3 1h1m2 0h1m-25 1h1m3 0h1m-5 1h2m14 0h1m-15 1h1m-2 1h1m16 0h1m-19 1h1m23 0h1m-26 1h1m7 0h1m9 0h1m-20 1h1m10 0h1m15 0h1m-29 1h1m28 0h1m-22 1h1m8 0h1m11 0h1m-14 1h2m2 0h1m6 0h3m-32 1h1m17 0h1m1 0h3m-24 1h1m8 0h1m12 0h1"/>
<path stroke="#422fc0" d="M0 0m59 0h1m22 0h1m-23 2h1m-42 1h1m63 0h1m-64 1h1m40 0h1m-41 1h1m40 1h1m21 0h1m-61 3h1m0 1h1m0 1h1m38 0h1m159 0h1m-2 1h1m-159 1h1m19 0h1m136 0h1m-2 1h1m-156 1h1m153 0h1m-192 1h1m56 0h1m132 0h1m-190 1h1m36 0h1m150 0h1m-188 1h1m36 1h1m0 2h1m-35 2h1m34 0h1m17 0h1m-89 1h1m35 0h1m195 0h1m-232 1h1m35 0h1m33 0h1m-73 1h1m3 0h1m85 0h1m-86 1h1m67 0h1m-71 1h1m224 0h1m-225 1h1m3 0h1m65 0h1m-70 1h1m3 0h1m32 0h1m0 1h1m31 0h1m148 0h1m-217 1h1m3 0h1m31 0h1m-36 1h1m3 0h1m62 0h1m15 0h1m-83 1h1m2 2h1m3 0h1m75 0h1m-90 1h1m9 0h1m183 0h1m-194 1h2m42 0h1m147 0h1m17 0h1m-210 1h3m12 0h1m28 0h1m145 0h1m-189 1h2m8 0h1m176 0h1m-187 1h3m7 0h1m174 0h1m40 0h1m-226 1h1m1 0h1m12 0h1m206 0h2m-222 1h1m1 0h1m11 0h1m68 0h1m-83 1h1m2 0h1m6 0h1m205 0h2m-217 1h1m2 0h1m188 0h1m21 0h1m-210 1h1m10 0h1m25 0h1m39 0h1m-80 1h1m2 0h1m6 0h1m29 0h1m167 0h1m-208 1h1m3 0h1m5 0h1m194 0h1m-190 1h1m186 0h1m-201 1h1m3 0h1m194 0h1m-189 1h1m185 0h1m-195 1h1m172 0h1m36 0h1m-206 1h1m9 0h1m175 0h1m16 0h1m-197 1h1m26 0h1m-36 1h1m3 0h1m179 0h1m-170 1h1m55 0h1m110 0h1m16 0h1m-228 1h3m28 0h1m3 0h1m189 0h1m-224 1h3m202 0h1m15 0h1m-220 1h3m27 0h1m3 0h1m149 0h1m-183 1h1m1 0h1m-1 1h1m1 0h1m30 0h1m3 0h1m24 1h1m101 0h1m43 0h1m18 0h1m-192 1h1m7 0h1m118 0h1m42 0h1m4 0h1m13 0h1m-221 1h1m3 0h1m23 0h1m128 0h1m41 0h1m4 0h1m13 0h1m-217 1h1m3 0h1m30 0h1m164 0h1m13 0h1m-213 1h1m3 0h1m22 0h1m11 0h1m45 0h1m110 0h1m-195 1h1m3 0h1m187 0h1m12 0h1m-204 1h1m3 0h1m28 0h1m154 0h1m12 0h1m-200 1h1m3 0h1m32 0h1m142 0h1m3 0h1m12 0h1m-144 1h1m96 0h1m26 0h1m3 0h1m12 0h1m-168 1h1m151 0h1m-145 1h1m4 0h1m136 0h1m-3 1h1m11 0h1m-15 1h1m11 0h1m-15 1h1m11 0h1m-150 1h1m4 0h2m40 0h1m84 0h1m2 0h1m-29 1h1m25 0h1m-146 1h1m14 0h1m4 0h1m122 0h1m10 0h1m-153 1h1m19 0h1m4 0h1m11 0h1m101 0h1m10 0h1m-155 1h1m5 0h1m18 0h1m115 0h1m-140 1h1m5 0h1m130 0h1m-136 1h1m5 0h1m22 0h1m103 0h1m-132 1h1m5 0h1m11 0h1m108 0h1m11 0h1m-138 1h1m122 0h1m11 0h1m-134 1h1m16 0h1m9 0h1m-26 1h1m90 0h1m-90 1h1m87 0h1m33 0h1m-96 1h1m65 0h1m26 0h1m-101 2h1m86 0h1m-3 1h1m7 0h1m-12 1h1m8 0h1m-82 5h1m-2 1h1m10 0h1m-10 1h1m1 1h1m1 1h1m8 0h1m43 2h1m-41 1h1m37 0h1m-3 1h1m-48 1h1m1 1h1m1 1h1m1 1h1m21 0h1m-21 1h1m1 1h1m4 6h1m-5 3h1m19 0h2m-23 1h3m6 2h1m11 0h1m-15 1h1m14 0h1m-5 1h1m0 1h1m3 0h1m-8 1h1m3 0h1m-13 1h1m4 0h1m2 0h1m4 0h1m2 0h1m-29 1h1m11 0h1m3 0h1m1 0h1m1 0h1m5 0h3m-30 1h1m7 0h1m4 0h1m5 0h2m-8 1h1m2 0h1m-18 1h1m13 0h1m2 0h1"/>
<path stroke="#4331c7" d="M0 0m17 0h1m0 1h1m40 0h1m-41 1h1m63 0h1m-24 1h1m172 0h1m-2 1h1m-2 1h1m-210 1h1m207 0h1m-208 1h1m205 0h1m-206 1h1m38 0h1m164 0h1m-144 1h1m141 0h1m-164 1h1m161 0h1m-200 2h1m37 0h1m-38 1h1m0 1h1m36 0h1m0 2h1m0 2h1m-36 1h1m54 0h1m-55 1h1m34 0h1m-35 1h1m-36 3h1m-1 1h2m230 0h1m-232 1h3m35 0h1m-38 1h3m35 0h1m-37 1h3m-2 1h1m1 0h1m83 0h1m135 0h1m-222 1h1m1 0h1m-2 1h1m2 0h1m0 1h1m191 0h1m19 0h1m-179 1h1m156 0h1m-192 1h1m2 0h1m31 0h1m154 0h1m-190 1h1m2 0h1m61 0h1m122 0h1m18 0h1m-21 1h1m-182 1h1m59 0h1m-63 1h1m2 0h1m-3 1h1m61 0h1m14 0h1m119 0h1m-193 1h1m28 0h1m183 0h1m-213 1h1m28 0h1m27 0h1m-70 1h1m9 0h1m188 0h1m23 0h1m-222 1h1m8 0h1m58 0h1m150 0h1m-219 1h2m11 0h1m-13 1h2m65 0h1m144 0h1m1 0h1m-214 1h3m7 0h1m178 0h1m21 0h1m-210 1h2m11 0h1m51 0h1m140 0h1m-206 1h1m1 0h1m36 0h1m-39 1h1m2 0h1m60 0h1m12 0h1m103 0h1m20 0h1m-199 1h1m6 0h1m3 0h1m-13 1h1m2 0h1m58 0h1m149 0h1m-209 1h1m188 0h2m15 0h1m-208 1h1m8 0h1m50 0h1m-60 1h1m12 0h1m172 0h2m15 0h1m-167 1h1m163 0h1m-199 1h1m34 0h1m126 0h1m33 0h1m7 0h1m-195 1h1m3 0h1m164 0h1m22 0h1m-200 1h1m2 0h1m193 0h1m-131 1h1m74 0h1m45 0h1m6 0h1m-222 1h1m31 0h1m4 0h1m3 0h1m125 0h1m29 0h1m14 0h1m6 0h1m-218 1h1m27 0h1m135 0h1m28 0h1m14 0h1m6 0h1m-215 1h3m29 0h1m179 0h1m-211 1h3m25 0h1m30 0h1m111 0h1m15 0h1m20 0h1m11 0h1m-219 1h1m1 0h1m28 0h1m3 0h1m22 0h1m145 0h1m11 0h1m-215 1h1m1 0h1m177 0h1m13 0h1m5 0h1m11 0h1m-181 1h1m159 0h1m5 0h1m11 0h1m-15 1h1m-166 1h1m3 0h1m139 0h1m18 0h1m-108 1h1m115 0h1m-195 1h1m3 0h1m24 0h1m6 0h1m126 0h1m28 0h1m-191 1h1m3 0h1m26 0h1m19 0h1m120 0h1m15 0h1m-187 1h1m3 0h1m23 0h1m139 0h1m15 0h1m-183 1h1m3 0h1m18 0h1m10 0h1m-33 1h1m3 0h1m22 0h1m-4 1h1m5 0h1m142 0h1m-138 1h1m134 0h1m-17 1h1m13 0h1m-17 1h1m-81 1h1m-43 1h1m21 0h1m73 1h1m32 0h1m-122 1h1m118 0h1m-134 2h1m1 1h1m87 0h1m24 0h1m-112 1h1m19 0h1m99 0h1m-119 1h1m9 0h1m-15 1h1m5 0h1m26 0h1m-32 1h1m5 0h1m17 0h1m22 0h1m-46 1h1m108 0h1m-108 1h1m1 1h1m12 0h1m8 0h1m70 0h1m-92 1h1m88 0h1m-76 1h1m9 1h1m-4 4h1m45 0h1m16 0h1m-3 1h1m-3 1h1m-56 1h1m52 0h1m-35 7h1m7 1h1m-16 2h1m1 1h1m12 3h1m-14 2h1m15 0h1m-3 1h1m2 0h1m-18 1h1m-1 1h1m4 0h1m9 0h1m-4 1h1m3 0h1m-6 1h1m-7 1h1m12 1h1m-24 1h1m-2 1h1m6 0h1m6 0h2m9 0h1m-27 1h1m14 0h1m9 0h2m-9 1h1m-5 1h1m-17 1h1m6 0h1m6 0h1m-9 1h1m7 0h2"/>
<path stroke="#4433cd" d="M0 0m18 0h1m39 0h1m176 1h1m-177 1h1m174 0h1m-215 1h1m0 1h1m38 0h1m-39 1h1m38 0h1m22 0h1m-62 1h1m38 1h1m-38 2h1m37 0h1m-38 1h1m0 1h1m36 0h1m21 1h1m-22 1h1m-36 2h1m35 0h1m20 0h1m-57 1h1m0 1h1m3 5h1m33 0h1m18 0h1m-53 1h1m197 0h1m-165 1h1m18 1h1m119 0h1m-139 1h1m136 0h1m21 0h1m-24 1h1m-168 1h1m31 0h1m133 0h1m-202 1h1m35 0h1m163 0h1m-200 1h1m35 0h1m30 0h1m130 0h1m-198 1h2m194 0h1m-196 1h2m64 0h1m16 0h1m-83 1h3m209 0h1m-211 1h2m62 0h1m-64 1h2m32 0h1m-34 1h1m1 0h1m31 0h1m169 0h1m-204 1h1m1 0h1m2 2h1m-2 1h1m0 1h1m212 0h1m-210 1h1m28 0h1m41 0h1m139 0h1m-182 1h1m154 0h1m20 0h1m2 0h1m-210 1h1m206 0h1m-207 1h1m2 0h1m199 1h1m-3 1h1m-207 1h1m8 0h1m2 0h1m191 0h1m-204 1h2m7 0h1m28 0h1m-38 1h2m36 0h1m139 0h1m18 0h1m1 0h1m-198 1h2m10 0h1m182 0h1m14 0h1m-210 1h2m7 0h1m63 0h1m-71 1h1m167 0h1m19 0h1m14 0h1m-204 1h1m1 0h1m198 0h1m-201 1h1m1 0h1m9 0h1m45 0h1m91 0h1m47 0h1m-195 1h1m5 0h1m138 0h1m32 0h1m23 0h1m-204 1h1m33 0h1m21 0h1m88 0h1m13 0h1m16 0h1m15 0h1m8 0h1m-189 1h1m130 0h1m45 0h1m8 0h1m-189 1h1m45 0h1m115 0h2m22 0h1m-194 1h1m150 0h1m39 0h1m-179 1h1m40 0h1m134 0h1m-187 1h1m61 0h1m99 0h1m13 0h1m18 0h1m-187 1h1m42 0h1m121 0h1m-199 1h1m37 0h1m143 0h1m-181 1h1m25 0h1m29 0h1m18 0h1m134 0h1m-210 1h3m173 0h1m30 0h1m-206 1h3m23 0h1m6 0h1m3 0h1m35 0h1m84 0h1m14 0h1m12 0h1m16 0h1m-202 1h1m1 0h1m179 0h1m16 0h1m-198 1h1m1 0h1m67 0h1m113 0h1m-183 1h1m1 0h1m21 0h1m6 0h1m148 0h1m-112 1h1m108 0h1m-152 1h1m25 0h1m105 0h1m16 0h1m9 0h1m-30 1h1m11 0h1m4 0h1m9 0h1m-149 1h1m106 0h1m28 0h1m9 0h1m-174 1h1m3 0h1m140 0h1m15 0h1m-160 1h1m3 0h1m152 0h1m-156 1h1m3 0h1m16 0h1m3 0h1m5 0h1m121 0h1m-152 1h1m3 0h1m21 0h1m122 0h1m8 0h1m-157 1h1m23 0h1m116 0h1m3 0h1m8 0h1m-153 1h1m28 0h1m97 0h1m13 0h1m8 0h1m-126 1h1m113 0h1m-118 1h1m5 1h1m4 0h1m71 0h1m-81 1h1m78 0h1m36 0h1m-3 1h1m-14 1h1m-95 3h1m97 0h1m-106 1h1m1 1h1m1 1h1m1 1h1m81 0h1m-87 1h1m84 0h1m-84 1h1m80 0h1m-80 1h1m10 0h1m7 0h1m64 0h1m-83 1h1m22 0h1m56 0h1m-79 1h1m75 0h1m-75 1h1m16 0h1m-6 2h1m8 1h1m3 3h1m16 3h1m-10 3h1m11 1h1m-3 1h1m-15 1h1m11 0h1m-2 1h1m-11 1h1m-5 3h1m15 0h2m-19 1h2m1 0h1m12 0h1m-4 1h1m-13 1h1m4 0h1m-7 1h1m-2 1h1m13 0h1m-16 1h1m11 1h2m6 0h1m1 0h1m-8 1h1m5 0h2m-19 1h1m9 0h2m-19 1h1m13 0h1m-16 1h1m12 0h1m0 1h1m-16 1h1"/>
<path stroke="#4536d4" d="M0 0m39 0h4m-24 1h1m20 0h3m15 0h1m24 0h1m-64 1h1m19 0h4m-23 1h1m19 0h3m15 0h1m-38 1h1m19 0h3m39 0h1m-42 1h2m15 0h1m0 1h1m-38 1h1m0 1h1m36 0h1m22 0h1m-60 1h1m36 1h1m22 1h1m-59 1h1m35 0h1m-36 1h1m0 1h1m34 0h1m1 3h1m150 0h1m-186 1h1m54 0h1m128 0h1m-184 1h1m33 0h1m147 0h1m-182 1h1m179 0h1m-147 1h1m19 0h1m124 0h1m-2 1h1m-144 1h1m141 0h1m-175 1h1m172 0h1m22 0h1m-196 1h1m31 0h1m-32 1h1m31 1h1m157 0h1m-140 1h1m134 2h1m-183 1h1m0 1h1m175 2h1m-129 1h1m-79 1h1m61 0h1m-62 1h1m32 0h1m167 0h1m-201 1h2m31 0h1m27 0h1m15 0h1m-77 1h2m0 1h2m57 0h1m133 0h1m-193 1h2m-1 1h2m56 0h1m-58 1h1m1 0h1m208 0h2m-210 1h1m28 0h1m25 0h1m126 0h1m19 0h1m3 0h4m-180 1h1m39 0h1m133 0h6m-209 1h1m1 0h1m195 0h1m3 0h7m-208 1h1m1 0h1m173 0h1m22 0h9m-14 1h1m2 0h1m3 0h7m-203 1h1m189 0h1m5 0h7m-52 1h1m45 0h6m-203 1h1m27 0h1m121 0h1m36 0h1m9 0h4m-197 1h1m24 0h1m119 0h1m35 0h1m12 0h2m-206 1h1m153 0h1m32 0h1m15 0h1m-202 1h1m150 0h1m14 0h1m32 0h1m-199 1h1m7 0h1m60 0h1m111 0h1m1 0h1m-183 1h2m9 0h1m182 0h1m-193 1h2m188 0h1m10 0h1m-201 1h2m6 0h1m24 0h1m140 0h1m23 0h1m-198 1h1m1 0h1m8 0h1m21 0h1m151 0h1m9 0h1m-13 1h1m-181 1h1m1 0h1m162 0h1m12 0h1m18 0h1m-189 1h1m2 0h1m149 0h1m22 0h1m9 0h1m-191 1h1m177 0h1m9 0h1m-190 1h1m139 0h1m15 0h1m12 0h1m7 0h1m9 0h1m-184 1h1m7 0h1m154 0h1m7 0h1m-166 1h1m21 0h1m140 0h1m-167 1h1m163 0h1m-191 1h1m34 0h1m152 0h1m8 0h1m-196 1h1m23 0h1m2 0h1m137 0h1m11 0h1m6 0h1m8 0h1m-192 1h1m172 0h1m15 0h1m-189 1h3m24 0h1m6 0h1m110 0h1m12 0h1m27 0h1m-185 1h1m1 0h1m71 0h1m-73 1h1m1 0h1m23 0h1m2 0h1m18 0h1m15 0h1m-63 1h1m1 0h1m19 0h1m9 0h1m126 0h1m-133 1h1m35 0h1m93 0h1m13 0h1m-3 1h1m-138 1h1m31 0h1m78 0h1m23 0h1m-38 1h1m10 0h1m-129 1h1m15 0h1m35 0h1m-51 1h1m132 0h1m-136 1h1m3 0h1m14 0h1m4 0h1m15 0h1m12 0h1m51 0h1m27 0h1m-132 1h1m3 0h1m53 0h1m43 0h1m17 0h1m12 0h1m7 0h1m-140 1h1m3 0h1m45 0h1m78 0h1m7 0h1m-136 1h1m124 0h1m-124 1h1m20 0h1m25 0h1m52 0h1m8 0h1m11 0h1m-104 1h1m100 0h1m-92 1h1m19 0h1m57 0h1m7 0h1m2 0h1m6 0h1m-10 1h1m6 0h1m-84 1h1m73 0h1m-82 1h1m-8 1h1m29 1h1m35 0h1m-56 1h1m74 0h1m-89 1h1m77 0h1m7 0h1m-85 1h1m81 0h1m-81 1h1m70 0h1m-70 1h1m5 1h1m-7 2h1m1 1h1m1 1h1m1 1h1m6 0h1m-6 1h1m16 2h1m3 1h1m21 1h1m-3 1h1m-3 1h1m-3 1h1m-7 6h1m-2 6h1m0 1h1m2 0h1m-16 1h1m2 0h1m2 0h1m2 0h1m3 0h1m1 0h1m-13 1h1m5 0h1m5 0h1m-13 1h1m4 0h1m-17 1h1m10 0h1m1 0h1m-9 1h1m5 0h1m-8 1h1m7 0h1m-15 1h1m4 0h1m-6 1h1m3 0h1"/>
<path stroke="#463ada" d="M0 0m19 0h1m17 0h2m4 0h2m12 0h1m25 0h1m-64 1h1m17 0h2m3 0h2m12 0h1m-37 1h1m17 0h1m4 0h2m12 0h1m-19 1h1m3 0h2m-5 1h1m3 0h2m12 0h1m-37 1h1m17 0h2m2 0h2m-23 1h1m17 0h5m13 0h1m168 0h1m-205 1h1m17 0h5m13 0h1m23 0h1m142 0h1m-185 1h4m179 0h1m-183 1h4m13 0h1m163 0h1m-200 1h1m18 0h3m176 0h1m-198 1h1m17 0h4m13 0h1m160 0h1m-196 1h1m17 0h3m173 0h1m-176 1h3m13 0h1m157 0h1m-174 1h2m36 0h1m133 0h1m-191 1h1m188 0h1m-189 1h1m33 0h1m152 0h1m-187 1h1m54 0h1m-22 1h1m0 2h1m-33 1h1m0 1h1m31 0h1m20 2h1m142 1h1m-193 2h1m0 1h1m186 0h1m-157 1h1m0 2h1m17 0h1m132 0h1m-180 2h1m28 0h1m-29 1h1m28 1h1m143 0h1m-5 3h1m-166 1h1m0 1h1m181 0h1m-140 1h1m116 0h1m18 1h1m-208 1h1m0 1h1m0 1h2m161 0h1m-162 1h1m28 0h1m24 0h1m105 0h1m-160 1h1m157 0h1m-158 1h2m51 0h1m13 0h1m88 0h1m16 0h1m22 0h3m-198 1h1m153 0h1m34 0h1m3 0h5m-197 1h1m1 0h1m49 0h1m137 0h8m-195 1h1m163 0h1m17 0h1m3 0h9m-145 1h1m133 0h12m-195 1h1m1 0h1m24 0h1m153 0h13m-193 1h1m1 0h1m46 0h1m128 0h1m3 0h9m-9 1h8m-15 1h1m7 0h5m-184 1h1m1 0h1m166 0h1m10 0h2m12 0h1m-46 1h1m29 0h2m11 0h1m-198 1h1m170 0h1m11 0h1m-183 1h2m30 0h1m133 0h1m1 0h1m11 0h1m10 0h1m-190 1h1m6 0h1m139 0h1m39 0h1m7 0h1m-195 1h2m172 0h1m9 0h1m7 0h1m-192 1h1m158 0h1m11 0h1m9 0h1m7 0h1m-187 1h1m175 0h1m7 0h1m-185 1h1m6 0h1m50 0h1m123 0h1m-182 1h1m1 0h1m147 0h1m11 0h1m16 0h1m-150 1h1m116 0h1m12 0h1m16 0h1m-175 1h1m1 0h1m126 0h1m-122 1h1m2 0h1m129 0h1m-137 1h1m153 0h1m-156 1h1m134 0h1m10 0h1m6 0h1m7 0h1m-183 1h1m24 0h1m6 0h1m139 0h1m7 0h1m-179 1h1m21 0h1m145 0h1m7 0h1m-175 1h1m23 0h1m21 0h1m100 0h1m16 0h1m7 0h1m-172 1h3m28 0h1m37 0h1m91 0h1m-160 1h1m1 0h1m18 0h1m2 0h1m2 0h1m112 0h1m10 0h1m-150 1h1m1 0h1m-1 1h1m1 0h1m17 0h1m2 0h1m5 0h1m83 0h1m-2 1h1m19 0h1m21 0h1m-129 1h1m1 0h1m82 0h1m40 0h1m-120 1h1m116 0h1m-122 1h1m16 0h1m89 0h1m-110 1h1m97 0h1m-111 1h1m16 0h2m3 0h1m-21 1h1m-3 1h1m3 0h1m15 0h1m103 0h1m-123 1h1m3 0h1m-3 1h1m14 0h1m90 0h1m-105 1h1m40 0h1m-40 1h1m100 0h1m-62 1h1m58 0h1m5 0h1m-18 1h1m14 0h1m-86 1h1m22 0h1m0 2h1m0 2h1m42 0h1m-66 1h1m62 0h1m-62 1h1m20 0h1m-20 1h1m2 0h1m6 0h1m-9 1h1m17 0h1m2 1h1m-10 1h1m6 0h1m-18 2h1m17 0h1m28 0h1m-46 1h1m11 0h1m30 0h1m-42 1h1m26 0h1m11 0h1m-27 10h1m12 1h1m-16 1h1m15 4h1m-9 1h1m0 1h1m6 0h1m-16 1h1m8 0h1m-16 1h1m10 2h1m-14 1h1m-1 1h1m-1 1h1m1 0h1"/>
<path stroke="#463de0" d="M0 0m20 0h1m15 0h1m8 0h2m9 0h1m178 0h1m-215 1h1m15 0h1m7 0h2m9 0h1m177 0h1m-197 1h1m7 0h2m9 0h1m175 0h1m-212 1h1m15 0h2m6 0h2m10 0h1m25 0h1m147 0h1m-210 1h1m15 0h2m6 0h1m10 0h1m172 0h1m-208 1h1m15 0h1m6 0h2m10 0h1m170 0h1m-206 1h1m15 0h1m5 0h2m36 0h1m-44 1h1m5 0h2m10 0h1m-35 1h1m16 0h1m4 0h2m11 0h1m-35 1h1m15 0h2m4 0h2m10 0h1m-34 1h1m15 0h2m3 0h2m11 0h1m23 0h1m-42 1h1m4 0h1m-5 1h1m3 0h2m11 0h1m-34 1h1m16 0h1m3 0h1m35 0h1m-57 1h1m16 0h1m2 0h2m11 0h1m-33 1h1m15 0h5m12 0h1m-17 1h5m-4 1h4m12 0h1m-33 1h1m16 0h4m-20 1h1m16 0h3m12 0h1m-32 1h1m16 0h3m33 0h1m-36 1h2m12 0h1m-15 1h2m-18 1h1m17 0h1m-18 1h1m30 0h1m-31 1h1m30 1h1m160 0h1m-142 1h1m-20 1h1m-30 1h1m184 0h1m-185 1h1m28 0h1m150 2h1m-132 2h1m-46 1h1m0 1h1m27 1h1m118 1h1m-119 1h1m116 0h1m19 0h1m-22 1h1m-142 1h1m25 0h1m113 0h1m-140 1h1m137 0h1m18 0h1m-132 1h1m110 0h1m37 0h1m-134 1h1m93 0h1m16 1h1m18 0h1m-169 2h1m164 0h1m-165 1h1m-28 1h1m0 1h1m0 1h1m63 0h1m-64 1h2m161 0h1m-162 1h1m0 1h1m25 0h1m147 0h1m3 0h3m-180 1h2m153 0h1m19 0h5m-179 1h1m46 0h1m121 0h1m3 0h7m-9 1h10m-177 1h1m43 0h1m11 0h1m105 0h1m2 0h11m14 0h1m-26 1h10m12 0h1m-187 1h1m1 0h1m41 0h1m120 0h7m12 0h1m5 0h1m-166 1h1m133 0h1m5 0h6m11 0h1m5 0h1m-32 1h1m8 0h3m11 0h1m5 0h1m-190 1h1m8 0h1m159 0h1m11 0h1m5 0h1m-187 1h1m6 0h1m148 0h1m10 0h1m16 0h1m-183 1h1m135 0h1m13 0h1m1 0h1m10 0h1m9 0h1m6 0h1m-180 1h1m8 0h1m160 0h1m6 0h1m-177 1h2m165 0h1m6 0h1m-167 1h1m20 0h1m26 0h1m88 0h1m10 0h1m8 0h1m6 0h1m-169 1h1m149 0h1m8 0h1m6 0h1m-167 1h1m156 0h1m6 0h1m-156 2h1m135 0h1m-13 1h1m9 0h1m-14 1h1m-124 1h1m23 0h1m75 0h1m9 0h1m35 0h1m-166 1h1m117 0h1m21 0h1m15 0h1m6 0h1m-162 1h1m114 0h1m30 0h1m5 0h1m6 0h1m-158 1h1m141 0h1m5 0h1m6 0h1m-155 1h1m1 0h1m142 0h1m-144 1h1m1 0h1m16 0h1m121 0h1m-140 1h1m1 0h1m-1 1h1m108 0h1m-86 1h1m101 0h1m10 0h1m-22 1h1m18 0h1m-114 1h1m7 0h1m27 0h1m74 0h1m-105 2h1m-15 1h1m14 0h1m3 0h1m-18 1h1m97 0h1m-97 1h1m9 0h1m15 0h1m60 0h1m15 0h1m-106 1h1m20 0h1m-20 1h1m92 0h1m-92 1h1m1 1h1m18 0h1m-7 1h1m67 0h1m-59 2h1m48 0h1m-44 1h1m44 1h1m-54 3h1m1 0h1m50 0h1m-52 1h1m48 0h1m-3 1h1m-44 4h1m1 1h1m1 1h1m18 0h1m-14 8h1m-1 1h2m10 0h1m-11 4h1m4 0h1m0 1h1m6 0h1m-20 1h1m-2 1h1m3 1h1m6 0h1m-2 1h1m-13 1h1m-1 1h1m2 0h1m-4 1h1m1 0h1m-3 1h1"/>
<path stroke="#4742e6" d="M0 0m21 0h2m12 0h1m11 0h9m-34 1h1m12 0h2m10 0h9m-34 1h2m12 0h2m10 0h9m27 0h1m-62 1h2m12 0h1m10 0h10m-34 1h1m13 0h1m9 0h10m-33 1h1m13 0h1m9 0h10m-33 1h1m13 0h1m8 0h3m3 0h5m-34 1h1m13 0h2m8 0h2m5 0h3m-33 1h1m13 0h2m7 0h2m7 0h2m-33 1h1m13 0h1m8 0h2m7 0h1m25 0h1m-44 1h1m7 0h2m8 0h1m-33 1h1m14 0h1m6 0h2m9 0h1m-33 1h1m14 0h1m6 0h2m8 0h1m-32 1h1m13 0h2m5 0h2m9 0h1m-18 1h2m5 0h2m-8 1h1m5 0h2m9 0h1m-32 1h1m14 0h1m5 0h1m10 0h1m22 0h1m-55 1h1m14 0h1m4 0h2m9 0h1m-31 1h1m14 0h1m4 0h1m10 0h1m-17 1h2m3 0h2m-6 1h2m3 0h1m10 0h1m-31 1h1m14 0h2m2 0h2m-20 1h1m14 0h1m2 0h2m10 0h1m-15 1h2m1 0h2m10 0h1m20 0h1m-36 1h4m176 0h1m-181 1h5m10 0h1m-30 1h1m14 0h4m-18 1h1m14 0h3m11 0h1m159 0h1m-174 1h3m145 0h1m-148 1h2m11 0h1m132 0h1m-146 1h2m30 0h1m111 0h1m22 0h1m-183 1h1m15 0h1m141 0h1m-158 1h1m27 0h1m127 0h1m-156 1h1m153 0h1m21 0h1m-149 1h1m124 0h1m-2 1h1m-124 1h1m121 0h1m20 0h1m-170 1h1m43 0h1m102 0h1m-147 1h1m25 0h1m157 1h1m-4 2h1m-178 2h1m154 0h1m-155 1h1m24 1h1m124 1h1m-125 1h1m138 1h1m-162 1h1m22 0h1m118 0h1m-142 1h1m156 0h1m-4 2h1m-117 2h1m-35 1h1m-25 1h1m24 0h1m-25 1h1m0 1h1m191 0h1m-192 1h2m143 0h1m18 0h1m23 0h4m-190 1h1m159 0h4m20 0h2m1 0h2m-187 1h1m52 0h1m99 0h1m3 0h5m18 0h1m3 0h1m-185 1h2m21 0h1m18 0h1m94 0h1m17 0h8m15 0h1m3 0h1m-182 1h1m148 0h1m2 0h10m13 0h1m3 0h1m-177 1h1m38 0h1m108 0h10m11 0h1m4 0h1m-26 1h7m11 0h1m4 0h1m-133 1h1m103 0h1m4 0h6m10 0h1m4 0h1m-169 1h1m1 0h1m137 0h1m7 0h3m10 0h1m4 0h1m-172 1h1m152 0h1m15 0h1m-169 1h1m26 0h1m98 0h1m39 0h1m-165 1h1m7 0h1m128 0h1m9 0h1m14 0h1m-162 1h2m4 0h1m137 0h1m8 0h1m5 0h1m-159 1h2m105 0h1m10 0h1m11 0h1m19 0h1m5 0h1m-154 1h1m6 0h1m95 0h1m41 0h1m5 0h1m-152 1h1m101 0h1m32 0h1m7 0h1m5 0h1m-147 1h1m3 0h1m125 0h1m-123 1h1m14 0h1m-23 1h1m1 0h1m42 1h1m69 0h1m-132 1h1m20 0h1m2 0h1m2 0h1m90 0h1m19 0h1m-137 1h1m145 0h1m-145 1h1m19 0h1m100 0h2m13 0h1m5 0h1m-141 1h2m15 0h1m7 0h1m106 0h1m5 0h1m-138 1h1m1 0h1m17 0h1m16 0h1m91 0h1m-128 1h1m1 0h1m117 0h1m4 0h1m-124 1h1m1 0h1m16 0h1m101 0h1m-120 1h1m19 0h1m-4 1h1m2 0h1m97 1h1m-27 1h1m7 0h1m15 0h1m-104 2h1m1 1h1m8 0h1m-8 1h1m84 0h1m-84 1h1m72 0h1m7 0h1m-84 1h1m1 1h1m63 0h1m10 0h1m-74 1h1m9 0h1m52 2h1m10 0h1m-9 1h1m5 0h1m-3 1h1m-18 2h1m-35 1h1m35 0h1m-35 1h1m25 1h1m-21 5h1m1 1h1m3 3h1m9 3h2m0 4h1m-18 2h1m16 0h1m-6 1h1m-4 1h1m-2 1h1m-12 1h1m3 0h1m-2 1h1m-4 1h1m-1 1h1"/>
<path stroke="#4746ea" d="M0 0m23 0h2m8 0h2m-12 1h3m8 0h1m-11 1h2m9 0h1m-11 1h2m9 0h1m-12 1h3m8 0h2m-12 1h2m9 0h2m46 0h1m-59 1h2m9 0h2m12 0h3m-28 1h2m10 0h1m12 0h5m-29 1h2m10 0h1m11 0h7m-30 1h2m10 0h1m11 0h7m-31 1h2m11 0h1m10 0h8m-31 1h2m11 0h1m9 0h9m-31 1h1m11 0h2m9 0h8m25 0h1m-56 1h1m11 0h1m9 0h9m-31 1h2m11 0h1m9 0h9m156 0h1m-188 1h1m12 0h1m8 0h9m155 0h1m-186 1h1m12 0h1m7 0h3m3 0h4m153 0h1m-184 1h1m12 0h1m7 0h2m5 0h2m152 0h1m-170 1h2m6 0h3m6 0h1m150 0h1m-181 1h1m12 0h1m7 0h2m7 0h1m22 0h1m125 0h1m-179 1h1m12 0h1m6 0h2m7 0h1m147 0h1m-177 1h1m12 0h1m6 0h1m8 0h1m145 0h1m-162 1h1m5 0h2m152 0h1m-174 1h1m13 0h1m5 0h1m8 0h1m142 0h1m-172 1h1m12 0h2m4 0h2m8 0h1m140 0h1m-170 1h1m12 0h1m5 0h1m148 0h1m24 0h1m-180 1h1m4 0h2m8 0h1m20 0h1m116 0h1m-153 1h1m3 0h2m145 0h1m-165 1h1m13 0h1m3 0h1m9 0h1m158 0h1m-187 1h1m13 0h1m2 0h2m-18 1h1m12 0h2m2 0h1m-4 1h2m1 0h2m9 0h1m152 0h1m-167 1h4m-3 1h4m9 0h1m18 0h1m-46 1h1m13 0h3m157 0h1m-174 1h1m13 0h3m9 0h1m-13 1h3m-2 1h3m151 0h1m-154 1h2m-15 1h1m13 0h1m-14 1h1m24 0h1m16 0h1m118 0h1m18 0h1m-155 2h1m150 0h1m-151 2h1m146 0h1m-171 1h1m166 1h1m-128 1h1m107 0h1m-5 3h1m-140 1h1m21 0h1m0 2h1m111 0h1m-112 2h1m106 1h1m-127 1h1m139 0h1m-4 2h1m27 1h1m-186 1h1m181 0h3m-5 1h3m-180 1h1m21 0h1m152 0h3m-177 1h1m50 0h1m119 0h4m-174 1h2m144 0h3m19 0h2m1 0h1m-171 1h2m125 0h1m16 0h4m17 0h1m2 0h1m-27 1h7m14 0h1m2 0h1m-163 1h1m35 0h1m71 0h1m24 0h1m2 0h9m11 0h1m3 0h1m-161 1h1m106 0h1m26 0h10m10 0h1m3 0h1m-158 1h1m19 0h1m15 0h1m68 0h1m23 0h1m4 0h7m10 0h1m3 0h1m-153 1h1m42 0h1m57 0h1m25 0h1m4 0h4m10 0h1m3 0h1m-117 1h1m90 0h1m6 0h3m13 0h1m-154 1h1m136 0h1m13 0h1m-150 1h1m4 0h1m1 0h1m139 0h1m-147 1h1m121 0h1m16 0h1m4 0h1m-144 1h2m126 0h1m7 0h1m4 0h1m-133 1h1m124 0h1m4 0h1m-132 1h1m123 0h1m4 0h1m-134 1h1m108 0h1m21 0h1m-123 1h1m107 0h1m-115 1h1m5 1h1m-21 1h1m23 0h1m-23 1h1m15 0h1m-15 1h1m114 0h1m-113 1h1m20 0h1m81 0h1m11 0h1m4 0h1m-121 1h1m1 0h1m110 0h1m4 0h1m-117 1h1m1 0h1m94 0h1m11 0h1m-108 1h1m13 0h1m2 0h1m3 0h1m83 0h1m-87 1h1m79 0h1m-80 1h1m11 0h1m-8 1h1m-5 2h1m-7 1h1m13 0h1m17 0h1m44 0h1m-76 1h1m77 0h1m-3 1h1m-77 1h1m15 0h1m57 0h1m-73 1h1m8 0h1m-8 1h1m1 1h1m13 0h1m41 0h1m-45 3h1m5 0h1m3 3h1m11 4h1m-12 2h1m10 3h1m-14 7h1m14 0h2m-6 1h1m-5 2h1m-11 1h1m-2 2h1m1 0h1m-2 1h1"/>
<path stroke="#484bee" d="M0 0m25 0h8m201 0h1m-209 1h8m50 0h1m148 0h1m-208 1h9m197 0h1m-206 1h3m3 0h3m195 0h1m-204 1h3m3 0h2m49 0h1m144 0h1m-203 1h3m4 0h2m192 0h1m-201 1h2m5 0h2m190 0h1m-200 1h3m5 0h2m188 0h1m-198 1h2m6 0h2m46 0h1m139 0h1m-196 1h2m6 0h2m184 0h1m-195 1h3m6 0h2m182 0h1m-193 1h2m7 0h2m44 0h1m135 0h1m-192 1h3m7 0h1m179 0h1m-190 1h2m8 0h1m177 0h1m-188 1h2m8 0h1m-11 1h2m8 0h2m42 0h1m-54 1h2m8 0h2m11 0h3m-25 1h2m8 0h2m10 0h5m-27 1h2m9 0h1m11 0h6m-28 1h2m9 0h1m10 0h7m-28 1h1m10 0h1m9 0h7m-27 1h1m10 0h1m8 0h8m-28 1h2m10 0h1m8 0h8m22 0h1m-51 1h1m10 0h2m7 0h8m-27 1h1m10 0h1m8 0h8m-27 1h1m10 0h1m7 0h9m-28 1h1m11 0h1m7 0h2m3 0h3m163 0h1m-191 1h1m11 0h1m6 0h2m5 0h2m161 0h1m-189 1h1m11 0h1m5 0h2m6 0h1m-15 1h2m5 0h2m6 0h1m20 0h1m136 0h1m-173 1h1m5 0h2m7 0h1m155 0h1m-183 1h1m11 0h1m5 0h1m7 0h1m-26 1h1m11 0h1m4 0h2m7 0h1m151 0h1m-166 1h1m4 0h1m-5 1h1m3 0h2m7 0h1m-14 1h2m3 0h1m154 0h1m-172 1h1m11 0h1m3 0h2m26 0h1m-44 1h1m11 0h1m3 0h1m8 0h1m-13 1h1m2 0h2m148 0h1m-153 1h1m1 0h2m8 0h1m-12 1h3m-15 1h1m11 0h4m8 0h1m134 0h1m17 0h1m-177 1h1m11 0h3m-2 1h3m25 0h1m131 0h1m-160 1h2m138 0h1m-140 1h2m153 0h1m-168 1h1m12 0h1m9 0h1m-23 1h1m162 0h1m-141 1h1m136 1h1m-137 1h1m14 0h1m117 1h1m-154 1h1m0 1h1m148 0h1m-18 1h1m13 1h1m-124 2h1m12 0h1m91 0h1m-125 1h1m19 1h1m99 1h1m-18 2h1m-2 1h1m13 0h1m-112 1h1m95 0h1m26 0h1m-29 1h1m53 0h1m-56 1h1m25 0h1m25 0h2m-166 1h1m110 0h1m50 0h2m-163 1h1m157 0h3m-159 1h1m153 0h3m-156 1h1m130 0h2m18 0h3m-153 1h1m18 0h1m109 0h4m15 0h1m1 0h1m-150 1h2m124 0h6m12 0h1m2 0h1m-147 1h1m108 0h1m13 0h8m10 0h1m-108 1h1m86 0h9m9 0h1m-136 1h1m118 0h5m9 0h1m-103 1h1m69 0h1m17 0h3m-126 1h1m4 0h1m16 0h1m91 0h1m1 0h1m7 0h1m-124 1h2m119 0h1m-120 1h1m124 0h1m-125 1h2m105 0h1m14 0h1m-117 1h1m106 0h1m6 0h1m-117 1h1m106 0h1m10 0h1m-119 1h1m97 0h1m17 0h1m-114 1h1m16 0h1m93 0h1m-108 1h1m104 0h1m-124 1h1m14 0h1m1 0h1m77 0h1m7 0h1m7 0h1m-110 1h1m1 1h1m45 0h1m-44 1h1m15 0h1m-17 1h1m1 0h1m98 0h1m-100 1h1m1 0h1m10 0h1m73 0h1m5 0h1m-92 1h1m96 0h1m-3 1h1m-3 1h1m-16 1h1m12 0h1m-74 1h1m65 0h1m-72 1h1m66 0h1m-66 1h1m1 1h1m7 2h1m-7 1h1m51 0h1m-51 1h1m35 2h1m-16 9h1m9 3h1m-12 1h1m-2 3h1m4 0h1m3 0h1m1 0h1m1 0h1m-15 1h1m5 0h1m1 0h1m1 0h1m2 0h1m-5 1h2m-9 1h1m3 1h2m-11 1h1m-2 2h1m1 0h1m-3 1h1"/>
<path stroke="#4850f2" d="M0 0m84 0h1m-55 3h3m-2 1h3m-3 1h4m-4 1h5m-4 1h5m49 0h1m-55 1h6m-5 1h6m-5 1h6m-6 1h7m-6 1h7m-7 1h8m-7 1h3m2 0h3m44 0h1m-53 1h3m3 0h2m-7 1h3m3 0h2m-7 1h2m4 0h2m-8 1h3m4 0h2m42 0h1m-51 1h2m5 0h2m-9 1h3m5 0h2m-9 1h2m6 0h2m40 0h1m-50 1h2m6 0h2m-10 1h2m7 0h1m-9 1h2m7 0h1m-9 1h2m7 0h1m38 0h1m143 0h1m-193 1h2m8 0h1m10 0h3m167 0h1m-191 1h2m8 0h1m9 0h5m-24 1h1m8 0h2m8 0h6m161 0h1m-187 1h2m8 0h1m9 0h6m-25 1h2m8 0h1m8 0h7m-25 1h1m9 0h1m7 0h7m155 0h1m-180 1h1m9 0h1m7 0h7m20 0h1m-46 1h1m10 0h1m6 0h8m150 0h1m-176 1h1m10 0h1m6 0h7m149 0h1m-174 1h1m9 0h1m6 0h3m2 0h3m-14 1h1m6 0h2m4 0h2m144 0h1m-159 1h1m5 0h2m5 0h1m143 0h1m-168 1h1m10 0h1m5 0h1m6 0h1m158 0h1m-183 1h1m10 0h1m4 0h2m24 0h1m120 0h1m17 0h1m-170 1h1m3 0h2m6 0h1m-13 1h1m4 0h1m-5 1h1m3 0h2m140 0h1m-157 1h1m10 0h1m3 0h1m7 0h1m-23 1h1m10 0h1m2 0h2m-4 1h1m2 0h1m7 0h1m127 0h1m-140 1h2m1 0h2m23 0h1m-28 1h4m7 0h1m-22 1h1m10 0h3m130 0h1m-144 1h1m10 0h3m-2 1h2m-1 1h2m124 0h1m-126 1h1m8 0h1m-9 1h1m22 0h1m80 0h1m-116 1h1m19 0h1m93 0h1m31 0h1m-34 1h1m-2 1h1m30 0h1m-33 1h1m-2 1h1m29 0h1m-137 1h1m104 0h1m-105 1h1m30 0h1m71 0h1m28 0h1m-114 1h1m82 0h1m26 1h1m-110 1h1m-17 2h1m16 0h1m11 2h1m75 0h1m-5 3h1m33 1h1m-130 1h1m125 0h2m-145 1h1m118 0h1m21 0h3m-143 1h1m40 0h1m96 0h3m-140 1h1m113 0h1m2 0h3m15 0h3m-137 1h2m112 0h5m12 0h1m2 0h1m-22 1h7m9 0h1m2 0h1m-129 1h1m14 0h1m12 0h1m78 0h7m9 0h1m2 0h1m-22 1h1m1 0h6m11 0h1m-124 1h1m27 0h1m78 0h3m11 0h1m-125 1h1m5 0h1m32 0h1m70 0h1m11 0h1m-122 1h1m100 0h1m13 0h1m-114 1h1m86 0h1m16 0h1m6 0h1m-111 1h1m3 0h1m1 0h1m86 0h1m14 0h1m-108 1h1m17 0h1m73 0h1m-84 2h1m85 0h1m-92 1h1m1 0h1m1 0h1m78 0h1m-96 1h1m107 0h1m-107 1h1m14 0h1m3 0h1m84 0h1m-103 1h1m95 0h1m3 0h1m-98 1h1m12 0h2m72 0h1m3 0h1m-92 1h1m1 0h1m9 0h1m2 0h1m2 0h1m54 0h1m-72 1h1m1 1h1m17 1h1m52 0h1m4 1h1m-62 1h1m58 0h1m-53 1h1m4 0h1m-15 1h1m1 1h1m10 1h1m34 0h1m-40 1h1m40 0h1m-47 1h1m34 0h1m-34 1h1m1 1h1m4 0h1m31 2h1m-3 1h1m-3 1h1m-3 1h1m-3 1h1m-3 1h1m-3 1h1m-12 6h1m3 0h1m3 0h2m-6 3h1m-1 1h1m-6 1h1m-2 1h1m-4 1h1m1 0h1m-3 1h1"/>
<path stroke="#4755f6" d="M0 0m85 3h1m0 3h1m0 4h1m-49 4h2m-2 1h3m-2 1h3m-3 1h4m45 0h1m-49 1h4m-4 1h5m-4 1h5m-5 1h6m-5 1h6m-6 1h7m-6 1h7m40 0h1m-47 1h2m2 0h3m-7 1h3m3 0h2m182 0h1m-190 1h2m4 0h2m179 0h3m-190 1h3m4 0h1m38 0h1m139 0h4m-189 1h2m5 0h1m175 0h6m-188 1h2m5 0h1m173 0h7m-188 1h2m6 0h1m171 0h1m2 0h5m-187 1h2m5 0h2m168 0h1m5 0h4m-187 1h2m6 0h2m166 0h1m6 0h4m-186 1h2m6 0h2m173 0h3m-185 1h2m6 0h1m10 0h2m22 0h1m127 0h1m11 0h2m-185 1h2m7 0h1m9 0h4m160 0h2m-184 1h2m7 0h1m8 0h5m121 0h1m38 0h1m-183 1h1m8 0h1m7 0h6m119 0h1m22 0h1m-165 1h1m8 0h1m7 0h6m117 0h1m38 0h1m-180 1h2m7 0h2m6 0h6m116 0h1m21 0h1m16 0h1m-178 1h1m8 0h1m6 0h7m114 0h1m21 0h1m15 0h1m-175 1h1m8 0h1m6 0h7m17 0h1m94 0h1m37 0h1m-164 1h1m5 0h3m1 0h3m111 0h1m20 0h1m-145 1h1m5 0h2m3 0h2m109 0h1m36 0h1m-169 1h1m9 0h1m4 0h2m113 0h1m-130 1h1m14 0h1m5 0h1m106 0h1m19 0h1m15 0h1m-155 1h1m4 0h1m111 0h1m-117 1h1m3 0h2m109 0h1m34 0h1m-150 1h1m3 0h1m6 0h1m15 0h1m85 0h1m18 0h1m-142 1h1m9 0h1m2 0h2m106 0h1m33 0h1m-155 1h1m9 0h1m2 0h1m6 0h1m98 0h1m-109 1h1m1 0h2m103 0h1m17 0h1m14 0h1m-141 1h2m1 0h1m-3 1h4m-13 1h1m9 0h3m116 0h1m-129 1h1m9 0h2m7 0h1m13 0h1m-23 1h2m-1 1h1m7 0h1m103 0h1m-113 1h2m-10 2h1m115 0h1m-5 3h1m-109 2h1m0 1h1m15 0h1m98 0h1m-99 2h1m94 0h1m-4 2h1m12 5h2m-132 1h1m97 0h1m29 0h2m-129 1h1m124 0h2m-126 1h2m14 0h1m89 0h1m14 0h3m-122 1h1m89 0h1m11 0h4m11 0h1m1 0h1m-20 1h6m9 0h1m1 0h1m-115 1h1m24 0h1m67 0h1m2 0h6m10 0h1m-113 1h1m95 0h4m10 0h1m-15 1h3m9 0h1m-110 1h1m4 0h1m91 0h1m6 0h1m2 0h1m-107 1h1m100 0h1m2 0h1m-104 1h2m2 0h1m93 0h1m2 0h1m-12 1h1m8 0h1m-96 1h1m-1 1h1m-10 2h1m25 0h1m-25 1h1m77 0h1m9 0h1m-87 1h2m11 0h1m-11 1h1m8 0h1m-10 1h1m1 0h1m-1 1h1m1 1h1m65 0h1m-1 1h1m-56 3h1m1 1h1m33 0h1m12 1h1m-37 1h1m33 0h1m-3 1h1m-40 1h1m36 0h1m-36 1h1m8 0h1m2 8h1m-2 1h1m9 3h1m0 2h1m-8 2h1m-10 1h1m-1 2h1"/>
<path stroke="#475af9" d="M0 0m233 0h1m-2 1h1m-148 1h1m145 0h1m-2 1h1m-2 1h1m-2 1h1m-2 1h1m-2 1h1m-2 1h1m-139 1h1m136 0h1m-2 1h1m-2 1h1m-2 1h1m-134 1h1m131 0h1m-2 1h1m-2 1h1m-2 1h1m-2 1h1m-2 1h1m-2 1h1m-125 1h1m122 0h1m-2 1h1m-2 1h1m-2 1h1m-2 1h1m-163 1h2m159 0h1m-161 1h3m156 0h1m-160 1h4m40 0h1m113 0h1m-158 1h4m152 0h1m-157 1h5m150 0h1m-155 1h5m148 0h1m-154 1h6m37 0h1m108 0h1m26 0h2m-180 1h5m145 0h1m25 0h5m-181 1h6m143 0h1m25 0h6m-180 1h3m1 0h2m141 0h1m24 0h9m-180 1h2m2 0h2m139 0h1m24 0h11m-181 1h2m3 0h2m137 0h1m23 0h13m-180 1h2m3 0h2m159 0h15m-181 1h2m4 0h2m33 0h1m123 0h16m-180 1h2m4 0h2m154 0h16m-177 1h1m5 0h1m153 0h16m-176 1h2m5 0h1m154 0h12m-173 1h2m5 0h1m148 0h1m5 0h10m-172 1h2m6 0h1m9 0h1m144 0h8m-170 1h2m6 0h1m8 0h3m132 0h1m9 0h6m-167 1h1m7 0h1m7 0h5m17 0h1m111 0h1m11 0h4m-165 1h1m7 0h1m6 0h5m142 0h1m-163 1h2m6 0h1m6 0h6m125 0h1m14 0h1m-161 1h1m7 0h1m6 0h6m137 0h1m-158 1h1m7 0h1m5 0h6m136 0h1m-148 1h1m5 0h6m119 0h1m-131 1h1m4 0h2m2 0h2m132 0h1m-152 1h1m8 0h1m4 0h1m4 0h1m-19 1h1m7 0h1m4 0h1m5 0h1m113 0h1m13 0h1m-139 1h1m4 0h1m-5 1h1m3 0h1m5 0h1m123 0h1m-134 1h1m2 0h2m113 0h1m-127 1h1m8 0h1m2 0h1m125 0h1m-129 1h1m1 0h2m-4 1h1m2 0h1m108 0h1m12 0h1m-125 1h3m6 0h1m-9 1h3m117 0h1m-129 1h1m8 0h2m6 0h1m96 0h1m-105 1h2m18 0h1m94 0h1m-115 1h1m0 1h1m97 0h1m11 0h1m-118 3h1m100 0h1m-75 2h1m-11 1h1m79 0h1m-94 2h1m88 1h1m-65 3h1m64 3h1m18 0h1m-118 1h1m114 0h1m-115 1h1m110 0h2m-111 1h1m92 0h2m12 0h2m-84 1h1m65 0h4m10 0h1m-16 1h5m-92 1h1m12 0h1m9 0h1m61 0h6m-8 1h1m2 0h3m-90 1h1m4 0h1m81 0h1m6 0h1m-94 1h1m84 0h1m5 0h1m-90 1h1m67 0h1m7 0h1m-76 1h2m1 0h1m1 0h1m-5 1h1m2 1h1m65 0h1m4 0h1m-67 1h1m67 0h1m-83 1h1m11 0h2m-12 1h1m11 0h1m-10 1h1m7 0h1m-7 1h1m-1 1h1m67 0h1m-67 1h1m7 0h1m41 0h1m9 0h1m3 0h1m-12 1h1m8 0h1m-19 1h1m15 0h1m-3 1h1m-48 1h1m1 1h1m1 0h1m1 4h1m8 9h1m8 0h1m-8 2h1m-2 1h1m4 1h1m-11 2h1m-2 2h1"/>
<path stroke="#465ffb" d="M0 0m85 1h1m0 4h1m0 3h1m0 4h1m0 4h1m0 3h1m0 4h1m1 7h1m-39 4h1m38 0h1m-40 1h2m-2 1h3m-2 1h3m-3 1h4m-3 1h4m-4 1h5m-4 1h5m33 0h1m118 0h3m-159 1h5m150 0h5m-160 1h3m1 0h2m147 0h8m-160 1h2m2 0h2m145 0h9m-160 1h2m3 0h2m143 0h11m-160 1h2m3 0h2m140 0h14m-160 1h1m4 0h1m139 0h14m-159 1h2m4 0h1m136 0h14m-156 1h1m5 0h1m134 0h1m1 0h12m-155 1h2m5 0h1m135 0h11m-153 1h2m5 0h1m7 0h2m120 0h1m5 0h8m-150 1h1m6 0h1m6 0h4m16 0h1m108 0h6m-148 1h1m5 0h1m6 0h5m124 0h4m-146 1h1m6 0h1m6 0h5m112 0h1m11 0h2m-144 1h1m6 0h1m5 0h5m-17 1h1m6 0h1m5 0h5m121 0h1m-132 1h1m4 0h6m106 0h1m-125 1h1m7 0h1m4 0h1m2 0h2m117 0h1m-135 1h1m11 0h1m4 0h1m13 0h1m-24 1h1m3 0h2m117 0h1m-123 1h1m3 0h1m4 0h1m-9 1h1m2 0h1m-11 1h1m7 0h1m2 0h1m-11 1h1m7 0h1m1 0h1m5 0h1m-8 1h1m1 0h1m-3 1h3m5 0h1m-8 1h3m-2 1h2m-9 1h1m7 0h2m-1 1h1m95 2h1m-89 1h1m-14 1h1m97 0h1m-85 1h1m80 1h1m-4 2h1m-88 2h1m-11 4h1m30 0h1m73 0h1m-105 1h1m100 0h2m-101 1h1m96 0h2m-98 1h1m71 0h1m9 0h2m10 0h2m-74 1h1m57 0h4m9 0h1m-92 1h2m74 0h5m8 0h1m-89 1h1m74 0h4m5 0h1m1 0h1m-61 1h1m43 0h1m4 0h2m5 0h1m1 0h1m-85 1h1m81 0h1m-82 1h1m12 0h1m65 0h1m-79 1h1m2 0h1m65 0h1m6 0h1m-6 1h1m2 0h1m-6 1h1m2 0h1m-78 1h1m10 0h1m2 0h1m60 0h1m-74 1h1m28 0h1m41 0h1m-69 1h1m59 0h1m-59 1h1m10 0h1m-12 1h1m42 0h1m12 0h1m-55 1h1m6 0h1m5 1h1m33 1h1m-24 1h1m-14 1h1m8 1h1m-6 3h1m15 7h1m0 4h1m-7 2h1m-9 3h1"/>
<path stroke="#4465fd" d="M0 0m85 0h1m69 0h3m-3 1h2m-2 1h2m-2 1h1m-70 1h1m67 0h2m-2 1h1m-67 6h1m0 4h1m1 7h1m0 4h1m1 7h1m0 4h1m-34 6h1m-1 1h2m33 0h1m-36 1h3m-2 1h3m-3 1h4m-3 1h4m30 0h1m-35 1h5m136 0h1m-141 1h5m133 0h3m-140 1h5m131 0h5m-141 1h2m2 0h2m128 0h8m-141 1h2m2 0h1m127 0h9m-141 1h2m3 0h1m125 0h11m-141 1h2m3 0h1m26 0h1m95 0h13m-140 1h1m4 0h1m120 0h12m-138 1h2m4 0h1m119 0h11m-136 1h1m5 0h1m6 0h2m107 0h1m3 0h8m-133 1h1m5 0h1m5 0h4m109 0h7m-132 1h2m11 0h4m101 0h1m7 0h4m-129 1h1m5 0h1m5 0h4m100 0h1m9 0h2m-127 1h1m5 0h1m4 0h5m109 0h1m-119 1h1m4 0h5m95 0h1m-105 1h1m3 0h5m105 0h1m-121 1h1m6 0h1m3 0h1m3 0h1m-15 1h1m9 0h1m16 0h1m77 0h1m10 0h1m-110 1h1m3 0h1m-4 1h1m2 0h1m4 0h1m96 0h1m-105 1h1m2 0h1m88 0h1m-99 1h1m6 0h1m1 0h1m4 0h1m92 0h1m-100 1h3m-2 1h2m83 0h1m-86 1h2m15 0h1m-17 1h2m-8 1h1m6 0h1m78 0h1m-79 1h1m5 1h1m67 1h1m-78 3h1m72 0h1m-5 3h1m-65 3h1m-12 1h1m90 0h1m-17 1h1m13 0h1m-87 1h1m18 0h1m53 0h1m10 0h1m-14 1h3m-71 1h1m65 0h5m5 0h1m-77 1h1m65 0h3m5 0h1m-76 1h1m66 0h1m-67 1h1m3 0h1m56 0h1m3 0h1m-65 1h2m62 1h1m-60 1h1m49 0h1m-60 1h1m7 0h1m39 0h1m-47 1h1m16 0h1m27 0h1m7 0h1m-51 1h1m1 1h1m49 0h1m-51 1h1m1 1h1m5 0h1m6 2h1m-5 1h2m21 2h1m-20 2h1m4 8h1m4 2h1m-6 1h1m-4 1h1m-2 2h2"/>
<path stroke="#416bfe" d="M0 0m122 0h4m27 0h2m3 0h1m44 0h4m25 0h1m-111 1h4m27 0h2m2 0h2m43 0h4m25 0h1m-110 1h4m27 0h2m2 0h2m43 0h3m25 0h1m-145 1h1m35 0h4m27 0h2m1 0h2m43 0h3m25 0h1m-108 1h4m26 0h2m2 0h2m42 0h3m25 0h1m-107 1h3m27 0h2m1 0h2m43 0h2m25 0h1m-106 1h3m27 0h5m42 0h2m25 0h1m-140 1h1m35 0h2m27 0h4m42 0h3m24 0h1m-103 1h2m26 0h5m42 0h2m24 0h1m-102 1h1m27 0h5m41 0h2m24 0h1m-136 1h1m34 0h1m27 0h4m42 0h1m24 0h1m-72 1h4m41 0h1m24 0h1m-72 1h4m66 0h1m-71 1h4m65 0h1m-131 1h1m60 0h3m65 0h1m-69 1h3m64 0h1m-68 1h2m64 0h1m-68 1h3m63 0h1m-126 1h1m58 0h2m63 0h1m-66 1h2m62 0h1m-65 1h1m62 0h1m-64 1h1m61 0h1m-2 1h1m-2 1h1m-2 1h1m-117 1h1m0 4h1m2 11h1m2 11h1m-32 1h2m-1 1h2m-2 1h3m-2 1h3m-3 1h4m-3 1h4m119 0h1m-124 1h5m117 0h3m-124 1h2m1 0h2m114 0h5m-123 1h1m2 0h2m112 0h7m-124 1h2m2 0h1m111 0h9m-124 1h1m3 0h1m23 0h1m84 0h11m-124 1h2m3 0h1m106 0h11m-122 1h1m4 0h1m103 0h11m-119 1h1m4 0h1m5 0h3m96 0h8m-117 1h1m4 0h1m4 0h4m95 0h6m-115 1h1m10 0h4m88 0h1m6 0h4m-113 1h1m9 0h4m96 0h1m-105 1h1m4 0h4m94 0h1m-103 1h1m3 0h4m83 0h1m-97 1h1m5 0h1m3 0h1m2 0h1m90 0h1m-104 1h1m5 0h1m2 0h1m3 0h1m-5 1h1m90 0h1m-91 1h1m3 0h1m-7 1h1m1 0h1m-8 1h1m5 0h1m1 0h1m-2 1h2m-1 1h2m-1 1h1m4 0h1m-5 1h1m12 0h1m-9 1h1m-11 1h1m76 1h1m-4 2h1m-4 2h1m-75 4h1m80 0h1m-81 1h1m17 0h1m59 0h1m-77 1h1m63 0h1m9 0h1m-13 1h3m6 0h2m-12 1h3m-61 1h1m43 0h1m12 0h3m-61 1h1m1 0h1m41 0h1m4 0h1m-49 1h2m2 0h1m37 0h1m16 0h1m-57 1h1m48 1h1m-56 1h1m6 0h1m3 0h1m-10 1h1m2 1h1m45 0h1m-45 1h1m-1 1h1m1 1h1m32 0h1m-27 2h1m5 1h1m-3 3h1m8 9h1m-8 2h1m-2 1h1"/>
<path stroke="#3c71ff" d="M0 0m120 0h2m4 0h2m24 0h1m6 0h2m41 0h1m4 0h1m-88 1h2m4 0h2m24 0h1m6 0h1m41 0h1m4 0h1m-121 1h1m33 0h2m4 0h2m24 0h1m6 0h1m40 0h2m3 0h1m-86 1h2m4 0h1m24 0h2m5 0h1m41 0h1m3 0h1m-85 1h2m4 0h1m24 0h1m6 0h1m40 0h1m3 0h2m-85 1h2m3 0h2m24 0h1m5 0h1m40 0h2m2 0h2m-117 1h1m32 0h2m3 0h2m24 0h1m5 0h1m40 0h1m2 0h2m-82 1h2m2 0h2m23 0h2m4 0h2m39 0h1m3 0h1m-81 1h2m2 0h2m23 0h1m5 0h1m39 0h2m2 0h1m-113 1h1m32 0h2m1 0h2m24 0h1m5 0h1m38 0h2m2 0h1m-79 1h2m1 0h2m24 0h1m4 0h1m39 0h2m1 0h1m-78 1h5m23 0h2m4 0h1m38 0h2m1 0h2m-78 1h5m23 0h1m4 0h1m38 0h5m-109 1h1m31 0h5m23 0h1m4 0h1m38 0h4m-76 1h5m23 0h1m3 0h2m37 0h4m-75 1h5m22 0h2m3 0h1m37 0h4m-74 1h4m23 0h2m2 0h2m37 0h3m-104 1h1m30 0h4m23 0h1m3 0h1m37 0h4m-73 1h4m23 0h1m2 0h2m36 0h4m-72 1h4m22 0h2m2 0h1m37 0h3m-71 1h4m22 0h2m1 0h2m36 0h3m-100 1h1m29 0h3m23 0h2m1 0h2m35 0h3m-69 1h3m23 0h4m36 0h2m-68 1h3m22 0h5m35 0h2m-66 1h2m22 0h4m36 0h2m-66 1h2m22 0h4m35 0h2m20 0h1m-86 1h1m23 0h3m35 0h2m20 0h1m-85 1h1m22 0h4m35 0h1m20 0h1m-113 1h1m51 0h4m34 0h1m20 0h1m-60 1h3m55 0h1m-59 1h3m54 0h1m-58 1h2m54 0h1m-108 1h1m49 0h3m53 0h1m-57 1h2m53 0h1m-56 1h2m52 0h1m-55 1h1m52 0h1m-103 1h1m48 0h1m51 0h1m-2 1h1m-2 1h1m-2 1h1m-2 1h1m-2 1h1m-2 1h1m-94 1h1m91 0h1m-2 1h1m-2 1h1m-2 1h1m-89 1h1m86 0h1m-2 1h1m-2 1h1m-2 1h1m-2 1h1m-2 1h1m-2 1h1m-79 5h1m-28 1h1m-1 1h2m-1 1h2m-2 1h3m-2 1h3m-3 1h4m-3 1h4m102 0h3m-108 1h1m1 0h2m100 0h4m-108 1h2m2 0h1m98 0h6m-108 1h1m3 0h1m95 0h9m-109 1h2m23 0h1m73 0h9m-107 1h1m3 0h1m92 0h9m-105 1h1m3 0h1m5 0h2m82 0h1m1 0h7m-98 1h1m4 0h3m83 0h6m-101 1h1m4 0h1m3 0h4m77 0h1m5 0h3m-98 1h1m4 0h1m3 0h3m84 0h1m-88 1h4m82 0h1m-86 1h1m2 0h1m71 0h1m-84 1h1m4 0h1m2 0h1m81 0h1m-85 1h1m2 0h1m-3 1h1m1 0h1m69 0h1m7 0h1m-80 1h1m0 1h2m73 0h1m-75 1h1m-1 1h2m3 0h1m-5 1h1m12 3h1m-16 1h1m46 3h1m-2 1h1m-2 1h1m-50 1h1m8 0h1m38 0h1m5 0h1m-54 1h1m45 0h1m20 0h2m-67 1h1m54 0h1m7 0h2m-12 1h4m5 0h1m-13 1h1m1 0h3m5 0h1m-60 1h1m2 0h1m51 0h1m1 0h1m-57 1h2m50 0h1m-55 3h1m5 0h1m-5 1h1m8 0h1m33 0h1m-41 1h1m36 0h1m-33 1h1m-4 1h1m19 5h1m-10 1h1m7 6h1m1 0h1m-1 1h1m-12 2h1m5 0h1m-8 2h1"/>
<path stroke="#3678fe" d="M0 0m119 0h1m8 0h1m22 0h1m9 0h1m18 0h4m16 0h2m6 0h1m22 0h1m-146 1h1m32 0h1m8 0h1m22 0h1m8 0h1m18 0h4m17 0h1m6 0h1m22 0h1m-112 1h1m8 0h1m22 0h1m8 0h1m18 0h4m16 0h1m6 0h1m22 0h1m-111 1h1m7 0h2m21 0h1m8 0h1m19 0h3m16 0h2m5 0h2m21 0h1m-110 1h1m7 0h2m21 0h1m8 0h1m18 0h3m17 0h1m6 0h1m21 0h1m-141 1h1m31 0h1m7 0h1m22 0h1m7 0h1m19 0h2m17 0h1m6 0h1m21 0h1m-108 1h1m7 0h1m22 0h1m7 0h1m18 0h3m16 0h2m5 0h1m21 0h1m-107 1h2m6 0h1m21 0h1m8 0h1m18 0h2m17 0h1m5 0h1m21 0h1m-137 1h1m30 0h2m6 0h1m21 0h1m7 0h1m19 0h1m17 0h1m5 0h1m21 0h1m-105 1h2m5 0h2m21 0h1m7 0h1m36 0h1m5 0h1m21 0h1m-104 1h2m5 0h2m21 0h1m6 0h1m37 0h1m4 0h2m-82 1h2m5 0h1m21 0h1m7 0h1m36 0h1m5 0h1m-111 1h1m29 0h2m5 0h1m21 0h1m6 0h1m36 0h1m5 0h1m-80 1h2m5 0h1m21 0h1m6 0h1m36 0h1m4 0h1m-79 1h2m5 0h1m21 0h1m6 0h1m35 0h1m4 0h1m-77 1h1m5 0h1m20 0h1m6 0h1m35 0h1m4 0h1m-106 1h1m29 0h1m4 0h2m20 0h1m6 0h1m35 0h1m3 0h2m-76 1h1m4 0h2m20 0h1m5 0h1m35 0h1m4 0h1m-75 1h1m4 0h1m21 0h1m5 0h1m34 0h1m4 0h1m-74 1h1m4 0h1m20 0h1m5 0h1m35 0h1m3 0h1m-102 1h1m28 0h1m4 0h1m20 0h1m5 0h1m34 0h1m3 0h1m-72 1h1m3 0h2m20 0h1m5 0h1m33 0h1m3 0h1m-71 1h1m3 0h2m20 0h1m4 0h1m34 0h1m2 0h1m-70 1h1m3 0h2m19 0h1m5 0h1m33 0h1m2 0h2m-98 1h1m27 0h2m2 0h1m20 0h1m4 0h1m33 0h2m2 0h1m-69 1h2m2 0h1m20 0h1m4 0h1m33 0h1m2 0h1m-68 1h2m1 0h2m20 0h1m3 0h1m33 0h1m2 0h1m-67 1h2m1 0h2m19 0h1m4 0h1m32 0h2m1 0h1m-66 1h5m19 0h1m4 0h1m32 0h1m1 0h1m-65 1h5m19 0h1m3 0h1m32 0h4m-65 1h4m20 0h1m3 0h1m31 0h4m-90 1h1m25 0h4m19 0h2m2 0h1m32 0h3m-63 1h4m19 0h1m3 0h1m31 0h3m-62 1h4m19 0h1m2 0h1m31 0h3m-61 1h4m19 0h1m2 0h1m30 0h3m-85 1h1m24 0h4m18 0h2m1 0h2m30 0h2m-58 1h2m19 0h2m1 0h1m30 0h3m-58 1h2m19 0h4m30 0h2m-57 1h2m19 0h3m30 0h2m-81 1h1m24 0h2m18 0h4m29 0h2m-55 1h2m18 0h3m30 0h1m-54 1h1m19 0h3m29 0h1m-53 1h1m19 0h2m29 0h1m-32 1h2m-3 1h3m-3 1h2m-2 1h2m-2 1h1m-42 3h1m0 4h1m77 0h1m-2 1h1m-2 1h1m-2 1h1m-2 1h1m-2 1h1m-2 1h1m-2 1h1m-2 1h1m-2 1h1m-2 1h1m-66 1h1m63 0h1m-89 1h1m86 0h1m-87 1h2m83 0h1m-86 1h3m81 0h1m-84 1h3m79 0h1m-83 1h3m78 0h1m-81 1h3m76 0h1m14 0h1m-95 1h2m1 0h1m74 0h1m13 0h3m-94 1h1m2 0h1m72 0h1m13 0h5m-94 1h1m2 0h1m70 0h1m12 0h8m-95 1h1m3 0h1m68 0h1m12 0h8m-93 1h1m3 0h1m4 0h2m10 0h1m49 0h1m12 0h8m-91 1h1m7 0h3m58 0h1m11 0h1m1 0h6m-89 1h1m8 0h3m56 0h1m15 0h4m-87 1h1m7 0h3m55 0h1m17 0h1m-80 1h1m2 0h4m53 0h1m17 0h1m-78 1h1m2 0h1m54 0h1m-58 1h1m1 0h1m53 0h1m9 0h1m-71 1h1m6 0h1m51 0h1m-53 1h1m50 0h1m-52 1h1m3 0h1m45 0h1m8 0h1m-60 1h2m47 0h1m-49 1h1m46 0h1m-47 1h1m44 0h1m7 0h1m-10 1h1m-2 1h1m5 1h1m-43 3h1m39 2h1m-53 1h1m59 0h1m-60 1h1m56 0h1m-57 1h1m46 0h3m-49 1h1m43 0h3m5 0h1m-53 1h2m43 0h1m2 0h1m1 0h1m-50 1h2m1 0h1m43 0h1m-3 1h1m-3 1h1m-45 1h1m38 0h1m2 0h1m-40 1h1m36 0h1m-30 1h1m18 0h1m7 0h1m-34 1h1m30 0h1m-3 1h1m-3 1h1m-3 1h1m-3 1h1m-11 7h1"/>
<path stroke="#307efb" d="M0 0m86 0h1m30 0h2m10 0h1m20 0h1m11 0h1m15 0h2m4 0h2m13 0h1m9 0h1m-93 1h2m10 0h1m20 0h1m10 0h1m16 0h1m4 0h2m13 0h2m8 0h1m-91 1h1m10 0h1m19 0h2m10 0h1m15 0h2m4 0h2m13 0h1m8 0h1m-121 1h1m30 0h1m10 0h1m19 0h1m10 0h1m16 0h2m3 0h2m13 0h1m9 0h1m-121 1h1m30 0h1m10 0h1m19 0h1m10 0h1m15 0h2m3 0h2m13 0h2m8 0h1m-89 1h1m9 0h2m19 0h1m9 0h1m16 0h2m2 0h3m13 0h1m8 0h1m-88 1h1m9 0h1m19 0h2m9 0h1m15 0h2m3 0h2m13 0h1m8 0h1m-117 1h1m29 0h1m9 0h1m19 0h1m10 0h1m15 0h2m2 0h2m14 0h1m7 0h1m-86 1h1m9 0h1m19 0h1m9 0h1m15 0h3m1 0h3m13 0h1m7 0h1m-85 1h1m9 0h1m19 0h1m9 0h1m15 0h6m13 0h1m7 0h1m-84 1h1m9 0h1m19 0h1m8 0h1m15 0h6m14 0h1m7 0h1m19 0h1m-133 1h1m28 0h1m8 0h2m18 0h1m9 0h1m15 0h6m13 0h1m7 0h1m19 0h1m-103 1h1m8 0h1m19 0h1m8 0h1m16 0h5m13 0h1m7 0h1m19 0h1m-102 1h1m8 0h1m19 0h1m8 0h1m15 0h5m14 0h1m6 0h1m19 0h1m-101 1h1m8 0h1m19 0h1m24 0h4m14 0h1m6 0h1m19 0h1m-128 1h1m27 0h2m7 0h1m18 0h1m8 0h1m15 0h5m13 0h1m6 0h1m19 0h1m-99 1h2m7 0h1m18 0h1m8 0h1m15 0h4m14 0h1m25 0h1m-98 1h2m7 0h1m18 0h1m7 0h1m15 0h4m14 0h1m6 0h1m18 0h1m-97 1h2m6 0h1m19 0h1m7 0h1m15 0h4m13 0h1m6 0h1m18 0h1m-123 1h1m27 0h1m6 0h1m18 0h1m7 0h1m15 0h4m14 0h1m5 0h1m18 0h1m-94 1h1m6 0h1m18 0h1m7 0h1m15 0h3m14 0h1m5 0h1m18 0h1m-93 1h1m6 0h1m18 0h1m23 0h3m13 0h1m5 0h1m18 0h1m-92 1h1m6 0h1m18 0h1m6 0h1m15 0h3m14 0h1m4 0h1m18 0h1m-118 1h1m26 0h1m6 0h1m17 0h1m7 0h1m15 0h2m14 0h1m5 0h1m17 0h1m-90 1h1m5 0h1m18 0h1m6 0h1m15 0h2m14 0h1m5 0h1m17 0h1m-89 1h1m5 0h1m18 0h1m6 0h1m15 0h2m14 0h1m4 0h1m-70 1h1m5 0h1m18 0h1m5 0h1m16 0h1m14 0h1m4 0h1m-95 1h1m25 0h1m5 0h1m17 0h1m6 0h1m30 0h1m4 0h1m-68 1h1m5 0h1m17 0h1m37 0h1m3 0h1m-67 1h1m5 0h1m17 0h1m5 0h1m30 0h1m-62 1h1m4 0h2m17 0h1m5 0h1m29 0h1m4 0h1m-66 1h1m4 0h1m17 0h1m5 0h1m30 0h1m3 0h1m-65 1h1m4 0h1m17 0h1m5 0h1m29 0h1m3 0h1m-64 1h1m4 0h1m17 0h1m4 0h1m29 0h1m3 0h1m-87 1h1m23 0h1m4 0h1m17 0h1m4 0h1m32 0h1m-62 1h1m4 0h1m51 0h1m2 0h1m-61 1h2m2 0h2m16 0h1m4 0h1m28 0h1m3 0h1m-61 1h2m2 0h1m17 0h1m4 0h1m27 0h2m2 0h1m-83 1h1m22 0h2m2 0h1m17 0h1m3 0h1m28 0h1m2 0h1m-59 1h2m2 0h1m21 0h1m27 0h1m2 0h1m-58 1h2m2 0h1m16 0h1m3 0h1m27 0h2m1 0h1m-56 1h1m1 0h2m16 0h1m3 0h1m27 0h1m1 0h1m-78 1h1m22 0h1m1 0h2m16 0h1m2 0h1m27 0h1m1 0h1m-54 1h3m17 0h1m2 0h1m26 0h4m-54 1h3m16 0h1m30 0h3m-53 1h3m16 0h1m2 0h1m26 0h3m-74 1h1m21 0h3m16 0h1m2 0h1m25 0h3m-51 1h3m16 0h1m1 0h1m26 0h2m-50 1h3m15 0h4m25 0h2m-49 1h2m16 0h3m25 0h3m-49 1h2m16 0h3m25 0h2m-48 1h2m16 0h2m25 0h2m-47 1h2m15 0h3m24 0h2m-46 1h2m15 0h2m25 0h1m-45 1h1m16 0h2m24 0h1m-27 1h1m-1 1h1m-37 1h1m0 4h1m-19 11h1m20 0h1m-22 1h2m-1 1h2m-2 1h3m-2 1h3m-2 1h1m1 0h1m78 0h1m-82 1h1m2 0h1m75 0h4m-82 1h1m2 0h1m73 0h6m-83 1h1m74 0h7m-81 1h1m7 0h2m63 0h7m-79 1h1m6 0h3m62 0h6m-74 1h1m3 0h2m8 0h1m50 0h1m3 0h3m-75 1h1m3 0h1m2 0h3m63 0h1m-69 1h1m1 0h2m-1 1h1m61 0h1m-63 1h1m2 0h1m-5 1h1m1 0h1m57 0h1m-64 1h1m3 0h2m-1 1h2m-1 1h1m50 1h1m-42 2h1m37 0h1m-50 1h1m6 1h1m42 3h1m-53 1h1m49 0h1m-9 1h2m-4 1h3m2 0h1m-44 1h1m35 0h1m-35 2h1m2 0h1m-7 1h1m34 0h1m-33 1h1m1 2h1m2 0h1m15 4h1m-3 1h1m-9 3h1m-3 4h1m4 0h1m-7 2h1"/>
<path stroke="#2e85f8" d="M0 0m116 0h1m13 0h1m18 0h1m13 0h1m13 0h1m8 0h2m9 0h2m11 0h1m19 0h1m-115 1h1m13 0h1m17 0h2m12 0h1m13 0h2m7 0h2m10 0h1m11 0h2m18 0h1m-143 1h1m28 0h2m12 0h1m17 0h1m13 0h1m13 0h1m8 0h2m9 0h2m10 0h2m18 0h1m-113 1h2m12 0h1m17 0h1m12 0h1m13 0h2m7 0h2m10 0h1m11 0h1m18 0h1m-112 1h2m12 0h1m17 0h1m12 0h1m13 0h1m7 0h2m10 0h1m11 0h1m18 0h1m-111 1h2m12 0h1m17 0h1m11 0h1m13 0h2m7 0h1m10 0h2m10 0h1m18 0h1m-138 1h1m27 0h2m11 0h1m17 0h1m12 0h1m13 0h1m7 0h2m10 0h1m10 0h1m18 0h1m-109 1h2m11 0h1m17 0h1m26 0h1m6 0h2m10 0h2m9 0h1m18 0h1m-107 1h1m11 0h1m17 0h1m11 0h1m13 0h1m7 0h1m11 0h1m9 0h1m18 0h1m-106 1h1m11 0h1m17 0h1m11 0h1m13 0h1m6 0h2m10 0h1m9 0h2m17 0h1m-133 1h1m27 0h1m11 0h1m16 0h2m10 0h1m13 0h1m6 0h2m10 0h2m9 0h1m17 0h1m-104 1h1m11 0h1m16 0h1m11 0h1m13 0h1m6 0h1m11 0h1m9 0h1m17 0h1m-103 1h1m10 0h1m17 0h1m10 0h1m13 0h2m5 0h2m10 0h1m9 0h1m-84 1h1m10 0h1m17 0h1m10 0h1m13 0h1m5 0h2m10 0h2m8 0h1m-110 1h1m26 0h1m10 0h1m17 0h1m9 0h1m13 0h2m4 0h2m11 0h1m8 0h1m-82 1h1m10 0h1m16 0h1m10 0h1m13 0h1m5 0h1m11 0h1m8 0h1m-81 1h1m10 0h1m16 0h1m23 0h2m4 0h2m10 0h2m7 0h1m-80 1h1m10 0h1m16 0h1m9 0h1m13 0h1m4 0h2m11 0h1m8 0h1m-106 1h1m25 0h1m9 0h1m17 0h1m9 0h1m12 0h2m4 0h1m11 0h1m8 0h1m-79 1h2m8 0h1m16 0h1m9 0h1m13 0h1m4 0h2m10 0h2m7 0h1m-78 1h2m8 0h1m16 0h1m9 0h1m13 0h1m3 0h2m11 0h1m7 0h1m-77 1h2m8 0h1m16 0h1m8 0h1m13 0h2m3 0h1m11 0h1m7 0h1m-101 1h1m25 0h1m8 0h1m16 0h1m8 0h1m13 0h1m3 0h2m11 0h1m6 0h1m-74 1h1m8 0h1m38 0h2m2 0h2m11 0h1m-66 1h1m7 0h1m16 0h1m8 0h1m13 0h1m2 0h2m11 0h1m7 0h1m-73 1h1m7 0h1m16 0h1m21 0h2m2 0h2m11 0h1m6 0h1m16 0h1m-114 1h1m24 0h1m7 0h1m16 0h1m7 0h1m13 0h2m1 0h2m11 0h1m6 0h1m16 0h1m-88 1h1m7 0h1m24 0h1m12 0h5m11 0h1m6 0h1m16 0h1m-87 1h1m7 0h1m15 0h1m7 0h1m13 0h5m11 0h1m5 0h1m16 0h1m-86 1h1m7 0h1m15 0h1m7 0h1m12 0h5m11 0h1m5 0h1m16 0h1m-109 1h1m23 0h1m23 0h1m20 0h4m11 0h1m22 0h1m-84 1h1m6 0h1m23 0h1m12 0h5m11 0h1m5 0h1m15 0h1m-83 1h1m6 0h1m15 0h1m20 0h4m11 0h1m5 0h1m15 0h1m-82 1h1m6 0h1m15 0h1m6 0h1m13 0h3m11 0h1m5 0h1m15 0h1m-81 1h1m6 0h1m15 0h1m6 0h1m12 0h3m12 0h1m4 0h1m15 0h1m-80 1h1m6 0h1m15 0h1m5 0h1m13 0h3m11 0h1m4 0h1m15 0h1m-79 1h1m6 0h1m14 0h1m6 0h1m12 0h3m11 0h1m20 0h1m-78 1h1m5 0h1m15 0h1m19 0h2m32 0h1m-77 1h1m5 0h1m15 0h1m5 0h1m12 0h3m11 0h1m4 0h1m-61 1h1m5 0h1m15 0h1m18 0h2m11 0h1m4 0h1m-60 1h1m5 0h1m20 0h1m13 0h1m16 0h1m-80 1h1m21 0h1m4 0h1m14 0h1m5 0h1m12 0h1m12 0h1m3 0h1m-57 1h1m4 0h1m14 0h1m4 0h1m25 0h1m3 0h1m-56 1h1m3 0h1m15 0h1m4 0h1m-26 1h1m3 0h1m19 0h1m25 0h1m3 0h1m-76 1h1m20 0h1m3 0h1m14 0h1m4 0h1m24 0h1m3 0h1m-54 1h1m3 0h1m14 0h1m32 0h1m-53 1h1m3 0h1m14 0h1m3 0h1m24 0h1m2 0h1m-52 1h1m3 0h1m42 0h1m2 0h1m-71 1h1m19 0h1m2 0h1m14 0h1m3 0h1m-23 1h1m2 0h1m14 0h1m3 0h1m23 0h1m-47 1h1m2 0h1m14 0h1m2 0h1m23 0h1m2 0h1m-49 1h1m2 0h1m17 0h1m25 0h1m-67 1h1m18 0h1m2 0h1m13 0h1m2 0h1m23 0h1m1 0h1m-47 1h1m1 0h2m13 0h1m2 0h1m22 0h1m1 0h1m-46 1h4m13 0h1m1 0h1m23 0h2m-45 1h3m14 0h1m1 0h1m22 0h2m-44 1h3m13 0h3m22 0h3m-44 1h3m13 0h3m22 0h2m-43 1h3m13 0h3m21 0h2m-42 1h3m13 0h2m21 0h2m-40 1h2m13 0h2m21 0h1m-39 1h1m13 0h2m21 0h1m-38 1h1m13 0h2m20 0h1m-54 1h1m16 0h1m13 0h1m21 0h1m-37 1h1m34 0h1m-52 3h1m-17 9h1m-1 1h2m-1 1h2m16 0h1m-19 1h3m-2 1h3m-2 1h3m67 0h1m-71 1h1m68 0h3m-71 1h1m65 0h6m-72 1h1m2 0h1m4 0h1m56 0h6m-70 1h1m2 0h1m3 0h2m53 0h6m-64 1h1m2 0h2m54 0h4m-59 1h2m54 0h1m-57 1h1m1 0h1m-8 1h1m58 0h1m-56 1h1m1 0h1m-2 1h2m-1 1h2m-1 1h1m-5 7h1m5 0h1m40 0h1m-47 1h1m43 0h1m-44 1h2m34 0h2m2 0h2m-42 1h1m33 0h2m-4 2h1m-33 1h1m30 0h1m-29 1h1m1 0h1m-1 2h1m5 0h1m0 4h1m6 5h1m-3 1h1"/>
<path stroke="#2d8bf4" d="M0 0m87 0h1m26 0h2m15 0h2m14 0h2m15 0h1m11 0h1m11 0h3m4 0h2m14 0h2m14 0h3m-143 1h1m26 0h2m15 0h1m15 0h1m15 0h1m11 0h1m11 0h3m4 0h3m14 0h1m14 0h3m-115 1h2m15 0h1m15 0h1m15 0h1m11 0h1m11 0h2m5 0h2m14 0h1m14 0h3m-114 1h2m15 0h1m15 0h1m14 0h1m11 0h1m11 0h2m5 0h3m13 0h1m14 0h3m-139 1h1m26 0h1m15 0h1m15 0h1m14 0h1m11 0h1m10 0h3m5 0h2m13 0h2m13 0h3m-138 1h1m26 0h1m15 0h1m14 0h2m13 0h1m11 0h1m10 0h3m5 0h2m13 0h2m14 0h2m-110 1h1m14 0h2m14 0h1m14 0h1m11 0h1m10 0h2m6 0h2m12 0h2m14 0h2m-109 1h1m14 0h1m15 0h1m13 0h1m11 0h2m9 0h2m6 0h2m12 0h2m14 0h2m-134 1h1m25 0h2m13 0h1m15 0h1m13 0h1m11 0h1m9 0h2m6 0h3m11 0h2m14 0h2m-133 1h1m25 0h2m13 0h1m15 0h1m24 0h2m9 0h2m6 0h2m12 0h1m14 0h2m-106 1h2m13 0h1m14 0h1m13 0h1m11 0h1m9 0h2m6 0h2m12 0h1m15 0h1m-105 1h2m13 0h1m14 0h1m13 0h1m11 0h1m8 0h2m7 0h2m11 0h1m15 0h1m-129 1h1m24 0h2m12 0h1m15 0h1m12 0h1m11 0h1m9 0h1m7 0h2m11 0h1m15 0h2m-129 1h1m24 0h2m12 0h1m15 0h1m12 0h1m11 0h1m8 0h2m7 0h1m11 0h1m15 0h2m-102 1h1m12 0h1m14 0h2m11 0h1m11 0h1m8 0h2m7 0h2m10 0h1m15 0h2m-101 1h1m12 0h1m14 0h1m12 0h1m11 0h1m7 0h2m7 0h2m10 0h2m15 0h1m-100 1h1m12 0h1m14 0h1m11 0h1m11 0h1m8 0h2m7 0h1m10 0h2m15 0h1m-124 1h1m24 0h1m12 0h1m14 0h1m11 0h1m11 0h1m7 0h2m7 0h2m10 0h1m15 0h1m-98 1h1m11 0h1m15 0h1m22 0h1m7 0h2m8 0h1m10 0h1m15 0h1m-97 1h1m11 0h1m14 0h1m11 0h1m11 0h1m7 0h1m8 0h1m10 0h1m15 0h1m-96 1h1m11 0h1m14 0h1m11 0h1m10 0h2m6 0h2m7 0h2m9 0h1m15 0h1m-119 1h1m23 0h1m11 0h1m14 0h1m10 0h1m11 0h1m6 0h2m8 0h1m9 0h1m15 0h1m-94 1h2m10 0h1m14 0h1m10 0h1m10 0h2m6 0h1m8 0h2m8 0h1m15 0h1m-93 1h2m10 0h1m14 0h1m9 0h1m11 0h1m6 0h2m8 0h1m8 0h1m15 0h1m-92 1h2m9 0h1m14 0h1m10 0h1m11 0h1m5 0h2m8 0h1m9 0h1m14 0h1m-114 1h1m23 0h1m9 0h1m14 0h1m9 0h1m11 0h1m6 0h1m8 0h2m8 0h1m14 0h1m-89 1h1m9 0h1m14 0h1m9 0h1m11 0h1m5 0h1m9 0h1m8 0h1m-73 1h1m9 0h1m14 0h1m20 0h1m5 0h2m8 0h1m8 0h1m-72 1h1m9 0h1m13 0h1m9 0h1m11 0h1m5 0h1m8 0h2m7 0h1m-94 1h1m22 0h1m9 0h1m13 0h1m20 0h1m5 0h1m9 0h1m7 0h1m-70 1h1m8 0h1m14 0h1m8 0h1m11 0h1m4 0h2m8 0h1m7 0h1m-69 1h1m8 0h1m14 0h1m8 0h1m10 0h1m5 0h1m9 0h1m-61 1h1m8 0h1m22 0h1m11 0h1m4 0h1m9 0h1m7 0h1m-90 1h1m21 0h1m8 0h1m13 0h1m8 0h1m10 0h2m3 0h2m8 0h1m7 0h1m-67 1h1m8 0h1m13 0h1m19 0h1m3 0h2m9 0h1m6 0h1m-66 1h1m22 0h1m7 0h1m10 0h2m3 0h1m9 0h1m6 0h1m-65 1h1m41 0h1m3 0h2m8 0h1m6 0h1m-85 1h1m20 0h1m7 0h1m13 0h1m7 0h1m11 0h1m2 0h2m9 0h1m5 0h1m-63 1h1m7 0h1m13 0h1m7 0h1m10 0h1m3 0h1m9 0h1m20 0h1m-77 1h1m7 0h1m13 0h1m6 0h1m11 0h1m2 0h2m8 0h1m6 0h1m13 0h1m-68 1h1m13 0h1m6 0h1m10 0h2m1 0h2m9 0h1m5 0h1m13 0h1m-74 1h1m6 0h1m31 0h1m1 0h2m9 0h1m5 0h1m13 0h1m-73 1h1m19 0h1m6 0h1m10 0h4m9 0h1m5 0h1m13 0h1m-72 1h1m5 0h1m13 0h1m17 0h4m9 0h1m4 0h1m13 0h1m-71 1h1m5 0h1m13 0h1m5 0h1m10 0h4m9 0h1m18 0h1m-70 1h1m5 0h1m30 0h3m9 0h1m18 0h1m-69 1h1m5 0h1m12 0h1m5 0h1m10 0h4m9 0h1m4 0h1m12 0h1m-68 1h1m5 0h1m12 0h1m5 0h1m10 0h3m9 0h1m4 0h1m12 0h1m-67 1h1m18 0h1m4 0h1m11 0h2m14 0h1m12 0h1m-66 1h1m4 0h1m18 0h1m10 0h3m9 0h1m3 0h1m-52 1h1m4 0h1m12 0h1m16 0h2m9 0h1m3 0h1m-51 1h1m4 0h1m12 0h1m4 0h1m10 0h2m-54 1h1m17 0h1m4 0h1m12 0h1m15 0h1m10 0h1m-46 1h1m4 0h1m16 0h1m11 0h1m9 0h1m3 0h1m-49 1h1m16 0h1m29 0h1m-48 1h1m16 0h1m3 0h1m21 0h1m2 0h1m-64 1h1m16 0h1m3 0h1m12 0h1m3 0h1m20 0h1m2 0h1m-46 1h1m3 0h1m15 0h1m-21 1h1m3 0h1m15 0h1m20 0h1m-38 1h1m11 0h1m23 0h1m2 0h1m-60 1h1m31 0h1m2 0h1m19 0h1m2 0h1m-42 1h1m14 0h1m22 0h1m1 0h1m-41 1h1m1 0h1m14 0h1m19 0h1m1 0h1m-40 1h1m1 0h1m11 0h1m21 0h1m1 0h1m-39 1h1m1 0h1m11 0h1m1 0h1m19 0h1m-37 1h1m1 0h1m11 0h3m18 0h1m-36 1h3m11 0h2m18 0h3m-37 1h2m12 0h2m18 0h2m-36 1h2m11 0h2m18 0h2m-35 1h2m11 0h2m17 0h2m-34 1h2m11 0h1m18 0h1m-33 1h2m29 0h1m-32 1h2m28 0h1m-31 1h1m29 0h1m-31 1h1m28 0h1m-43 1h1m-15 8h2m-1 1h2m-2 1h2m-1 1h2m-2 1h1m1 0h1m57 0h2m-61 1h1m1 0h1m55 0h4m-59 1h1m3 0h1m48 0h6m-58 1h1m2 0h2m6 0h1m39 0h5m-58 1h1m5 0h2m46 0h3m-51 1h2m42 0h1m-44 2h1m-2 1h2m-1 1h1m3 2h1m4 3h1m-12 3h2m35 0h2m-38 1h1m29 0h2m2 0h2m-34 2h1m23 0h1m-27 1h1m5 0h1m-4 1h1m1 2h1m8 9h1m-7 2h1"/>
<path stroke="#2b91ef" d="M0 0m112 0h2m19 0h1m12 0h1m18 0h1m8 0h2m15 0h4m18 0h4m4 0h6m-139 1h1m23 0h2m18 0h2m12 0h1m17 0h1m9 0h1m15 0h4m18 0h4m5 0h5m-138 1h1m23 0h2m18 0h2m12 0h1m17 0h1m8 0h2m14 0h5m17 0h4m5 0h5m-137 1h1m23 0h2m18 0h1m12 0h2m16 0h1m9 0h1m14 0h5m17 0h4m5 0h5m-112 1h3m17 0h1m12 0h2m16 0h1m8 0h2m14 0h5m17 0h2m7 0h4m-110 1h2m17 0h1m12 0h1m16 0h1m9 0h1m14 0h5m17 0h2m7 0h5m-134 1h1m23 0h2m17 0h1m12 0h1m16 0h1m9 0h1m13 0h6m16 0h2m8 0h4m-133 1h1m23 0h2m16 0h2m12 0h1m15 0h1m9 0h1m13 0h6m16 0h2m8 0h4m-108 1h2m16 0h1m12 0h2m15 0h1m9 0h1m12 0h6m16 0h2m8 0h4m-107 1h2m16 0h1m12 0h2m14 0h2m8 0h1m13 0h6m15 0h2m9 0h3m-129 1h1m22 0h2m16 0h1m12 0h1m15 0h1m9 0h1m12 0h6m15 0h2m9 0h4m-129 1h1m22 0h2m16 0h1m12 0h1m15 0h1m8 0h2m11 0h7m14 0h2m9 0h4m-104 1h1m15 0h2m12 0h1m14 0h1m9 0h1m11 0h7m14 0h2m9 0h4m-103 1h1m15 0h1m12 0h2m14 0h1m8 0h2m11 0h7m13 0h2m10 0h3m-102 1h2m14 0h1m12 0h1m14 0h1m9 0h1m11 0h7m13 0h2m10 0h3m-124 1h1m22 0h2m14 0h1m12 0h1m14 0h1m9 0h1m10 0h7m14 0h1m10 0h4m-124 1h1m22 0h2m14 0h1m12 0h1m13 0h1m9 0h1m11 0h7m13 0h1m10 0h4m-100 1h2m14 0h1m12 0h1m13 0h1m9 0h1m10 0h7m13 0h1m11 0h3m-99 1h2m13 0h1m12 0h2m12 0h1m9 0h1m10 0h3m1 0h4m12 0h2m10 0h3m-120 1h1m21 0h2m13 0h1m12 0h1m13 0h1m9 0h1m9 0h3m2 0h3m12 0h2m10 0h3m-119 1h1m22 0h1m13 0h1m12 0h1m22 0h1m10 0h2m3 0h2m12 0h2m10 0h3m-95 1h1m13 0h1m12 0h1m12 0h1m9 0h1m9 0h2m3 0h3m11 0h2m11 0h2m-94 1h1m13 0h1m12 0h1m21 0h1m9 0h3m3 0h2m11 0h2m11 0h2m-115 1h1m21 0h1m13 0h1m11 0h2m11 0h1m9 0h1m9 0h2m3 0h3m10 0h2m11 0h2m-114 1h1m21 0h1m12 0h1m12 0h1m12 0h1m9 0h1m8 0h2m4 0h2m11 0h1m11 0h2m-91 1h2m11 0h1m12 0h1m11 0h1m9 0h1m8 0h2m4 0h2m11 0h1m11 0h2m-90 1h2m11 0h1m12 0h1m11 0h1m9 0h1m7 0h2m5 0h2m10 0h1m12 0h2m-111 1h1m20 0h2m11 0h1m12 0h1m10 0h1m9 0h1m8 0h2m4 0h2m10 0h1m12 0h2m-110 1h1m20 0h2m11 0h1m11 0h1m11 0h1m9 0h1m7 0h2m5 0h1m10 0h1m12 0h2m-87 1h1m23 0h1m10 0h1m9 0h1m7 0h2m5 0h2m9 0h1m12 0h2m-86 1h1m10 0h1m12 0h1m10 0h1m9 0h1m7 0h1m6 0h1m9 0h1m12 0h2m-85 1h1m10 0h1m12 0h1m19 0h1m7 0h2m5 0h2m8 0h2m12 0h1m-105 1h1m20 0h1m10 0h1m12 0h1m9 0h1m9 0h1m6 0h2m6 0h1m9 0h1m12 0h1m-83 1h1m10 0h1m11 0h1m19 0h1m7 0h1m6 0h1m9 0h1m12 0h1m-82 1h1m10 0h1m11 0h1m9 0h1m9 0h1m6 0h1m6 0h2m8 0h1m12 0h1m-81 1h1m9 0h1m12 0h1m9 0h1m15 0h2m6 0h1m8 0h1m12 0h1m-100 1h1m19 0h1m9 0h1m12 0h1m8 0h1m9 0h1m6 0h1m6 0h1m8 0h1m12 0h1m-79 1h1m9 0h1m21 0h1m9 0h1m5 0h1m7 0h1m7 0h1m12 0h1m-78 1h1m9 0h1m11 0h1m18 0h1m5 0h2m6 0h1m7 0h1m-64 1h1m9 0h1m11 0h1m8 0h1m9 0h1m5 0h1m6 0h1m-74 1h1m19 0h1m20 0h1m17 0h1m5 0h1m7 0h1m7 0h1m-62 1h1m20 0h1m7 0h1m9 0h1m4 0h1m7 0h1m7 0h1m-61 1h1m7 0h1m29 0h1m4 0h2m6 0h1m7 0h1m-60 1h1m7 0h1m11 0h1m7 0h1m9 0h1m4 0h1m7 0h1m6 0h1m-78 1h1m18 0h1m7 0h1m11 0h1m16 0h1m4 0h1m7 0h1m6 0h1m-58 1h1m7 0h1m11 0h1m6 0h1m9 0h1m3 0h2m13 0h1m-57 1h1m26 0h1m13 0h1m7 0h1m-50 1h1m18 0h1m16 0h1m3 0h1m7 0h1m-67 1h1m17 0h1m6 0h1m11 0h1m6 0h1m9 0h1m2 0h2m7 0h1m5 0h1m-55 1h1m6 0h1m11 0h1m15 0h1m3 0h1m7 0h1m5 0h1m11 0h1m-66 1h1m6 0h1m17 0h1m9 0h1m2 0h1m7 0h1m5 0h1m11 0h1m-65 1h1m6 0h1m26 0h1m2 0h1m8 0h1m4 0h1m11 0h1m-64 1h1m17 0h1m5 0h1m9 0h1m1 0h2m7 0h1m4 0h1m11 0h1m-63 1h1m17 0h1m14 0h2m1 0h1m7 0h1m16 0h1m-56 1h1m16 0h1m9 0h3m8 0h1m15 0h1m-55 1h1m16 0h1m8 0h4m7 0h1m4 0h1m10 0h1m-54 1h1m10 0h1m14 0h3m12 0h1m10 0h1m-53 1h1m10 0h1m4 0h1m9 0h2m8 0h1m3 0h1m10 0h1m-41 1h1m13 0h3m7 0h1m3 0h1m-45 1h1m19 0h1m9 0h2m-32 1h1m3 0h1m10 0h1m13 0h2m-31 1h1m3 0h1m10 0h1m3 0h1m9 0h1m8 0h1m-39 1h1m3 0h1m10 0h1m13 0h1m11 0h1m-57 1h1m14 0h1m3 0h1m13 0h1m9 0h1m11 0h1m-41 1h1m17 0h1m17 0h1m2 0h1m-40 1h1m13 0h1m23 0h1m-39 1h1m13 0h1m2 0h1m-32 1h1m13 0h1m2 0h1m10 0h1m19 0h1m-35 1h1m2 0h1m12 0h1m-17 1h1m2 0h1m9 0h1m21 0h1m-36 1h1m2 0h1m9 0h1m1 0h1m16 0h1m1 0h1m-48 1h1m12 0h1m12 0h2m18 0h1m-34 1h1m12 0h2m17 0h1m-33 1h1m1 0h1m10 0h1m16 0h1m-29 1h1m9 0h2m-13 1h2m9 0h1m16 0h2m-30 1h2m9 0h1m15 0h2m-29 1h1m26 0h1m-28 1h1m25 0h1m-2 1h1m-36 7h1m-15 1h1m0 1h1m-1 1h2m-1 1h2m0 1h1m49 0h2m-53 1h1m1 0h1m47 0h4m-53 1h1m1 0h1m2 0h2m40 0h5m-49 1h1m2 0h1m40 0h3m-44 1h2m36 0h1m3 0h1m-47 1h1m3 0h1m-1 1h2m-1 1h1m32 0h1m-31 2h1m25 1h1m-5 3h1m-28 1h1m-1 1h1m1 0h1m25 0h1m2 0h2m-3 1h1m-5 1h1m-26 1h1m2 1h1m1 2h1m10 3h1m-2 2h1m-8 1h1m2 2h1m-5 1h1"/>
<path stroke="#2797eb" d="M0 0m88 0h4m17 0h3m22 0h2m8 0h2m20 0h1m5 0h2m43 0h4m-132 1h3m17 0h3m22 0h1m9 0h2m19 0h2m5 0h2m42 0h5m-132 1h3m17 0h3m22 0h1m9 0h2m19 0h1m6 0h1m42 0h5m-131 1h3m18 0h2m21 0h2m9 0h1m19 0h2m5 0h2m41 0h5m-130 1h3m18 0h2m21 0h2m8 0h2m19 0h1m6 0h1m40 0h7m-130 1h3m18 0h3m20 0h1m9 0h2m18 0h2m5 0h2m39 0h7m-128 1h3m17 0h3m20 0h1m9 0h2m18 0h1m6 0h2m38 0h8m-128 1h3m17 0h3m20 0h1m9 0h2m17 0h2m6 0h1m38 0h8m-127 1h3m18 0h2m19 0h2m9 0h1m18 0h1m6 0h2m37 0h8m-126 1h3m18 0h2m19 0h2m9 0h1m18 0h1m6 0h1m37 0h9m-125 1h2m18 0h2m19 0h1m9 0h2m17 0h1m6 0h2m36 0h9m-124 1h2m18 0h2m19 0h1m9 0h2m17 0h1m6 0h1m36 0h9m-123 1h2m18 0h3m18 0h1m9 0h2m16 0h1m7 0h1m35 0h9m-122 1h2m18 0h3m17 0h2m9 0h1m17 0h1m6 0h1m35 0h10m-122 1h2m19 0h2m17 0h1m10 0h1m16 0h1m7 0h1m34 0h10m-120 1h1m19 0h2m17 0h1m10 0h1m16 0h1m6 0h2m33 0h10m-119 1h1m19 0h2m17 0h1m9 0h2m15 0h1m7 0h1m33 0h10m-118 1h1m19 0h2m17 0h1m9 0h2m15 0h1m6 0h2m32 0h11m-118 1h2m18 0h2m16 0h2m9 0h1m15 0h1m7 0h1m14 0h1m18 0h10m-116 1h1m18 0h2m16 0h1m10 0h1m15 0h1m7 0h1m13 0h2m17 0h10m-115 1h1m19 0h2m15 0h1m10 0h1m14 0h1m7 0h1m13 0h3m16 0h4m1 0h5m-114 1h1m19 0h2m15 0h1m10 0h1m14 0h1m7 0h1m12 0h3m16 0h3m3 0h5m-114 1h1m19 0h2m15 0h1m9 0h2m13 0h1m7 0h1m13 0h3m15 0h3m3 0h5m-93 1h2m15 0h1m9 0h1m14 0h1m7 0h1m12 0h3m15 0h3m4 0h4m-92 1h2m14 0h1m10 0h1m21 0h2m11 0h4m14 0h3m4 0h4m-110 1h1m18 0h2m14 0h1m10 0h1m13 0h1m7 0h1m11 0h4m14 0h2m6 0h3m-109 1h1m19 0h1m14 0h1m10 0h1m13 0h1m7 0h1m10 0h5m13 0h2m6 0h4m-89 1h1m14 0h1m10 0h1m12 0h1m7 0h1m11 0h4m13 0h2m6 0h4m-88 1h1m14 0h1m9 0h1m13 0h1m7 0h1m10 0h5m12 0h2m7 0h3m-87 1h2m12 0h1m10 0h1m12 0h1m7 0h1m10 0h5m12 0h2m7 0h3m-105 1h1m18 0h2m12 0h1m10 0h1m12 0h1m7 0h1m9 0h6m11 0h2m7 0h3m-104 1h1m18 0h2m12 0h1m10 0h1m11 0h1m7 0h1m10 0h5m12 0h1m8 0h3m-85 1h2m12 0h1m10 0h1m11 0h1m7 0h1m9 0h6m11 0h1m8 0h3m-84 1h2m12 0h1m9 0h1m11 0h1m17 0h6m11 0h1m8 0h3m-101 1h1m18 0h1m22 0h1m11 0h1m7 0h1m8 0h6m11 0h1m8 0h3m-100 1h1m18 0h1m11 0h1m10 0h1m19 0h1m8 0h6m10 0h1m9 0h2m-80 1h1m11 0h1m10 0h1m10 0h1m7 0h1m8 0h3m1 0h2m10 0h1m9 0h2m-79 1h1m11 0h1m10 0h1m18 0h1m7 0h2m2 0h3m9 0h2m8 0h2m-96 1h1m17 0h1m11 0h1m9 0h1m10 0h1m7 0h1m8 0h2m2 0h2m9 0h2m8 0h3m-96 1h1m17 0h1m21 0h1m18 0h1m7 0h2m2 0h2m9 0h2m9 0h2m-77 1h2m9 0h1m10 0h1m9 0h1m7 0h1m7 0h2m3 0h2m9 0h1m9 0h2m-76 1h2m9 0h1m10 0h1m9 0h1m7 0h1m6 0h2m3 0h2m9 0h1m9 0h2m-74 1h1m9 0h1m10 0h1m8 0h1m7 0h1m7 0h1m4 0h1m9 0h1m9 0h2m-91 1h1m17 0h1m9 0h1m9 0h1m9 0h1m7 0h1m6 0h2m3 0h2m8 0h1m9 0h2m-72 1h1m9 0h1m9 0h1m8 0h1m14 0h2m4 0h1m8 0h1m10 0h1m-71 1h1m19 0h1m8 0h1m7 0h1m6 0h1m4 0h2m7 0h1m10 0h1m-70 1h1m8 0h1m10 0h1m16 0h1m5 0h1m5 0h1m7 0h1m10 0h1m-86 1h1m16 0h1m8 0h1m18 0h1m7 0h1m5 0h2m4 0h1m7 0h1m10 0h1m-68 1h1m8 0h1m9 0h1m16 0h1m5 0h1m5 0h1m17 0h1m-67 1h1m8 0h1m9 0h1m7 0h1m7 0h1m5 0h1m5 0h1m7 0h1m-56 1h1m18 0h1m15 0h1m4 0h1m5 0h1m7 0h1m-71 1h1m15 0h1m18 0h1m6 0h1m7 0h1m4 0h2m5 0h1m6 0h1m-46 1h1m25 0h1m4 0h1m5 0h1m6 0h1m-45 1h1m9 0h1m6 0h1m12 0h1m12 0h1m-51 1h1m6 0h1m9 0h1m6 0h1m7 0h1m3 0h1m6 0h1m5 0h1m-66 1h1m15 0h1m6 0h1m9 0h1m18 0h1m5 0h1m-43 1h1m22 0h1m7 0h1m3 0h1m6 0h1m-43 1h1m30 0h1m2 0h1m6 0h1m-42 1h1m5 0h1m9 0h1m5 0h1m7 0h1m3 0h1m5 0h1m5 0h1m9 0h1m-72 1h1m14 0h1m5 0h1m9 0h1m13 0h1m2 0h1m6 0h1m4 0h1m9 0h1m-56 1h1m5 0h1m14 0h1m7 0h1m2 0h1m6 0h1m4 0h1m9 0h1m-55 1h1m5 0h1m22 0h1m1 0h2m10 0h1m9 0h1m-54 1h1m14 0h1m4 0h1m7 0h2m1 0h1m6 0h1m13 0h1m-53 1h1m14 0h1m12 0h1m1 0h1m6 0h1m13 0h1m-52 1h1m4 0h1m9 0h1m12 0h2m20 0h1m-51 1h1m4 0h1m13 0h1m7 0h3m6 0h1m3 0h1m8 0h1m-45 1h1m21 0h2m6 0h1m3 0h1m-35 1h1m8 0h1m3 0h1m7 0h2m10 0h1m-25 1h1m11 0h2m6 0h1m2 0h1m-21 1h1m8 0h1m6 0h1m-9 1h1m-22 1h1m8 0h1m2 0h1m15 0h1m-29 1h1m8 0h1m17 0h1m2 0h1m-31 1h1m8 0h1m1 0h1m17 0h1m-33 1h1m28 0h1m1 0h1m-32 1h1m12 0h1m14 0h1m-29 1h1m10 0h1m1 0h1m-14 1h1m1 0h1m8 0h2m14 0h1m-28 1h1m1 0h1m8 0h1m14 0h1m-27 1h2m9 0h1m15 0h1m-27 1h1m23 0h2m-26 1h1m22 0h2m-36 1h1m10 0h1m22 0h1m-2 1h1m-2 1h1m-43 7h1m0 1h1m0 1h1m-1 1h1m44 0h1m-2 1h3m-44 1h1m2 0h1m35 0h4m-44 1h1m1 0h1m2 0h1m34 0h3m-40 1h1m1 0h1m34 0h1m-37 1h2m-1 1h1m-3 6h1m24 1h2m1 0h1m-2 1h1m-5 1h1m1 0h1m-24 1h1m12 6h1m-1 2h1m-9 2h1"/>
<path stroke="#259de7" d="M0 0m92 0h4m10 0h3m27 0h2m3 0h3m23 0h5m-80 1h4m10 0h3m26 0h3m3 0h3m23 0h5m-80 1h4m10 0h3m26 0h2m4 0h3m22 0h6m-80 1h4m10 0h4m25 0h2m4 0h3m22 0h5m-79 1h4m11 0h3m25 0h2m4 0h2m22 0h6m-79 1h4m11 0h3m24 0h2m5 0h2m22 0h5m-77 1h3m11 0h3m24 0h2m5 0h2m21 0h6m-77 1h3m11 0h3m24 0h2m5 0h2m21 0h6m-77 1h3m12 0h3m23 0h2m5 0h2m20 0h3m1 0h2m-76 1h3m12 0h3m23 0h1m6 0h2m20 0h2m1 0h3m-76 1h3m12 0h3m22 0h2m5 0h2m20 0h2m2 0h2m-75 1h3m12 0h3m22 0h2m5 0h2m20 0h2m2 0h2m-75 1h3m13 0h2m22 0h2m5 0h2m19 0h2m3 0h2m-75 1h3m13 0h2m22 0h1m6 0h2m19 0h2m2 0h2m-74 1h3m13 0h3m20 0h2m6 0h2m18 0h2m3 0h2m-74 1h3m13 0h3m20 0h2m6 0h2m18 0h1m4 0h1m-73 1h3m13 0h3m20 0h2m6 0h1m18 0h2m3 0h2m-73 1h4m13 0h2m20 0h1m7 0h1m18 0h1m4 0h1m-71 1h3m13 0h2m20 0h1m7 0h1m17 0h2m4 0h1m-71 1h3m13 0h2m19 0h2m6 0h2m17 0h1m4 0h2m-71 1h3m13 0h3m18 0h2m6 0h2m16 0h2m4 0h1m37 0h1m-108 1h3m13 0h3m18 0h1m7 0h2m16 0h1m4 0h2m35 0h3m-108 1h3m14 0h2m18 0h1m7 0h1m16 0h2m4 0h1m35 0h3m-107 1h3m14 0h2m18 0h1m7 0h1m16 0h1m5 0h1m34 0h4m-107 1h3m14 0h2m17 0h2m7 0h1m15 0h2m4 0h1m34 0h4m-105 1h2m14 0h2m17 0h1m8 0h1m15 0h1m5 0h1m32 0h6m-105 1h2m14 0h3m16 0h1m7 0h2m15 0h1m4 0h2m31 0h6m-104 1h2m15 0h2m16 0h1m7 0h2m14 0h1m5 0h1m31 0h6m-103 1h2m15 0h2m16 0h1m7 0h1m15 0h1m5 0h1m30 0h7m-103 1h2m15 0h2m15 0h1m8 0h1m14 0h1m5 0h1m30 0h7m-101 1h2m14 0h2m15 0h1m8 0h1m14 0h1m5 0h1m29 0h7m-100 1h2m14 0h2m15 0h1m8 0h1m13 0h1m5 0h1m29 0h8m-100 1h2m14 0h2m15 0h1m7 0h2m13 0h1m5 0h1m28 0h8m-99 1h2m15 0h1m15 0h1m7 0h1m13 0h1m5 0h2m27 0h8m-97 1h1m15 0h2m13 0h1m8 0h1m13 0h1m5 0h1m27 0h8m-96 1h1m15 0h2m13 0h1m8 0h1m12 0h1m6 0h1m26 0h9m-96 1h1m15 0h2m13 0h1m8 0h1m12 0h1m5 0h1m12 0h1m13 0h9m-95 1h1m15 0h2m13 0h1m8 0h1m11 0h1m6 0h1m10 0h2m14 0h8m-78 1h2m13 0h1m7 0h1m12 0h1m5 0h1m11 0h2m13 0h3m1 0h4m-76 1h1m12 0h1m8 0h1m11 0h1m6 0h1m10 0h2m13 0h2m3 0h4m-76 1h1m12 0h1m8 0h1m11 0h1m5 0h1m10 0h3m12 0h2m3 0h4m-91 1h1m15 0h1m12 0h1m8 0h1m17 0h1m9 0h3m12 0h2m4 0h3m-90 1h1m15 0h2m11 0h1m8 0h1m10 0h1m15 0h4m11 0h2m4 0h3m-73 1h2m11 0h1m25 0h1m9 0h3m11 0h2m4 0h3m-72 1h2m19 0h1m10 0h1m6 0h1m8 0h4m10 0h2m5 0h3m-87 1h1m15 0h1m10 0h1m8 0h1m16 0h1m8 0h4m10 0h2m5 0h3m-86 1h1m15 0h1m10 0h1m8 0h1m9 0h1m6 0h1m7 0h5m9 0h2m5 0h3m-69 1h1m10 0h1m8 0h1m15 0h1m8 0h4m9 0h2m6 0h2m-68 1h1m10 0h1m17 0h1m6 0h1m7 0h5m8 0h2m6 0h2m-67 1h1m18 0h1m23 0h5m9 0h1m6 0h3m-82 1h1m14 0h1m9 0h1m8 0h1m8 0h1m6 0h1m6 0h5m9 0h1m6 0h3m-66 1h1m9 0h1m8 0h1m8 0h1m13 0h2m1 0h2m8 0h1m7 0h2m-65 1h2m8 0h1m8 0h1m7 0h1m6 0h1m6 0h2m1 0h2m8 0h1m7 0h2m-63 1h1m8 0h1m16 0h1m6 0h1m5 0h2m2 0h2m7 0h1m7 0h2m-77 1h1m14 0h1m16 0h1m14 0h1m5 0h2m3 0h1m7 0h1m7 0h2m-61 1h1m16 0h1m7 0h1m6 0h1m5 0h1m3 0h1m7 0h1m8 0h1m-60 1h1m7 0h1m8 0h1m13 0h1m5 0h1m3 0h2m6 0h1m8 0h1m-59 1h1m7 0h1m8 0h1m6 0h1m6 0h1m4 0h2m3 0h1m6 0h1m8 0h1m-72 1h1m13 0h1m7 0h1m27 0h1m3 0h1m15 0h1m-57 1h1m15 0h1m6 0h1m6 0h1m4 0h1m4 0h1m6 0h1m7 0h1m-56 1h1m15 0h1m17 0h1m4 0h1m6 0h1m-47 1h1m15 0h1m5 0h1m6 0h1m4 0h1m4 0h1m5 0h1m-59 1h1m12 0h1m6 0h1m25 0h1m4 0h1m5 0h1m-38 1h1m13 0h1m6 0h1m3 0h1m4 0h1m5 0h1m-37 1h1m7 0h1m5 0h1m6 0h1m2 0h1m5 0h1m4 0h1m-28 1h1m11 0h1m3 0h1m4 0h1m-49 1h1m12 0h1m13 0h1m4 0h1m6 0h1m2 0h1m18 0h1m-49 1h1m27 0h1m5 0h1m12 0h1m-48 1h1m4 0h1m12 0h1m6 0h1m2 0h1m4 0h1m4 0h1m7 0h1m-47 1h1m4 0h1m7 0h1m11 0h1m1 0h1m9 0h1m7 0h1m-58 1h1m11 0h1m4 0h1m7 0h1m3 0h1m6 0h1m1 0h1m5 0h1m3 0h1m7 0h1m-45 1h1m23 0h2m5 0h1m3 0h1m7 0h1m-44 1h1m15 0h1m6 0h3m-26 1h1m22 0h2m5 0h1m-42 1h1m10 0h1m3 0h1m7 0h1m2 0h1m7 0h1m-24 1h1m3 0h1m7 0h1m9 0h1m-19 1h1m17 0h1m5 0h1m2 0h1m-2 1h1m-41 1h1m22 0h1m15 0h1m-27 1h1m7 0h1m14 0h1m-26 1h1m1 0h1m7 0h2m-12 1h1m1 0h1m7 0h1m-11 1h1m22 0h1m-24 1h2m22 0h1m-25 1h2m21 0h1m-23 1h1m19 0h2m-2 1h1m-2 1h1m-2 1h1m-37 6h1m-1 1h2m-1 1h1m9 1h1m28 0h1m-39 1h1m36 0h2m-34 1h1m29 0h4m-34 1h1m29 0h2m-32 1h1m29 0h1m-33 1h1m3 0h1m24 1h1m-4 2h1m-27 2h2m-1 1h1m3 0h1m16 0h2m1 0h1m-24 1h1m1 0h1m-2 1h1m18 0h1m-20 1h1m3 0h1m9 0h1m2 0h1m-15 2h1m5 6h1m-6 1h1"/>
<path stroke="#21a3e4" d="M0 0m96 0h10m32 0h3m-45 1h10m32 0h3m-45 1h10m31 0h4m-45 1h10m31 0h4m-45 1h11m30 0h4m-45 1h11m29 0h5m-45 1h11m29 0h5m-45 1h11m29 0h5m-45 1h12m28 0h5m25 0h1m-71 1h12m27 0h6m24 0h1m-70 1h5m2 0h5m27 0h5m24 0h2m-70 1h5m3 0h4m27 0h5m24 0h2m-70 1h4m4 0h5m26 0h5m23 0h3m-70 1h4m5 0h4m25 0h6m23 0h2m-69 1h4m5 0h4m25 0h6m22 0h3m-69 1h4m6 0h3m25 0h6m21 0h4m-69 1h4m6 0h3m25 0h6m21 0h3m-67 1h3m6 0h4m23 0h7m20 0h4m-67 1h3m7 0h3m23 0h7m20 0h4m-67 1h3m7 0h3m23 0h6m20 0h4m-66 1h3m7 0h3m23 0h2m2 0h2m20 0h4m-66 1h3m7 0h3m22 0h3m2 0h2m19 0h4m-65 1h3m8 0h3m21 0h2m3 0h2m19 0h4m-65 1h3m8 0h3m21 0h2m3 0h2m18 0h5m-65 1h3m8 0h3m21 0h1m4 0h2m18 0h4m-64 1h3m9 0h2m20 0h2m4 0h2m17 0h5m-64 1h3m9 0h2m20 0h2m3 0h2m18 0h4m-63 1h3m9 0h3m19 0h2m3 0h2m17 0h5m-63 1h3m9 0h3m19 0h1m4 0h2m17 0h5m-63 1h3m10 0h2m18 0h2m4 0h2m16 0h2m1 0h2m-61 1h2m10 0h2m18 0h2m4 0h2m16 0h1m2 0h2m-61 1h2m10 0h2m18 0h1m5 0h2m15 0h2m2 0h1m-60 1h2m10 0h2m18 0h1m5 0h1m16 0h1m2 0h2m-60 1h2m10 0h3m17 0h1m5 0h1m15 0h2m2 0h1m-59 1h2m11 0h2m16 0h2m5 0h1m15 0h1m3 0h1m-59 1h3m10 0h2m16 0h1m5 0h2m14 0h1m3 0h2m-59 1h3m10 0h2m16 0h1m5 0h2m14 0h1m3 0h1m-58 1h3m10 0h2m16 0h1m5 0h2m13 0h1m4 0h1m-58 1h3m11 0h1m16 0h1m5 0h1m14 0h1m3 0h1m30 0h1m-88 1h3m11 0h2m14 0h1m6 0h1m13 0h1m4 0h1m28 0h3m-88 1h3m11 0h2m14 0h1m6 0h1m13 0h1m3 0h1m28 0h3m-86 1h2m11 0h2m14 0h1m6 0h1m12 0h1m4 0h1m27 0h4m-86 1h2m11 0h2m14 0h1m6 0h1m12 0h1m4 0h1m26 0h4m-85 1h2m12 0h1m14 0h1m5 0h2m11 0h1m4 0h1m26 0h4m-84 1h2m12 0h1m13 0h1m6 0h1m12 0h1m4 0h1m25 0h5m-83 1h1m12 0h2m12 0h1m6 0h1m11 0h1m4 0h1m25 0h5m-82 1h1m12 0h2m12 0h1m6 0h1m11 0h1m4 0h1m24 0h5m-81 1h1m12 0h2m12 0h1m6 0h1m10 0h1m29 0h6m-81 1h2m11 0h2m19 0h1m10 0h1m4 0h1m23 0h6m-80 1h2m12 0h1m11 0h1m6 0h1m10 0h1m5 0h1m22 0h6m-78 1h1m12 0h1m11 0h1m6 0h1m10 0h1m4 0h1m22 0h6m-77 1h1m12 0h1m11 0h1m6 0h1m15 0h1m9 0h1m11 0h7m-77 1h1m12 0h1m11 0h1m6 0h1m9 0h1m4 0h1m9 0h1m11 0h7m-76 1h1m12 0h2m17 0h1m14 0h1m8 0h2m10 0h7m-62 1h2m9 0h1m16 0h1m13 0h3m9 0h2m2 0h3m-60 1h1m9 0h1m6 0h1m14 0h1m7 0h3m9 0h2m3 0h3m-60 1h1m9 0h1m6 0h1m8 0h1m12 0h3m9 0h2m3 0h3m-72 1h1m12 0h1m9 0h1m6 0h1m13 0h1m7 0h3m8 0h2m4 0h2m-58 1h1m16 0h1m7 0h1m5 0h1m6 0h3m8 0h2m4 0h2m-57 1h1m8 0h1m20 0h1m6 0h4m8 0h1m4 0h2m-56 1h1m8 0h1m14 0h1m5 0h1m5 0h4m8 0h1m4 0h3m-68 1h1m11 0h1m8 0h1m6 0h1m19 0h4m7 0h1m5 0h2m-46 1h1m6 0h1m6 0h1m5 0h1m5 0h4m7 0h1m5 0h2m-53 1h1m14 0h1m17 0h2m1 0h1m7 0h1m5 0h2m-52 1h1m26 0h1m4 0h2m2 0h1m6 0h1m5 0h2m-63 1h1m11 0h1m6 0h1m13 0h1m10 0h1m2 0h1m6 0h1m6 0h1m-50 1h1m6 0h1m6 0h1m11 0h1m4 0h1m3 0h1m5 0h1m6 0h1m-49 1h1m6 0h1m6 0h1m5 0h1m5 0h1m3 0h1m3 0h1m5 0h1m6 0h1m-48 1h1m13 0h1m15 0h1m2 0h1m12 0h1m-47 1h1m18 0h1m5 0h1m3 0h1m3 0h1m-34 1h1m27 0h1m3 0h1m-27 1h1m6 0h1m4 0h1m5 0h1m2 0h1m-22 1h1m6 0h1m13 0h1m3 0h1m4 0h1m6 0h1m-38 1h1m6 0h1m3 0h1m5 0h1m2 0h1m8 0h1m6 0h1m-20 1h1m1 0h1m4 0h1m3 0h1m6 0h1m-26 1h1m7 0h1m4 0h1m3 0h1m6 0h1m-40 1h1m10 0h1m9 0h1m1 0h1m14 0h1m-39 1h1m3 0h1m6 0h1m2 0h1m6 0h2m4 0h1m9 0h1m-38 1h1m3 0h1m6 0h1m8 0h2m4 0h1m-27 1h1m12 0h1m6 0h1m-21 1h1m18 0h2m4 0h1m2 0h1m-29 1h1m11 0h1m6 0h1m7 0h1m-25 1h1m7 0h1m14 0h1m-24 1h1m6 0h2m11 0h1m-23 2h1m-1 1h2m18 0h1m-21 1h2m19 0h1m-22 1h2m18 0h1m-3 1h2m-2 1h1m-2 1h1m-2 1h1m-24 1h1m-9 4h1m0 1h1m-1 1h2m-1 1h2m30 0h1m-31 1h1m1 0h1m26 0h2m-30 1h2m25 0h2m-28 1h2m-3 5h1m18 1h1m1 0h1m-4 1h1m-17 1h1m13 1h1m-11 7h1"/>
<path stroke="#1da8e0" d="M0 0m101 10h2m-2 1h3m-4 1h4m-4 1h5m-5 1h5m-5 1h6m-6 1h6m-6 1h6m-6 1h7m-7 1h7m-7 1h7m28 0h2m-37 1h7m28 0h2m-37 1h8m26 0h3m-37 1h8m26 0h3m-37 1h8m25 0h4m-37 1h9m24 0h4m-37 1h9m24 0h3m-36 1h9m24 0h3m-36 1h9m23 0h4m-36 1h10m22 0h4m20 0h1m-57 1h10m22 0h4m19 0h2m-57 1h4m2 0h4m21 0h5m19 0h2m-57 1h4m3 0h3m21 0h5m18 0h2m-56 1h4m3 0h3m21 0h5m18 0h2m-56 1h4m4 0h3m20 0h5m17 0h3m-55 1h3m4 0h3m19 0h5m17 0h3m-54 1h2m5 0h3m19 0h5m17 0h3m-54 1h2m6 0h2m19 0h5m16 0h4m-54 1h2m6 0h3m18 0h2m1 0h2m16 0h3m-53 1h2m6 0h3m17 0h2m2 0h2m15 0h4m-53 1h2m7 0h2m17 0h2m2 0h2m15 0h3m-52 1h2m7 0h2m17 0h2m2 0h2m14 0h4m-52 1h2m7 0h2m17 0h1m3 0h2m14 0h4m-52 1h2m7 0h3m16 0h1m3 0h1m14 0h4m-51 1h3m7 0h2m15 0h2m3 0h1m14 0h1m1 0h2m-51 1h3m7 0h2m15 0h1m4 0h1m13 0h2m1 0h1m-50 1h3m7 0h2m15 0h1m4 0h1m13 0h1m2 0h1m-50 1h3m7 0h2m15 0h1m3 0h2m12 0h1m2 0h2m-49 1h2m8 0h1m14 0h2m3 0h2m12 0h1m2 0h1m-48 1h2m8 0h2m13 0h1m4 0h1m12 0h1m3 0h1m-48 1h2m8 0h2m13 0h1m4 0h1m12 0h1m2 0h1m-47 1h2m8 0h2m13 0h1m4 0h1m11 0h1m3 0h1m-47 1h2m8 0h2m18 0h1m11 0h1m-43 1h2m9 0h1m12 0h1m5 0h1m10 0h1m3 0h1m-46 1h2m9 0h1m12 0h1m5 0h1m10 0h1m3 0h1m22 0h2m-70 1h2m9 0h2m11 0h1m4 0h1m10 0h1m3 0h1m22 0h3m-70 1h2m9 0h2m11 0h1m4 0h1m10 0h1m3 0h1m21 0h3m-68 1h1m9 0h2m16 0h1m9 0h1m25 0h4m-68 1h1m10 0h1m10 0h1m5 0h1m9 0h1m3 0h1m20 0h4m-67 1h1m10 0h1m10 0h1m5 0h1m8 0h1m24 0h4m-66 1h2m9 0h1m10 0h1m5 0h1m8 0h1m3 0h1m19 0h4m-64 1h1m9 0h1m24 0h1m4 0h1m18 0h5m-64 1h1m9 0h2m14 0h1m8 0h1m22 0h5m-63 1h1m9 0h2m8 0h1m5 0h1m7 0h1m4 0h1m7 0h1m9 0h5m-62 1h1m10 0h1m8 0h1m5 0h1m7 0h1m11 0h2m8 0h5m-50 1h1m8 0h1m5 0h1m11 0h1m6 0h2m8 0h6m-50 1h1m21 0h1m10 0h3m7 0h2m1 0h3m-49 1h1m25 0h1m5 0h3m7 0h2m2 0h2m-48 1h1m7 0h1m5 0h1m6 0h1m4 0h1m5 0h2m7 0h1m3 0h2m-57 1h1m9 0h1m7 0h1m5 0h1m16 0h3m6 0h1m4 0h2m-39 1h1m5 0h1m5 0h1m4 0h1m4 0h3m6 0h1m4 0h2m-45 1h1m27 0h4m5 0h1m4 0h2m-44 1h1m17 0h1m4 0h1m4 0h1m1 0h1m10 0h2m-53 1h1m9 0h1m26 0h1m2 0h1m10 0h1m-42 1h1m5 0h1m5 0h1m4 0h1m4 0h1m3 0h1m2 0h1m5 0h1m4 0h1m-41 1h1m5 0h1m5 0h1m9 0h1m2 0h1m8 0h1m4 0h1m-40 1h1m15 0h1m11 0h1m4 0h1m4 0h1m-48 1h1m8 0h1m20 0h1m2 0h1m2 0h1m4 0h1m-18 1h1m7 0h1m7 0h1m5 0h1m-33 1h1m5 0h1m8 0h1m1 0h1m3 0h1m3 0h1m5 0h1m-32 1h1m5 0h1m2 0h1m20 0h1m-44 1h1m18 0h1m7 0h1m1 0h1m3 0h1m8 0h1m-34 1h1m9 0h1m1 0h1m5 0h2m3 0h1m8 0h1m-33 1h1m17 0h1m-19 1h1m2 0h1m6 0h2m5 0h1m4 0h1m-31 1h1m7 0h1m2 0h1m6 0h1m10 0h1m2 0h1m-25 1h1m22 0h1m-4 1h1m-2 1h1m-27 1h1m7 0h2m-2 1h2m15 0h1m-18 1h1m15 0h1m1 0h1m-19 1h1m16 0h1m-3 1h2m-2 1h1m-2 1h1m-27 6h1m0 1h1m26 0h1m-28 1h1m25 0h2m-25 1h2m20 0h2m-7 6h1m-6 3h1m-4 5h1m-4 1h1"/>
<path stroke="#18aedb" d="M0 0m104 31h2m-2 1h3m-3 1h3m-3 1h4m-4 1h4m-5 1h5m-5 1h6m-6 1h6m23 0h1m-30 1h6m22 0h2m-30 1h7m21 0h2m-30 1h7m21 0h2m-30 1h7m20 0h3m-30 1h7m20 0h3m-29 1h7m19 0h3m16 0h1m-46 1h7m18 0h4m16 0h1m-46 1h7m18 0h4m15 0h2m-46 1h7m18 0h3m15 0h2m-45 1h3m1 0h4m17 0h3m15 0h2m-45 1h3m2 0h3m16 0h4m14 0h3m-45 1h2m3 0h3m16 0h4m14 0h2m-44 1h2m4 0h2m16 0h4m13 0h3m-44 1h2m4 0h2m15 0h5m13 0h3m-44 1h2m5 0h2m14 0h2m1 0h2m12 0h3m-43 1h2m5 0h2m14 0h1m2 0h2m12 0h3m-43 1h2m5 0h2m14 0h1m2 0h1m12 0h3m-42 1h2m5 0h2m14 0h1m2 0h1m12 0h1m1 0h1m-42 1h2m6 0h1m13 0h1m3 0h1m11 0h1m1 0h2m-42 1h2m6 0h2m12 0h1m3 0h1m13 0h1m-41 1h2m6 0h2m12 0h1m3 0h1m10 0h1m2 0h1m-40 1h1m6 0h2m12 0h1m3 0h1m12 0h1m-39 1h1m7 0h1m11 0h1m4 0h1m9 0h1m2 0h1m-39 1h1m7 0h1m11 0h1m3 0h1m13 0h1m-39 1h2m6 0h1m11 0h1m3 0h1m9 0h1m2 0h1m-38 1h2m6 0h2m10 0h1m3 0h1m12 0h1m-38 1h2m6 0h2m14 0h1m8 0h1m-34 1h2m7 0h1m9 0h1m4 0h1m11 0h1m18 0h1m-56 1h2m7 0h1m9 0h1m4 0h1m7 0h1m21 0h2m-56 1h2m7 0h1m9 0h1m15 0h1m16 0h3m-54 1h1m7 0h1m21 0h1m3 0h1m15 0h4m-54 1h1m7 0h2m12 0h1m26 0h4m-53 1h1m8 0h1m7 0h1m4 0h1m6 0h1m3 0h1m14 0h4m-52 1h1m8 0h1m7 0h1m4 0h1m16 0h1m7 0h4m-42 1h1m7 0h1m4 0h1m5 0h1m3 0h1m5 0h2m6 0h5m-42 1h1m27 0h2m7 0h4m-41 1h1m17 0h1m8 0h3m6 0h4m-48 1h1m7 0h1m6 0h1m4 0h1m9 0h1m3 0h3m6 0h1m1 0h2m-32 1h1m4 0h1m4 0h1m8 0h2m6 0h1m2 0h2m-38 1h1m5 0h1m4 0h1m8 0h1m3 0h3m5 0h1m2 0h2m-37 1h1m14 0h1m7 0h1m1 0h1m5 0h1m3 0h1m-36 1h1m18 0h1m2 0h1m2 0h1m4 0h1m3 0h1m-35 1h1m4 0h1m8 0h1m9 0h1m4 0h1m3 0h1m-34 1h1m4 0h1m4 0h1m10 0h1m6 0h1m3 0h1m-33 1h1m4 0h1m4 0h1m2 0h1m4 0h1m1 0h1m2 0h1m3 0h1m4 0h1m-23 1h1m8 0h1m6 0h1m4 0h1m-22 1h1m1 0h1m4 0h2m11 0h1m-27 1h1m5 0h2m5 0h2m2 0h1m7 0h1m-29 1h1m2 0h1m5 0h1m6 0h1m10 0h1m-28 1h1m2 0h1m5 0h1m12 0h1m3 0h1m-27 1h1m17 0h1m2 0h1m-22 1h1m19 0h1m-21 1h1m1 0h1m-1 1h1m13 0h1m-16 1h1m-1 1h1m13 0h1m-15 1h1m14 0h1m-3 1h2m-3 1h2m-2 1h1m-23 5h1m-1 1h2m0 1h2m18 0h2m-20 1h1m17 0h1m-22 3h1m1 1h1m13 0h1m-2 1h1m-14 1h1m1 7h1"/>
<path stroke="#0eb2d4" d="M0 0m107 48h1m-1 1h2m-3 1h3m-3 1h4m-4 1h4m-4 1h5m18 0h1m-24 1h5m17 0h2m-24 1h5m17 0h2m-24 1h5m17 0h2m14 0h1m-39 1h6m15 0h3m13 0h1m-38 1h6m15 0h3m12 0h2m-38 1h6m15 0h3m12 0h2m-38 1h6m15 0h3m11 0h2m-37 1h7m13 0h4m11 0h2m-37 1h3m1 0h3m13 0h3m11 0h3m-36 1h2m2 0h2m13 0h3m11 0h2m-35 1h2m2 0h2m13 0h3m10 0h3m-35 1h2m3 0h1m12 0h2m1 0h1m10 0h3m-35 1h2m3 0h2m11 0h1m2 0h1m9 0h1m1 0h1m-34 1h2m3 0h2m11 0h1m2 0h1m11 0h1m-34 1h2m4 0h1m11 0h1m2 0h1m8 0h1m-31 1h2m4 0h1m10 0h1m3 0h1m10 0h1m-33 1h2m4 0h1m10 0h1m2 0h1m8 0h1m2 0h1m-33 1h2m4 0h2m9 0h1m2 0h1m-21 1h2m5 0h1m12 0h1m7 0h1m2 0h1m-32 1h2m5 0h1m12 0h1m-21 1h2m5 0h1m8 0h1m3 0h1m6 0h1m2 0h1m-31 1h2m5 0h1m8 0h1m3 0h1m9 0h1m-30 1h1m5 0h1m18 0h1m17 0h1m-44 1h1m6 0h1m20 0h1m13 0h2m-44 1h1m6 0h1m10 0h1m5 0h1m16 0h2m-43 1h1m6 0h1m6 0h1m3 0h1m8 0h1m4 0h1m7 0h3m-43 1h1m6 0h1m6 0h1m3 0h1m4 0h1m7 0h2m6 0h3m-41 1h1m5 0h1m10 0h1m11 0h2m6 0h3m-40 1h1m5 0h1m18 0h1m3 0h2m5 0h3m-39 1h1m5 0h1m21 0h2m5 0h1m1 0h2m-39 1h1m6 0h1m4 0h1m11 0h1m2 0h3m4 0h1m1 0h2m-31 1h1m4 0h1m13 0h3m4 0h1m2 0h1m-30 1h1m8 0h1m9 0h2m4 0h1m2 0h1m-29 1h1m8 0h1m1 0h1m4 0h1m1 0h1m1 0h1m3 0h1m2 0h1m-34 1h1m5 0h1m8 0h1m6 0h2m1 0h1m6 0h1m-27 1h1m3 0h1m4 0h2m4 0h2m8 0h2m-23 1h1m4 0h1m5 0h1m2 0h1m3 0h1m2 0h1m-5 1h1m2 0h1m-24 1h1m18 0h1m2 0h1m-23 1h1m1 0h1m12 0h1m2 0h1m2 0h1m-22 1h1m1 0h1m14 0h1m2 0h1m-21 1h1m13 0h1m4 0h1m-19 1h1m-1 1h1m-1 1h1m10 0h1m-1 1h1m-2 1h1m-20 5h1m0 1h2m17 0h1m-18 1h1m15 0h1m-14 1h1m-6 2h1m14 1h1m-13 4h1"/>
<path stroke="#03b7cc" d="M0 0m109 62h1m-1 1h2m-2 1h2m-2 1h3m15 0h1m-19 1h3m14 0h2m11 0h1m-31 1h3m14 0h2m10 0h2m-31 1h4m13 0h2m10 0h2m-31 1h4m12 0h3m9 0h2m-30 1h4m12 0h2m10 0h2m-30 1h4m12 0h2m9 0h3m-30 1h5m10 0h3m10 0h1m-29 1h2m1 0h2m10 0h3m8 0h1m1 0h1m-29 1h1m2 0h2m10 0h1m1 0h1m-18 1h1m3 0h1m10 0h1m1 0h1m7 0h1m1 0h1m-28 1h1m3 0h1m9 0h1m2 0h1m9 0h1m-28 1h2m2 0h2m8 0h1m2 0h1m-18 1h2m2 0h2m8 0h1m11 0h1m-27 1h2m2 0h2m8 0h1m1 0h1m-17 1h2m3 0h1m10 0h1m-16 1h1m3 0h1m7 0h1m2 0h1m8 0h1m-25 1h1m3 0h1m7 0h1m2 0h1m4 0h1m-21 1h1m3 0h1m7 0h1m2 0h1m7 0h1m11 0h1m-36 1h1m3 0h2m9 0h1m3 0h1m14 0h1m-35 1h1m4 0h1m9 0h1m17 0h2m-35 1h1m4 0h1m5 0h1m6 0h1m3 0h1m9 0h2m-34 1h2m3 0h1m5 0h1m13 0h1m5 0h2m-32 1h1m3 0h1m11 0h1m3 0h1m2 0h1m5 0h2m-31 1h1m3 0h1m17 0h2m4 0h2m-30 1h1m4 0h1m7 0h1m1 0h1m5 0h2m5 0h2m-30 1h1m4 0h1m3 0h1m3 0h2m4 0h4m4 0h2m-29 1h1m4 0h1m13 0h3m4 0h2m-23 1h1m13 0h1m5 0h2m-7 1h1m3 0h2m-18 1h1m14 0h2m-24 1h1m4 0h1m1 0h1m10 0h1m2 0h3m-19 1h1m14 0h3m-18 1h1m13 0h3m-17 1h2m9 0h1m1 0h1m1 0h1m-15 1h1m10 0h1m1 0h1m-5 1h2m-2 1h1m-17 5h1m1 1h1m12 0h2m-17 3h1m2 1h1m8 0h1"/>
<path stroke="#02bbc3" d="M0 0m136 72h1m-26 1h1m24 0h1m-27 1h2m13 0h1m9 0h2m-27 1h3m12 0h1m9 0h1m-26 1h3m11 0h2m8 0h2m-25 1h2m11 0h2m7 0h1m1 0h1m-25 1h2m11 0h2m7 0h1m-23 1h2m11 0h1m7 0h1m1 0h1m-24 1h3m9 0h2m9 0h1m-24 1h3m9 0h2m6 0h1m-21 1h3m9 0h2m8 0h1m-23 1h3m9 0h2m5 0h1m-20 1h3m8 0h3m-14 1h4m7 0h1m1 0h1m4 0h1m2 0h1m-22 1h4m7 0h1m1 0h1m-13 1h3m9 0h1m3 0h1m2 0h1m-20 1h3m6 0h1m2 0h1m-13 1h3m6 0h1m2 0h1m2 0h1m-16 1h4m5 0h1m8 0h1m-19 1h1m1 0h2m-4 1h1m2 0h1m4 0h1m3 0h2m3 0h1m-18 1h1m2 0h1m4 0h1m3 0h1m4 0h1m1 0h1m-20 1h1m2 0h2m12 0h2m-19 1h1m3 0h1m11 0h3m-15 1h1m11 0h2m-14 1h1m2 0h1m9 0h1m-14 1h1m2 0h1m8 0h1m2 1h1m-19 1h1m3 0h1m9 0h1m2 0h1m-14 1h2m10 0h2m-14 1h1m8 0h1m1 0h2m-4 1h3m-15 1h1m10 0h3m-16 4h1m12 1h1m-14 2h1m-1 1h1m1 4h1m0 2h1m1 1h1"/>
<path stroke="#11beba" d="M0 0m134 77h1m-1 1h1m-2 1h1m-2 1h2m-2 1h2m-3 1h2m-2 1h2m-3 1h1m1 0h1m-10 1h1m-1 1h1m5 0h1m1 0h1m-10 1h2m-2 1h2m-2 1h2m6 0h1m-9 1h2m-11 1h1m7 0h3m2 0h1m2 0h1m-17 1h2m6 0h1m1 0h1m-11 1h2m8 0h1m1 0h1m-13 1h2m5 0h1m2 0h2m3 0h1m-16 1h3m4 0h1m2 0h1m-11 1h3m-3 1h3m11 0h2m-16 1h3m11 0h1m-15 1h2m1 0h1m2 0h1m7 0h1m-12 1h1m-1 1h1m9 0h1m-9 1h1m-2 1h2m6 0h1m-9 1h1m7 1h2m-2 1h1m-14 3h2m10 1h1m-12 3h1m7 0h1m-8 4h1"/>
<path stroke="#22c1b0" d="M0 0m131 84h1m-2 1h2m-2 1h1m-2 1h2m-3 1h1m1 0h1m-4 2h1m1 0h1m-8 2h1m3 0h1m-6 1h2m5 0h1m-8 1h2m-2 1h2m1 0h1m-5 1h4m3 0h1m-8 1h1m1 0h1m-8 2h1m10 0h1m-13 1h2m3 0h1m6 0h1m-13 1h2m3 0h1m-6 1h3m8 0h1m-12 1h3m-1 1h1m1 0h1m-2 1h1m6 0h1m-1 1h1m-1 1h1m-12 3h2m7 2h1m-4 1h1m-6 5h1m3 0h1"/>
<path stroke="#2dc4a5" d="M0 0m129 88h1m-2 1h2m-2 1h1m-2 1h2m-1 1h1m-4 2h1m1 1h1m-4 1h1m-4 1h1m1 0h1m-4 1h3m3 0h1m-7 1h2m3 2h1m-7 1h1m-5 2h1m8 0h1m-10 1h2m-2 1h3m5 1h1m-1 1h1m-10 3h1m7 0h1m-10 1h1m6 2h1"/>
<path stroke="#35c79a" d="M0 0m127 92h1m-2 1h2m-1 1h1m-3 1h1m0 2h1m-4 1h1m-2 1h1m-3 1h2m3 0h1m-6 1h1m-2 2h1m4 0h1m-7 2h1m4 1h1m-9 1h3m1 10h1"/>
<path stroke="#40ca8d" d="M0 0m126 94h1m-1 1h1m-2 1h2m-3 1h1m0 2h1m-4 1h1m-2 1h1m-2 1h1m3 0h1m-6 2h1m3 1h1m-6 1h1m-3 2h1m5 1h1m-8 3h2m4 0h1m-2 1h1"/>
<path stroke="#52cc7e" d="M0 0m125 97h1m-2 1h2m-3 1h1m-2 2h1m1 0h1m-4 1h1m-2 1h1m2 1h1m-7 4h1m4 0h1m-7 1h1m-3 4h1m1 5h1"/>
<path stroke="#65cd6e" d="M0 0m124 99h1m-2 1h2m-2 3h1m-4 1h1m-2 1h1m-2 2h1m3 0h1m-9 7h1"/>
<path stroke="#7bcc5d" d="M0 0m123 101h1m-2 1h2m-3 1h1m0 3h1m-6 3h1m-2 1h1m4 0h1"/>
<path stroke="#91ca4c" d="M0 0m122 103h1m-2 1h1m-2 1h1m1 0h1m-4 1h1m1 3h1m-7 6h1"/>
<path stroke="#a7c73c" d="M0 0m122 104h1m-5 4h1m2 0h1m-7 5h1m4 2h1"/>
<path stroke="#bcc42f" d="M0 0m121 105h1m-2 1h1m-2 1h1m1 0h1m-5 3h1m-2 1h1m1 4h2"/>
<path stroke="#cfc028" d="M0 0m121 106h1m-4 3h1m1 2h1m-2 5h1m-5 1h1"/>
<path stroke="#e1bc2b" d="M0 0m120 107h1m-2 1h1m0 2h1m-7 5h1"/>
<path stroke="#f0ba36" d="M0 0m120 108h1m-1 1h1m-5 4h1m-1 1h1"/>
<path stroke="#fcbd3d" d="M0 0m119 109h1m-2 1h1m-2 1h1m1 3h1m-3 4h1"/>
<path stroke="#fcd030" d="M0 0m119 110h1m-1 1h1m-1 1h1m-5 2h1m2 0h1m-4 2h1m2 1h1"/>
<path stroke="#f7db2b" d="M0 0m118 111h1"/>
<path stroke="#f9fb15" d="M0 0m117 112h2m-2 1h2m-2 1h1m-2 1h2m-2 1h3m-3 1h2"/>
</g>
</g>
<rect x="36.00" y="202.40" width="234.70" height="132.10" fill="none" stroke="#262626" stroke-width="0.5"/>
<text transform="translate(35.80 350.40) scale(0.875 1)" text-anchor="middle" font-size="14.0">-10</text>
<text transform="translate(94.47 350.40) scale(0.875 1)" text-anchor="middle" font-size="14.0">-5</text>
<text transform="translate(153.35 350.40) scale(0.875 1)" text-anchor="middle" font-size="14.0">0</text>
<text transform="translate(212.02 350.40) scale(0.875 1)" text-anchor="middle" font-size="14.0">5</text>
<text transform="translate(270.70 350.40) scale(0.875 1)" text-anchor="middle" font-size="14.0">10</text>
<text transform="translate(32.20 322.23) scale(0.875 1)" text-anchor="end" font-size="14.0">20</text>
<text transform="translate(32.20 304.61) scale(0.875 1)" text-anchor="end" font-size="14.0">40</text>
<text transform="translate(32.20 287.00) scale(0.875 1)" text-anchor="end" font-size="14.0">60</text>
<text transform="translate(32.20 269.39) scale(0.875 1)" text-anchor="end" font-size="14.0">80</text>
<text transform="translate(32.20 251.77) scale(0.875 1)" text-anchor="end" font-size="14.0">100</text>
<text transform="translate(32.20 234.16) scale(0.875 1)" text-anchor="end" font-size="14.0">120</text>
<text transform="translate(32.20 216.55) scale(0.875 1)" text-anchor="end" font-size="14.0">140</text>
<rect x="281.80" y="202.40" width="11.50" height="132.10" fill="url(#cb)" stroke="#262626" stroke-width="0.5"/>
<text transform="translate(296.70 207.20) scale(0.875 1)" text-anchor="start" font-size="14.0">0</text>
<text transform="translate(296.70 251.23) scale(0.875 1)" text-anchor="start" font-size="14.0">-5</text>
<text transform="translate(296.70 295.27) scale(0.875 1)" text-anchor="start" font-size="14.0">-10</text>
<text transform="translate(296.70 339.30) scale(0.875 1)" text-anchor="start" font-size="14.0">-15</text>
<path d="M36.00 334.50v-2.3M36.00 202.40v2.3M94.67 334.50v-2.3M94.67 202.40v2.3M153.35 334.50v-2.3M153.35 202.40v2.3M212.02 334.50v-2.3M212.02 202.40v2.3M270.70 334.50v-2.3M270.70 202.40v2.3M36.00 317.33h2.3M270.70 317.33h-2.3M36.00 299.71h2.3M270.70 299.71h-2.3M36.00 282.10h2.3M270.70 282.10h-2.3M36.00 264.49h2.3M270.70 264.49h-2.3M36.00 246.87h2.3M270.70 246.87h-2.3M36.00 229.26h2.3M270.70 229.26h-2.3M36.00 211.65h2.3M270.70 211.65h-2.3M293.30 202.40h-1.3M293.30 246.43h-1.3M293.30 290.47h-1.3M293.30 334.50h-1.3" stroke="#262626" stroke-width="0.5" fill="none"/>
<text x="160.60" y="362.60" text-anchor="middle" font-size="12.7">x (m)</text>
<text transform="translate(8.90 268.70) rotate(-90)" text-anchor="middle" font-size="12.7">y (m)</text>
<text transform="translate(326.00 268.50) rotate(-90)" text-anchor="middle" font-size="12.7">Power (dB)</text>
<text x="87.45" y="195.70" textLength="131.8" lengthAdjust="spacingAndGlyphs" font-size="14.2">Digital Bessel (<tspan font-style="italic">&#957;</tspan> = 1)</text>
<clipPath id="c3"><rect x="0.50" y="0.40" width="234.70" height="132.10"/></clipPath>
<g transform="translate(392 202)" clip-path="url(#c3)">
<rect width="236" height="133" fill="#3e26a8"/>
<g transform="translate(0 .5)" stroke-width="1" fill="none" shape-rendering="crispEdges">
<path stroke="#3e27aa" d="M0 0m74 0h3m20 0h3m127 0h3m-156 1h3m20 0h3m125 0h4m-155 1h3m20 0h3m124 0h4m-154 1h4m19 0h4m122 0h4m-152 1h3m20 0h3m121 0h4m-151 1h3m20 0h3m120 0h4m-150 1h3m20 0h3m119 0h3m-148 1h3m20 0h4m117 0h3m-147 1h3m21 0h3m116 0h3m-146 1h3m21 0h3m115 0h3m-145 1h4m20 0h3m114 0h3m-143 1h3m20 0h3m112 0h4m-142 1h3m21 0h3m110 0h4m-141 1h3m21 0h3m109 0h4m-140 1h3m21 0h3m108 0h4m-139 1h3m21 0h3m107 0h3m-137 1h4m21 0h3m105 0h3m-135 1h3m21 0h3m104 0h3m-134 1h3m21 0h3m103 0h3m-133 1h3m21 0h3m102 0h3m26 0h1m-159 1h3m22 0h3m99 0h4m26 0h2m-159 1h3m22 0h3m98 0h4m26 0h3m-158 1h3m21 0h3m97 0h4m26 0h3m-157 1h3m21 0h3m96 0h4m26 0h3m-156 1h3m22 0h3m94 0h4m25 0h4m-155 1h3m22 0h3m93 0h3m26 0h4m-154 1h3m22 0h3m92 0h3m26 0h4m-153 1h3m22 0h3m91 0h3m26 0h4m-151 1h3m22 0h3m89 0h3m26 0h4m-150 1h3m22 0h3m88 0h3m26 0h4m-149 1h3m22 0h3m86 0h4m26 0h3m-147 1h3m22 0h3m85 0h4m26 0h3m-146 1h3m23 0h3m83 0h4m26 0h3m-144 1h3m22 0h3m82 0h3m27 0h3m-143 1h3m22 0h3m81 0h3m27 0h3m-142 1h3m23 0h3m79 0h3m27 0h3m-141 1h3m23 0h3m78 0h3m27 0h3m-140 1h3m23 0h3m77 0h3m27 0h3m-138 1h3m22 0h3m76 0h3m27 0h3m-137 1h3m23 0h3m73 0h4m26 0h4m-136 1h3m23 0h3m72 0h4m26 0h4m-135 1h3m23 0h3m71 0h4m26 0h4m-134 1h3m24 0h2m70 0h3m27 0h4m-132 1h3m23 0h3m68 0h3m27 0h4m-131 1h3m23 0h3m67 0h3m27 0h4m-130 1h3m23 0h3m66 0h3m27 0h3m-128 1h3m24 0h3m64 0h3m27 0h3m-126 1h2m24 0h3m63 0h3m27 0h3m-125 1h3m23 0h3m61 0h4m27 0h3m-124 1h3m24 0h2m60 0h4m27 0h3m-123 1h3m24 0h3m58 0h3m28 0h3m-122 1h3m24 0h3m57 0h3m28 0h3m-120 1h2m25 0h2m56 0h3m28 0h3m-119 1h3m24 0h2m55 0h3m28 0h3m-118 1h3m24 0h3m53 0h3m28 0h3m-117 1h3m24 0h3m52 0h3m28 0h3m-115 1h2m24 0h3m51 0h3m27 0h4m-114 1h3m23 0h3m49 0h4m27 0h4m-113 1h3m23 0h3m48 0h4m27 0h4m-112 1h3m23 0h3m47 0h3m28 0h4m-110 1h2m24 0h2m46 0h3m28 0h3m-108 1h3m23 0h2m45 0h3m28 0h3m-107 1h3m23 0h2m44 0h3m28 0h3m-105 1h3m22 0h2m43 0h3m28 0h3m-104 1h3m22 0h2m42 0h3m28 0h3m-102 1h3m21 0h2m40 0h4m28 0h3m-101 1h3m21 0h3m38 0h4m28 0h3m-99 1h2m22 0h2m37 0h3m29 0h3m-98 1h3m21 0h2m36 0h3m29 0h3m-96 1h2m21 0h2m35 0h3m29 0h3m-95 1h3m20 0h2m34 0h3m29 0h3m-93 1h2m20 0h2m33 0h3m29 0h3m-92 1h3m19 0h2m32 0h3m29 0h3m-90 1h2m19 0h2m31 0h3m28 0h4m-89 1h3m18 0h2m31 0h2m28 0h4m-87 1h2m19 0h1m30 0h2m28 0h4m-86 1h2m19 0h1m29 0h3m27 0h3m-83 1h2m18 0h2m27 0h3m27 0h3m-82 1h2m18 0h2m27 0h2m27 0h3m-80 1h2m17 0h2m26 0h2m27 0h3m-79 1h2m17 0h2m25 0h2m27 0h3m-77 1h2m16 0h2m24 0h3m26 0h3m-76 1h2m17 0h1m24 0h2m26 0h3m-74 1h2m16 0h1m23 0h2m26 0h3m-73 1h2m16 0h1m22 0h2m26 0h3m-71 1h2m15 0h1m21 0h2m26 0h3m-69 1h1m15 0h1m21 0h2m25 0h3m-68 1h2m14 0h2m19 0h2m25 0h3m-66 1h1m14 0h2m18 0h2m24 0h4m-65 1h2m14 0h1m17 0h2m24 0h3m-62 1h1m14 0h1m17 0h1m23 0h4m-61 1h2m13 0h1m16 0h2m22 0h3m-58 1h1m13 0h1m15 0h2m21 0h4m-57 1h2m12 0h1m14 0h2m21 0h3m-54 1h1m12 0h1m14 0h1m20 0h3m-51 1h1m11 0h1m13 0h1m20 0h3m-50 1h1m12 0h1m11 0h2m18 0h3m-47 1h1m11 0h1m11 0h1m18 0h3m-46 1h2m10 0h1m10 0h1m17 0h3m-43 1h1m10 0h1m9 0h1m17 0h2m-40 1h1m9 0h1m8 0h1m16 0h3m-51 1h3m9 0h1m9 0h1m8 0h1m15 0h2m-48 1h4m8 0h1m8 0h1m7 0h1m14 0h3m-46 1h5m6 0h1m15 0h1m14 0h3m-44 1h6m5 0h1m13 0h1m13 0h3m-41 1h6m13 0h1m4 0h1m12 0h3m-39 1h3m2 0h2m3 0h1m7 0h1m3 0h1m12 0h3m-36 1h2m4 0h1m9 0h1m2 0h1m12 0h2m-32 1h1m5 0h2m6 0h1m13 0h2m-29 1h1m5 0h2m6 0h1m11 0h1m-25 1h1m21 0h2m-23 1h1m19 0h1m-20 1h1m16 0h2m-20 1h2m16 0h1m-19 1h1m17 0h2m-20 1h1m17 0h2m-20 1h2m16 0h2m-20 1h2m16 0h1m-20 1h2m16 0h1m-21 1h3m15 0h2m-21 1h3m17 0h2m-23 1h4m9 0h2m7 0h2m-24 1h3m10 0h2m7 0h2m-25 1h4m9 0h4m7 0h2m-26 1h3m9 0h2m2 0h1m7 0h3m-28 1h4m9 0h2m2 0h1m7 0h3m-28 1h5m7 0h2m3 0h2m7 0h2m-28 1h5m5 0h3m5 0h2m5 0h4m-29 1h13m5 0h3m4 0h4m-29 1h12m7 0h10m-28 1h10m8 0h10m-27 1h7m11 0h8m-24 1h2m15 0h7"/>
<path stroke="#3f28ad" d="M0 0m77 0h2m16 0h2m133 0h2m-155 1h2m16 0h2m132 0h2m-154 1h2m16 0h2m131 0h2m-152 1h1m17 0h1m130 0h2m-151 1h2m16 0h2m128 0h2m-150 1h2m16 0h2m127 0h2m-149 1h2m16 0h2m125 0h2m-147 1h2m16 0h2m124 0h2m-146 1h2m17 0h2m122 0h2m-145 1h2m17 0h2m121 0h2m-143 1h1m17 0h2m120 0h2m-142 1h2m16 0h2m119 0h2m-141 1h2m17 0h2m117 0h2m-140 1h2m17 0h2m116 0h2m-139 1h2m17 0h2m115 0h2m-138 1h2m18 0h1m113 0h2m-135 1h1m18 0h2m111 0h2m-134 1h1m18 0h2m110 0h2m22 0h1m-156 1h2m17 0h2m109 0h2m22 0h2m-156 1h2m18 0h1m108 0h2m22 0h2m-155 1h2m18 0h2m106 0h2m22 0h2m-154 1h2m18 0h2m105 0h2m22 0h2m-152 1h1m18 0h2m104 0h2m22 0h2m-151 1h1m19 0h1m103 0h2m22 0h2m-150 1h2m18 0h2m101 0h1m23 0h1m-148 1h2m18 0h2m99 0h2m22 0h2m-147 1h2m18 0h2m98 0h2m22 0h2m-146 1h2m19 0h1m97 0h2m22 0h2m-144 1h1m19 0h2m95 0h2m22 0h2m-143 1h2m18 0h2m94 0h2m22 0h2m-142 1h2m18 0h2m93 0h2m22 0h2m-141 1h2m19 0h1m92 0h2m22 0h2m-140 1h2m19 0h2m90 0h2m22 0h2m-138 1h1m19 0h2m88 0h2m23 0h2m-137 1h1m20 0h1m87 0h2m23 0h2m-136 1h2m19 0h2m85 0h2m23 0h2m-135 1h2m19 0h2m84 0h2m23 0h2m-134 1h2m19 0h2m83 0h2m23 0h2m-132 1h1m20 0h1m82 0h2m23 0h2m-131 1h1m20 0h2m80 0h2m23 0h1m-129 1h2m19 0h2m79 0h2m23 0h1m-128 1h2m20 0h1m78 0h1m23 0h2m-127 1h2m20 0h2m75 0h2m23 0h2m-125 1h1m20 0h2m74 0h2m23 0h2m-124 1h1m21 0h1m73 0h2m23 0h2m-123 1h2m20 0h1m72 0h2m23 0h2m-122 1h2m20 0h2m70 0h2m23 0h2m-121 1h2m20 0h2m69 0h2m23 0h2m-119 1h1m21 0h1m68 0h2m23 0h2m-118 1h1m21 0h2m66 0h1m24 0h2m-117 1h2m20 0h2m64 0h2m24 0h2m-116 1h2m21 0h1m63 0h2m24 0h2m-115 1h2m21 0h2m61 0h2m24 0h2m-113 1h1m21 0h2m60 0h2m24 0h2m-112 1h1m21 0h2m59 0h2m24 0h2m-111 1h2m20 0h2m58 0h2m24 0h2m-110 1h2m21 0h1m57 0h2m24 0h1m-107 1h1m21 0h1m56 0h1m25 0h1m-106 1h1m21 0h1m55 0h1m25 0h1m-105 1h2m20 0h1m53 0h2m24 0h2m-104 1h2m20 0h2m51 0h2m24 0h2m-102 1h1m20 0h2m50 0h2m24 0h2m-101 1h2m20 0h1m49 0h2m24 0h2m-99 1h1m20 0h1m48 0h2m24 0h2m-98 1h2m19 0h1m47 0h2m24 0h2m-96 1h1m19 0h1m46 0h1m25 0h2m-95 1h1m19 0h1m45 0h1m25 0h2m-94 1h2m18 0h2m42 0h2m25 0h2m-92 1h1m18 0h2m41 0h2m25 0h2m-91 1h2m18 0h1m40 0h2m25 0h2m-89 1h1m18 0h1m39 0h2m25 0h2m-88 1h2m17 0h1m38 0h2m25 0h2m-86 1h1m17 0h1m37 0h2m25 0h2m-85 1h1m17 0h1m36 0h1m26 0h1m-82 1h1m16 0h1m35 0h2m25 0h1m-81 1h1m17 0h1m33 0h2m25 0h1m-80 1h2m16 0h1m33 0h1m25 0h1m-78 1h1m16 0h1m32 0h1m25 0h1m-77 1h2m15 0h1m31 0h1m24 0h2m-75 1h1m15 0h1m30 0h1m24 0h2m-74 1h1m15 0h1m29 0h2m23 0h2m-72 1h1m44 0h1m23 0h2m-71 1h1m15 0h1m27 0h1m23 0h2m-69 1h1m14 0h1m26 0h1m23 0h2m-68 1h1m14 0h1m25 0h1m23 0h2m-66 1h1m13 0h1m24 0h1m23 0h2m-65 1h1m13 0h1m24 0h1m22 0h2m-63 1h1m36 0h1m22 0h2m-62 1h1m35 0h1m21 0h2m-59 1h1m12 0h1m20 0h1m21 0h2m-58 1h1m12 0h1m19 0h1m20 0h2m-55 1h1m11 0h1m39 0h2m-54 1h1m11 0h1m18 0h1m19 0h1m-51 1h1m28 0h1m18 0h2m-50 1h1m27 0h1m18 0h1m-47 1h1m25 0h1m17 0h2m-46 1h1m10 0h1m31 0h1m-43 1h1m9 0h1m29 0h2m-32 1h1m12 0h1m15 0h1m-39 1h1m20 0h1m15 0h1m-18 1h1m14 0h1m-35 1h1m32 0h1m-3 1h1m-31 1h1m7 0h1m7 0h1m12 0h1m-22 1h1m6 0h1m11 0h1m-27 1h1m24 0h1m-33 1h2m28 0h2m-31 1h4m3 0h1m20 0h2m-29 1h1m2 0h2m11 0h1m9 0h1m-26 1h1m11 0h1m1 0h1m9 0h1m-12 1h1m-11 1h1m17 0h1m-18 1h1m-1 1h1m14 0h1m-17 1h1m-1 1h1m15 1h1m-16 1h1m14 0h1m-17 1h2m13 0h1m-17 1h1m-2 1h2m7 0h2m-11 1h1m16 0h1m-19 1h1m8 0h1m2 0h1m-13 1h1m7 0h1m10 0h1m-21 1h2m6 0h1m5 0h1m5 0h1m-21 1h3m4 0h2m5 0h1m5 0h1m-20 1h7m7 0h2m3 0h2m-21 1h5m10 0h5m-4 1h4"/>
<path stroke="#3f29b1" d="M0 0m79 0h2m12 0h2m137 0h2m-155 1h2m12 0h2m136 0h2m-154 1h2m13 0h1m135 0h2m-153 1h2m13 0h2m133 0h1m-150 1h1m13 0h2m132 0h1m-149 1h1m13 0h2m131 0h1m-148 1h1m14 0h1m129 0h2m-147 1h1m14 0h1m128 0h2m-146 1h2m13 0h2m126 0h2m-145 1h2m14 0h1m125 0h2m-144 1h2m14 0h1m124 0h2m-142 1h1m14 0h1m123 0h1m-140 1h1m14 0h2m121 0h1m-139 1h1m15 0h1m120 0h1m-138 1h1m15 0h1m119 0h1m-137 1h2m14 0h2m116 0h2m-136 1h2m14 0h2m115 0h2m18 0h2m-155 1h2m15 0h1m114 0h2m18 0h2m-153 1h1m15 0h1m113 0h2m18 0h2m-152 1h1m15 0h2m111 0h2m18 0h2m-151 1h1m15 0h2m110 0h1m19 0h2m-150 1h1m16 0h1m109 0h1m19 0h2m-149 1h2m15 0h1m108 0h1m19 0h2m-148 1h2m15 0h2m106 0h1m19 0h2m-146 1h1m16 0h1m104 0h2m19 0h2m-145 1h1m16 0h1m103 0h2m19 0h1m-143 1h1m16 0h1m102 0h2m19 0h1m-142 1h1m16 0h2m100 0h2m19 0h1m-141 1h2m16 0h1m99 0h1m20 0h1m-139 1h1m16 0h1m98 0h1m20 0h1m-138 1h1m16 0h1m97 0h1m20 0h1m-137 1h1m16 0h2m95 0h1m20 0h1m-136 1h1m17 0h1m94 0h1m20 0h1m-135 1h2m16 0h1m92 0h2m19 0h2m-134 1h2m16 0h2m90 0h2m19 0h2m-132 1h1m17 0h1m89 0h2m19 0h2m-131 1h1m17 0h1m88 0h2m19 0h2m-130 1h1m17 0h1m87 0h1m20 0h2m-129 1h1m17 0h2m85 0h1m20 0h2m-128 1h2m17 0h1m84 0h1m20 0h2m-126 1h1m17 0h1m83 0h1m20 0h2m-125 1h1m17 0h2m80 0h2m20 0h1m-123 1h1m18 0h1m79 0h2m20 0h1m-122 1h1m18 0h1m78 0h2m20 0h1m-121 1h2m17 0h2m76 0h1m21 0h1m-119 1h1m18 0h1m75 0h1m21 0h1m-118 1h1m18 0h1m74 0h1m21 0h1m-117 1h1m18 0h1m73 0h1m21 0h1m-116 1h1m19 0h1m71 0h1m21 0h1m-115 1h2m18 0h1m69 0h2m21 0h1m-113 1h1m18 0h1m68 0h2m21 0h1m-112 1h1m18 0h2m66 0h2m21 0h1m-111 1h1m19 0h1m65 0h1m21 0h2m-110 1h1m19 0h1m64 0h1m21 0h2m-109 1h2m18 0h1m63 0h1m21 0h2m-107 1h1m18 0h1m62 0h1m21 0h2m-106 1h1m19 0h1m60 0h1m21 0h2m-105 1h1m19 0h1m58 0h2m21 0h2m-104 1h2m18 0h1m57 0h2m21 0h2m-102 1h1m18 0h1m56 0h2m21 0h1m-100 1h1m18 0h1m55 0h1m22 0h1m-99 1h2m17 0h1m54 0h1m22 0h1m-97 1h1m18 0h1m52 0h1m22 0h1m-96 1h1m18 0h1m51 0h1m22 0h1m-94 1h1m17 0h1m50 0h1m22 0h1m-93 1h1m17 0h1m48 0h2m22 0h1m-92 1h1m17 0h1m47 0h2m22 0h1m-90 1h1m16 0h1m46 0h2m22 0h1m-89 1h1m62 0h1m23 0h1m-87 1h1m16 0h1m43 0h1m23 0h1m-86 1h1m16 0h1m42 0h1m23 0h1m-68 1h1m41 0h1m23 0h1m-83 1h1m15 0h1m40 0h1m23 0h1m-82 1h1m54 0h2m22 0h2m-80 1h1m53 0h1m22 0h2m-79 1h1m15 0h1m36 0h1m22 0h2m-77 1h1m14 0h1m35 0h1m22 0h2m-76 1h1m14 0h1m34 0h1m22 0h2m-60 1h1m33 0h1m22 0h1m-72 1h1m46 0h1m22 0h1m-71 1h1m46 0h1m21 0h1m-69 1h1m13 0h1m30 0h1m21 0h1m-68 1h1m13 0h1m29 0h1m21 0h1m-66 1h1m12 0h1m28 0h1m21 0h1m-65 1h1m40 0h1m21 0h1m-24 1h1m21 0h1m-62 1h1m59 0h1m-48 1h1m44 0h2m-59 1h1m11 0h1m23 0h1m19 0h1m-45 1h1m22 0h1m18 0h2m-55 1h1m32 0h1m18 0h1m-21 1h1m18 0h1m-51 1h1m47 0h2m-39 1h1m35 0h1m-47 1h1m9 0h1m17 0h1m16 0h1m-36 1h1m16 0h1m15 0h1m-43 1h1m24 0h1m15 0h1m-18 1h1m14 0h1m-39 1h1m36 0h1m-29 1h1m26 0h1m-36 1h1m7 0h1m24 0h1m-15 1h1m12 0h1m-32 1h1m16 0h1m11 0h1m-2 1h1m-28 1h1m6 1h1m16 0h1m-24 1h1m10 1h1m8 0h1m-26 1h2m4 0h1m17 0h1m-24 1h1m2 0h1m18 0h1m-22 1h1m3 0h2m4 0h1m9 0h1m-4 2h1m-16 2h1m14 0h1m-16 1h1m14 0h1m-16 1h1m13 1h1m-2 1h1m-15 1h1m12 0h1m0 1h1m-16 1h1m6 0h1m2 0h1m-12 1h2m15 0h1m-18 1h2m10 0h1m4 0h1m-18 1h2m3 0h1m11 0h1m-17 1h4m8 0h2m1 0h2m-3 1h3"/>
<path stroke="#402bb6" d="M0 0m81 0h1m10 0h1m141 0h1m-154 1h1m10 0h1m140 0h1m-153 1h1m10 0h2m138 0h1m-152 1h1m11 0h1m136 0h2m-151 1h1m11 0h1m135 0h2m-150 1h2m10 0h1m134 0h2m-149 1h2m10 0h2m132 0h1m-147 1h2m11 0h1m131 0h1m-145 1h1m11 0h1m130 0h1m-144 1h1m11 0h2m128 0h1m-143 1h1m11 0h2m127 0h1m-142 1h1m12 0h1m125 0h2m-141 1h1m12 0h1m124 0h2m-140 1h2m11 0h2m122 0h2m-139 1h2m12 0h1m121 0h1m16 0h1m-153 1h1m12 0h1m120 0h1m16 0h2m-153 1h1m12 0h1m119 0h1m16 0h1m-151 1h1m12 0h2m117 0h1m16 0h1m-150 1h1m13 0h1m116 0h1m16 0h1m-149 1h1m13 0h1m115 0h1m16 0h1m-148 1h2m12 0h1m113 0h2m16 0h1m-147 1h2m12 0h2m111 0h2m16 0h1m-145 1h1m13 0h1m110 0h2m16 0h1m-144 1h1m13 0h1m109 0h1m17 0h1m-143 1h1m13 0h2m107 0h1m17 0h1m-142 1h1m14 0h1m106 0h1m17 0h1m-141 1h1m14 0h1m105 0h1m17 0h1m-140 1h2m13 0h1m104 0h1m17 0h1m-138 1h1m13 0h2m101 0h2m16 0h2m-137 1h1m14 0h1m100 0h2m16 0h2m-136 1h1m14 0h1m99 0h2m16 0h2m-135 1h1m14 0h1m98 0h1m17 0h2m-134 1h1m15 0h1m96 0h1m17 0h2m-132 1h1m14 0h1m95 0h1m17 0h1m-130 1h1m14 0h1m94 0h1m17 0h1m-129 1h1m15 0h1m92 0h1m17 0h1m-128 1h1m15 0h1m91 0h1m17 0h1m-127 1h1m15 0h1m89 0h2m17 0h1m-126 1h1m15 0h1m88 0h1m18 0h1m-124 1h1m15 0h1m86 0h1m18 0h1m-123 1h1m15 0h1m85 0h1m18 0h1m-122 1h1m15 0h1m84 0h1m18 0h1m-121 1h1m16 0h1m82 0h1m18 0h1m-120 1h1m16 0h1m81 0h1m18 0h1m-118 1h1m15 0h1m79 0h2m18 0h1m-117 1h1m16 0h1m77 0h2m18 0h1m-116 1h1m16 0h1m76 0h1m19 0h1m-115 1h1m16 0h1m75 0h1m19 0h1m-114 1h1m16 0h2m73 0h1m18 0h2m-112 1h1m16 0h1m72 0h1m18 0h2m-111 1h1m16 0h1m71 0h1m18 0h2m-110 1h1m16 0h1m70 0h1m18 0h2m-109 1h1m17 0h1m67 0h2m18 0h1m-107 1h1m17 0h1m66 0h2m18 0h1m-105 1h1m16 0h1m65 0h1m19 0h1m-104 1h1m16 0h1m64 0h1m19 0h1m-103 1h1m17 0h1m62 0h1m19 0h1m-102 1h1m17 0h1m61 0h1m19 0h1m-100 1h1m16 0h1m60 0h1m19 0h1m-99 1h1m16 0h1m59 0h1m19 0h1m-98 1h1m16 0h1m57 0h2m19 0h1m-96 1h1m72 0h1m20 0h1m-95 1h1m16 0h1m54 0h1m20 0h1m-94 1h1m16 0h1m53 0h1m20 0h1m-92 1h1m15 0h1m52 0h1m20 0h1m-91 1h1m15 0h1m51 0h1m20 0h1m-90 1h1m66 0h1m20 0h1m-88 1h1m64 0h1m20 0h1m-87 1h1m15 0h1m46 0h1m21 0h1m-70 1h1m45 0h1m21 0h1m-84 1h1m14 0h1m44 0h1m21 0h1m-83 1h1m58 0h1m20 0h2m-81 1h1m56 0h1m20 0h2m-80 1h1m14 0h1m40 0h1m20 0h1m-63 1h1m39 0h1m20 0h1m-76 1h1m13 0h1m38 0h1m20 0h1m-61 1h1m37 0h1m20 0h1m-73 1h1m49 0h1m20 0h1m-72 1h1m48 0h1m20 0h1m-57 1h1m33 0h1m20 0h1m-69 1h1m12 0h1m53 0h1m-55 1h1m52 0h1m-66 1h1m43 0h1m19 0h1m-22 1h1m19 0h1m-63 1h1m11 0h1m28 0h1m19 0h1m-62 1h1m11 0h1m27 0h1m19 0h1m-49 1h1m26 0h1m18 0h2m-59 1h1m36 0h1m18 0h1m-2 1h1m-55 1h1m51 0h1m-42 1h1m22 0h1m16 0h1m-51 1h1m9 0h1m21 0h1m16 0h1m-19 1h1m15 0h1m-47 1h1m28 0h1m15 0h1m-2 1h1m-3 1h1m-33 1h1m30 0h1m-17 2h1m12 0h1m-15 1h1m12 0h1m-15 1h1m-13 1h1m22 0h1m-4 2h1m-2 1h1m-12 1h1m-8 1h1m5 0h1m8 0h1m-25 3h2m18 0h1m-20 1h1m1 0h1m15 0h1m-18 1h1m15 0h1m-16 1h1m-1 1h1m12 0h1m-1 3h1m-14 1h1m-1 1h1m10 0h1m-13 1h1m5 0h2m-9 1h1m8 0h1m-10 1h1m13 0h1m-10 1h1m4 0h1m3 0h1m-15 1h1m3 0h1m9 0h1m-15 1h3m8 0h1m2 0h1m-2 1h1"/>
<path stroke="#412dbb" d="M0 0m82 0h2m6 0h2m143 0h1m-154 1h2m6 0h2m142 0h1m-153 1h2m7 0h1m141 0h1m-152 1h2m7 0h2m139 0h1m-151 1h2m7 0h2m138 0h1m-149 1h1m8 0h1m137 0h1m-148 1h1m8 0h1m135 0h2m-147 1h1m8 0h2m133 0h2m-146 1h1m8 0h2m132 0h2m-145 1h1m9 0h1m131 0h1m-143 1h2m8 0h1m130 0h1m-142 1h2m8 0h2m128 0h1m-141 1h2m9 0h1m127 0h1m-139 1h1m9 0h1m126 0h1m13 0h1m-152 1h1m9 0h2m123 0h2m13 0h1m-151 1h1m10 0h1m122 0h2m13 0h1m-150 1h1m10 0h1m121 0h2m13 0h1m-149 1h1m10 0h1m120 0h1m14 0h1m-148 1h1m10 0h2m118 0h1m14 0h1m-147 1h2m10 0h1m117 0h1m14 0h1m-145 1h1m10 0h1m116 0h1m14 0h1m-144 1h1m10 0h1m115 0h1m14 0h1m-143 1h1m11 0h1m113 0h1m14 0h1m-142 1h1m11 0h1m111 0h2m14 0h1m-141 1h1m11 0h1m110 0h1m14 0h2m-140 1h1m11 0h2m108 0h1m14 0h2m-139 1h2m11 0h1m107 0h1m14 0h2m-137 1h1m11 0h1m106 0h1m14 0h2m-136 1h1m11 0h1m105 0h1m14 0h1m-134 1h1m12 0h1m103 0h1m14 0h1m-133 1h1m12 0h1m102 0h1m14 0h1m-132 1h1m12 0h1m100 0h2m14 0h1m-131 1h1m13 0h1m98 0h1m15 0h1m-129 1h1m12 0h1m97 0h1m15 0h1m-128 1h1m12 0h1m96 0h1m15 0h1m-127 1h1m13 0h1m94 0h1m15 0h1m-126 1h1m13 0h1m93 0h1m15 0h1m-125 1h1m13 0h1m92 0h1m15 0h1m-124 1h1m13 0h1m90 0h2m15 0h1m-122 1h1m13 0h1m88 0h1m16 0h1m-121 1h1m13 0h1m87 0h1m16 0h1m-120 1h1m13 0h1m86 0h1m16 0h1m-119 1h1m14 0h1m84 0h1m16 0h1m-118 1h1m14 0h1m83 0h1m16 0h1m-116 1h1m13 0h1m82 0h1m16 0h1m-115 1h1m14 0h1m80 0h1m16 0h1m-114 1h1m14 0h1m78 0h2m15 0h2m-113 1h1m14 0h1m77 0h1m16 0h2m-112 1h1m91 0h1m16 0h1m-94 1h1m74 0h1m16 0h1m-108 1h1m14 0h1m73 0h1m16 0h1m-107 1h1m87 0h1m16 0h1m-106 1h1m15 0h1m70 0h1m16 0h1m-105 1h1m15 0h1m69 0h1m16 0h1m-88 1h1m67 0h1m17 0h1m-102 1h1m81 0h1m17 0h1m-101 1h1m15 0h1m64 0h1m17 0h1m-100 1h1m15 0h1m63 0h1m17 0h1m-83 1h1m62 0h1m17 0h1m-97 1h1m14 0h1m61 0h1m17 0h1m-96 1h1m75 0h1m17 0h1m-79 1h1m57 0h1m18 0h1m-93 1h1m14 0h1m56 0h1m18 0h1m-92 1h1m14 0h1m55 0h1m18 0h1m-76 1h1m54 0h1m18 0h1m-89 1h1m67 0h1m18 0h1m-88 1h1m14 0h1m51 0h1m18 0h1m-72 1h1m50 0h1m18 0h1m-85 1h1m13 0h1m48 0h1m19 0h1m-84 1h1m61 0h1m19 0h1m-82 1h1m59 0h1m19 0h1m-81 1h1m13 0h1m44 0h1m-46 1h1m43 0h1m18 0h1m-77 1h1m12 0h1m42 0h1m18 0h1m-76 1h1m54 0h1m18 0h1m-21 1h1m18 0h1m-73 1h1m51 0h1m18 0h1m-59 1h1m37 0h1m18 0h1m-70 1h1m11 0h1m36 0h1m18 0h1m-69 1h1m47 0h1m18 0h1m-21 1h1m18 0h1m-66 1h1m44 0h1m18 0h1m-53 1h1m50 0h1m-63 1h1m10 0h1m49 0h1m-2 1h1m-2 1h1m-59 1h1m38 0h1m16 0h1m-46 1h1m26 0h1m16 0h1m-55 1h1m9 0h1m25 0h1m16 0h1m-19 1h1m-35 1h1m48 0h1m-2 1h1m-39 1h1m-1 1h1m34 0h1m-2 1h1m-43 1h1m26 0h1m-2 1h1m12 0h1m-39 1h1m7 0h1m15 0h1m12 0h1m-37 2h1m32 0h1m-2 1h1m-32 1h1m6 1h1m20 0h1m-28 1h1m15 0h1m-2 1h1m-15 1h1m21 0h1m-22 2h1m4 0h1m11 1h1m-17 1h1m-4 1h1m9 0h1m-8 1h2m10 0h1m-2 1h1m-14 2h1m12 0h1m-1 1h1m-14 1h1m11 1h1m-14 3h1m4 0h1m6 0h1m-14 2h1m3 0h1m-4 1h3m7 0h1m0 1h2"/>
<path stroke="#422fc0" d="M0 0m84 0h6m-6 1h6m145 0h1m-152 1h3m1 0h3m143 0h2m-152 1h2m3 0h2m142 0h2m-151 1h2m3 0h2m141 0h1m-149 1h2m3 0h3m139 0h1m-148 1h2m4 0h2m138 0h1m-147 1h2m4 0h2m137 0h1m-146 1h2m5 0h1m136 0h1m-145 1h2m5 0h2m133 0h2m-143 1h1m5 0h2m132 0h2m-142 1h1m6 0h1m131 0h1m-140 1h1m6 0h2m129 0h1m11 0h1m-151 1h1m6 0h2m128 0h1m11 0h1m-150 1h1m7 0h1m127 0h1m11 0h1m-149 1h2m6 0h2m125 0h1m11 0h1m-148 1h2m6 0h2m124 0h1m11 0h1m-147 1h2m7 0h1m122 0h2m11 0h1m-146 1h2m7 0h1m121 0h2m11 0h1m-144 1h1m7 0h2m119 0h1m11 0h2m-143 1h1m8 0h1m118 0h1m11 0h2m-142 1h1m8 0h1m117 0h1m11 0h2m-141 1h1m8 0h2m115 0h1m11 0h2m-140 1h1m9 0h1m114 0h1m11 0h2m-139 1h1m9 0h1m112 0h2m11 0h1m-137 1h2m8 0h1m111 0h2m11 0h1m-135 1h1m9 0h1m109 0h1m12 0h1m-134 1h1m9 0h1m108 0h1m12 0h1m-133 1h1m9 0h1m107 0h1m12 0h1m-132 1h1m10 0h1m105 0h1m12 0h1m-131 1h1m10 0h1m104 0h1m12 0h1m-130 1h1m10 0h1m103 0h1m12 0h1m-129 1h2m10 0h1m100 0h2m12 0h1m-127 1h1m10 0h1m99 0h1m13 0h1m-126 1h1m10 0h1m98 0h1m13 0h1m-125 1h1m11 0h1m96 0h1m13 0h1m-124 1h1m11 0h1m95 0h1m13 0h1m-123 1h1m11 0h1m94 0h1m13 0h1m-122 1h1m11 0h1m93 0h1m13 0h1m-120 1h1m11 0h1m90 0h2m13 0h1m-119 1h1m11 0h1m89 0h1m14 0h1m-118 1h1m11 0h1m88 0h1m14 0h1m-117 1h1m12 0h1m86 0h1m14 0h1m-116 1h1m12 0h1m85 0h1m14 0h1m-102 1h1m84 0h1m14 0h1m-113 1h1m12 0h1m82 0h1m13 0h2m-112 1h1m12 0h1m81 0h1m13 0h1m-110 1h1m12 0h1m79 0h1m14 0h1m-109 1h1m13 0h1m77 0h1m14 0h1m-108 1h1m13 0h1m76 0h1m14 0h1m-106 1h1m12 0h1m75 0h1m14 0h1m-105 1h1m13 0h1m73 0h1m14 0h1m-104 1h1m13 0h1m72 0h1m14 0h1m-103 1h1m13 0h1m71 0h1m14 0h1m-102 1h1m83 0h1m15 0h1m-86 1h1m67 0h1m15 0h1m-99 1h1m13 0h1m66 0h1m15 0h1m-98 1h1m13 0h1m65 0h1m15 0h1m-97 1h1m78 0h1m15 0h1m-18 1h1m15 0h1m-94 1h1m13 0h1m61 0h1m15 0h1m-93 1h1m13 0h1m59 0h1m16 0h1m-78 1h1m58 0h1m16 0h1m-90 1h1m70 0h1m16 0h1m-89 1h1m69 0h1m16 0h1m-74 1h1m54 0h1m16 0h1m-86 1h1m12 0h1m53 0h1m16 0h1m-85 1h1m82 0h1m-20 1h1m17 0h1m-82 1h1m12 0h1m48 0h1m17 0h1m-68 1h1m47 0h1m17 0h1m-67 1h1m46 0h1m17 0h1m-78 1h1m57 0h1m-2 1h1m-57 1h1m11 0h1m-13 1h1m11 0h1m-12 2h1m67 0h1m-19 1h1m16 0h1m-56 1h1m36 0h1m16 0h1m-66 1h1m10 0h1m35 0h1m16 0h1m-19 1h1m16 0h1m-63 1h1m43 0h1m16 0h1m-19 1h1m16 0h1m-50 1h1m30 0h1m16 0h1m-59 1h1m9 0h1m29 0h1m16 0h1m-57 2h1m52 0h1m-2 1h1m-43 1h1m40 0h1m-18 2h1m13 0h1m-47 1h1m30 0h1m13 0h1m-16 1h1m-30 1h1m7 0h1m19 0h1m12 0h1m-2 1h1m-40 1h1m35 1h1m-29 1h1m26 0h1m-15 3h1m9 0h1m-12 1h1m-12 1h1m17 1h1m-5 3h1m-14 1h1m3 1h1m4 1h1m-16 1h2m5 0h2m3 2h1m-13 2h1m0 2h1m8 1h1m-11 1h1m-2 2h1m3 0h1m4 0h1m2 0h1m-13 1h3m9 0h1m-2 1h2"/>
<path stroke="#4331c7" d="M0 0m87 2h1m-2 1h3m146 0h1m-150 1h3m144 0h2m-149 1h3m143 0h2m-148 1h4m141 0h2m-147 1h4m140 0h2m-146 1h5m138 0h1m-144 1h5m137 0h1m-143 1h5m136 0h1m7 0h1m-150 1h6m133 0h2m7 0h2m-150 1h6m132 0h2m7 0h2m-149 1h6m131 0h2m7 0h2m-148 1h3m1 0h3m129 0h1m8 0h2m-146 1h2m2 0h2m128 0h1m8 0h2m-145 1h2m2 0h2m127 0h1m8 0h2m-144 1h2m3 0h2m125 0h1m8 0h2m-143 1h2m3 0h2m124 0h1m8 0h2m-142 1h2m4 0h1m122 0h2m8 0h1m-140 1h2m4 0h2m120 0h2m8 0h1m-139 1h2m5 0h1m119 0h1m9 0h1m-138 1h2m5 0h1m118 0h1m9 0h1m-137 1h2m5 0h2m116 0h1m9 0h1m-136 1h2m6 0h1m115 0h1m9 0h1m-134 1h1m6 0h1m114 0h1m9 0h1m-133 1h1m6 0h2m111 0h2m9 0h1m-132 1h1m7 0h1m110 0h1m10 0h1m-131 1h1m7 0h1m109 0h1m10 0h1m-130 1h1m7 0h2m107 0h1m10 0h1m-129 1h1m8 0h1m106 0h1m10 0h1m-128 1h1m8 0h1m105 0h1m10 0h1m-126 1h1m7 0h2m103 0h1m10 0h1m-125 1h1m8 0h1m101 0h2m10 0h1m-124 1h1m8 0h1m100 0h1m11 0h1m-123 1h1m8 0h2m98 0h1m11 0h1m-122 1h1m9 0h1m97 0h1m11 0h1m-121 1h1m9 0h1m96 0h1m11 0h1m-120 1h1m9 0h1m95 0h1m11 0h1m-118 1h1m9 0h1m93 0h1m11 0h1m-117 1h1m9 0h1m91 0h1m12 0h1m-116 1h1m100 0h1m12 0h1m-115 1h1m10 0h1m88 0h1m12 0h1m-114 1h1m10 0h1m87 0h1m12 0h1m-113 1h1m97 0h1m11 0h2m-100 1h1m84 0h1m11 0h1m-109 1h1m10 0h1m83 0h1m11 0h1m-108 1h1m92 0h1m12 0h1m-107 1h1m11 0h1m79 0h1m12 0h1m-106 1h1m11 0h1m78 0h1m12 0h1m-15 1h1m12 0h1m-103 1h1m11 0h1m75 0h1m12 0h1m-102 1h1m11 0h1m74 0h1m12 0h1m-101 1h1m98 0h1m-100 1h1m12 0h1m70 0h1m13 0h1m-99 1h1m12 0h1m69 0h1m13 0h1m-85 1h1m68 0h1m13 0h1m-96 1h1m79 0h1m13 0h1m-95 1h1m12 0h1m65 0h1m13 0h1m-94 1h1m12 0h1m64 0h1m13 0h1m-92 1h1m11 0h1m77 0h1m-91 1h1m73 0h1m14 0h1m-90 1h1m72 0h1m14 0h1m-76 1h1m58 0h1m14 0h1m-87 1h1m11 0h1m57 0h1m14 0h1m-86 1h1m68 0h1m14 0h1m-2 1h1m-83 1h1m11 0h1m52 0h1m15 0h1m-82 1h1m11 0h1m51 0h1m15 0h1m-69 1h1m50 0h1m15 0h1m-79 1h1m60 0h1m15 0h1m-78 1h1m59 0h1m15 0h1m-65 1h1m46 0h1m15 0h1m-75 1h1m10 0h1m61 0h1m-19 1h1m16 0h1m-19 1h1m16 0h1m-71 1h1m10 0h1m40 0h1m16 0h1m-59 1h1m39 0h1m-51 1h1m-1 1h1m0 2h1m9 0h1m-1 1h1m-10 2h1m41 0h1m14 0h1m-17 1h1m14 0h1m-56 1h1m8 0h1m29 0h1m14 0h1m-17 1h1m-2 1h1m13 0h1m-51 1h1m34 0h1m13 0h1m-41 1h1m24 0h1m13 0h1m-48 1h1m43 1h1m-2 1h1m-35 2h1m29 1h1m-37 2h1m22 0h1m-17 1h1m14 0h1m9 0h1m-32 1h1m19 0h1m9 0h1m-5 3h1m-20 1h1m14 2h1m-10 2h1m4 1h1m-16 3h1m-1 1h1m10 3h1m-12 2h1m5 1h1m-8 2h1m8 1h1"/>
<path stroke="#4433cd" d="M0 0m235 4h1m-2 1h2m-3 1h3m-4 1h2m-4 1h3m2 0h1m-7 1h3m2 0h2m-8 1h2m3 0h2m-8 1h2m3 0h2m-8 1h2m3 0h2m-8 1h2m3 0h2m-143 1h1m133 0h2m4 0h2m-142 1h2m131 0h2m4 0h2m-141 1h2m130 0h2m4 0h2m-140 1h3m128 0h2m4 0h2m-139 1h3m127 0h2m4 0h2m-138 1h4m125 0h1m5 0h2m-137 1h4m124 0h1m5 0h2m-136 1h5m121 0h2m5 0h2m-135 1h5m120 0h2m5 0h2m-134 1h5m119 0h2m5 0h2m-133 1h2m1 0h3m117 0h1m6 0h2m-132 1h2m2 0h2m116 0h1m6 0h2m-131 1h2m3 0h1m115 0h1m6 0h2m-130 1h2m3 0h2m112 0h2m6 0h2m-129 1h2m4 0h1m111 0h2m6 0h2m-128 1h2m4 0h1m110 0h2m6 0h2m-127 1h2m4 0h2m108 0h1m7 0h2m-126 1h2m5 0h1m107 0h1m7 0h2m-124 1h1m5 0h1m106 0h1m7 0h2m-123 1h1m6 0h1m104 0h1m7 0h2m-122 1h1m6 0h1m102 0h2m7 0h2m-121 1h1m6 0h1m101 0h2m7 0h2m-120 1h1m7 0h1m99 0h1m8 0h2m-119 1h1m7 0h1m98 0h1m8 0h2m-118 1h1m7 0h1m97 0h1m8 0h2m-116 1h1m7 0h1m95 0h1m8 0h2m-115 1h1m7 0h1m93 0h2m8 0h2m-114 1h1m8 0h1m91 0h1m9 0h2m-113 1h1m8 0h1m90 0h1m9 0h2m-112 1h1m8 0h1m89 0h1m9 0h2m-111 1h1m9 0h1m87 0h1m9 0h1m-109 1h1m9 0h1m86 0h1m9 0h1m-107 1h1m8 0h1m85 0h1m9 0h1m-106 1h1m9 0h1m82 0h1m10 0h1m-105 1h1m9 0h1m81 0h1m10 0h1m-104 1h1m9 0h1m80 0h1m10 0h1m-103 1h1m10 0h1m78 0h1m10 0h1m-91 1h1m77 0h1m10 0h1m-90 1h1m76 0h1m10 0h1m-99 1h1m10 0h1m73 0h1m11 0h1m-98 1h1m10 0h1m72 0h1m11 0h1m-97 1h1m10 0h1m71 0h1m11 0h1m-96 1h1m81 0h1m11 0h1m-83 1h1m68 0h1m11 0h1m-93 1h1m10 0h1m67 0h1m11 0h1m-92 1h1m10 0h1m78 0h1m-15 1h1m12 0h1m-89 1h1m10 0h1m62 0h1m12 0h1m-88 1h1m10 0h1m61 0h1m12 0h1m-87 1h1m10 0h1m60 0h1m12 0h1m-15 1h1m12 0h1m-84 1h1m10 0h1m70 0h1m-83 1h1m10 0h1m55 0h1m13 0h1m-71 1h1m54 0h1m13 0h1m-80 1h1m63 0h1m13 0h1m-79 1h1m62 0h1m13 0h1m-67 1h1m50 0h1m13 0h1m-76 1h1m9 0h1m49 0h1m13 0h1m-75 1h1m72 0h1m-17 1h1m14 0h1m-72 1h1m9 0h1m44 0h1m14 0h1m-71 1h1m9 0h1m43 0h1m14 0h1m-17 1h1m14 0h1m-68 1h1m50 0h1m14 0h1m-57 1h1m39 0h1m14 0h1m-56 1h1m38 0h1m14 0h1m-64 1h1m46 0h1m14 0h1m-17 1h1m14 0h1m-17 1h1m14 0h1m-60 1h1m8 0h1m33 0h1m14 0h1m-58 2h1m53 0h1m-2 1h1m-45 1h1m42 0h1m-52 1h1m47 1h1m-2 1h1m-39 1h1m36 0h1m-45 2h1m28 1h1m10 0h1m-40 1h1m26 0h1m10 0h1m-32 1h1m18 0h1m-2 1h1m8 1h1m-27 2h1m21 1h1m-28 1h1m25 0h1m-26 2h1m20 1h1m-9 1h1m-2 1h1m4 1h1m-12 1h1m-5 3h1m9 0h1m-1 2h1m-1 1h1m-12 1h1m9 1h1m-2 2h1m-11 1h1m0 1h2m7 1h1"/>
<path stroke="#4536d4" d="M0 0m234 7h2m-3 1h2m-3 1h2m-4 1h3m-4 1h3m-4 1h3m-4 1h3m-5 1h4m-5 1h4m-5 1h4m-5 1h4m-5 1h4m-6 1h5m-6 1h5m-6 1h5m-6 1h5m-6 1h5m-129 1h1m121 0h6m-128 1h2m119 0h6m-127 1h3m117 0h6m-126 1h3m116 0h3m1 0h2m-125 1h4m114 0h2m2 0h2m-124 1h4m113 0h2m2 0h2m-123 1h4m111 0h2m3 0h2m-122 1h5m109 0h2m4 0h1m-121 1h5m108 0h2m4 0h1m-120 1h2m1 0h3m106 0h2m4 0h1m-119 1h2m2 0h2m105 0h1m5 0h1m-118 1h2m3 0h1m104 0h1m5 0h1m-117 1h2m3 0h2m101 0h2m5 0h1m-116 1h2m4 0h1m100 0h2m5 0h1m-115 1h2m4 0h1m99 0h1m6 0h1m-113 1h1m5 0h1m97 0h1m6 0h1m-112 1h1m5 0h1m96 0h1m6 0h1m-111 1h1m5 0h2m93 0h2m6 0h1m-110 1h1m6 0h1m92 0h2m6 0h1m-109 1h1m6 0h1m91 0h1m7 0h1m-108 1h1m7 0h1m89 0h1m7 0h1m-107 1h1m7 0h1m88 0h1m7 0h1m-105 1h1m6 0h1m87 0h1m7 0h1m-104 1h1m7 0h1m84 0h2m7 0h1m-103 1h1m7 0h1m83 0h1m8 0h1m-102 1h1m7 0h1m82 0h1m8 0h1m-101 1h1m8 0h1m80 0h1m8 0h1m-100 1h1m8 0h1m79 0h1m8 0h1m-99 1h1m87 0h1m8 0h1m-88 1h1m75 0h2m8 0h1m-96 1h1m8 0h1m74 0h1m9 0h1m-95 1h1m82 0h1m9 0h1m-94 1h1m9 0h1m71 0h1m9 0h1m-93 1h1m9 0h1m70 0h1m9 0h1m-82 1h1m69 0h1m9 0h1m-90 1h1m76 0h1m10 0h1m-89 1h1m9 0h1m65 0h1m10 0h1m-78 1h1m64 0h1m10 0h1m-13 1h1m10 0h1m-85 1h1m71 0h1m10 0h1m-84 1h1m9 0h1m60 0h1m10 0h1m-73 1h1m58 0h1m11 0h1m-81 1h1m66 0h1m11 0h1m-80 1h1m65 0h1m11 0h1m-69 1h1m54 0h1m11 0h1m-68 1h1m53 0h1m11 0h1m-76 1h1m73 0h1m-2 1h1m-64 1h1m48 0h1m12 0h1m-72 1h1m56 0h1m12 0h1m-15 1h1m12 0h1m-15 1h1m12 0h1m-68 1h1m8 0h1m43 0h1m12 0h1m-15 1h1m12 0h1m-15 1h1m12 0h1m-64 1h1m48 0h1m12 0h1m-54 1h1m38 0h1m12 0h1m-15 1h1m12 0h1m-60 1h1m44 0h1m12 0h1m-15 1h1m12 0h1m-49 1h1m33 0h1m12 0h1m-15 1h1m-2 1h1m11 0h1m-52 1h1m37 0h1m11 0h1m-43 1h1m28 0h1m11 0h1m-14 1h1m-36 1h1m33 0h1m-2 1h1m10 0h1m-44 1h1m6 0h1m23 0h1m10 0h1m-13 1h1m10 0h1m-5 3h1m-36 1h1m33 0h1m-5 3h1m-24 1h1m10 3h1m6 0h1m-18 1h1m8 0h1m-14 1h1m16 1h1m-17 1h1m10 3h1m-11 1h1m7 1h1m-11 1h1m0 3h1m0 3h1m6 0h1m-2 1h2"/>
<path stroke="#463ada" d="M0 0m213 27h1m-3 1h2m-3 1h2m-4 1h3m-4 1h4m-5 1h4m-117 1h1m111 0h4m-116 1h2m108 0h5m-115 1h3m106 0h5m-114 1h3m105 0h5m-113 1h4m103 0h5m-112 1h4m101 0h6m-111 1h5m99 0h6m-110 1h5m98 0h6m-109 1h2m1 0h2m97 0h2m2 0h2m-108 1h2m2 0h2m95 0h2m2 0h2m-107 1h2m3 0h1m93 0h2m3 0h2m-106 1h2m3 0h2m91 0h2m3 0h2m-105 1h2m4 0h1m90 0h2m3 0h2m-103 1h1m4 0h1m89 0h1m5 0h1m-102 1h1m5 0h1m87 0h1m5 0h1m-101 1h1m5 0h1m85 0h2m5 0h1m-100 1h1m5 0h1m84 0h2m5 0h1m-99 1h1m6 0h1m82 0h1m6 0h1m-98 1h1m6 0h1m81 0h1m6 0h1m-97 1h1m7 0h1m79 0h1m6 0h1m-96 1h1m7 0h1m78 0h1m6 0h1m-94 1h1m6 0h1m76 0h2m6 0h1m-93 1h1m7 0h1m74 0h1m7 0h1m-92 1h1m7 0h1m73 0h1m7 0h1m-91 1h1m7 0h1m72 0h1m7 0h1m-90 1h1m79 0h1m7 0h1m-80 1h1m68 0h1m8 0h1m-87 1h1m7 0h1m67 0h1m8 0h1m-86 1h1m74 0h1m8 0h1m-85 1h1m8 0h1m64 0h1m8 0h1m-75 1h1m63 0h1m8 0h1m-82 1h1m79 0h1m-81 1h1m68 0h1m9 0h1m-71 1h1m58 0h1m9 0h1m-70 1h1m57 0h1m9 0h1m-77 1h1m64 0h1m9 0h1m-76 1h1m63 0h1m9 0h1m-66 1h1m52 0h1m10 0h1m-73 1h1m59 0h1m10 0h1m-72 1h1m58 0h1m10 0h1m-62 1h1m48 0h1m10 0h1m-61 1h1m47 0h1m10 0h1m-68 1h1m65 0h1m-2 1h1m-57 1h1m54 0h1m-64 1h1m7 0h1m53 0h1m-2 1h1m-2 1h1m-60 1h1m7 0h1m49 0h1m-2 1h1m-2 1h1m-56 1h1m53 0h1m-47 1h1m44 0h1m-53 1h1m47 2h1m-48 1h1m6 0h1m38 0h1m-2 1h1m-38 3h1m-7 1h1m37 0h1m-2 1h1m-31 2h1m25 1h1m-32 1h1m29 0h1m-30 2h1m18 0h1m-2 1h1m-2 1h1m6 0h1m-21 7h1m10 0h1m-13 3h1m-2 2h1m4 3h1m-6 1h1m2 0h1m-4 1h1m6 0h1"/>
<path stroke="#463de0" d="M0 0m95 41h1m101 0h2m-104 1h2m99 0h2m-103 1h3m96 0h3m-102 1h3m95 0h3m-101 1h4m93 0h3m-100 1h4m91 0h5m-100 1h5m89 0h5m-99 1h2m1 0h2m88 0h5m-98 1h2m2 0h1m87 0h5m-97 1h2m2 0h2m84 0h6m-96 1h1m4 0h1m83 0h6m-95 1h2m3 0h2m81 0h2m2 0h2m-94 1h2m4 0h1m80 0h2m2 0h2m-92 1h1m4 0h1m79 0h1m3 0h2m-91 1h1m5 0h1m76 0h2m4 0h1m-90 1h1m5 0h1m75 0h2m4 0h1m-89 1h1m80 0h1m5 0h1m-88 1h1m6 0h1m72 0h1m5 0h1m-87 1h1m6 0h1m70 0h2m5 0h1m-9 1h1m6 0h1m-84 1h1m6 0h1m67 0h1m6 0h1m-83 1h1m6 0h1m66 0h1m6 0h1m-82 1h1m72 0h1m6 0h1m-73 1h1m62 0h2m6 0h1m-79 1h1m6 0h1m61 0h1m7 0h1m-78 1h1m67 0h1m7 0h1m-77 1h1m66 0h1m7 0h1m-68 1h1m57 0h1m7 0h1m-74 1h1m6 0h1m64 0h1m-73 1h1m61 0h1m8 0h1m-64 1h1m52 0h1m-54 1h1m51 0h1m-60 1h1m57 0h1m-59 1h1m7 1h1m46 0h1m-55 1h1m52 0h1m-54 1h1m51 0h1m-2 1h1m-44 1h1m41 0h1m-50 1h1m47 0h1m-2 1h1m-40 1h1m37 0h1m-46 1h1m6 0h1m36 0h1m-2 1h1m9 0h1m-12 1h1m9 0h1m-45 1h1m32 0h1m9 0h1m-12 1h1m9 0h1m-49 1h1m36 0h1m-2 1h1m-30 1h1m27 0h1m-35 1h1m32 0h1m8 0h1m-11 1h1m8 0h1m-11 1h1m8 0h1m-34 1h1m22 0h1m-2 1h1m-28 1h1m25 0h1m7 0h1m-10 1h1m7 0h1m-28 1h1m17 0h1m-2 1h1m-2 1h1m5 1h1m-22 1h1m19 0h1m-25 1h1m4 3h1m13 0h1m-9 10h1m-2 1h1m-9 3h1"/>
<path stroke="#4742e6" d="M0 0m97 48h1m-1 1h2m-2 1h2m-3 1h4m-3 1h3m85 0h2m-90 1h4m83 0h2m-89 1h4m81 0h3m-88 1h1m2 0h2m79 0h4m-88 1h1m3 0h1m78 0h4m-87 1h1m3 0h2m75 0h5m-86 1h1m4 0h1m74 0h5m-85 1h1m4 0h1m73 0h5m-84 1h1m5 0h1m70 0h6m-82 1h1m4 0h1m69 0h2m2 0h2m-81 1h1m4 0h1m68 0h2m2 0h2m-80 1h1m5 0h1m66 0h1m4 0h1m-79 1h1m5 0h1m65 0h1m4 0h1m-8 1h2m4 0h1m-70 1h1m61 0h1m5 0h1m-75 1h1m5 0h1m60 0h1m5 0h1m-74 1h1m65 0h1m5 0h1m-9 1h2m5 0h1m-65 1h1m55 0h1m6 0h1m-70 1h1m60 0h1m6 0h2m-70 1h1m59 0h1m7 0h1m-62 1h1m51 0h1m7 0h1m-11 1h1m8 0h1m-66 1h1m54 0h1m8 0h1m-58 1h1m46 0h1m8 0h1m-57 1h1m45 0h1m8 0h1m-62 1h1m50 0h1m8 0h1m-61 1h1m49 0h1m8 0h1m-53 1h1m50 0h1m-2 1h1m-57 1h1m54 0h1m-2 1h1m-48 1h1m-7 1h1m48 1h1m-43 1h1m40 0h1m-2 1h1m-2 1h1m-45 1h1m42 0h1m-38 1h1m-6 2h1m36 1h1m-32 1h1m29 0h1m-35 3h1m27 2h1m-26 5h1m18 0h1m-6 4h1m-10 1h1m-3 2h1m6 2h1m-10 2h1m-1 2h1m2 0h1m3 2h1"/>
<path stroke="#4746ea" d="M0 0m98 55h2m-2 1h3m-3 1h3m-3 1h4m-4 1h4m-4 1h5m-4 1h1m2 0h1m72 0h2m-78 1h1m2 0h1m71 0h2m-77 1h1m3 0h1m68 0h4m-77 1h1m3 0h1m67 0h4m-76 1h1m4 0h1m65 0h4m-75 1h1m4 0h1m63 0h5m-6 1h5m-72 1h1m4 0h1m60 0h2m1 0h2m-71 1h1m4 0h1m59 0h1m3 0h1m-70 1h1m62 0h2m3 0h1m-63 1h1m55 0h1m4 0h1m-62 1h1m54 0h1m4 0h2m-67 1h1m58 0h1m4 0h2m-66 1h1m5 0h1m50 0h1m6 0h1m-59 1h1m49 0h1m6 0h1m-9 1h1m6 0h1m-62 1h1m52 0h1m6 0h1m-55 1h1m45 0h1m6 0h1m-2 1h1m-58 1h1m47 0h1m7 0h1m-57 1h1m5 0h1m40 0h1m7 0h1m-10 1h1m7 0h1m-10 1h1m7 0h1m-53 1h1m42 0h1m7 0h1m-46 1h1m35 0h1m7 0h1m-10 1h1m-41 1h1m38 0h1m-34 1h1m36 2h1m-2 1h1m-41 1h1m4 0h1m33 0h1m-2 1h1m-38 2h1m30 3h1m-26 1h1m23 0h1m-29 1h1m4 3h1m17 0h1m-2 1h1m-6 4h1m-8 3h1m-3 1h1m-6 2h1m8 1h1m-3 3h1m-8 1h1"/>
<path stroke="#484bee" d="M0 0m100 61h2m-2 1h2m-2 1h3m-3 1h3m-3 1h4m-4 1h2m1 0h1m-4 1h2m1 0h2m-4 1h1m2 0h1m63 0h1m-68 1h1m2 0h1m61 0h3m-68 1h1m3 0h1m59 0h3m-67 1h1m3 0h1m57 0h4m-66 1h1m60 0h4m-60 1h1m54 0h4m-63 1h1m3 0h1m52 0h6m-63 1h1m55 0h2m2 0h2m-62 1h1m4 0h1m49 0h2m2 0h2m-7 1h1m3 0h2m-7 1h1m4 0h1m-58 1h1m4 0h1m44 0h1m5 0h1m-8 1h1m5 0h1m-8 1h1m5 0h1m-54 1h1m4 0h1m40 0h1m5 0h1m-53 1h1m44 0h1m5 0h1m-8 1h1m5 0h1m-2 1h1m-49 1h1m4 0h1m41 0h1m-2 1h1m-9 1h1m6 0h1m-45 1h1m4 0h1m30 0h1m6 0h1m-9 1h1m-2 1h1m-2 1h1m-2 1h1m-2 1h1m5 0h1m-8 1h1m5 0h1m-30 1h1m21 0h1m5 0h1m-33 1h1m24 0h1m5 0h1m-30 5h1m22 0h1m-22 5h1m2 0h1m7 0h1m3 0h1m-6 1h1m-2 1h1m-2 1h1m-3 2h1m2 0h1m-9 1h1m6 0h1m-9 2h1m6 2h1m-7 2h1m5 0h1"/>
<path stroke="#4850f2" d="M0 0m102 66h1m-1 1h1m-1 1h2m-2 1h2m-2 1h3m-3 1h1m1 0h1m-3 1h1m2 0h1m-4 1h1m2 0h1m0 2h1m53 0h2m-59 1h1m55 0h2m-58 1h1m3 0h1m49 0h3m-57 1h1m3 0h1m48 0h4m-6 1h5m-51 1h1m44 0h5m-54 1h1m3 0h1m43 0h2m1 0h2m-6 1h1m3 0h1m-47 1h1m40 0h1m3 0h1m-2 1h1m-49 1h1m41 0h1m4 0h1m-7 1h1m4 0h1m-42 1h1m34 0h1m4 0h1m-45 1h1m37 0h1m4 0h1m-7 1h1m4 0h1m-38 1h1m35 0h1m-41 1h1m38 0h1m-2 1h1m-34 1h1m31 0h1m-37 1h1m24 4h1m-2 1h1m4 0h1m-24 1h1m16 0h1m4 0h1m-7 1h1m4 0h1m-7 1h1m-2 1h1m-2 1h1m-2 1h1m-2 1h1m3 0h1m-16 3h1m8 2h1m-3 5h1m-8 1h1m3 1h1m0 1h1"/>
<path stroke="#4755f6" d="M0 0m103 71h1m-1 1h2m-2 1h2m-2 1h3m-3 1h3m-2 1h1m1 0h1m-3 1h1m1 0h1m-3 1h1m-1 1h1m2 0h1m-4 1h1m49 1h1m-47 1h1m43 0h3m-50 1h1m45 0h3m-49 1h1m3 0h1m39 0h4m-44 1h1m38 0h4m-5 1h1m2 0h1m-45 1h1m39 0h1m2 0h1m-5 1h1m2 0h1m-2 1h1m-41 1h1m34 0h1m3 0h1m-36 1h1m29 0h1m3 0h1m-6 1h1m3 0h1m-37 1h1m30 0h1m3 0h1m-32 1h1m25 0h1m3 0h1m-2 1h1m-33 1h1m30 0h1m-28 1h1m25 0h1m-2 1h1m-29 1h1m1 5h1m2 0h1m15 0h1m-2 1h1m-14 6h1"/>
<path stroke="#475af9" d="M0 0m105 76h1m-1 1h1m-1 1h2m-2 1h2m-2 1h3m-3 1h1m1 0h1m-3 1h1m2 1h1m-3 2h1m-1 1h1m2 0h1m38 0h2m-3 1h2m-39 1h1m35 0h2m-41 1h1m36 0h3m-4 1h3m-4 1h1m1 0h1m-4 1h1m1 0h1m-7 3h1m-2 1h1m-2 1h1m-23 1h1m20 0h1m-24 3h1m2 0h1m18 1h1m-2 1h1m-9 7h1m-10 1h1m-1 2h1m5 1h1m-8 2h1"/>
<path stroke="#465ffb" d="M0 0m106 81h1m-1 1h2m-2 1h2m-2 1h3m-1 1h1m-2 2h1m1 0h1m-3 1h1m2 1h1m-3 2h1m34 0h1m-36 1h1m2 0h1m30 0h1m-3 1h3m-4 1h3m-33 1h1m2 0h1m25 0h3m-4 1h1m1 0h1m-2 1h1m-29 1h1m26 0h1m-5 1h1m2 0h1m-5 1h1m2 0h1m-5 1h1m2 0h1m-5 1h1m-18 4h1m2 2h1m9 0h1m-2 1h1m-12 5h1m6 1h1m-8 3h2"/>
<path stroke="#4465fd" d="M0 0m107 85h1m-1 1h2m-1 1h1m-1 1h2m-2 1h1m-1 1h1m1 0h1m0 3h1m-3 1h1m2 2h1m25 0h1m-29 1h1m25 0h2m-3 1h2m-24 1h1m20 0h2m-25 1h1m22 0h1m-21 2h1m-3 1h1m16 0h1m-2 1h1m-14 1h1m11 0h1m0 1h1m-2 1h1"/>
<path stroke="#416bfe" d="M0 0m109 89h1m-1 1h1m-1 1h2m-2 1h2m-2 1h1m1 1h1m-2 2h1m22 4h1m-2 1h2m-3 1h2m-3 1h2m-2 1h1m-2 1h1m-4 1h1m-2 1h1m-12 1h1m9 0h1m-11 7h1m5 1h1m-2 2h1"/>
<path stroke="#3c71ff" d="M0 0m110 93h1m-1 1h1m-1 1h2m0 2h1m-2 2h1m1 1h1m-2 2h1m1 1h1m14 1h1m-17 1h1m14 0h1m-14 1h1m11 0h1m-12 3h1m6 0h1m-2 1h1m-6 2h1m3 0h1"/>
<path stroke="#3678fe" d="M0 0m111 96h1m-1 1h1m-1 1h2m-1 3h2m12 6h1m-2 1h1m-2 1h1m-10 1h1m7 0h1m-3 1h2m-3 1h1m-3 1h1m1 0h1m-1 1h1m-4 3h1"/>
<path stroke="#307efb" d="M0 0m112 99h1m-1 1h1m0 2h1m-1 2h2m-1 3h1m1 6h1m-2 3h1m3 1h1"/>
<path stroke="#2e85f8" d="M0 0m113 103h1m0 2h1m0 2h1m-1 7h1m4 1h1m-6 2h1"/>
<path stroke="#2d8bf4" d="M0 0m114 106h1m0 2h1m-1 1h1m0 1h1m-1 2h1m2 1h1m-4 4h1"/>
<path stroke="#2b91ef" d="M0 0m115 115h1m2 2h1"/>
<path stroke="#2797eb" d="M0 0m116 111h1m2 5h1"/>
<path stroke="#259de7" d="M0 0m117 113h1"/>
<path stroke="#1da8e0" d="M0 0m119 114h1"/>
<path stroke="#0eb2d4" d="M0 0m116 114h1"/>
<path stroke="#02bbc3" d="M0 0m119 115h1"/>
<path stroke="#11beba" d="M0 0m116 116h1"/>
<path stroke="#35c79a" d="M0 0m118 114h1m-3 1h1m1 1h1"/>
<path stroke="#52cc7e" d="M0 0m117 116h1"/>
<path stroke="#65cd6e" d="M0 0m117 114h1"/>
<path stroke="#cfc028" d="M0 0m118 115h1"/>
<path stroke="#fcbd3d" d="M0 0m117 115h1"/>
</g>
</g>
<rect x="392.50" y="202.40" width="234.70" height="132.10" fill="none" stroke="#262626" stroke-width="0.5"/>
<text transform="translate(392.30 350.40) scale(0.875 1)" text-anchor="middle" font-size="14.0">-10</text>
<text transform="translate(450.98 350.40) scale(0.875 1)" text-anchor="middle" font-size="14.0">-5</text>
<text transform="translate(509.85 350.40) scale(0.875 1)" text-anchor="middle" font-size="14.0">0</text>
<text transform="translate(568.52 350.40) scale(0.875 1)" text-anchor="middle" font-size="14.0">5</text>
<text transform="translate(627.20 350.40) scale(0.875 1)" text-anchor="middle" font-size="14.0">10</text>
<text transform="translate(388.70 322.23) scale(0.875 1)" text-anchor="end" font-size="14.0">20</text>
<text transform="translate(388.70 304.61) scale(0.875 1)" text-anchor="end" font-size="14.0">40</text>
<text transform="translate(388.70 287.00) scale(0.875 1)" text-anchor="end" font-size="14.0">60</text>
<text transform="translate(388.70 269.39) scale(0.875 1)" text-anchor="end" font-size="14.0">80</text>
<text transform="translate(388.70 251.77) scale(0.875 1)" text-anchor="end" font-size="14.0">100</text>
<text transform="translate(388.70 234.16) scale(0.875 1)" text-anchor="end" font-size="14.0">120</text>
<text transform="translate(388.70 216.55) scale(0.875 1)" text-anchor="end" font-size="14.0">140</text>
<rect x="638.30" y="202.40" width="11.50" height="132.10" fill="url(#cb)" stroke="#262626" stroke-width="0.5"/>
<text transform="translate(653.20 207.20) scale(0.875 1)" text-anchor="start" font-size="14.0">0</text>
<text transform="translate(653.20 251.23) scale(0.875 1)" text-anchor="start" font-size="14.0">-5</text>
<text transform="translate(653.20 295.27) scale(0.875 1)" text-anchor="start" font-size="14.0">-10</text>
<text transform="translate(653.20 339.30) scale(0.875 1)" text-anchor="start" font-size="14.0">-15</text>
<path d="M392.50 334.50v-2.3M392.50 202.40v2.3M451.18 334.50v-2.3M451.18 202.40v2.3M509.85 334.50v-2.3M509.85 202.40v2.3M568.52 334.50v-2.3M568.52 202.40v2.3M627.20 334.50v-2.3M627.20 202.40v2.3M392.50 317.33h2.3M627.20 317.33h-2.3M392.50 299.71h2.3M627.20 299.71h-2.3M392.50 282.10h2.3M627.20 282.10h-2.3M392.50 264.49h2.3M627.20 264.49h-2.3M392.50 246.87h2.3M627.20 246.87h-2.3M392.50 229.26h2.3M627.20 229.26h-2.3M392.50 211.65h2.3M627.20 211.65h-2.3M649.80 202.40h-1.3M649.80 246.43h-1.3M649.80 290.47h-1.3M649.80 334.50h-1.3" stroke="#262626" stroke-width="0.5" fill="none"/>
<text x="517.10" y="362.60" text-anchor="middle" font-size="12.7">x (m)</text>
<text transform="translate(365.40 268.70) rotate(-90)" text-anchor="middle" font-size="12.7">y (m)</text>
<text transform="translate(682.50 268.50) rotate(-90)" text-anchor="middle" font-size="12.7">Power (dB)</text>
<text x="432.05" y="195.70" textLength="155.6" lengthAdjust="spacingAndGlyphs" font-size="14.2">Digital Pad&#233;-Bessel (<tspan font-style="italic">P</tspan><tspan font-size="10" dy="2.6">1,2</tspan><tspan dy="-2.6">)</tspan></text>
</svg></body></html>
